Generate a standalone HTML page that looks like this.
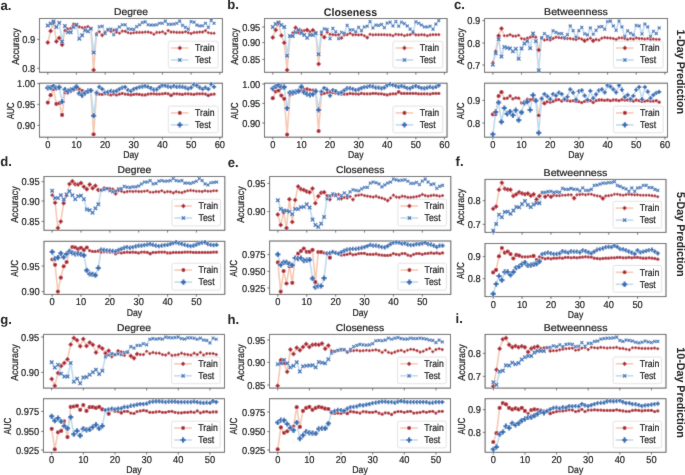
<!DOCTYPE html>
<html><head><meta charset="utf-8"><style>
html,body{margin:0;padding:0;background:#fff;width:685px;height:475px;overflow:hidden}
svg{display:block}
text{font-family:"Liberation Sans",sans-serif;text-rendering:geometricPrecision}
</style></head><body>
<svg width="685" height="475" viewBox="0 0 685 475" font-family="Liberation Sans, sans-serif"><defs><filter id="bl" filterUnits="userSpaceOnUse" x="-6" y="-6" width="697" height="487"><feConvolveMatrix order="3" kernelMatrix="1 6 1 6 36 6 1 6 1" edgeMode="duplicate" preserveAlpha="true"/></filter><filter id="tb" filterUnits="userSpaceOnUse" x="-6" y="-6" width="697" height="487"><feConvolveMatrix order="3" kernelMatrix="0 1 0 1 12 1 0 1 0" edgeMode="none" preserveAlpha="false"/></filter></defs><rect width="100%" height="100%" fill="#fff"/><g filter="url(#bl)"><rect x="-6" y="-6" width="697" height="487" fill="#fff"/><rect x="39.45" y="18.5" width="182.95" height="53.80" fill="none" stroke="#444444" stroke-width="0.95"/>
<line x1="37.150000000000006" y1="39.4" x2="39.45" y2="39.4" stroke="#444444" stroke-width="0.8"/>
<line x1="37.150000000000006" y1="68.3" x2="39.45" y2="68.3" stroke="#444444" stroke-width="0.8"/>
<line x1="47.77" y1="72.3" x2="47.77" y2="74.6" stroke="#444444" stroke-width="0.8"/>
<line x1="76.44" y1="72.3" x2="76.44" y2="74.6" stroke="#444444" stroke-width="0.8"/>
<line x1="105.12" y1="72.3" x2="105.12" y2="74.6" stroke="#444444" stroke-width="0.8"/>
<line x1="133.79" y1="72.3" x2="133.79" y2="74.6" stroke="#444444" stroke-width="0.8"/>
<line x1="162.47" y1="72.3" x2="162.47" y2="74.6" stroke="#444444" stroke-width="0.8"/>
<line x1="191.14" y1="72.3" x2="191.14" y2="74.6" stroke="#444444" stroke-width="0.8"/>
<line x1="219.82" y1="72.3" x2="219.82" y2="74.6" stroke="#444444" stroke-width="0.8"/>
<polyline points="47.8,42.6 50.6,31.0 53.5,22.6 56.4,41.5 59.2,37.9 62.1,44.8 65.0,30.6 67.8,28.8 70.7,28.4 73.6,24.0 76.4,25.1 79.3,26.9 82.2,27.7 85.0,27.4 87.9,26.5 90.8,28.4 93.6,70.0 96.5,33.5 99.4,31.8 102.2,35.3 105.1,32.1 108.0,30.2 110.9,31.3 113.7,30.2 116.6,32.1 119.5,33.2 122.3,31.0 125.2,31.3 128.1,32.8 130.9,33.2 133.8,32.8 136.7,32.5 139.5,32.5 142.4,32.5 145.3,32.1 148.1,32.1 151.0,32.8 153.9,34.2 156.7,32.5 159.6,32.5 162.5,31.8 165.3,33.5 168.2,30.6 171.1,32.1 173.9,32.1 176.8,32.5 179.7,32.5 182.5,32.5 185.4,31.8 188.3,32.8 191.1,33.5 194.0,32.5 196.9,32.5 199.7,32.1 202.6,32.1 205.5,30.6 208.3,32.8 211.2,33.2 214.1,33.2" fill="none" stroke="#f5c8b1" stroke-width="1.6" stroke-linejoin="round"/>
<polyline points="47.8,25.5 50.6,23.6 53.5,21.5 56.4,26.9 59.2,22.9 62.1,41.5 65.0,25.9 67.8,32.4 70.7,32.4 73.6,26.9 76.4,24.8 79.3,38.6 82.2,35.3 85.0,30.2 87.9,31.3 90.8,28.7 93.6,52.5 96.5,34.7 99.4,26.7 102.2,26.2 105.1,33.5 108.0,29.4 110.9,29.1 113.7,34.7 116.6,29.6 119.5,26.9 122.3,24.8 125.2,24.8 128.1,28.8 130.9,29.1 133.8,29.4 136.7,26.5 139.5,24.8 142.4,22.6 145.3,21.8 148.1,24.8 151.0,25.1 153.9,25.1 156.7,24.8 159.6,23.3 162.5,23.3 165.3,21.1 168.2,24.3 171.1,24.3 173.9,24.0 176.8,23.3 179.7,21.1 182.5,25.5 185.4,27.4 188.3,29.1 191.1,21.5 194.0,22.1 196.9,25.1 199.7,25.9 202.6,25.8 205.5,23.3 208.3,27.4 211.2,20.4 214.1,23.3" fill="none" stroke="#c0daed" stroke-width="1.6" stroke-linejoin="round"/>
<g fill="#ad2430" stroke="#fff" stroke-width="0.7" paint-order="stroke">
<path d="M47.8 40.1L50.3 42.6L47.8 45.1L45.3 42.6Z"/>
<path d="M50.6 28.5L53.1 31.0L50.6 33.5L48.1 31.0Z"/>
<path d="M53.5 20.1L56.0 22.6L53.5 25.1L51.0 22.6Z"/>
<path d="M56.4 39.0L58.9 41.5L56.4 44.0L53.9 41.5Z"/>
<path d="M59.2 35.4L61.7 37.9L59.2 40.4L56.7 37.9Z"/>
<path d="M62.1 42.3L64.6 44.8L62.1 47.3L59.6 44.8Z"/>
<path d="M65.0 28.7L66.8 30.6L65.0 32.4L63.1 30.6Z"/>
<path d="M67.8 27.0L69.7 28.8L67.8 30.7L66.0 28.8Z"/>
<path d="M70.7 26.6L72.6 28.4L70.7 30.3L68.9 28.4Z"/>
<path d="M73.6 22.2L75.4 24.0L73.6 25.9L71.7 24.0Z"/>
<path d="M76.4 23.2L78.3 25.1L76.4 26.9L74.6 25.1Z"/>
<path d="M79.3 25.1L81.2 26.9L79.3 28.8L77.5 26.9Z"/>
<path d="M82.2 25.8L84.0 27.7L82.2 29.5L80.3 27.7Z"/>
<path d="M85.0 25.5L86.9 27.4L85.0 29.2L83.2 27.4Z"/>
<path d="M87.9 24.7L89.8 26.5L87.9 28.4L86.1 26.5Z"/>
<path d="M90.8 26.6L92.6 28.4L90.8 30.3L88.9 28.4Z"/>
<path d="M93.6 67.5L96.1 70.0L93.6 72.5L91.1 70.0Z"/>
<path d="M96.5 31.7L98.4 33.5L96.5 35.4L94.7 33.5Z"/>
<path d="M99.4 29.9L101.2 31.8L99.4 33.6L97.5 31.8Z"/>
<path d="M102.2 33.1L104.4 35.3L102.2 37.4L100.1 35.3Z"/>
<path d="M105.1 30.2L107.0 32.1L105.1 33.9L103.3 32.1Z"/>
<path d="M108.0 28.3L109.8 30.2L108.0 32.0L106.1 30.2Z"/>
<path d="M110.9 29.5L112.7 31.3L110.9 33.2L109.0 31.3Z"/>
<path d="M113.7 28.3L115.6 30.2L113.7 32.0L111.9 30.2Z"/>
<path d="M116.6 30.2L118.4 32.1L116.6 33.9L114.7 32.1Z"/>
<path d="M119.5 31.4L121.3 33.2L119.5 35.1L117.6 33.2Z"/>
<path d="M122.3 29.2L124.2 31.0L122.3 32.9L120.5 31.0Z"/>
<path d="M125.2 29.5L127.0 31.3L125.2 33.2L123.3 31.3Z"/>
<path d="M128.1 30.9L129.9 32.8L128.1 34.6L126.2 32.8Z"/>
<path d="M130.9 31.4L132.8 33.2L130.9 35.1L129.1 33.2Z"/>
<path d="M133.8 30.9L135.6 32.8L133.8 34.6L131.9 32.8Z"/>
<path d="M136.7 30.6L138.5 32.5L136.7 34.3L134.8 32.5Z"/>
<path d="M139.5 30.6L141.4 32.5L139.5 34.3L137.7 32.5Z"/>
<path d="M142.4 30.6L144.2 32.5L142.4 34.3L140.5 32.5Z"/>
<path d="M145.3 30.2L147.1 32.1L145.3 33.9L143.4 32.1Z"/>
<path d="M148.1 30.2L150.0 32.1L148.1 33.9L146.3 32.1Z"/>
<path d="M151.0 30.9L152.8 32.8L151.0 34.6L149.1 32.8Z"/>
<path d="M153.9 32.4L155.7 34.2L153.9 36.1L152.0 34.2Z"/>
<path d="M156.7 30.6L158.6 32.5L156.7 34.3L154.9 32.5Z"/>
<path d="M159.6 30.6L161.5 32.5L159.6 34.3L157.8 32.5Z"/>
<path d="M162.5 29.9L164.3 31.8L162.5 33.6L160.6 31.8Z"/>
<path d="M165.3 31.7L167.2 33.5L165.3 35.4L163.5 33.5Z"/>
<path d="M168.2 28.7L170.1 30.6L168.2 32.4L166.4 30.6Z"/>
<path d="M171.1 30.2L172.9 32.1L171.1 33.9L169.2 32.1Z"/>
<path d="M173.9 30.2L175.8 32.1L173.9 33.9L172.1 32.1Z"/>
<path d="M176.8 30.6L178.7 32.5L176.8 34.3L175.0 32.5Z"/>
<path d="M179.7 30.6L181.5 32.5L179.7 34.3L177.8 32.5Z"/>
<path d="M182.5 30.6L184.4 32.5L182.5 34.3L180.7 32.5Z"/>
<path d="M185.4 29.9L187.3 31.8L185.4 33.6L183.6 31.8Z"/>
<path d="M188.3 30.9L190.1 32.8L188.3 34.6L186.4 32.8Z"/>
<path d="M191.1 31.7L193.0 33.5L191.1 35.4L189.3 33.5Z"/>
<path d="M194.0 30.6L195.9 32.5L194.0 34.3L192.2 32.5Z"/>
<path d="M196.9 30.6L198.7 32.5L196.9 34.3L195.0 32.5Z"/>
<path d="M199.7 30.2L201.6 32.1L199.7 33.9L197.9 32.1Z"/>
<path d="M202.6 30.2L204.5 32.1L202.6 33.9L200.8 32.1Z"/>
<path d="M205.5 28.7L207.3 30.6L205.5 32.4L203.6 30.6Z"/>
<path d="M208.3 30.9L210.2 32.8L208.3 34.6L206.5 32.8Z"/>
<path d="M211.2 31.4L213.1 33.2L211.2 35.1L209.4 33.2Z"/>
<path d="M214.1 31.4L215.9 33.2L214.1 35.1L212.2 33.2Z"/>
</g>
<g fill="#336db4" stroke="#fff" stroke-width="0.7" paint-order="stroke">
<path d="M46.5 23.2L47.8 24.5L49.1 23.2L50.0 24.2L48.7 25.5L50.0 26.8L49.1 27.7L47.8 26.4L46.5 27.7L45.5 26.8L46.8 25.5L45.5 24.2Z"/>
<path d="M49.3 21.3L50.6 22.6L51.9 21.3L52.9 22.3L51.6 23.6L52.9 24.9L51.9 25.8L50.6 24.5L49.3 25.8L48.4 24.9L49.7 23.6L48.4 22.3Z"/>
<path d="M52.2 19.3L53.5 20.6L54.8 19.3L55.8 20.2L54.4 21.5L55.8 22.9L54.8 23.8L53.5 22.5L52.2 23.8L51.3 22.9L52.6 21.5L51.3 20.2Z"/>
<path d="M55.1 24.7L56.4 26.0L57.7 24.7L58.6 25.6L57.3 26.9L58.6 28.3L57.7 29.2L56.4 27.9L55.1 29.2L54.1 28.3L55.4 26.9L54.1 25.6Z"/>
<path d="M57.9 20.6L59.2 21.9L60.5 20.6L61.5 21.6L60.2 22.9L61.5 24.2L60.5 25.1L59.2 23.8L57.9 25.1L57.0 24.2L58.3 22.9L57.0 21.6Z"/>
<path d="M60.8 39.3L62.1 40.6L63.4 39.3L64.4 40.2L63.0 41.5L64.4 42.9L63.4 43.8L62.1 42.5L60.8 43.8L59.9 42.9L61.2 41.5L59.9 40.2Z"/>
<path d="M63.7 23.7L65.0 25.0L66.3 23.7L67.2 24.6L65.9 25.9L67.2 27.2L66.3 28.2L65.0 26.9L63.7 28.2L62.7 27.2L64.0 25.9L62.7 24.6Z"/>
<path d="M66.5 30.1L67.8 31.4L69.1 30.1L70.1 31.0L68.8 32.4L70.1 33.7L69.1 34.6L67.8 33.3L66.5 34.6L65.6 33.7L66.9 32.4L65.6 31.0Z"/>
<path d="M69.4 30.1L70.7 31.4L72.0 30.1L73.0 31.0L71.7 32.4L73.0 33.7L72.0 34.6L70.7 33.3L69.4 34.6L68.5 33.7L69.8 32.4L68.5 31.0Z"/>
<path d="M72.3 24.7L73.6 26.0L74.9 24.7L75.8 25.6L74.5 26.9L75.8 28.3L74.9 29.2L73.6 27.9L72.3 29.2L71.3 28.3L72.6 26.9L71.3 25.6Z"/>
<path d="M75.1 22.5L76.4 23.8L77.7 22.5L78.7 23.5L77.4 24.8L78.7 26.1L77.7 27.0L76.4 25.7L75.1 27.0L74.2 26.1L75.5 24.8L74.2 23.5Z"/>
<path d="M78.0 36.4L79.3 37.7L80.6 36.4L81.6 37.3L80.3 38.6L81.6 39.9L80.6 40.9L79.3 39.6L78.0 40.9L77.1 39.9L78.4 38.6L77.1 37.3Z"/>
<path d="M80.9 33.0L82.2 34.3L83.5 33.0L84.4 34.0L83.1 35.3L84.4 36.6L83.5 37.5L82.2 36.2L80.9 37.5L79.9 36.6L81.2 35.3L79.9 34.0Z"/>
<path d="M83.7 27.9L85.0 29.2L86.3 27.9L87.3 28.9L86.0 30.2L87.3 31.5L86.3 32.4L85.0 31.1L83.7 32.4L82.8 31.5L84.1 30.2L82.8 28.9Z"/>
<path d="M86.6 29.1L87.9 30.4L89.2 29.1L90.2 30.0L88.9 31.3L90.2 32.6L89.2 33.6L87.9 32.3L86.6 33.6L85.7 32.6L87.0 31.3L85.7 30.0Z"/>
<path d="M89.5 26.5L90.8 27.8L92.1 26.5L93.0 27.4L91.7 28.7L93.0 30.0L92.1 31.0L90.8 29.6L89.5 31.0L88.5 30.0L89.8 28.7L88.5 27.4Z"/>
<path d="M92.3 50.2L93.6 51.6L95.0 50.2L95.9 51.2L94.6 52.5L95.9 53.8L95.0 54.7L93.6 53.4L92.3 54.7L91.4 53.8L92.7 52.5L91.4 51.2Z"/>
<path d="M95.4 32.8L96.5 33.9L97.6 32.8L98.4 33.6L97.3 34.7L98.4 35.8L97.6 36.5L96.5 35.5L95.4 36.5L94.7 35.8L95.7 34.7L94.7 33.6Z"/>
<path d="M98.3 24.8L99.4 25.9L100.5 24.8L101.2 25.6L100.2 26.7L101.2 27.7L100.5 28.5L99.4 27.4L98.3 28.5L97.5 27.7L98.6 26.7L97.5 25.6Z"/>
<path d="M101.2 24.4L102.2 25.4L103.3 24.4L104.1 25.1L103.0 26.2L104.1 27.3L103.3 28.1L102.2 27.0L101.2 28.1L100.4 27.3L101.5 26.2L100.4 25.1Z"/>
<path d="M104.0 31.7L105.1 32.7L106.2 31.7L107.0 32.4L105.9 33.5L107.0 34.6L106.2 35.4L105.1 34.3L104.0 35.4L103.3 34.6L104.3 33.5L103.3 32.4Z"/>
<path d="M106.9 27.6L108.0 28.7L109.1 27.6L109.8 28.4L108.8 29.4L109.8 30.5L109.1 31.3L108.0 30.2L106.9 31.3L106.1 30.5L107.2 29.4L106.1 28.4Z"/>
<path d="M109.8 27.3L110.9 28.4L111.9 27.3L112.7 28.1L111.6 29.1L112.7 30.2L111.9 31.0L110.9 29.9L109.8 31.0L109.0 30.2L110.1 29.1L109.0 28.1Z"/>
<path d="M112.6 32.8L113.7 33.9L114.8 32.8L115.6 33.6L114.5 34.7L115.6 35.8L114.8 36.5L113.7 35.5L112.6 36.5L111.9 35.8L112.9 34.7L111.9 33.6Z"/>
<path d="M115.5 27.7L116.6 28.8L117.7 27.7L118.4 28.5L117.4 29.6L118.4 30.6L117.7 31.4L116.6 30.4L115.5 31.4L114.7 30.6L115.8 29.6L114.7 28.5Z"/>
<path d="M118.4 25.1L119.5 26.2L120.5 25.1L121.3 25.9L120.2 26.9L121.3 28.0L120.5 28.8L119.5 27.7L118.4 28.8L117.6 28.0L118.7 26.9L117.6 25.9Z"/>
<path d="M121.2 22.9L122.3 24.0L123.4 22.9L124.2 23.7L123.1 24.8L124.2 25.8L123.4 26.6L122.3 25.5L121.2 26.6L120.5 25.8L121.5 24.8L120.5 23.7Z"/>
<path d="M124.1 22.9L125.2 24.0L126.3 22.9L127.0 23.7L126.0 24.8L127.0 25.8L126.3 26.6L125.2 25.5L124.1 26.6L123.3 25.8L124.4 24.8L123.3 23.7Z"/>
<path d="M127.0 27.0L128.1 28.1L129.1 27.0L129.9 27.8L128.8 28.8L129.9 29.9L129.1 30.7L128.1 29.6L127.0 30.7L126.2 29.9L127.3 28.8L126.2 27.8Z"/>
<path d="M129.9 27.3L130.9 28.4L132.0 27.3L132.8 28.1L131.7 29.1L132.8 30.2L132.0 31.0L130.9 29.9L129.9 31.0L129.1 30.2L130.1 29.1L129.1 28.1Z"/>
<path d="M132.7 27.6L133.8 28.7L134.9 27.6L135.6 28.4L134.6 29.4L135.6 30.5L134.9 31.3L133.8 30.2L132.7 31.3L131.9 30.5L133.0 29.4L131.9 28.4Z"/>
<path d="M135.6 24.7L136.7 25.7L137.7 24.7L138.5 25.4L137.4 26.5L138.5 27.6L137.7 28.4L136.7 27.3L135.6 28.4L134.8 27.6L135.9 26.5L134.8 25.4Z"/>
<path d="M138.5 22.9L139.5 24.0L140.6 22.9L141.4 23.7L140.3 24.8L141.4 25.8L140.6 26.6L139.5 25.5L138.5 26.6L137.7 25.8L138.8 24.8L137.7 23.7Z"/>
<path d="M141.3 20.7L142.4 21.8L143.5 20.7L144.2 21.5L143.2 22.6L144.2 23.6L143.5 24.4L142.4 23.3L141.3 24.4L140.5 23.6L141.6 22.6L140.5 21.5Z"/>
<path d="M144.2 20.0L145.3 21.1L146.3 20.0L147.1 20.8L146.0 21.8L147.1 22.9L146.3 23.7L145.3 22.6L144.2 23.7L143.4 22.9L144.5 21.8L143.4 20.8Z"/>
<path d="M147.1 22.9L148.1 24.0L149.2 22.9L150.0 23.7L148.9 24.8L150.0 25.8L149.2 26.6L148.1 25.5L147.1 26.6L146.3 25.8L147.4 24.8L146.3 23.7Z"/>
<path d="M149.9 23.2L151.0 24.3L152.1 23.2L152.8 24.0L151.8 25.1L152.8 26.1L152.1 26.9L151.0 25.8L149.9 26.9L149.1 26.1L150.2 25.1L149.1 24.0Z"/>
<path d="M152.8 23.2L153.9 24.3L154.9 23.2L155.7 24.0L154.6 25.1L155.7 26.1L154.9 26.9L153.9 25.8L152.8 26.9L152.0 26.1L153.1 25.1L152.0 24.0Z"/>
<path d="M155.7 22.9L156.7 24.0L157.8 22.9L158.6 23.7L157.5 24.8L158.6 25.8L157.8 26.6L156.7 25.5L155.7 26.6L154.9 25.8L156.0 24.8L154.9 23.7Z"/>
<path d="M158.5 21.4L159.6 22.5L160.7 21.4L161.5 22.2L160.4 23.3L161.5 24.4L160.7 25.1L159.6 24.1L158.5 25.1L157.8 24.4L158.8 23.3L157.8 22.2Z"/>
<path d="M161.4 21.4L162.5 22.5L163.5 21.4L164.3 22.2L163.2 23.3L164.3 24.4L163.5 25.1L162.5 24.1L161.4 25.1L160.6 24.4L161.7 23.3L160.6 22.2Z"/>
<path d="M164.3 19.3L165.3 20.3L166.4 19.3L167.2 20.0L166.1 21.1L167.2 22.2L166.4 23.0L165.3 21.9L164.3 23.0L163.5 22.2L164.6 21.1L163.5 20.0Z"/>
<path d="M167.1 22.5L168.2 23.5L169.3 22.5L170.1 23.2L169.0 24.3L170.1 25.4L169.3 26.2L168.2 25.1L167.1 26.2L166.4 25.4L167.4 24.3L166.4 23.2Z"/>
<path d="M170.0 22.5L171.1 23.5L172.1 22.5L172.9 23.2L171.8 24.3L172.9 25.4L172.1 26.2L171.1 25.1L170.0 26.2L169.2 25.4L170.3 24.3L169.2 23.2Z"/>
<path d="M172.9 22.2L173.9 23.3L175.0 22.2L175.8 23.0L174.7 24.0L175.8 25.1L175.0 25.9L173.9 24.8L172.9 25.9L172.1 25.1L173.2 24.0L172.1 23.0Z"/>
<path d="M175.7 21.4L176.8 22.5L177.9 21.4L178.7 22.2L177.6 23.3L178.7 24.4L177.9 25.1L176.8 24.1L175.7 25.1L175.0 24.4L176.0 23.3L175.0 22.2Z"/>
<path d="M178.6 19.3L179.7 20.3L180.7 19.3L181.5 20.0L180.5 21.1L181.5 22.2L180.7 23.0L179.7 21.9L178.6 23.0L177.8 22.2L178.9 21.1L177.8 20.0Z"/>
<path d="M181.5 23.6L182.5 24.7L183.6 23.6L184.4 24.4L183.3 25.5L184.4 26.6L183.6 27.3L182.5 26.3L181.5 27.3L180.7 26.6L181.8 25.5L180.7 24.4Z"/>
<path d="M184.3 25.5L185.4 26.6L186.5 25.5L187.3 26.3L186.2 27.4L187.3 28.5L186.5 29.2L185.4 28.2L184.3 29.2L183.6 28.5L184.6 27.4L183.6 26.3Z"/>
<path d="M187.2 27.3L188.3 28.4L189.3 27.3L190.1 28.1L189.1 29.1L190.1 30.2L189.3 31.0L188.3 29.9L187.2 31.0L186.4 30.2L187.5 29.1L186.4 28.1Z"/>
<path d="M190.1 19.7L191.1 20.8L192.2 19.7L193.0 20.5L191.9 21.5L193.0 22.6L192.2 23.4L191.1 22.3L190.1 23.4L189.3 22.6L190.4 21.5L189.3 20.5Z"/>
<path d="M192.9 20.3L194.0 21.4L195.1 20.3L195.9 21.1L194.8 22.1L195.9 23.2L195.1 24.0L194.0 22.9L192.9 24.0L192.2 23.2L193.2 22.1L192.2 21.1Z"/>
<path d="M195.8 23.2L196.9 24.3L198.0 23.2L198.7 24.0L197.7 25.1L198.7 26.1L198.0 26.9L196.9 25.8L195.8 26.9L195.0 26.1L196.1 25.1L195.0 24.0Z"/>
<path d="M198.7 24.1L199.7 25.2L200.8 24.1L201.6 24.9L200.5 25.9L201.6 27.0L200.8 27.8L199.7 26.7L198.7 27.8L197.9 27.0L199.0 25.9L197.9 24.9Z"/>
<path d="M201.5 23.9L202.6 25.0L203.7 23.9L204.5 24.7L203.4 25.8L204.5 26.9L203.7 27.6L202.6 26.6L201.5 27.6L200.8 26.9L201.8 25.8L200.8 24.7Z"/>
<path d="M204.4 21.4L205.5 22.5L206.6 21.4L207.3 22.2L206.3 23.3L207.3 24.4L206.6 25.1L205.5 24.1L204.4 25.1L203.6 24.4L204.7 23.3L203.6 22.2Z"/>
<path d="M207.3 25.5L208.3 26.6L209.4 25.5L210.2 26.3L209.1 27.4L210.2 28.5L209.4 29.2L208.3 28.2L207.3 29.2L206.5 28.5L207.6 27.4L206.5 26.3Z"/>
<path d="M210.1 18.5L211.2 19.6L212.3 18.5L213.1 19.3L212.0 20.4L213.1 21.5L212.3 22.2L211.2 21.2L210.1 22.2L209.4 21.5L210.4 20.4L209.4 19.3Z"/>
<path d="M213.0 21.4L214.1 22.5L215.2 21.4L215.9 22.2L214.9 23.3L215.9 24.4L215.2 25.1L214.1 24.1L213.0 25.1L212.2 24.4L213.3 23.3L212.2 22.2Z"/>
</g>
<rect x="168.3" y="41.19999999999999" width="49.80" height="26.70" rx="1.8" fill="#fff" fill-opacity="0.8" stroke="#dadada" stroke-width="0.8"/>
<line x1="170.9" y1="48.00" x2="188.5" y2="48.00" stroke="#f5c8b1" stroke-width="1.6"/>
<path d="M179.8 45.6L182.2 48.0L179.8 50.4L177.4 48.0Z" fill="#ad2430" stroke="#fff" stroke-width="0.7" paint-order="stroke"/>
<line x1="170.9" y1="60.00" x2="188.5" y2="60.00" stroke="#c0daed" stroke-width="1.6"/>
<path d="M178.6 57.9L179.8 59.1L181.0 57.9L181.9 58.8L180.7 60.0L181.9 61.2L181.0 62.1L179.8 60.9L178.6 62.1L177.7 61.2L178.9 60.0L177.7 58.8Z" fill="#336db4" stroke="#fff" stroke-width="0.7" paint-order="stroke"/>
<rect x="39.45" y="83.2" width="182.95" height="54.00" fill="none" stroke="#444444" stroke-width="0.95"/>
<line x1="37.150000000000006" y1="83.6" x2="39.45" y2="83.6" stroke="#444444" stroke-width="0.8"/>
<line x1="37.150000000000006" y1="104.4" x2="39.45" y2="104.4" stroke="#444444" stroke-width="0.8"/>
<line x1="37.150000000000006" y1="125.4" x2="39.45" y2="125.4" stroke="#444444" stroke-width="0.8"/>
<line x1="47.77" y1="137.2" x2="47.77" y2="139.5" stroke="#444444" stroke-width="0.8"/>
<line x1="76.44" y1="137.2" x2="76.44" y2="139.5" stroke="#444444" stroke-width="0.8"/>
<line x1="105.12" y1="137.2" x2="105.12" y2="139.5" stroke="#444444" stroke-width="0.8"/>
<line x1="133.79" y1="137.2" x2="133.79" y2="139.5" stroke="#444444" stroke-width="0.8"/>
<line x1="162.47" y1="137.2" x2="162.47" y2="139.5" stroke="#444444" stroke-width="0.8"/>
<line x1="191.14" y1="137.2" x2="191.14" y2="139.5" stroke="#444444" stroke-width="0.8"/>
<line x1="219.82" y1="137.2" x2="219.82" y2="139.5" stroke="#444444" stroke-width="0.8"/>
<polyline points="47.8,102.6 50.6,95.2 53.5,89.0 56.4,103.9 59.2,103.2 62.1,114.9 65.0,92.7 67.8,93.1 70.7,91.7 73.6,90.1 76.4,89.0 79.3,89.0 82.2,90.5 85.0,92.4 87.9,91.2 90.8,90.5 93.6,134.3 96.5,94.1 99.4,94.1 102.2,94.4 105.1,93.8 108.0,94.1 110.9,94.9 113.7,94.1 116.6,94.9 119.5,94.1 122.3,93.4 125.2,94.1 128.1,94.4 130.9,94.9 133.8,94.4 136.7,94.1 139.5,94.4 142.4,94.9 145.3,94.9 148.1,94.1 151.0,93.8 153.9,93.8 156.7,94.1 159.6,94.1 162.5,93.8 165.3,93.4 168.2,93.8 171.1,95.3 173.9,93.8 176.8,93.8 179.7,94.1 182.5,94.4 185.4,93.8 188.3,93.8 191.1,94.1 194.0,94.4 196.9,93.8 199.7,93.8 202.6,93.8 205.5,94.1 208.3,95.3 211.2,94.4 214.1,94.1" fill="none" stroke="#f5c8b1" stroke-width="1.6" stroke-linejoin="round"/>
<polyline points="47.8,87.9 50.6,87.6 53.5,86.1 56.4,88.0 59.2,87.3 62.1,101.7 65.0,89.5 67.8,91.2 70.7,89.8 73.6,89.0 76.4,86.8 79.3,93.4 82.2,95.3 85.0,93.0 87.9,91.2 90.8,90.5 93.6,115.7 96.5,92.7 99.4,86.8 102.2,89.0 105.1,92.7 108.0,91.9 110.9,90.9 113.7,91.5 116.6,90.9 119.5,89.0 122.3,87.6 125.2,87.1 128.1,90.1 130.9,91.2 133.8,89.0 136.7,88.0 139.5,87.1 142.4,86.5 145.3,86.1 148.1,86.8 151.0,88.3 153.9,89.8 156.7,89.5 159.6,87.1 162.5,85.4 165.3,85.7 168.2,86.5 171.1,87.1 173.9,86.1 176.8,86.8 179.7,86.5 182.5,86.8 185.4,87.6 188.3,88.6 191.1,87.6 194.0,84.6 196.9,85.7 199.7,87.6 202.6,89.0 205.5,87.6 208.3,89.0 211.2,84.2 214.1,86.8" fill="none" stroke="#c0daed" stroke-width="1.6" stroke-linejoin="round"/>
<g fill="#ad2430" stroke="#fff" stroke-width="0.7" paint-order="stroke">
<circle cx="47.8" cy="102.6" r="2.10"/>
<circle cx="50.6" cy="95.2" r="2.10"/>
<circle cx="53.5" cy="89.0" r="2.10"/>
<circle cx="56.4" cy="103.9" r="2.10"/>
<circle cx="59.2" cy="103.2" r="1.85"/>
<circle cx="62.1" cy="114.9" r="2.10"/>
<circle cx="65.0" cy="92.7" r="1.65"/>
<circle cx="67.8" cy="93.1" r="1.65"/>
<circle cx="70.7" cy="91.7" r="1.65"/>
<circle cx="73.6" cy="90.1" r="1.65"/>
<circle cx="76.4" cy="89.0" r="1.65"/>
<circle cx="79.3" cy="89.0" r="1.65"/>
<circle cx="82.2" cy="90.5" r="1.65"/>
<circle cx="85.0" cy="92.4" r="1.65"/>
<circle cx="87.9" cy="91.2" r="1.65"/>
<circle cx="90.8" cy="90.5" r="1.65"/>
<circle cx="93.6" cy="134.3" r="2.10"/>
<circle cx="96.5" cy="94.1" r="1.65"/>
<circle cx="99.4" cy="94.1" r="1.65"/>
<circle cx="102.2" cy="94.4" r="1.65"/>
<circle cx="105.1" cy="93.8" r="1.65"/>
<circle cx="108.0" cy="94.1" r="1.65"/>
<circle cx="110.9" cy="94.9" r="1.65"/>
<circle cx="113.7" cy="94.1" r="1.65"/>
<circle cx="116.6" cy="94.9" r="1.65"/>
<circle cx="119.5" cy="94.1" r="1.65"/>
<circle cx="122.3" cy="93.4" r="1.65"/>
<circle cx="125.2" cy="94.1" r="1.65"/>
<circle cx="128.1" cy="94.4" r="1.65"/>
<circle cx="130.9" cy="94.9" r="1.65"/>
<circle cx="133.8" cy="94.4" r="1.65"/>
<circle cx="136.7" cy="94.1" r="1.65"/>
<circle cx="139.5" cy="94.4" r="1.65"/>
<circle cx="142.4" cy="94.9" r="1.65"/>
<circle cx="145.3" cy="94.9" r="1.65"/>
<circle cx="148.1" cy="94.1" r="1.65"/>
<circle cx="151.0" cy="93.8" r="1.65"/>
<circle cx="153.9" cy="93.8" r="1.65"/>
<circle cx="156.7" cy="94.1" r="1.65"/>
<circle cx="159.6" cy="94.1" r="1.65"/>
<circle cx="162.5" cy="93.8" r="1.65"/>
<circle cx="165.3" cy="93.4" r="1.65"/>
<circle cx="168.2" cy="93.8" r="1.65"/>
<circle cx="171.1" cy="95.3" r="1.85"/>
<circle cx="173.9" cy="93.8" r="1.65"/>
<circle cx="176.8" cy="93.8" r="1.65"/>
<circle cx="179.7" cy="94.1" r="1.65"/>
<circle cx="182.5" cy="94.4" r="1.65"/>
<circle cx="185.4" cy="93.8" r="1.65"/>
<circle cx="188.3" cy="93.8" r="1.65"/>
<circle cx="191.1" cy="94.1" r="1.65"/>
<circle cx="194.0" cy="94.4" r="1.65"/>
<circle cx="196.9" cy="93.8" r="1.65"/>
<circle cx="199.7" cy="93.8" r="1.65"/>
<circle cx="202.6" cy="93.8" r="1.65"/>
<circle cx="205.5" cy="94.1" r="1.65"/>
<circle cx="208.3" cy="95.3" r="1.85"/>
<circle cx="211.2" cy="94.4" r="1.65"/>
<circle cx="214.1" cy="94.1" r="1.65"/>
</g>
<g fill="#336db4" stroke="#fff" stroke-width="0.7" paint-order="stroke">
<path d="M46.7 85.3L48.8 85.3L48.8 86.8L50.4 86.8L50.4 88.9L48.8 88.9L48.8 90.5L46.7 90.5L46.7 88.9L45.2 88.9L45.2 86.8L46.7 86.8Z"/>
<path d="M49.6 85.0L51.7 85.0L51.7 86.5L53.2 86.5L53.2 88.6L51.7 88.6L51.7 90.2L49.6 90.2L49.6 88.6L48.0 88.6L48.0 86.5L49.6 86.5Z"/>
<path d="M52.5 83.5L54.5 83.5L54.5 85.1L56.1 85.1L56.1 87.1L54.5 87.1L54.5 88.7L52.5 88.7L52.5 87.1L50.9 87.1L50.9 85.1L52.5 85.1Z"/>
<path d="M55.3 85.4L57.4 85.4L57.4 87.0L59.0 87.0L59.0 89.0L57.4 89.0L57.4 90.6L55.3 90.6L55.3 89.0L53.8 89.0L53.8 87.0L55.3 87.0Z"/>
<path d="M58.2 84.7L60.3 84.7L60.3 86.2L61.8 86.2L61.8 88.3L60.3 88.3L60.3 89.9L58.2 89.9L58.2 88.3L56.6 88.3L56.6 86.2L58.2 86.2Z"/>
<path d="M61.1 99.1L63.1 99.1L63.1 100.7L64.7 100.7L64.7 102.8L63.1 102.8L63.1 104.3L61.1 104.3L61.1 102.8L59.5 102.8L59.5 100.7L61.1 100.7Z"/>
<path d="M63.9 86.9L66.0 86.9L66.0 88.4L67.6 88.4L67.6 90.5L66.0 90.5L66.0 92.1L63.9 92.1L63.9 90.5L62.4 90.5L62.4 88.4L63.9 88.4Z"/>
<path d="M66.8 88.6L68.9 88.6L68.9 90.2L70.4 90.2L70.4 92.3L68.9 92.3L68.9 93.8L66.8 93.8L66.8 92.3L65.2 92.3L65.2 90.2L66.8 90.2Z"/>
<path d="M69.7 87.2L71.7 87.2L71.7 88.7L73.3 88.7L73.3 90.8L71.7 90.8L71.7 92.4L69.7 92.4L69.7 90.8L68.1 90.8L68.1 88.7L69.7 88.7Z"/>
<path d="M72.5 86.4L74.6 86.4L74.6 88.0L76.2 88.0L76.2 90.1L74.6 90.1L74.6 91.6L72.5 91.6L72.5 90.1L71.0 90.1L71.0 88.0L72.5 88.0Z"/>
<path d="M75.4 84.2L77.5 84.2L77.5 85.8L79.0 85.8L79.0 87.9L77.5 87.9L77.5 89.4L75.4 89.4L75.4 87.9L73.8 87.9L73.8 85.8L75.4 85.8Z"/>
<path d="M78.3 90.8L80.3 90.8L80.3 92.4L81.9 92.4L81.9 94.4L80.3 94.4L80.3 96.0L78.3 96.0L78.3 94.4L76.7 94.4L76.7 92.4L78.3 92.4Z"/>
<path d="M81.1 92.7L83.2 92.7L83.2 94.3L84.8 94.3L84.8 96.3L83.2 96.3L83.2 97.9L81.1 97.9L81.1 96.3L79.6 96.3L79.6 94.3L81.1 94.3Z"/>
<path d="M84.0 90.4L86.1 90.4L86.1 91.9L87.6 91.9L87.6 94.0L86.1 94.0L86.1 95.6L84.0 95.6L84.0 94.0L82.4 94.0L82.4 91.9L84.0 91.9Z"/>
<path d="M86.9 88.6L89.0 88.6L89.0 90.2L90.5 90.2L90.5 92.3L89.0 92.3L89.0 93.8L86.9 93.8L86.9 92.3L85.3 92.3L85.3 90.2L86.9 90.2Z"/>
<path d="M89.7 87.9L91.8 87.9L91.8 89.4L93.4 89.4L93.4 91.5L91.8 91.5L91.8 93.1L89.7 93.1L89.7 91.5L88.2 91.5L88.2 89.4L89.7 89.4Z"/>
<path d="M92.6 113.1L94.7 113.1L94.7 114.7L96.2 114.7L96.2 116.8L94.7 116.8L94.7 118.3L92.6 118.3L92.6 116.8L91.0 116.8L91.0 114.7L92.6 114.7Z"/>
<path d="M95.7 90.5L97.4 90.5L97.4 91.8L98.7 91.8L98.7 93.5L97.4 93.5L97.4 94.8L95.7 94.8L95.7 93.5L94.4 93.5L94.4 91.8L95.7 91.8Z"/>
<path d="M98.5 84.7L100.2 84.7L100.2 86.0L101.5 86.0L101.5 87.7L100.2 87.7L100.2 89.0L98.5 89.0L98.5 87.7L97.2 87.7L97.2 86.0L98.5 86.0Z"/>
<path d="M101.4 86.9L103.1 86.9L103.1 88.2L104.4 88.2L104.4 89.9L103.1 89.9L103.1 91.2L101.4 91.2L101.4 89.9L100.1 89.9L100.1 88.2L101.4 88.2Z"/>
<path d="M104.3 90.5L106.0 90.5L106.0 91.8L107.3 91.8L107.3 93.5L106.0 93.5L106.0 94.8L104.3 94.8L104.3 93.5L103.0 93.5L103.0 91.8L104.3 91.8Z"/>
<path d="M107.1 89.8L108.8 89.8L108.8 91.1L110.1 91.1L110.1 92.8L108.8 92.8L108.8 94.1L107.1 94.1L107.1 92.8L105.8 92.8L105.8 91.1L107.1 91.1Z"/>
<path d="M110.0 88.8L111.7 88.8L111.7 90.1L113.0 90.1L113.0 91.8L111.7 91.8L111.7 93.1L110.0 93.1L110.0 91.8L108.7 91.8L108.7 90.1L110.0 90.1Z"/>
<path d="M112.9 89.4L114.6 89.4L114.6 90.7L115.9 90.7L115.9 92.4L114.6 92.4L114.6 93.7L112.9 93.7L112.9 92.4L111.6 92.4L111.6 90.7L112.9 90.7Z"/>
<path d="M115.7 88.8L117.4 88.8L117.4 90.1L118.7 90.1L118.7 91.8L117.4 91.8L117.4 93.1L115.7 93.1L115.7 91.8L114.4 91.8L114.4 90.1L115.7 90.1Z"/>
<path d="M118.6 86.9L120.3 86.9L120.3 88.2L121.6 88.2L121.6 89.9L120.3 89.9L120.3 91.2L118.6 91.2L118.6 89.9L117.3 89.9L117.3 88.2L118.6 88.2Z"/>
<path d="M121.5 85.4L123.2 85.4L123.2 86.7L124.5 86.7L124.5 88.4L123.2 88.4L123.2 89.7L121.5 89.7L121.5 88.4L120.2 88.4L120.2 86.7L121.5 86.7Z"/>
<path d="M124.3 85.0L126.0 85.0L126.0 86.3L127.3 86.3L127.3 88.0L126.0 88.0L126.0 89.3L124.3 89.3L124.3 88.0L123.0 88.0L123.0 86.3L124.3 86.3Z"/>
<path d="M127.2 87.9L128.9 87.9L128.9 89.2L130.2 89.2L130.2 90.9L128.9 90.9L128.9 92.2L127.2 92.2L127.2 90.9L125.9 90.9L125.9 89.2L127.2 89.2Z"/>
<path d="M130.1 89.1L131.8 89.1L131.8 90.4L133.1 90.4L133.1 92.1L131.8 92.1L131.8 93.4L130.1 93.4L130.1 92.1L128.8 92.1L128.8 90.4L130.1 90.4Z"/>
<path d="M132.9 86.9L134.7 86.9L134.7 88.2L135.9 88.2L135.9 89.9L134.7 89.9L134.7 91.2L132.9 91.2L132.9 89.9L131.6 89.9L131.6 88.2L132.9 88.2Z"/>
<path d="M135.8 85.9L137.5 85.9L137.5 87.1L138.8 87.1L138.8 88.9L137.5 88.9L137.5 90.2L135.8 90.2L135.8 88.9L134.5 88.9L134.5 87.1L135.8 87.1Z"/>
<path d="M138.7 85.0L140.4 85.0L140.4 86.3L141.7 86.3L141.7 88.0L140.4 88.0L140.4 89.3L138.7 89.3L138.7 88.0L137.4 88.0L137.4 86.3L138.7 86.3Z"/>
<path d="M141.5 84.4L143.3 84.4L143.3 85.7L144.5 85.7L144.5 87.4L143.3 87.4L143.3 88.7L141.5 88.7L141.5 87.4L140.2 87.4L140.2 85.7L141.5 85.7Z"/>
<path d="M144.4 84.0L146.1 84.0L146.1 85.2L147.4 85.2L147.4 87.0L146.1 87.0L146.1 88.3L144.4 88.3L144.4 87.0L143.1 87.0L143.1 85.2L144.4 85.2Z"/>
<path d="M147.3 84.7L149.0 84.7L149.0 86.0L150.3 86.0L150.3 87.7L149.0 87.7L149.0 89.0L147.3 89.0L147.3 87.7L146.0 87.7L146.0 86.0L147.3 86.0Z"/>
<path d="M150.1 86.1L151.9 86.1L151.9 87.4L153.1 87.4L153.1 89.2L151.9 89.2L151.9 90.4L150.1 90.4L150.1 89.2L148.8 89.2L148.8 87.4L150.1 87.4Z"/>
<path d="M153.0 87.6L154.7 87.6L154.7 88.9L156.0 88.9L156.0 90.6L154.7 90.6L154.7 91.9L153.0 91.9L153.0 90.6L151.7 90.6L151.7 88.9L153.0 88.9Z"/>
<path d="M155.9 87.3L157.6 87.3L157.6 88.6L158.9 88.6L158.9 90.3L157.6 90.3L157.6 91.6L155.9 91.6L155.9 90.3L154.6 90.3L154.6 88.6L155.9 88.6Z"/>
<path d="M158.7 85.0L160.5 85.0L160.5 86.3L161.8 86.3L161.8 88.0L160.5 88.0L160.5 89.3L158.7 89.3L158.7 88.0L157.5 88.0L157.5 86.3L158.7 86.3Z"/>
<path d="M161.6 83.2L163.3 83.2L163.3 84.5L164.6 84.5L164.6 86.2L163.3 86.2L163.3 87.5L161.6 87.5L161.6 86.2L160.3 86.2L160.3 84.5L161.6 84.5Z"/>
<path d="M164.5 83.5L166.2 83.5L166.2 84.8L167.5 84.8L167.5 86.5L166.2 86.5L166.2 87.8L164.5 87.8L164.5 86.5L163.2 86.5L163.2 84.8L164.5 84.8Z"/>
<path d="M167.3 84.4L169.1 84.4L169.1 85.7L170.4 85.7L170.4 87.4L169.1 87.4L169.1 88.7L167.3 88.7L167.3 87.4L166.1 87.4L166.1 85.7L167.3 85.7Z"/>
<path d="M170.2 85.0L171.9 85.0L171.9 86.3L173.2 86.3L173.2 88.0L171.9 88.0L171.9 89.3L170.2 89.3L170.2 88.0L168.9 88.0L168.9 86.3L170.2 86.3Z"/>
<path d="M173.1 84.0L174.8 84.0L174.8 85.2L176.1 85.2L176.1 87.0L174.8 87.0L174.8 88.3L173.1 88.3L173.1 87.0L171.8 87.0L171.8 85.2L173.1 85.2Z"/>
<path d="M175.9 84.7L177.7 84.7L177.7 86.0L179.0 86.0L179.0 87.7L177.7 87.7L177.7 89.0L175.9 89.0L175.9 87.7L174.7 87.7L174.7 86.0L175.9 86.0Z"/>
<path d="M178.8 84.4L180.5 84.4L180.5 85.7L181.8 85.7L181.8 87.4L180.5 87.4L180.5 88.7L178.8 88.7L178.8 87.4L177.5 87.4L177.5 85.7L178.8 85.7Z"/>
<path d="M181.7 84.7L183.4 84.7L183.4 86.0L184.7 86.0L184.7 87.7L183.4 87.7L183.4 89.0L181.7 89.0L181.7 87.7L180.4 87.7L180.4 86.0L181.7 86.0Z"/>
<path d="M184.5 85.4L186.3 85.4L186.3 86.7L187.6 86.7L187.6 88.4L186.3 88.4L186.3 89.7L184.5 89.7L184.5 88.4L183.3 88.4L183.3 86.7L184.5 86.7Z"/>
<path d="M187.4 86.4L189.1 86.4L189.1 87.7L190.4 87.7L190.4 89.5L189.1 89.5L189.1 90.7L187.4 90.7L187.4 89.5L186.1 89.5L186.1 87.7L187.4 87.7Z"/>
<path d="M190.3 85.4L192.0 85.4L192.0 86.7L193.3 86.7L193.3 88.4L192.0 88.4L192.0 89.7L190.3 89.7L190.3 88.4L189.0 88.4L189.0 86.7L190.3 86.7Z"/>
<path d="M193.2 82.5L194.9 82.5L194.9 83.8L196.2 83.8L196.2 85.5L194.9 85.5L194.9 86.8L193.2 86.8L193.2 85.5L191.9 85.5L191.9 83.8L193.2 83.8Z"/>
<path d="M196.0 83.5L197.7 83.5L197.7 84.8L199.0 84.8L199.0 86.5L197.7 86.5L197.7 87.8L196.0 87.8L196.0 86.5L194.7 86.5L194.7 84.8L196.0 84.8Z"/>
<path d="M198.9 85.4L200.6 85.4L200.6 86.7L201.9 86.7L201.9 88.4L200.6 88.4L200.6 89.7L198.9 89.7L198.9 88.4L197.6 88.4L197.6 86.7L198.9 86.7Z"/>
<path d="M201.8 86.9L203.5 86.9L203.5 88.2L204.8 88.2L204.8 89.9L203.5 89.9L203.5 91.2L201.8 91.2L201.8 89.9L200.5 89.9L200.5 88.2L201.8 88.2Z"/>
<path d="M204.6 85.4L206.3 85.4L206.3 86.7L207.6 86.7L207.6 88.4L206.3 88.4L206.3 89.7L204.6 89.7L204.6 88.4L203.3 88.4L203.3 86.7L204.6 86.7Z"/>
<path d="M207.5 86.9L209.2 86.9L209.2 88.2L210.5 88.2L210.5 89.9L209.2 89.9L209.2 91.2L207.5 91.2L207.5 89.9L206.2 89.9L206.2 88.2L207.5 88.2Z"/>
<path d="M210.4 82.1L212.1 82.1L212.1 83.4L213.4 83.4L213.4 85.1L212.1 85.1L212.1 86.4L210.4 86.4L210.4 85.1L209.1 85.1L209.1 83.4L210.4 83.4Z"/>
<path d="M213.2 84.7L214.9 84.7L214.9 86.0L216.2 86.0L216.2 87.7L214.9 87.7L214.9 89.0L213.2 89.0L213.2 87.7L211.9 87.7L211.9 86.0L213.2 86.0Z"/>
</g>
<rect x="168.3" y="106.09999999999998" width="49.80" height="26.70" rx="1.8" fill="#fff" fill-opacity="0.8" stroke="#dadada" stroke-width="0.8"/>
<line x1="170.9" y1="112.90" x2="188.5" y2="112.90" stroke="#f5c8b1" stroke-width="1.6"/>
<circle cx="179.80" cy="112.90" r="2.05" fill="#ad2430" stroke="#fff" stroke-width="0.7" paint-order="stroke"/>
<line x1="170.9" y1="124.90" x2="188.5" y2="124.90" stroke="#c0daed" stroke-width="1.6"/>
<path d="M178.7 122.2L180.9 122.2L180.9 123.8L182.5 123.8L182.5 126.0L180.9 126.0L180.9 127.6L178.7 127.6L178.7 126.0L177.1 126.0L177.1 123.8L178.7 123.8Z" fill="#336db4" stroke="#fff" stroke-width="0.7" paint-order="stroke"/>
<rect x="264.5" y="18.5" width="182.55" height="53.80" fill="none" stroke="#444444" stroke-width="0.95"/>
<line x1="262.2" y1="27.0" x2="264.5" y2="27.0" stroke="#444444" stroke-width="0.8"/>
<line x1="262.2" y1="42.6" x2="264.5" y2="42.6" stroke="#444444" stroke-width="0.8"/>
<line x1="262.2" y1="59.4" x2="264.5" y2="59.4" stroke="#444444" stroke-width="0.8"/>
<line x1="272.80" y1="72.3" x2="272.80" y2="74.6" stroke="#444444" stroke-width="0.8"/>
<line x1="301.41" y1="72.3" x2="301.41" y2="74.6" stroke="#444444" stroke-width="0.8"/>
<line x1="330.02" y1="72.3" x2="330.02" y2="74.6" stroke="#444444" stroke-width="0.8"/>
<line x1="358.64" y1="72.3" x2="358.64" y2="74.6" stroke="#444444" stroke-width="0.8"/>
<line x1="387.25" y1="72.3" x2="387.25" y2="74.6" stroke="#444444" stroke-width="0.8"/>
<line x1="415.86" y1="72.3" x2="415.86" y2="74.6" stroke="#444444" stroke-width="0.8"/>
<line x1="444.47" y1="72.3" x2="444.47" y2="74.6" stroke="#444444" stroke-width="0.8"/>
<polyline points="272.8,37.5 275.7,29.9 278.5,23.3 281.4,35.4 284.2,42.7 287.1,70.0 290.0,36.4 292.8,32.8 295.7,27.7 298.5,32.8 301.4,30.6 304.3,30.6 307.1,29.9 310.0,31.8 312.9,30.3 315.7,32.8 318.6,63.9 321.4,34.7 324.3,37.2 327.2,32.1 330.0,34.2 332.9,34.7 335.7,35.0 338.6,34.7 341.5,37.9 344.3,35.0 347.2,34.7 350.1,33.2 352.9,35.0 355.8,34.7 358.6,35.0 361.5,34.7 364.4,35.7 367.2,37.6 370.1,34.2 372.9,35.0 375.8,34.7 378.7,34.7 381.5,34.7 384.4,34.7 387.2,35.0 390.1,35.0 393.0,35.7 395.8,34.2 398.7,34.7 401.6,34.7 404.4,35.7 407.3,35.0 410.1,34.7 413.0,33.2 415.9,35.0 418.7,35.0 421.6,34.7 424.4,35.0 427.3,35.7 430.2,35.0 433.0,34.7 435.9,34.7 438.8,34.7" fill="none" stroke="#f5c8b1" stroke-width="1.6" stroke-linejoin="round"/>
<polyline points="272.8,26.9 275.7,24.0 278.5,22.6 281.4,25.1 284.2,26.9 287.1,55.7 290.0,36.0 292.8,36.0 295.7,32.4 298.5,29.9 301.4,33.2 304.3,35.0 307.1,37.9 310.0,35.0 312.9,35.0 315.7,33.2 318.6,54.2 321.4,32.1 324.3,28.8 327.2,29.4 330.0,38.6 332.9,28.4 335.7,31.8 338.6,38.6 341.5,32.4 344.3,33.2 347.2,25.5 350.1,29.9 352.9,29.9 355.8,31.8 358.6,27.4 361.5,30.6 364.4,26.9 367.2,26.2 370.1,21.5 372.9,28.0 375.8,25.1 378.7,25.5 381.5,24.5 384.4,27.7 387.2,23.0 390.1,22.1 393.0,25.9 395.8,21.5 398.7,26.2 401.6,22.1 404.4,23.6 407.3,25.9 410.1,29.1 413.0,31.8 415.9,21.8 418.7,23.3 421.6,25.1 424.4,26.9 427.3,26.9 430.2,26.2 433.0,29.1 435.9,24.0 438.8,20.7" fill="none" stroke="#c0daed" stroke-width="1.6" stroke-linejoin="round"/>
<g fill="#ad2430" stroke="#fff" stroke-width="0.7" paint-order="stroke">
<path d="M272.8 35.0L275.3 37.5L272.8 40.0L270.3 37.5Z"/>
<path d="M275.7 27.4L278.2 29.9L275.7 32.4L273.2 29.9Z"/>
<path d="M278.5 20.8L281.0 23.3L278.5 25.8L276.0 23.3Z"/>
<path d="M281.4 32.9L283.9 35.4L281.4 37.9L278.9 35.4Z"/>
<path d="M284.2 40.2L286.7 42.7L284.2 45.2L281.7 42.7Z"/>
<path d="M287.1 67.5L289.6 70.0L287.1 72.5L284.6 70.0Z"/>
<path d="M290.0 34.6L291.8 36.4L290.0 38.3L288.1 36.4Z"/>
<path d="M292.8 30.9L294.7 32.8L292.8 34.6L291.0 32.8Z"/>
<path d="M295.7 25.2L298.2 27.7L295.7 30.2L293.2 27.7Z"/>
<path d="M298.5 30.9L300.4 32.8L298.5 34.6L296.7 32.8Z"/>
<path d="M301.4 28.7L303.3 30.6L301.4 32.4L299.6 30.6Z"/>
<path d="M304.3 28.7L306.1 30.6L304.3 32.4L302.4 30.6Z"/>
<path d="M307.1 27.4L309.6 29.9L307.1 32.4L304.6 29.9Z"/>
<path d="M310.0 29.9L311.8 31.8L310.0 33.6L308.1 31.8Z"/>
<path d="M312.9 27.8L315.4 30.3L312.9 32.8L310.4 30.3Z"/>
<path d="M315.7 30.9L317.6 32.8L315.7 34.6L313.9 32.8Z"/>
<path d="M318.6 61.4L321.1 63.9L318.6 66.4L316.1 63.9Z"/>
<path d="M321.4 32.8L323.3 34.7L321.4 36.5L319.6 34.7Z"/>
<path d="M324.3 34.7L326.8 37.2L324.3 39.7L321.8 37.2Z"/>
<path d="M327.2 30.2L329.0 32.1L327.2 33.9L325.3 32.1Z"/>
<path d="M330.0 32.4L331.9 34.2L330.0 36.1L328.2 34.2Z"/>
<path d="M332.9 32.8L334.7 34.7L332.9 36.5L331.0 34.7Z"/>
<path d="M335.7 33.1L337.6 35.0L335.7 36.8L333.9 35.0Z"/>
<path d="M338.6 32.8L340.5 34.7L338.6 36.5L336.8 34.7Z"/>
<path d="M341.5 35.7L343.6 37.9L341.5 40.0L339.3 37.9Z"/>
<path d="M344.3 33.1L346.2 35.0L344.3 36.8L342.5 35.0Z"/>
<path d="M347.2 32.8L349.0 34.7L347.2 36.5L345.3 34.7Z"/>
<path d="M350.1 31.4L351.9 33.2L350.1 35.1L348.2 33.2Z"/>
<path d="M352.9 33.1L354.8 35.0L352.9 36.8L351.1 35.0Z"/>
<path d="M355.8 32.8L357.6 34.7L355.8 36.5L353.9 34.7Z"/>
<path d="M358.6 33.1L360.5 35.0L358.6 36.8L356.8 35.0Z"/>
<path d="M361.5 32.8L363.3 34.7L361.5 36.5L359.6 34.7Z"/>
<path d="M364.4 33.9L366.2 35.7L364.4 37.6L362.5 35.7Z"/>
<path d="M367.2 35.5L369.4 37.6L367.2 39.8L365.1 37.6Z"/>
<path d="M370.1 32.4L371.9 34.2L370.1 36.1L368.2 34.2Z"/>
<path d="M372.9 33.1L374.8 35.0L372.9 36.8L371.1 35.0Z"/>
<path d="M375.8 32.8L377.7 34.7L375.8 36.5L374.0 34.7Z"/>
<path d="M378.7 32.8L380.5 34.7L378.7 36.5L376.8 34.7Z"/>
<path d="M381.5 32.8L383.4 34.7L381.5 36.5L379.7 34.7Z"/>
<path d="M384.4 32.8L386.2 34.7L384.4 36.5L382.5 34.7Z"/>
<path d="M387.2 33.1L389.1 35.0L387.2 36.8L385.4 35.0Z"/>
<path d="M390.1 33.1L392.0 35.0L390.1 36.8L388.3 35.0Z"/>
<path d="M393.0 33.9L394.8 35.7L393.0 37.6L391.1 35.7Z"/>
<path d="M395.8 32.4L397.7 34.2L395.8 36.1L394.0 34.2Z"/>
<path d="M398.7 32.8L400.5 34.7L398.7 36.5L396.8 34.7Z"/>
<path d="M401.6 32.8L403.4 34.7L401.6 36.5L399.7 34.7Z"/>
<path d="M404.4 33.9L406.3 35.7L404.4 37.6L402.6 35.7Z"/>
<path d="M407.3 33.1L409.1 35.0L407.3 36.8L405.4 35.0Z"/>
<path d="M410.1 32.8L412.0 34.7L410.1 36.5L408.3 34.7Z"/>
<path d="M413.0 31.4L414.9 33.2L413.0 35.1L411.2 33.2Z"/>
<path d="M415.9 33.1L417.7 35.0L415.9 36.8L414.0 35.0Z"/>
<path d="M418.7 33.1L420.6 35.0L418.7 36.8L416.9 35.0Z"/>
<path d="M421.6 32.8L423.4 34.7L421.6 36.5L419.7 34.7Z"/>
<path d="M424.4 33.1L426.3 35.0L424.4 36.8L422.6 35.0Z"/>
<path d="M427.3 33.9L429.2 35.7L427.3 37.6L425.5 35.7Z"/>
<path d="M430.2 33.1L432.0 35.0L430.2 36.8L428.3 35.0Z"/>
<path d="M433.0 32.8L434.9 34.7L433.0 36.5L431.2 34.7Z"/>
<path d="M435.9 32.8L437.7 34.7L435.9 36.5L434.0 34.7Z"/>
<path d="M438.8 32.8L440.6 34.7L438.8 36.5L436.9 34.7Z"/>
</g>
<g fill="#336db4" stroke="#fff" stroke-width="0.7" paint-order="stroke">
<path d="M271.5 24.7L272.8 26.0L274.1 24.7L275.0 25.6L273.7 26.9L275.0 28.3L274.1 29.2L272.8 27.9L271.5 29.2L270.5 28.3L271.9 26.9L270.5 25.6Z"/>
<path d="M274.4 21.8L275.7 23.1L277.0 21.8L277.9 22.7L276.6 24.0L277.9 25.3L277.0 26.3L275.7 25.0L274.4 26.3L273.4 25.3L274.7 24.0L273.4 22.7Z"/>
<path d="M277.2 20.3L278.5 21.6L279.8 20.3L280.8 21.3L279.5 22.6L280.8 23.9L279.8 24.8L278.5 23.5L277.2 24.8L276.3 23.9L277.6 22.6L276.3 21.3Z"/>
<path d="M280.1 22.8L281.4 24.1L282.7 22.8L283.6 23.7L282.3 25.1L283.6 26.4L282.7 27.3L281.4 26.0L280.1 27.3L279.1 26.4L280.4 25.1L279.1 23.7Z"/>
<path d="M282.9 24.7L284.2 26.0L285.5 24.7L286.5 25.6L285.2 26.9L286.5 28.3L285.5 29.2L284.2 27.9L282.9 29.2L282.0 28.3L283.3 26.9L282.0 25.6Z"/>
<path d="M285.8 53.5L287.1 54.8L288.4 53.5L289.4 54.4L288.0 55.7L289.4 57.0L288.4 58.0L287.1 56.7L285.8 58.0L284.9 57.0L286.2 55.7L284.9 54.4Z"/>
<path d="M288.7 33.8L290.0 35.1L291.3 33.8L292.2 34.7L290.9 36.0L292.2 37.3L291.3 38.2L290.0 36.9L288.7 38.2L287.7 37.3L289.0 36.0L287.7 34.7Z"/>
<path d="M291.5 33.8L292.8 35.1L294.1 33.8L295.1 34.7L293.8 36.0L295.1 37.3L294.1 38.2L292.8 36.9L291.5 38.2L290.6 37.3L291.9 36.0L290.6 34.7Z"/>
<path d="M294.4 30.1L295.7 31.4L297.0 30.1L297.9 31.0L296.6 32.4L297.9 33.7L297.0 34.6L295.7 33.3L294.4 34.6L293.4 33.7L294.7 32.4L293.4 31.0Z"/>
<path d="M297.2 27.6L298.5 28.9L299.9 27.6L300.8 28.6L299.5 29.9L300.8 31.2L299.9 32.1L298.5 30.8L297.2 32.1L296.3 31.2L297.6 29.9L296.3 28.6Z"/>
<path d="M300.1 31.0L301.4 32.3L302.7 31.0L303.7 31.9L302.4 33.2L303.7 34.5L302.7 35.5L301.4 34.2L300.1 35.5L299.2 34.5L300.5 33.2L299.2 31.9Z"/>
<path d="M303.0 32.7L304.3 34.0L305.6 32.7L306.5 33.7L305.2 35.0L306.5 36.3L305.6 37.2L304.3 35.9L303.0 37.2L302.0 36.3L303.3 35.0L302.0 33.7Z"/>
<path d="M305.8 35.6L307.1 37.0L308.4 35.6L309.4 36.6L308.1 37.9L309.4 39.2L308.4 40.1L307.1 38.8L305.8 40.1L304.9 39.2L306.2 37.9L304.9 36.6Z"/>
<path d="M308.7 32.7L310.0 34.0L311.3 32.7L312.2 33.7L310.9 35.0L312.2 36.3L311.3 37.2L310.0 35.9L308.7 37.2L307.7 36.3L309.0 35.0L307.7 33.7Z"/>
<path d="M311.6 32.7L312.9 34.0L314.2 32.7L315.1 33.7L313.8 35.0L315.1 36.3L314.2 37.2L312.9 35.9L311.6 37.2L310.6 36.3L311.9 35.0L310.6 33.7Z"/>
<path d="M314.4 31.0L315.7 32.3L317.0 31.0L318.0 31.9L316.7 33.2L318.0 34.5L317.0 35.5L315.7 34.2L314.4 35.5L313.5 34.5L314.8 33.2L313.5 31.9Z"/>
<path d="M317.3 52.0L318.6 53.3L319.9 52.0L320.8 52.9L319.5 54.2L320.8 55.6L319.9 56.5L318.6 55.2L317.3 56.5L316.3 55.6L317.6 54.2L316.3 52.9Z"/>
<path d="M320.4 30.2L321.4 31.3L322.5 30.2L323.3 31.0L322.2 32.1L323.3 33.1L322.5 33.9L321.4 32.8L320.4 33.9L319.6 33.1L320.7 32.1L319.6 31.0Z"/>
<path d="M323.2 27.0L324.3 28.1L325.4 27.0L326.2 27.8L325.1 28.8L326.2 29.9L325.4 30.7L324.3 29.6L323.2 30.7L322.5 29.9L323.5 28.8L322.5 27.8Z"/>
<path d="M326.1 27.6L327.2 28.7L328.2 27.6L329.0 28.4L327.9 29.4L329.0 30.5L328.2 31.3L327.2 30.2L326.1 31.3L325.3 30.5L326.4 29.4L325.3 28.4Z"/>
<path d="M329.0 36.8L330.0 37.9L331.1 36.8L331.9 37.6L330.8 38.6L331.9 39.7L331.1 40.5L330.0 39.4L329.0 40.5L328.2 39.7L329.2 38.6L328.2 37.6Z"/>
<path d="M331.8 26.6L332.9 27.6L334.0 26.6L334.7 27.3L333.7 28.4L334.7 29.5L334.0 30.3L332.9 29.2L331.8 30.3L331.0 29.5L332.1 28.4L331.0 27.3Z"/>
<path d="M334.7 29.9L335.7 31.0L336.8 29.9L337.6 30.7L336.5 31.8L337.6 32.8L336.8 33.6L335.7 32.5L334.7 33.6L333.9 32.8L335.0 31.8L333.9 30.7Z"/>
<path d="M337.5 36.8L338.6 37.9L339.7 36.8L340.5 37.6L339.4 38.6L340.5 39.7L339.7 40.5L338.6 39.4L337.5 40.5L336.8 39.7L337.8 38.6L336.8 37.6Z"/>
<path d="M340.4 30.5L341.5 31.6L342.5 30.5L343.3 31.3L342.2 32.4L343.3 33.4L342.5 34.2L341.5 33.1L340.4 34.2L339.6 33.4L340.7 32.4L339.6 31.3Z"/>
<path d="M343.3 31.4L344.3 32.4L345.4 31.4L346.2 32.2L345.1 33.2L346.2 34.3L345.4 35.1L344.3 34.0L343.3 35.1L342.5 34.3L343.6 33.2L342.5 32.2Z"/>
<path d="M346.1 23.6L347.2 24.7L348.3 23.6L349.0 24.4L348.0 25.5L349.0 26.6L348.3 27.3L347.2 26.3L346.1 27.3L345.3 26.6L346.4 25.5L345.3 24.4Z"/>
<path d="M349.0 28.0L350.1 29.1L351.1 28.0L351.9 28.8L350.8 29.9L351.9 30.9L351.1 31.7L350.1 30.6L349.0 31.7L348.2 30.9L349.3 29.9L348.2 28.8Z"/>
<path d="M351.8 28.0L352.9 29.1L354.0 28.0L354.8 28.8L353.7 29.9L354.8 30.9L354.0 31.7L352.9 30.6L351.8 31.7L351.1 30.9L352.1 29.9L351.1 28.8Z"/>
<path d="M354.7 29.9L355.8 31.0L356.8 29.9L357.6 30.7L356.6 31.8L357.6 32.8L356.8 33.6L355.8 32.5L354.7 33.6L353.9 32.8L355.0 31.8L353.9 30.7Z"/>
<path d="M357.6 25.5L358.6 26.6L359.7 25.5L360.5 26.3L359.4 27.4L360.5 28.5L359.7 29.2L358.6 28.2L357.6 29.2L356.8 28.5L357.9 27.4L356.8 26.3Z"/>
<path d="M360.4 28.7L361.5 29.8L362.6 28.7L363.3 29.5L362.3 30.6L363.3 31.7L362.6 32.4L361.5 31.4L360.4 32.4L359.6 31.7L360.7 30.6L359.6 29.5Z"/>
<path d="M363.3 25.1L364.4 26.2L365.4 25.1L366.2 25.9L365.1 26.9L366.2 28.0L365.4 28.8L364.4 27.7L363.3 28.8L362.5 28.0L363.6 26.9L362.5 25.9Z"/>
<path d="M366.1 24.4L367.2 25.4L368.3 24.4L369.1 25.1L368.0 26.2L369.1 27.3L368.3 28.1L367.2 27.0L366.1 28.1L365.4 27.3L366.4 26.2L365.4 25.1Z"/>
<path d="M369.0 19.7L370.1 20.8L371.2 19.7L371.9 20.5L370.9 21.5L371.9 22.6L371.2 23.4L370.1 22.3L369.0 23.4L368.2 22.6L369.3 21.5L368.2 20.5Z"/>
<path d="M371.9 26.1L372.9 27.2L374.0 26.1L374.8 26.9L373.7 28.0L374.8 29.0L374.0 29.8L372.9 28.7L371.9 29.8L371.1 29.0L372.2 28.0L371.1 26.9Z"/>
<path d="M374.7 23.2L375.8 24.3L376.9 23.2L377.7 24.0L376.6 25.1L377.7 26.1L376.9 26.9L375.8 25.8L374.7 26.9L374.0 26.1L375.0 25.1L374.0 24.0Z"/>
<path d="M377.6 23.6L378.7 24.7L379.7 23.6L380.5 24.4L379.4 25.5L380.5 26.6L379.7 27.3L378.7 26.3L377.6 27.3L376.8 26.6L377.9 25.5L376.8 24.4Z"/>
<path d="M380.5 22.6L381.5 23.7L382.6 22.6L383.4 23.4L382.3 24.5L383.4 25.5L382.6 26.3L381.5 25.2L380.5 26.3L379.7 25.5L380.7 24.5L379.7 23.4Z"/>
<path d="M383.3 25.8L384.4 26.9L385.5 25.8L386.2 26.6L385.2 27.7L386.2 28.8L385.5 29.5L384.4 28.5L383.3 29.5L382.5 28.8L383.6 27.7L382.5 26.6Z"/>
<path d="M386.2 21.2L387.2 22.2L388.3 21.2L389.1 21.9L388.0 23.0L389.1 24.1L388.3 24.9L387.2 23.8L386.2 24.9L385.4 24.1L386.5 23.0L385.4 21.9Z"/>
<path d="M389.0 20.3L390.1 21.4L391.2 20.3L392.0 21.1L390.9 22.1L392.0 23.2L391.2 24.0L390.1 22.9L389.0 24.0L388.3 23.2L389.3 22.1L388.3 21.1Z"/>
<path d="M391.9 24.1L393.0 25.2L394.0 24.1L394.8 24.9L393.7 25.9L394.8 27.0L394.0 27.8L393.0 26.7L391.9 27.8L391.1 27.0L392.2 25.9L391.1 24.9Z"/>
<path d="M394.8 19.7L395.8 20.8L396.9 19.7L397.7 20.5L396.6 21.5L397.7 22.6L396.9 23.4L395.8 22.3L394.8 23.4L394.0 22.6L395.1 21.5L394.0 20.5Z"/>
<path d="M397.6 24.4L398.7 25.4L399.8 24.4L400.5 25.1L399.5 26.2L400.5 27.3L399.8 28.1L398.7 27.0L397.6 28.1L396.8 27.3L397.9 26.2L396.8 25.1Z"/>
<path d="M400.5 20.3L401.6 21.4L402.6 20.3L403.4 21.1L402.3 22.1L403.4 23.2L402.6 24.0L401.6 22.9L400.5 24.0L399.7 23.2L400.8 22.1L399.7 21.1Z"/>
<path d="M403.3 21.7L404.4 22.8L405.5 21.7L406.3 22.5L405.2 23.6L406.3 24.7L405.5 25.4L404.4 24.4L403.3 25.4L402.6 24.7L403.6 23.6L402.6 22.5Z"/>
<path d="M406.2 24.1L407.3 25.2L408.4 24.1L409.1 24.9L408.1 25.9L409.1 27.0L408.4 27.8L407.3 26.7L406.2 27.8L405.4 27.0L406.5 25.9L405.4 24.9Z"/>
<path d="M409.1 27.3L410.1 28.4L411.2 27.3L412.0 28.1L410.9 29.1L412.0 30.2L411.2 31.0L410.1 29.9L409.1 31.0L408.3 30.2L409.4 29.1L408.3 28.1Z"/>
<path d="M411.9 29.9L413.0 31.0L414.1 29.9L414.9 30.7L413.8 31.8L414.9 32.8L414.1 33.6L413.0 32.5L411.9 33.6L411.2 32.8L412.2 31.8L411.2 30.7Z"/>
<path d="M414.8 20.0L415.9 21.1L416.9 20.0L417.7 20.8L416.6 21.8L417.7 22.9L416.9 23.7L415.9 22.6L414.8 23.7L414.0 22.9L415.1 21.8L414.0 20.8Z"/>
<path d="M417.7 21.4L418.7 22.5L419.8 21.4L420.6 22.2L419.5 23.3L420.6 24.4L419.8 25.1L418.7 24.1L417.7 25.1L416.9 24.4L417.9 23.3L416.9 22.2Z"/>
<path d="M420.5 23.2L421.6 24.3L422.7 23.2L423.4 24.0L422.4 25.1L423.4 26.1L422.7 26.9L421.6 25.8L420.5 26.9L419.7 26.1L420.8 25.1L419.7 24.0Z"/>
<path d="M423.4 25.1L424.4 26.2L425.5 25.1L426.3 25.9L425.2 26.9L426.3 28.0L425.5 28.8L424.4 27.7L423.4 28.8L422.6 28.0L423.7 26.9L422.6 25.9Z"/>
<path d="M426.2 25.1L427.3 26.2L428.4 25.1L429.2 25.9L428.1 26.9L429.2 28.0L428.4 28.8L427.3 27.7L426.2 28.8L425.5 28.0L426.5 26.9L425.5 25.9Z"/>
<path d="M429.1 24.4L430.2 25.4L431.2 24.4L432.0 25.1L430.9 26.2L432.0 27.3L431.2 28.1L430.2 27.0L429.1 28.1L428.3 27.3L429.4 26.2L428.3 25.1Z"/>
<path d="M432.0 27.3L433.0 28.4L434.1 27.3L434.9 28.1L433.8 29.1L434.9 30.2L434.1 31.0L433.0 29.9L432.0 31.0L431.2 30.2L432.3 29.1L431.2 28.1Z"/>
<path d="M434.8 22.2L435.9 23.3L437.0 22.2L437.7 23.0L436.7 24.0L437.7 25.1L437.0 25.9L435.9 24.8L434.8 25.9L434.0 25.1L435.1 24.0L434.0 23.0Z"/>
<path d="M437.7 18.8L438.8 19.9L439.8 18.8L440.6 19.6L439.5 20.7L440.6 21.7L439.8 22.5L438.8 21.4L437.7 22.5L436.9 21.7L438.0 20.7L436.9 19.6Z"/>
</g>
<rect x="392.95" y="41.19999999999999" width="49.80" height="26.70" rx="1.8" fill="#fff" fill-opacity="0.8" stroke="#dadada" stroke-width="0.8"/>
<line x1="395.55" y1="48.00" x2="413.15" y2="48.00" stroke="#f5c8b1" stroke-width="1.6"/>
<path d="M404.4 45.6L406.8 48.0L404.4 50.4L402.1 48.0Z" fill="#ad2430" stroke="#fff" stroke-width="0.7" paint-order="stroke"/>
<line x1="395.55" y1="60.00" x2="413.15" y2="60.00" stroke="#c0daed" stroke-width="1.6"/>
<path d="M403.2 57.9L404.4 59.1L405.7 57.9L406.6 58.8L405.3 60.0L406.6 61.2L405.7 62.1L404.4 60.9L403.2 62.1L402.3 61.2L403.6 60.0L402.3 58.8Z" fill="#336db4" stroke="#fff" stroke-width="0.7" paint-order="stroke"/>
<rect x="264.5" y="83.2" width="182.55" height="54.00" fill="none" stroke="#444444" stroke-width="0.95"/>
<line x1="262.2" y1="84.0" x2="264.5" y2="84.0" stroke="#444444" stroke-width="0.8"/>
<line x1="262.2" y1="103.4" x2="264.5" y2="103.4" stroke="#444444" stroke-width="0.8"/>
<line x1="262.2" y1="123.0" x2="264.5" y2="123.0" stroke="#444444" stroke-width="0.8"/>
<line x1="272.80" y1="137.2" x2="272.80" y2="139.5" stroke="#444444" stroke-width="0.8"/>
<line x1="301.41" y1="137.2" x2="301.41" y2="139.5" stroke="#444444" stroke-width="0.8"/>
<line x1="330.02" y1="137.2" x2="330.02" y2="139.5" stroke="#444444" stroke-width="0.8"/>
<line x1="358.64" y1="137.2" x2="358.64" y2="139.5" stroke="#444444" stroke-width="0.8"/>
<line x1="387.25" y1="137.2" x2="387.25" y2="139.5" stroke="#444444" stroke-width="0.8"/>
<line x1="415.86" y1="137.2" x2="415.86" y2="139.5" stroke="#444444" stroke-width="0.8"/>
<line x1="444.47" y1="137.2" x2="444.47" y2="139.5" stroke="#444444" stroke-width="0.8"/>
<polyline points="272.8,98.2 275.7,91.5 278.5,90.5 281.4,95.6 284.2,98.8 287.1,134.6 290.0,94.9 292.8,94.1 295.7,92.4 298.5,91.2 301.4,90.5 304.3,89.5 307.1,89.0 310.0,89.8 312.9,90.1 315.7,91.9 318.6,131.1 321.4,94.1 324.3,93.4 327.2,92.7 330.0,91.9 332.9,92.7 335.7,93.0 338.6,93.4 341.5,94.1 344.3,94.1 347.2,94.1 350.1,93.4 352.9,93.8 355.8,93.8 358.6,94.1 361.5,93.4 364.4,93.8 367.2,93.8 370.1,93.8 372.9,93.4 375.8,93.4 378.7,93.8 381.5,93.8 384.4,94.4 387.2,94.9 390.1,94.1 393.0,93.8 395.8,93.8 398.7,91.9 401.6,93.4 404.4,93.4 407.3,93.4 410.1,93.4 413.0,93.4 415.9,93.4 418.7,93.8 421.6,93.8 424.4,93.8 427.3,93.8 430.2,94.1 433.0,93.4 435.9,93.4 438.8,93.4" fill="none" stroke="#f5c8b1" stroke-width="1.6" stroke-linejoin="round"/>
<polyline points="272.8,88.6 275.7,86.5 278.5,85.4 281.4,87.1 284.2,87.1 287.1,108.3 290.0,92.7 292.8,92.4 295.7,91.9 298.5,91.2 301.4,86.8 304.3,92.4 307.1,94.1 310.0,94.9 312.9,94.1 315.7,91.2 318.6,109.9 321.4,91.5 324.3,88.0 327.2,89.8 330.0,95.6 332.9,90.1 335.7,91.2 338.6,93.4 341.5,92.4 344.3,90.5 347.2,88.3 350.1,88.3 352.9,89.0 355.8,90.1 358.6,89.5 361.5,88.0 364.4,87.1 367.2,86.8 370.1,86.1 372.9,86.5 375.8,87.6 378.7,87.6 381.5,88.3 384.4,87.6 387.2,85.4 390.1,84.2 393.0,85.1 395.8,86.1 398.7,86.8 401.6,86.1 404.4,86.8 407.3,88.0 410.1,88.3 413.0,86.8 415.9,86.1 418.7,87.1 421.6,88.0 424.4,88.3 427.3,87.6 430.2,86.8 433.0,87.6 435.9,86.8 438.8,85.4" fill="none" stroke="#c0daed" stroke-width="1.6" stroke-linejoin="round"/>
<g fill="#ad2430" stroke="#fff" stroke-width="0.7" paint-order="stroke">
<circle cx="272.8" cy="98.2" r="2.10"/>
<circle cx="275.7" cy="91.5" r="2.10"/>
<circle cx="278.5" cy="90.5" r="2.10"/>
<circle cx="281.4" cy="95.6" r="2.10"/>
<circle cx="284.2" cy="98.8" r="2.10"/>
<circle cx="287.1" cy="134.6" r="2.10"/>
<circle cx="290.0" cy="94.9" r="1.65"/>
<circle cx="292.8" cy="94.1" r="1.65"/>
<circle cx="295.7" cy="92.4" r="1.65"/>
<circle cx="298.5" cy="91.2" r="1.65"/>
<circle cx="301.4" cy="90.5" r="1.65"/>
<circle cx="304.3" cy="89.5" r="1.65"/>
<circle cx="307.1" cy="89.0" r="1.85"/>
<circle cx="310.0" cy="89.8" r="1.65"/>
<circle cx="312.9" cy="90.1" r="1.65"/>
<circle cx="315.7" cy="91.9" r="1.65"/>
<circle cx="318.6" cy="131.1" r="2.10"/>
<circle cx="321.4" cy="94.1" r="1.65"/>
<circle cx="324.3" cy="93.4" r="1.65"/>
<circle cx="327.2" cy="92.7" r="1.65"/>
<circle cx="330.0" cy="91.9" r="1.65"/>
<circle cx="332.9" cy="92.7" r="1.65"/>
<circle cx="335.7" cy="93.0" r="1.65"/>
<circle cx="338.6" cy="93.4" r="1.65"/>
<circle cx="341.5" cy="94.1" r="1.65"/>
<circle cx="344.3" cy="94.1" r="1.65"/>
<circle cx="347.2" cy="94.1" r="1.65"/>
<circle cx="350.1" cy="93.4" r="1.65"/>
<circle cx="352.9" cy="93.8" r="1.65"/>
<circle cx="355.8" cy="93.8" r="1.65"/>
<circle cx="358.6" cy="94.1" r="1.65"/>
<circle cx="361.5" cy="93.4" r="1.65"/>
<circle cx="364.4" cy="93.8" r="1.65"/>
<circle cx="367.2" cy="93.8" r="1.65"/>
<circle cx="370.1" cy="93.8" r="1.65"/>
<circle cx="372.9" cy="93.4" r="1.65"/>
<circle cx="375.8" cy="93.4" r="1.65"/>
<circle cx="378.7" cy="93.8" r="1.65"/>
<circle cx="381.5" cy="93.8" r="1.65"/>
<circle cx="384.4" cy="94.4" r="1.65"/>
<circle cx="387.2" cy="94.9" r="1.65"/>
<circle cx="390.1" cy="94.1" r="1.65"/>
<circle cx="393.0" cy="93.8" r="1.65"/>
<circle cx="395.8" cy="93.8" r="1.65"/>
<circle cx="398.7" cy="91.9" r="1.85"/>
<circle cx="401.6" cy="93.4" r="1.65"/>
<circle cx="404.4" cy="93.4" r="1.65"/>
<circle cx="407.3" cy="93.4" r="1.65"/>
<circle cx="410.1" cy="93.4" r="1.65"/>
<circle cx="413.0" cy="93.4" r="1.65"/>
<circle cx="415.9" cy="93.4" r="1.65"/>
<circle cx="418.7" cy="93.8" r="1.65"/>
<circle cx="421.6" cy="93.8" r="1.65"/>
<circle cx="424.4" cy="93.8" r="1.65"/>
<circle cx="427.3" cy="93.8" r="1.65"/>
<circle cx="430.2" cy="94.1" r="1.65"/>
<circle cx="433.0" cy="93.4" r="1.65"/>
<circle cx="435.9" cy="93.4" r="1.65"/>
<circle cx="438.8" cy="93.4" r="1.65"/>
</g>
<g fill="#336db4" stroke="#fff" stroke-width="0.7" paint-order="stroke">
<path d="M271.8 86.0L273.8 86.0L273.8 87.6L275.4 87.6L275.4 89.6L273.8 89.6L273.8 91.2L271.8 91.2L271.8 89.6L270.2 89.6L270.2 87.6L271.8 87.6Z"/>
<path d="M274.6 83.9L276.7 83.9L276.7 85.5L278.3 85.5L278.3 87.6L276.7 87.6L276.7 89.1L274.6 89.1L274.6 87.6L273.1 87.6L273.1 85.5L274.6 85.5Z"/>
<path d="M277.5 82.8L279.6 82.8L279.6 84.3L281.1 84.3L281.1 86.4L279.6 86.4L279.6 88.0L277.5 88.0L277.5 86.4L275.9 86.4L275.9 84.3L277.5 84.3Z"/>
<path d="M280.3 84.5L282.4 84.5L282.4 86.1L284.0 86.1L284.0 88.2L282.4 88.2L282.4 89.7L280.3 89.7L280.3 88.2L278.8 88.2L278.8 86.1L280.3 86.1Z"/>
<path d="M283.2 84.5L285.3 84.5L285.3 86.1L286.8 86.1L286.8 88.2L285.3 88.2L285.3 89.7L283.2 89.7L283.2 88.2L281.6 88.2L281.6 86.1L283.2 86.1Z"/>
<path d="M286.1 105.7L288.1 105.7L288.1 107.3L289.7 107.3L289.7 109.3L288.1 109.3L288.1 110.9L286.1 110.9L286.1 109.3L284.5 109.3L284.5 107.3L286.1 107.3Z"/>
<path d="M288.9 90.1L291.0 90.1L291.0 91.6L292.6 91.6L292.6 93.7L291.0 93.7L291.0 95.3L288.9 95.3L288.9 93.7L287.4 93.7L287.4 91.6L288.9 91.6Z"/>
<path d="M291.8 89.8L293.9 89.8L293.9 91.3L295.4 91.3L295.4 93.4L293.9 93.4L293.9 95.0L291.8 95.0L291.8 93.4L290.2 93.4L290.2 91.3L291.8 91.3Z"/>
<path d="M294.6 89.3L296.7 89.3L296.7 90.9L298.3 90.9L298.3 93.0L296.7 93.0L296.7 94.5L294.6 94.5L294.6 93.0L293.1 93.0L293.1 90.9L294.6 90.9Z"/>
<path d="M297.5 88.6L299.6 88.6L299.6 90.2L301.1 90.2L301.1 92.3L299.6 92.3L299.6 93.8L297.5 93.8L297.5 92.3L295.9 92.3L295.9 90.2L297.5 90.2Z"/>
<path d="M300.4 84.2L302.5 84.2L302.5 85.8L304.0 85.8L304.0 87.9L302.5 87.9L302.5 89.4L300.4 89.4L300.4 87.9L298.8 87.9L298.8 85.8L300.4 85.8Z"/>
<path d="M303.2 89.8L305.3 89.8L305.3 91.3L306.9 91.3L306.9 93.4L305.3 93.4L305.3 95.0L303.2 95.0L303.2 93.4L301.7 93.4L301.7 91.3L303.2 91.3Z"/>
<path d="M306.1 91.5L308.2 91.5L308.2 93.1L309.7 93.1L309.7 95.2L308.2 95.2L308.2 96.7L306.1 96.7L306.1 95.2L304.5 95.2L304.5 93.1L306.1 93.1Z"/>
<path d="M309.0 92.3L311.0 92.3L311.0 93.8L312.6 93.8L312.6 95.9L311.0 95.9L311.0 97.5L309.0 97.5L309.0 95.9L307.4 95.9L307.4 93.8L309.0 93.8Z"/>
<path d="M311.8 91.5L313.9 91.5L313.9 93.1L315.5 93.1L315.5 95.2L313.9 95.2L313.9 96.7L311.8 96.7L311.8 95.2L310.3 95.2L310.3 93.1L311.8 93.1Z"/>
<path d="M314.7 88.6L316.8 88.6L316.8 90.2L318.3 90.2L318.3 92.3L316.8 92.3L316.8 93.8L314.7 93.8L314.7 92.3L313.1 92.3L313.1 90.2L314.7 90.2Z"/>
<path d="M317.5 107.3L319.6 107.3L319.6 108.9L321.2 108.9L321.2 110.9L319.6 110.9L319.6 112.5L317.5 112.5L317.5 110.9L316.0 110.9L316.0 108.9L317.5 108.9Z"/>
<path d="M320.6 89.4L322.3 89.4L322.3 90.7L323.6 90.7L323.6 92.4L322.3 92.4L322.3 93.7L320.6 93.7L320.6 92.4L319.3 92.4L319.3 90.7L320.6 90.7Z"/>
<path d="M323.4 85.9L325.2 85.9L325.2 87.1L326.5 87.1L326.5 88.9L325.2 88.9L325.2 90.2L323.4 90.2L323.4 88.9L322.2 88.9L322.2 87.1L323.4 87.1Z"/>
<path d="M326.3 87.6L328.0 87.6L328.0 88.9L329.3 88.9L329.3 90.6L328.0 90.6L328.0 91.9L326.3 91.9L326.3 90.6L325.0 90.6L325.0 88.9L326.3 88.9Z"/>
<path d="M329.2 93.4L330.9 93.4L330.9 94.7L332.2 94.7L332.2 96.5L330.9 96.5L330.9 97.7L329.2 97.7L329.2 96.5L327.9 96.5L327.9 94.7L329.2 94.7Z"/>
<path d="M332.0 87.9L333.7 87.9L333.7 89.2L335.0 89.2L335.0 90.9L333.7 90.9L333.7 92.2L332.0 92.2L332.0 90.9L330.7 90.9L330.7 89.2L332.0 89.2Z"/>
<path d="M334.9 89.1L336.6 89.1L336.6 90.4L337.9 90.4L337.9 92.1L336.6 92.1L336.6 93.4L334.9 93.4L334.9 92.1L333.6 92.1L333.6 90.4L334.9 90.4Z"/>
<path d="M337.7 91.3L339.5 91.3L339.5 92.5L340.8 92.5L340.8 94.3L339.5 94.3L339.5 95.6L337.7 95.6L337.7 94.3L336.5 94.3L336.5 92.5L337.7 92.5Z"/>
<path d="M340.6 90.2L342.3 90.2L342.3 91.5L343.6 91.5L343.6 93.2L342.3 93.2L342.3 94.5L340.6 94.5L340.6 93.2L339.3 93.2L339.3 91.5L340.6 91.5Z"/>
<path d="M343.5 88.3L345.2 88.3L345.2 89.6L346.5 89.6L346.5 91.3L345.2 91.3L345.2 92.6L343.5 92.6L343.5 91.3L342.2 91.3L342.2 89.6L343.5 89.6Z"/>
<path d="M346.3 86.1L348.1 86.1L348.1 87.4L349.3 87.4L349.3 89.2L348.1 89.2L348.1 90.4L346.3 90.4L346.3 89.2L345.0 89.2L345.0 87.4L346.3 87.4Z"/>
<path d="M349.2 86.1L350.9 86.1L350.9 87.4L352.2 87.4L352.2 89.2L350.9 89.2L350.9 90.4L349.2 90.4L349.2 89.2L347.9 89.2L347.9 87.4L349.2 87.4Z"/>
<path d="M352.1 86.9L353.8 86.9L353.8 88.2L355.1 88.2L355.1 89.9L353.8 89.9L353.8 91.2L352.1 91.2L352.1 89.9L350.8 89.9L350.8 88.2L352.1 88.2Z"/>
<path d="M354.9 87.9L356.6 87.9L356.6 89.2L357.9 89.2L357.9 90.9L356.6 90.9L356.6 92.2L354.9 92.2L354.9 90.9L353.6 90.9L353.6 89.2L354.9 89.2Z"/>
<path d="M357.8 87.3L359.5 87.3L359.5 88.6L360.8 88.6L360.8 90.3L359.5 90.3L359.5 91.6L357.8 91.6L357.8 90.3L356.5 90.3L356.5 88.6L357.8 88.6Z"/>
<path d="M360.6 85.9L362.4 85.9L362.4 87.1L363.6 87.1L363.6 88.9L362.4 88.9L362.4 90.2L360.6 90.2L360.6 88.9L359.3 88.9L359.3 87.1L360.6 87.1Z"/>
<path d="M363.5 85.0L365.2 85.0L365.2 86.3L366.5 86.3L366.5 88.0L365.2 88.0L365.2 89.3L363.5 89.3L363.5 88.0L362.2 88.0L362.2 86.3L363.5 86.3Z"/>
<path d="M366.4 84.7L368.1 84.7L368.1 86.0L369.4 86.0L369.4 87.7L368.1 87.7L368.1 89.0L366.4 89.0L366.4 87.7L365.1 87.7L365.1 86.0L366.4 86.0Z"/>
<path d="M369.2 84.0L370.9 84.0L370.9 85.2L372.2 85.2L372.2 87.0L370.9 87.0L370.9 88.3L369.2 88.3L369.2 87.0L367.9 87.0L367.9 85.2L369.2 85.2Z"/>
<path d="M372.1 84.4L373.8 84.4L373.8 85.7L375.1 85.7L375.1 87.4L373.8 87.4L373.8 88.7L372.1 88.7L372.1 87.4L370.8 87.4L370.8 85.7L372.1 85.7Z"/>
<path d="M374.9 85.4L376.7 85.4L376.7 86.7L378.0 86.7L378.0 88.4L376.7 88.4L376.7 89.7L374.9 89.7L374.9 88.4L373.7 88.4L373.7 86.7L374.9 86.7Z"/>
<path d="M377.8 85.4L379.5 85.4L379.5 86.7L380.8 86.7L380.8 88.4L379.5 88.4L379.5 89.7L377.8 89.7L377.8 88.4L376.5 88.4L376.5 86.7L377.8 86.7Z"/>
<path d="M380.7 86.1L382.4 86.1L382.4 87.4L383.7 87.4L383.7 89.2L382.4 89.2L382.4 90.4L380.7 90.4L380.7 89.2L379.4 89.2L379.4 87.4L380.7 87.4Z"/>
<path d="M383.5 85.4L385.2 85.4L385.2 86.7L386.5 86.7L386.5 88.4L385.2 88.4L385.2 89.7L383.5 89.7L383.5 88.4L382.2 88.4L382.2 86.7L383.5 86.7Z"/>
<path d="M386.4 83.2L388.1 83.2L388.1 84.5L389.4 84.5L389.4 86.2L388.1 86.2L388.1 87.5L386.4 87.5L386.4 86.2L385.1 86.2L385.1 84.5L386.4 84.5Z"/>
<path d="M389.3 82.1L391.0 82.1L391.0 83.4L392.3 83.4L392.3 85.1L391.0 85.1L391.0 86.4L389.3 86.4L389.3 85.1L388.0 85.1L388.0 83.4L389.3 83.4Z"/>
<path d="M392.1 82.9L393.8 82.9L393.8 84.2L395.1 84.2L395.1 85.9L393.8 85.9L393.8 87.2L392.1 87.2L392.1 85.9L390.8 85.9L390.8 84.2L392.1 84.2Z"/>
<path d="M395.0 84.0L396.7 84.0L396.7 85.2L398.0 85.2L398.0 87.0L396.7 87.0L396.7 88.3L395.0 88.3L395.0 87.0L393.7 87.0L393.7 85.2L395.0 85.2Z"/>
<path d="M397.8 84.7L399.6 84.7L399.6 86.0L400.8 86.0L400.8 87.7L399.6 87.7L399.6 89.0L397.8 89.0L397.8 87.7L396.5 87.7L396.5 86.0L397.8 86.0Z"/>
<path d="M400.7 84.0L402.4 84.0L402.4 85.2L403.7 85.2L403.7 87.0L402.4 87.0L402.4 88.3L400.7 88.3L400.7 87.0L399.4 87.0L399.4 85.2L400.7 85.2Z"/>
<path d="M403.6 84.7L405.3 84.7L405.3 86.0L406.6 86.0L406.6 87.7L405.3 87.7L405.3 89.0L403.6 89.0L403.6 87.7L402.3 87.7L402.3 86.0L403.6 86.0Z"/>
<path d="M406.4 85.9L408.1 85.9L408.1 87.1L409.4 87.1L409.4 88.9L408.1 88.9L408.1 90.2L406.4 90.2L406.4 88.9L405.1 88.9L405.1 87.1L406.4 87.1Z"/>
<path d="M409.3 86.1L411.0 86.1L411.0 87.4L412.3 87.4L412.3 89.2L411.0 89.2L411.0 90.4L409.3 90.4L409.3 89.2L408.0 89.2L408.0 87.4L409.3 87.4Z"/>
<path d="M412.1 84.7L413.9 84.7L413.9 86.0L415.2 86.0L415.2 87.7L413.9 87.7L413.9 89.0L412.1 89.0L412.1 87.7L410.9 87.7L410.9 86.0L412.1 86.0Z"/>
<path d="M415.0 84.0L416.7 84.0L416.7 85.2L418.0 85.2L418.0 87.0L416.7 87.0L416.7 88.3L415.0 88.3L415.0 87.0L413.7 87.0L413.7 85.2L415.0 85.2Z"/>
<path d="M417.9 85.0L419.6 85.0L419.6 86.3L420.9 86.3L420.9 88.0L419.6 88.0L419.6 89.3L417.9 89.3L417.9 88.0L416.6 88.0L416.6 86.3L417.9 86.3Z"/>
<path d="M420.7 85.9L422.4 85.9L422.4 87.1L423.7 87.1L423.7 88.9L422.4 88.9L422.4 90.2L420.7 90.2L420.7 88.9L419.4 88.9L419.4 87.1L420.7 87.1Z"/>
<path d="M423.6 86.1L425.3 86.1L425.3 87.4L426.6 87.4L426.6 89.2L425.3 89.2L425.3 90.4L423.6 90.4L423.6 89.2L422.3 89.2L422.3 87.4L423.6 87.4Z"/>
<path d="M426.4 85.4L428.2 85.4L428.2 86.7L429.5 86.7L429.5 88.4L428.2 88.4L428.2 89.7L426.4 89.7L426.4 88.4L425.2 88.4L425.2 86.7L426.4 86.7Z"/>
<path d="M429.3 84.7L431.0 84.7L431.0 86.0L432.3 86.0L432.3 87.7L431.0 87.7L431.0 89.0L429.3 89.0L429.3 87.7L428.0 87.7L428.0 86.0L429.3 86.0Z"/>
<path d="M432.2 85.4L433.9 85.4L433.9 86.7L435.2 86.7L435.2 88.4L433.9 88.4L433.9 89.7L432.2 89.7L432.2 88.4L430.9 88.4L430.9 86.7L432.2 86.7Z"/>
<path d="M435.0 84.7L436.8 84.7L436.8 86.0L438.0 86.0L438.0 87.7L436.8 87.7L436.8 89.0L435.0 89.0L435.0 87.7L433.7 87.7L433.7 86.0L435.0 86.0Z"/>
<path d="M437.9 83.2L439.6 83.2L439.6 84.5L440.9 84.5L440.9 86.2L439.6 86.2L439.6 87.5L437.9 87.5L437.9 86.2L436.6 86.2L436.6 84.5L437.9 84.5Z"/>
</g>
<rect x="392.95" y="106.09999999999998" width="49.80" height="26.70" rx="1.8" fill="#fff" fill-opacity="0.8" stroke="#dadada" stroke-width="0.8"/>
<line x1="395.55" y1="112.90" x2="413.15" y2="112.90" stroke="#f5c8b1" stroke-width="1.6"/>
<circle cx="404.45" cy="112.90" r="2.05" fill="#ad2430" stroke="#fff" stroke-width="0.7" paint-order="stroke"/>
<line x1="395.55" y1="124.90" x2="413.15" y2="124.90" stroke="#c0daed" stroke-width="1.6"/>
<path d="M403.4 122.2L405.5 122.2L405.5 123.8L407.1 123.8L407.1 126.0L405.5 126.0L405.5 127.6L403.4 127.6L403.4 126.0L401.8 126.0L401.8 123.8L403.4 123.8Z" fill="#336db4" stroke="#fff" stroke-width="0.7" paint-order="stroke"/>
<rect x="484.55" y="18.5" width="182.95" height="53.80" fill="none" stroke="#444444" stroke-width="0.95"/>
<line x1="482.25" y1="20.6" x2="484.55" y2="20.6" stroke="#444444" stroke-width="0.8"/>
<line x1="482.25" y1="43.0" x2="484.55" y2="43.0" stroke="#444444" stroke-width="0.8"/>
<line x1="482.25" y1="65.0" x2="484.55" y2="65.0" stroke="#444444" stroke-width="0.8"/>
<line x1="492.87" y1="72.3" x2="492.87" y2="74.6" stroke="#444444" stroke-width="0.8"/>
<line x1="521.54" y1="72.3" x2="521.54" y2="74.6" stroke="#444444" stroke-width="0.8"/>
<line x1="550.22" y1="72.3" x2="550.22" y2="74.6" stroke="#444444" stroke-width="0.8"/>
<line x1="578.89" y1="72.3" x2="578.89" y2="74.6" stroke="#444444" stroke-width="0.8"/>
<line x1="607.57" y1="72.3" x2="607.57" y2="74.6" stroke="#444444" stroke-width="0.8"/>
<line x1="636.24" y1="72.3" x2="636.24" y2="74.6" stroke="#444444" stroke-width="0.8"/>
<line x1="664.92" y1="72.3" x2="664.92" y2="74.6" stroke="#444444" stroke-width="0.8"/>
<polyline points="492.9,62.4 495.7,51.0 498.6,35.7 501.5,28.4 504.3,35.7 507.2,35.7 510.1,34.7 512.9,36.1 515.8,36.1 518.7,35.3 521.5,38.6 524.4,39.1 527.3,38.2 530.1,37.2 533.0,36.4 535.9,37.2 538.7,49.9 541.6,37.9 544.5,40.1 547.3,39.4 550.2,40.1 553.1,38.6 556.0,37.2 558.8,37.6 561.7,37.9 564.6,38.6 567.4,38.6 570.3,38.6 573.2,39.1 576.0,39.6 578.9,38.2 581.8,39.1 584.6,40.8 587.5,39.4 590.4,38.2 593.2,40.8 596.1,39.4 599.0,40.1 601.8,38.2 604.7,37.6 607.6,37.9 610.4,38.2 613.3,38.6 616.2,39.4 619.0,37.9 621.9,37.9 624.8,38.6 627.6,39.4 630.5,38.6 633.4,39.1 636.2,37.9 639.1,38.6 642.0,38.6 644.8,39.1 647.7,38.6 650.6,39.4 653.4,39.1 656.3,39.4 659.2,39.4" fill="none" stroke="#f5c8b1" stroke-width="1.6" stroke-linejoin="round"/>
<polyline points="492.9,64.6 495.7,53.2 498.6,39.4 501.5,56.6 504.3,47.1 507.2,47.8 510.1,48.4 512.9,51.3 515.8,48.8 518.7,58.6 521.5,48.4 524.4,43.4 527.3,41.1 530.1,48.1 533.0,33.5 535.9,41.1 538.7,70.3 541.6,37.9 544.5,33.5 547.3,36.4 550.2,37.9 553.1,30.9 556.0,32.4 558.8,33.5 561.7,33.5 564.6,37.6 567.4,34.7 570.3,25.9 573.2,30.6 576.0,37.2 578.9,30.6 581.8,27.4 584.6,33.8 587.5,35.0 590.4,28.0 593.2,34.2 596.1,30.3 599.0,26.9 601.8,26.5 604.7,29.1 607.6,21.5 610.4,21.1 613.3,25.9 616.2,30.3 619.0,21.1 621.9,26.9 624.8,36.4 627.6,30.9 630.5,33.2 633.4,35.0 636.2,25.5 639.1,25.9 642.0,33.8 644.8,24.0 647.7,26.9 650.6,36.4 653.4,31.3 656.3,33.5 659.2,28.0" fill="none" stroke="#c0daed" stroke-width="1.6" stroke-linejoin="round"/>
<g fill="#ad2430" stroke="#fff" stroke-width="0.7" paint-order="stroke">
<path d="M492.9 60.6L494.7 62.4L492.9 64.3L491.0 62.4Z"/>
<path d="M495.7 49.2L497.6 51.0L495.7 52.9L493.9 51.0Z"/>
<path d="M498.6 33.2L501.1 35.7L498.6 38.2L496.1 35.7Z"/>
<path d="M501.5 25.9L504.0 28.4L501.5 30.9L499.0 28.4Z"/>
<path d="M504.3 33.9L506.2 35.7L504.3 37.6L502.5 35.7Z"/>
<path d="M507.2 33.9L509.1 35.7L507.2 37.6L505.4 35.7Z"/>
<path d="M510.1 32.8L511.9 34.7L510.1 36.5L508.2 34.7Z"/>
<path d="M512.9 34.3L514.8 36.1L512.9 38.0L511.1 36.1Z"/>
<path d="M515.8 34.3L517.7 36.1L515.8 38.0L514.0 36.1Z"/>
<path d="M518.7 33.4L520.5 35.3L518.7 37.1L516.8 35.3Z"/>
<path d="M521.5 36.8L523.4 38.6L521.5 40.5L519.7 38.6Z"/>
<path d="M524.4 37.2L526.3 39.1L524.4 40.9L522.6 39.1Z"/>
<path d="M527.3 36.3L529.1 38.2L527.3 40.0L525.4 38.2Z"/>
<path d="M530.1 35.3L532.0 37.2L530.1 39.0L528.3 37.2Z"/>
<path d="M533.0 34.6L534.9 36.4L533.0 38.3L531.2 36.4Z"/>
<path d="M535.9 35.3L537.7 37.2L535.9 39.0L534.0 37.2Z"/>
<path d="M538.7 47.4L541.2 49.9L538.7 52.4L536.2 49.9Z"/>
<path d="M541.6 36.0L543.5 37.9L541.6 39.7L539.8 37.9Z"/>
<path d="M544.5 38.2L546.3 40.1L544.5 41.9L542.6 40.1Z"/>
<path d="M547.3 37.5L549.2 39.4L547.3 41.2L545.5 39.4Z"/>
<path d="M550.2 38.2L552.1 40.1L550.2 41.9L548.4 40.1Z"/>
<path d="M553.1 36.8L554.9 38.6L553.1 40.5L551.2 38.6Z"/>
<path d="M556.0 35.3L557.8 37.2L556.0 39.0L554.1 37.2Z"/>
<path d="M558.8 35.8L560.7 37.6L558.8 39.5L557.0 37.6Z"/>
<path d="M561.7 36.0L563.5 37.9L561.7 39.7L559.8 37.9Z"/>
<path d="M564.6 36.8L566.4 38.6L564.6 40.5L562.7 38.6Z"/>
<path d="M567.4 36.8L569.3 38.6L567.4 40.5L565.6 38.6Z"/>
<path d="M570.3 36.8L572.1 38.6L570.3 40.5L568.4 38.6Z"/>
<path d="M573.2 37.2L575.0 39.1L573.2 40.9L571.3 39.1Z"/>
<path d="M576.0 37.8L577.9 39.6L576.0 41.5L574.2 39.6Z"/>
<path d="M578.9 36.3L580.7 38.2L578.9 40.0L577.0 38.2Z"/>
<path d="M581.8 37.2L583.6 39.1L581.8 40.9L579.9 39.1Z"/>
<path d="M584.6 38.3L587.1 40.8L584.6 43.3L582.1 40.8Z"/>
<path d="M587.5 37.5L589.3 39.4L587.5 41.2L585.6 39.4Z"/>
<path d="M590.4 36.3L592.2 38.2L590.4 40.0L588.5 38.2Z"/>
<path d="M593.2 38.3L595.7 40.8L593.2 43.3L590.7 40.8Z"/>
<path d="M596.1 37.5L597.9 39.4L596.1 41.2L594.2 39.4Z"/>
<path d="M599.0 38.2L600.8 40.1L599.0 41.9L597.1 40.1Z"/>
<path d="M601.8 36.3L603.7 38.2L601.8 40.0L600.0 38.2Z"/>
<path d="M604.7 35.8L606.6 37.6L604.7 39.5L602.9 37.6Z"/>
<path d="M607.6 36.0L609.4 37.9L607.6 39.7L605.7 37.9Z"/>
<path d="M610.4 36.3L612.3 38.2L610.4 40.0L608.6 38.2Z"/>
<path d="M613.3 36.8L615.2 38.6L613.3 40.5L611.5 38.6Z"/>
<path d="M616.2 37.5L618.0 39.4L616.2 41.2L614.3 39.4Z"/>
<path d="M619.0 36.0L620.9 37.9L619.0 39.7L617.2 37.9Z"/>
<path d="M621.9 36.0L623.8 37.9L621.9 39.7L620.1 37.9Z"/>
<path d="M624.8 36.8L626.6 38.6L624.8 40.5L622.9 38.6Z"/>
<path d="M627.6 37.5L629.5 39.4L627.6 41.2L625.8 39.4Z"/>
<path d="M630.5 36.8L632.4 38.6L630.5 40.5L628.7 38.6Z"/>
<path d="M633.4 37.2L635.2 39.1L633.4 40.9L631.5 39.1Z"/>
<path d="M636.2 36.0L638.1 37.9L636.2 39.7L634.4 37.9Z"/>
<path d="M639.1 36.8L641.0 38.6L639.1 40.5L637.3 38.6Z"/>
<path d="M642.0 36.8L643.8 38.6L642.0 40.5L640.1 38.6Z"/>
<path d="M644.8 37.2L646.7 39.1L644.8 40.9L643.0 39.1Z"/>
<path d="M647.7 36.8L649.6 38.6L647.7 40.5L645.9 38.6Z"/>
<path d="M650.6 37.5L652.4 39.4L650.6 41.2L648.7 39.4Z"/>
<path d="M653.4 37.2L655.3 39.1L653.4 40.9L651.6 39.1Z"/>
<path d="M656.3 37.5L658.2 39.4L656.3 41.2L654.5 39.4Z"/>
<path d="M659.2 37.5L661.0 39.4L659.2 41.2L657.3 39.4Z"/>
</g>
<g fill="#336db4" stroke="#fff" stroke-width="0.7" paint-order="stroke">
<path d="M491.6 62.4L492.9 63.7L494.2 62.4L495.1 63.3L493.8 64.6L495.1 65.9L494.2 66.9L492.9 65.6L491.6 66.9L490.6 65.9L491.9 64.6L490.6 63.3Z"/>
<path d="M494.4 51.0L495.7 52.3L497.0 51.0L498.0 51.9L496.7 53.2L498.0 54.5L497.0 55.5L495.7 54.2L494.4 55.5L493.5 54.5L494.8 53.2L493.5 51.9Z"/>
<path d="M497.3 37.1L498.6 38.4L499.9 37.1L500.9 38.1L499.5 39.4L500.9 40.7L499.9 41.6L498.6 40.3L497.3 41.6L496.4 40.7L497.7 39.4L496.4 38.1Z"/>
<path d="M500.2 54.3L501.5 55.6L502.8 54.3L503.7 55.3L502.4 56.6L503.7 57.9L502.8 58.8L501.5 57.5L500.2 58.8L499.2 57.9L500.5 56.6L499.2 55.3Z"/>
<path d="M503.0 44.8L504.3 46.1L505.6 44.8L506.6 45.8L505.3 47.1L506.6 48.4L505.6 49.3L504.3 48.0L503.0 49.3L502.1 48.4L503.4 47.1L502.1 45.8Z"/>
<path d="M505.9 45.6L507.2 46.9L508.5 45.6L509.5 46.5L508.1 47.8L509.5 49.1L508.5 50.1L507.2 48.8L505.9 50.1L505.0 49.1L506.3 47.8L505.0 46.5Z"/>
<path d="M508.8 46.2L510.1 47.5L511.4 46.2L512.3 47.1L511.0 48.4L512.3 49.7L511.4 50.7L510.1 49.4L508.8 50.7L507.8 49.7L509.1 48.4L507.8 47.1Z"/>
<path d="M511.6 49.1L512.9 50.4L514.2 49.1L515.2 50.0L513.9 51.3L515.2 52.6L514.2 53.6L512.9 52.3L511.6 53.6L510.7 52.6L512.0 51.3L510.7 50.0Z"/>
<path d="M514.5 46.6L515.8 47.9L517.1 46.6L518.1 47.5L516.8 48.8L518.1 50.2L517.1 51.1L515.8 49.8L514.5 51.1L513.6 50.2L514.9 48.8L513.6 47.5Z"/>
<path d="M517.4 56.4L518.7 57.7L520.0 56.4L520.9 57.3L519.6 58.6L520.9 59.9L520.0 60.9L518.7 59.6L517.4 60.9L516.4 59.9L517.7 58.6L516.4 57.3Z"/>
<path d="M520.2 46.2L521.5 47.5L522.8 46.2L523.8 47.1L522.5 48.4L523.8 49.7L522.8 50.7L521.5 49.4L520.2 50.7L519.3 49.7L520.6 48.4L519.3 47.1Z"/>
<path d="M523.1 41.2L524.4 42.5L525.7 41.2L526.7 42.1L525.4 43.4L526.7 44.8L525.7 45.7L524.4 44.4L523.1 45.7L522.2 44.8L523.5 43.4L522.2 42.1Z"/>
<path d="M526.0 38.9L527.3 40.2L528.6 38.9L529.5 39.8L528.2 41.1L529.5 42.4L528.6 43.4L527.3 42.1L526.0 43.4L525.0 42.4L526.3 41.1L525.0 39.8Z"/>
<path d="M528.8 45.9L530.1 47.2L531.4 45.9L532.4 46.8L531.1 48.1L532.4 49.4L531.4 50.4L530.1 49.1L528.8 50.4L527.9 49.4L529.2 48.1L527.9 46.8Z"/>
<path d="M531.7 31.3L533.0 32.6L534.3 31.3L535.3 32.2L534.0 33.5L535.3 34.8L534.3 35.8L533.0 34.5L531.7 35.8L530.8 34.8L532.1 33.5L530.8 32.2Z"/>
<path d="M534.6 38.9L535.9 40.2L537.2 38.9L538.1 39.8L536.8 41.1L538.1 42.4L537.2 43.4L535.9 42.1L534.6 43.4L533.6 42.4L534.9 41.1L533.6 39.8Z"/>
<path d="M537.4 68.1L538.7 69.4L540.1 68.1L541.0 69.0L539.7 70.3L541.0 71.6L540.1 72.6L538.7 71.3L537.4 72.6L536.5 71.6L537.8 70.3L536.5 69.0Z"/>
<path d="M540.5 36.0L541.6 37.1L542.7 36.0L543.5 36.8L542.4 37.9L543.5 39.0L542.7 39.7L541.6 38.7L540.5 39.7L539.8 39.0L540.8 37.9L539.8 36.8Z"/>
<path d="M543.4 31.7L544.5 32.7L545.6 31.7L546.3 32.4L545.3 33.5L546.3 34.6L545.6 35.4L544.5 34.3L543.4 35.4L542.6 34.6L543.7 33.5L542.6 32.4Z"/>
<path d="M546.3 34.6L547.3 35.7L548.4 34.6L549.2 35.4L548.1 36.4L549.2 37.5L548.4 38.3L547.3 37.2L546.3 38.3L545.5 37.5L546.6 36.4L545.5 35.4Z"/>
<path d="M549.1 36.0L550.2 37.1L551.3 36.0L552.1 36.8L551.0 37.9L552.1 39.0L551.3 39.7L550.2 38.7L549.1 39.7L548.4 39.0L549.4 37.9L548.4 36.8Z"/>
<path d="M552.0 29.0L553.1 30.1L554.2 29.0L554.9 29.8L553.9 30.9L554.9 32.0L554.2 32.7L553.1 31.7L552.0 32.7L551.2 32.0L552.3 30.9L551.2 29.8Z"/>
<path d="M554.9 30.5L556.0 31.6L557.0 30.5L557.8 31.3L556.7 32.4L557.8 33.4L557.0 34.2L556.0 33.1L554.9 34.2L554.1 33.4L555.2 32.4L554.1 31.3Z"/>
<path d="M557.7 31.7L558.8 32.7L559.9 31.7L560.7 32.4L559.6 33.5L560.7 34.6L559.9 35.4L558.8 34.3L557.7 35.4L557.0 34.6L558.0 33.5L557.0 32.4Z"/>
<path d="M560.6 31.7L561.7 32.7L562.8 31.7L563.5 32.4L562.5 33.5L563.5 34.6L562.8 35.4L561.7 34.3L560.6 35.4L559.8 34.6L560.9 33.5L559.8 32.4Z"/>
<path d="M563.5 35.8L564.6 36.8L565.6 35.8L566.4 36.5L565.3 37.6L566.4 38.7L565.6 39.5L564.6 38.4L563.5 39.5L562.7 38.7L563.8 37.6L562.7 36.5Z"/>
<path d="M566.3 32.8L567.4 33.9L568.5 32.8L569.3 33.6L568.2 34.7L569.3 35.8L568.5 36.5L567.4 35.5L566.3 36.5L565.6 35.8L566.6 34.7L565.6 33.6Z"/>
<path d="M569.2 24.1L570.3 25.2L571.4 24.1L572.1 24.9L571.1 25.9L572.1 27.0L571.4 27.8L570.3 26.7L569.2 27.8L568.4 27.0L569.5 25.9L568.4 24.9Z"/>
<path d="M572.1 28.7L573.2 29.8L574.2 28.7L575.0 29.5L573.9 30.6L575.0 31.7L574.2 32.4L573.2 31.4L572.1 32.4L571.3 31.7L572.4 30.6L571.3 29.5Z"/>
<path d="M575.0 35.3L576.0 36.4L577.1 35.3L577.9 36.1L576.8 37.2L577.9 38.2L577.1 39.0L576.0 37.9L575.0 39.0L574.2 38.2L575.2 37.2L574.2 36.1Z"/>
<path d="M577.8 28.7L578.9 29.8L580.0 28.7L580.7 29.5L579.7 30.6L580.7 31.7L580.0 32.4L578.9 31.4L577.8 32.4L577.0 31.7L578.1 30.6L577.0 29.5Z"/>
<path d="M580.7 25.5L581.8 26.6L582.8 25.5L583.6 26.3L582.5 27.4L583.6 28.5L582.8 29.2L581.8 28.2L580.7 29.2L579.9 28.5L581.0 27.4L579.9 26.3Z"/>
<path d="M583.6 32.0L584.6 33.0L585.7 32.0L586.5 32.7L585.4 33.8L586.5 34.9L585.7 35.7L584.6 34.6L583.6 35.7L582.8 34.9L583.9 33.8L582.8 32.7Z"/>
<path d="M586.4 33.1L587.5 34.2L588.6 33.1L589.3 33.9L588.3 35.0L589.3 36.1L588.6 36.8L587.5 35.8L586.4 36.8L585.6 36.1L586.7 35.0L585.6 33.9Z"/>
<path d="M589.3 26.1L590.4 27.2L591.4 26.1L592.2 26.9L591.1 28.0L592.2 29.0L591.4 29.8L590.4 28.7L589.3 29.8L588.5 29.0L589.6 28.0L588.5 26.9Z"/>
<path d="M592.2 32.4L593.2 33.5L594.3 32.4L595.1 33.2L594.0 34.2L595.1 35.3L594.3 36.1L593.2 35.0L592.2 36.1L591.4 35.3L592.5 34.2L591.4 33.2Z"/>
<path d="M595.0 28.5L596.1 29.5L597.2 28.5L597.9 29.2L596.9 30.3L597.9 31.4L597.2 32.2L596.1 31.1L595.0 32.2L594.2 31.4L595.3 30.3L594.2 29.2Z"/>
<path d="M597.9 25.1L599.0 26.2L600.0 25.1L600.8 25.9L599.7 26.9L600.8 28.0L600.0 28.8L599.0 27.7L597.9 28.8L597.1 28.0L598.2 26.9L597.1 25.9Z"/>
<path d="M600.8 24.7L601.8 25.7L602.9 24.7L603.7 25.4L602.6 26.5L603.7 27.6L602.9 28.4L601.8 27.3L600.8 28.4L600.0 27.6L601.1 26.5L600.0 25.4Z"/>
<path d="M603.6 27.3L604.7 28.4L605.8 27.3L606.6 28.1L605.5 29.1L606.6 30.2L605.8 31.0L604.7 29.9L603.6 31.0L602.9 30.2L603.9 29.1L602.9 28.1Z"/>
<path d="M606.5 19.7L607.6 20.8L608.6 19.7L609.4 20.5L608.3 21.5L609.4 22.6L608.6 23.4L607.6 22.3L606.5 23.4L605.7 22.6L606.8 21.5L605.7 20.5Z"/>
<path d="M609.4 19.3L610.4 20.3L611.5 19.3L612.3 20.0L611.2 21.1L612.3 22.2L611.5 23.0L610.4 21.9L609.4 23.0L608.6 22.2L609.7 21.1L608.6 20.0Z"/>
<path d="M612.2 24.1L613.3 25.2L614.4 24.1L615.2 24.9L614.1 25.9L615.2 27.0L614.4 27.8L613.3 26.7L612.2 27.8L611.5 27.0L612.5 25.9L611.5 24.9Z"/>
<path d="M615.1 28.5L616.2 29.5L617.2 28.5L618.0 29.2L616.9 30.3L618.0 31.4L617.2 32.2L616.2 31.1L615.1 32.2L614.3 31.4L615.4 30.3L614.3 29.2Z"/>
<path d="M618.0 19.3L619.0 20.3L620.1 19.3L620.9 20.0L619.8 21.1L620.9 22.2L620.1 23.0L619.0 21.9L618.0 23.0L617.2 22.2L618.3 21.1L617.2 20.0Z"/>
<path d="M620.8 25.1L621.9 26.2L623.0 25.1L623.8 25.9L622.7 26.9L623.8 28.0L623.0 28.8L621.9 27.7L620.8 28.8L620.1 28.0L621.1 26.9L620.1 25.9Z"/>
<path d="M623.7 34.6L624.8 35.7L625.8 34.6L626.6 35.4L625.6 36.4L626.6 37.5L625.8 38.3L624.8 37.2L623.7 38.3L622.9 37.5L624.0 36.4L622.9 35.4Z"/>
<path d="M626.6 29.0L627.6 30.1L628.7 29.0L629.5 29.8L628.4 30.9L629.5 32.0L628.7 32.7L627.6 31.7L626.6 32.7L625.8 32.0L626.9 30.9L625.8 29.8Z"/>
<path d="M629.4 31.4L630.5 32.4L631.6 31.4L632.4 32.2L631.3 33.2L632.4 34.3L631.6 35.1L630.5 34.0L629.4 35.1L628.7 34.3L629.7 33.2L628.7 32.2Z"/>
<path d="M632.3 33.1L633.4 34.2L634.4 33.1L635.2 33.9L634.2 35.0L635.2 36.1L634.4 36.8L633.4 35.8L632.3 36.8L631.5 36.1L632.6 35.0L631.5 33.9Z"/>
<path d="M635.2 23.6L636.2 24.7L637.3 23.6L638.1 24.4L637.0 25.5L638.1 26.6L637.3 27.3L636.2 26.3L635.2 27.3L634.4 26.6L635.5 25.5L634.4 24.4Z"/>
<path d="M638.0 24.1L639.1 25.2L640.2 24.1L641.0 24.9L639.9 25.9L641.0 27.0L640.2 27.8L639.1 26.7L638.0 27.8L637.3 27.0L638.3 25.9L637.3 24.9Z"/>
<path d="M640.9 32.0L642.0 33.0L643.1 32.0L643.8 32.7L642.8 33.8L643.8 34.9L643.1 35.7L642.0 34.6L640.9 35.7L640.1 34.9L641.2 33.8L640.1 32.7Z"/>
<path d="M643.8 22.2L644.8 23.3L645.9 22.2L646.7 23.0L645.6 24.0L646.7 25.1L645.9 25.9L644.8 24.8L643.8 25.9L643.0 25.1L644.1 24.0L643.0 23.0Z"/>
<path d="M646.6 25.1L647.7 26.2L648.8 25.1L649.6 25.9L648.5 26.9L649.6 28.0L648.8 28.8L647.7 27.7L646.6 28.8L645.9 28.0L646.9 26.9L645.9 25.9Z"/>
<path d="M649.5 34.6L650.6 35.7L651.7 34.6L652.4 35.4L651.4 36.4L652.4 37.5L651.7 38.3L650.6 37.2L649.5 38.3L648.7 37.5L649.8 36.4L648.7 35.4Z"/>
<path d="M652.4 29.5L653.4 30.6L654.5 29.5L655.3 30.3L654.2 31.3L655.3 32.4L654.5 33.2L653.4 32.1L652.4 33.2L651.6 32.4L652.7 31.3L651.6 30.3Z"/>
<path d="M655.2 31.7L656.3 32.7L657.4 31.7L658.2 32.4L657.1 33.5L658.2 34.6L657.4 35.4L656.3 34.3L655.2 35.4L654.5 34.6L655.5 33.5L654.5 32.4Z"/>
<path d="M658.1 26.1L659.2 27.2L660.3 26.1L661.0 26.9L660.0 28.0L661.0 29.0L660.3 29.8L659.2 28.7L658.1 29.8L657.3 29.0L658.4 28.0L657.3 26.9Z"/>
</g>
<rect x="613.4000000000001" y="41.19999999999999" width="49.80" height="26.70" rx="1.8" fill="#fff" fill-opacity="0.8" stroke="#dadada" stroke-width="0.8"/>
<line x1="616.0000000000001" y1="48.00" x2="633.6000000000001" y2="48.00" stroke="#f5c8b1" stroke-width="1.6"/>
<path d="M624.9 45.6L627.3 48.0L624.9 50.4L622.5 48.0Z" fill="#ad2430" stroke="#fff" stroke-width="0.7" paint-order="stroke"/>
<line x1="616.0000000000001" y1="60.00" x2="633.6000000000001" y2="60.00" stroke="#c0daed" stroke-width="1.6"/>
<path d="M623.7 57.9L624.9 59.1L626.1 57.9L627.0 58.8L625.8 60.0L627.0 61.2L626.1 62.1L624.9 60.9L623.7 62.1L622.8 61.2L624.0 60.0L622.8 58.8Z" fill="#336db4" stroke="#fff" stroke-width="0.7" paint-order="stroke"/>
<rect x="484.55" y="83.2" width="182.95" height="54.00" fill="none" stroke="#444444" stroke-width="0.95"/>
<line x1="482.25" y1="100.4" x2="484.55" y2="100.4" stroke="#444444" stroke-width="0.8"/>
<line x1="482.25" y1="123.0" x2="484.55" y2="123.0" stroke="#444444" stroke-width="0.8"/>
<line x1="492.87" y1="137.2" x2="492.87" y2="139.5" stroke="#444444" stroke-width="0.8"/>
<line x1="521.54" y1="137.2" x2="521.54" y2="139.5" stroke="#444444" stroke-width="0.8"/>
<line x1="550.22" y1="137.2" x2="550.22" y2="139.5" stroke="#444444" stroke-width="0.8"/>
<line x1="578.89" y1="137.2" x2="578.89" y2="139.5" stroke="#444444" stroke-width="0.8"/>
<line x1="607.57" y1="137.2" x2="607.57" y2="139.5" stroke="#444444" stroke-width="0.8"/>
<line x1="636.24" y1="137.2" x2="636.24" y2="139.5" stroke="#444444" stroke-width="0.8"/>
<line x1="664.92" y1="137.2" x2="664.92" y2="139.5" stroke="#444444" stroke-width="0.8"/>
<polyline points="492.9,114.3 495.7,114.3 498.6,96.0 501.5,92.2 504.3,98.5 507.2,98.2 510.1,96.0 512.9,98.8 515.8,97.8 518.7,98.2 521.5,102.9 524.4,101.4 527.3,99.2 530.1,100.0 533.0,99.2 535.9,100.0 538.7,115.3 541.6,98.5 544.5,103.3 547.3,101.7 550.2,102.2 553.1,101.4 556.0,100.0 558.8,99.7 561.7,101.1 564.6,100.0 567.4,100.7 570.3,101.1 573.2,100.7 576.0,101.4 578.9,101.7 581.8,102.6 584.6,101.4 587.5,101.1 590.4,100.7 593.2,102.6 596.1,100.7 599.0,100.0 601.8,100.0 604.7,100.3 607.6,100.0 610.4,100.7 613.3,100.0 616.2,100.0 619.0,100.7 621.9,99.7 624.8,100.0 627.6,100.0 630.5,100.7 633.4,101.1 636.2,100.0 639.1,100.7 642.0,101.4 644.8,101.1 647.7,100.7 650.6,101.1 653.4,101.1 656.3,100.7 659.2,102.2" fill="none" stroke="#f5c8b1" stroke-width="1.6" stroke-linejoin="round"/>
<polyline points="492.9,134.3 495.7,111.9 498.6,102.5 501.5,121.9 504.3,108.0 507.2,113.8 510.1,111.7 512.9,115.3 515.8,110.2 518.7,120.1 521.5,112.4 524.4,102.9 527.3,101.7 530.1,109.9 533.0,95.2 535.9,100.7 538.7,132.8 541.6,98.5 544.5,94.1 547.3,96.3 550.2,99.2 553.1,94.1 556.0,95.6 558.8,92.7 561.7,94.1 564.6,99.2 567.4,96.8 570.3,89.3 573.2,92.7 576.0,99.7 578.9,91.2 581.8,90.5 584.6,95.6 587.5,100.0 590.4,90.9 593.2,98.2 596.1,94.4 599.0,90.5 601.8,89.5 604.7,92.4 607.6,85.4 610.4,86.5 613.3,89.5 616.2,92.4 619.0,85.4 621.9,89.8 624.8,97.1 627.6,94.9 630.5,99.2 633.4,95.9 636.2,89.8 639.1,87.1 642.0,99.2 644.8,87.1 647.7,91.5 650.6,98.2 653.4,94.9 656.3,93.0 659.2,91.9" fill="none" stroke="#c0daed" stroke-width="1.6" stroke-linejoin="round"/>
<g fill="#ad2430" stroke="#fff" stroke-width="0.7" paint-order="stroke">
<circle cx="492.9" cy="114.3" r="2.10"/>
<circle cx="495.7" cy="114.3" r="1.85"/>
<circle cx="498.6" cy="96.0" r="2.10"/>
<circle cx="501.5" cy="92.2" r="2.10"/>
<circle cx="504.3" cy="98.5" r="1.65"/>
<circle cx="507.2" cy="98.2" r="1.65"/>
<circle cx="510.1" cy="96.0" r="1.65"/>
<circle cx="512.9" cy="98.8" r="1.65"/>
<circle cx="515.8" cy="97.8" r="1.65"/>
<circle cx="518.7" cy="98.2" r="1.65"/>
<circle cx="521.5" cy="102.9" r="1.65"/>
<circle cx="524.4" cy="101.4" r="1.65"/>
<circle cx="527.3" cy="99.2" r="1.65"/>
<circle cx="530.1" cy="100.0" r="1.65"/>
<circle cx="533.0" cy="99.2" r="1.65"/>
<circle cx="535.9" cy="100.0" r="1.65"/>
<circle cx="538.7" cy="115.3" r="1.85"/>
<circle cx="541.6" cy="98.5" r="1.65"/>
<circle cx="544.5" cy="103.3" r="2.10"/>
<circle cx="547.3" cy="101.7" r="1.65"/>
<circle cx="550.2" cy="102.2" r="1.65"/>
<circle cx="553.1" cy="101.4" r="1.65"/>
<circle cx="556.0" cy="100.0" r="1.65"/>
<circle cx="558.8" cy="99.7" r="1.65"/>
<circle cx="561.7" cy="101.1" r="1.65"/>
<circle cx="564.6" cy="100.0" r="1.65"/>
<circle cx="567.4" cy="100.7" r="1.65"/>
<circle cx="570.3" cy="101.1" r="1.65"/>
<circle cx="573.2" cy="100.7" r="1.65"/>
<circle cx="576.0" cy="101.4" r="1.65"/>
<circle cx="578.9" cy="101.7" r="1.65"/>
<circle cx="581.8" cy="102.6" r="1.65"/>
<circle cx="584.6" cy="101.4" r="1.65"/>
<circle cx="587.5" cy="101.1" r="1.65"/>
<circle cx="590.4" cy="100.7" r="1.65"/>
<circle cx="593.2" cy="102.6" r="1.65"/>
<circle cx="596.1" cy="100.7" r="1.65"/>
<circle cx="599.0" cy="100.0" r="1.65"/>
<circle cx="601.8" cy="100.0" r="1.65"/>
<circle cx="604.7" cy="100.3" r="1.65"/>
<circle cx="607.6" cy="100.0" r="1.65"/>
<circle cx="610.4" cy="100.7" r="1.65"/>
<circle cx="613.3" cy="100.0" r="1.65"/>
<circle cx="616.2" cy="100.0" r="1.65"/>
<circle cx="619.0" cy="100.7" r="1.65"/>
<circle cx="621.9" cy="99.7" r="1.65"/>
<circle cx="624.8" cy="100.0" r="1.65"/>
<circle cx="627.6" cy="100.0" r="1.65"/>
<circle cx="630.5" cy="100.7" r="1.65"/>
<circle cx="633.4" cy="101.1" r="1.65"/>
<circle cx="636.2" cy="100.0" r="1.65"/>
<circle cx="639.1" cy="100.7" r="1.65"/>
<circle cx="642.0" cy="101.4" r="1.65"/>
<circle cx="644.8" cy="101.1" r="1.65"/>
<circle cx="647.7" cy="100.7" r="1.65"/>
<circle cx="650.6" cy="101.1" r="1.65"/>
<circle cx="653.4" cy="101.1" r="1.65"/>
<circle cx="656.3" cy="100.7" r="1.65"/>
<circle cx="659.2" cy="102.2" r="1.65"/>
</g>
<g fill="#336db4" stroke="#fff" stroke-width="0.7" paint-order="stroke">
<path d="M491.8 131.7L493.9 131.7L493.9 133.2L495.5 133.2L495.5 135.3L493.9 135.3L493.9 136.9L491.8 136.9L491.8 135.3L490.3 135.3L490.3 133.2L491.8 133.2Z"/>
<path d="M494.7 109.3L496.8 109.3L496.8 110.9L498.3 110.9L498.3 113.0L496.8 113.0L496.8 114.5L494.7 114.5L494.7 113.0L493.1 113.0L493.1 110.9L494.7 110.9Z"/>
<path d="M497.6 99.9L499.6 99.9L499.6 101.4L501.2 101.4L501.2 103.5L499.6 103.5L499.6 105.1L497.6 105.1L497.6 103.5L496.0 103.5L496.0 101.4L497.6 101.4Z"/>
<path d="M500.4 119.3L502.5 119.3L502.5 120.8L504.1 120.8L504.1 122.9L502.5 122.9L502.5 124.5L500.4 124.5L500.4 122.9L498.9 122.9L498.9 120.8L500.4 120.8Z"/>
<path d="M503.3 105.4L505.4 105.4L505.4 107.0L506.9 107.0L506.9 109.0L505.4 109.0L505.4 110.6L503.3 110.6L503.3 109.0L501.7 109.0L501.7 107.0L503.3 107.0Z"/>
<path d="M506.2 111.2L508.2 111.2L508.2 112.8L509.8 112.8L509.8 114.9L508.2 114.9L508.2 116.4L506.2 116.4L506.2 114.9L504.6 114.9L504.6 112.8L506.2 112.8Z"/>
<path d="M509.0 109.1L511.1 109.1L511.1 110.6L512.7 110.6L512.7 112.7L511.1 112.7L511.1 114.3L509.0 114.3L509.0 112.7L507.5 112.7L507.5 110.6L509.0 110.6Z"/>
<path d="M511.9 112.7L514.0 112.7L514.0 114.3L515.5 114.3L515.5 116.3L514.0 116.3L514.0 117.9L511.9 117.9L511.9 116.3L510.3 116.3L510.3 114.3L511.9 114.3Z"/>
<path d="M514.8 107.6L516.8 107.6L516.8 109.2L518.4 109.2L518.4 111.2L516.8 111.2L516.8 112.8L514.8 112.8L514.8 111.2L513.2 111.2L513.2 109.2L514.8 109.2Z"/>
<path d="M517.6 117.5L519.7 117.5L519.7 119.1L521.3 119.1L521.3 121.2L519.7 121.2L519.7 122.7L517.6 122.7L517.6 121.2L516.1 121.2L516.1 119.1L517.6 119.1Z"/>
<path d="M520.5 109.8L522.6 109.8L522.6 111.3L524.1 111.3L524.1 113.4L522.6 113.4L522.6 115.0L520.5 115.0L520.5 113.4L518.9 113.4L518.9 111.3L520.5 111.3Z"/>
<path d="M523.4 100.3L525.4 100.3L525.4 101.9L527.0 101.9L527.0 103.9L525.4 103.9L525.4 105.5L523.4 105.5L523.4 103.9L521.8 103.9L521.8 101.9L523.4 101.9Z"/>
<path d="M526.2 99.1L528.3 99.1L528.3 100.7L529.9 100.7L529.9 102.8L528.3 102.8L528.3 104.3L526.2 104.3L526.2 102.8L524.7 102.8L524.7 100.7L526.2 100.7Z"/>
<path d="M529.1 107.3L531.2 107.3L531.2 108.9L532.7 108.9L532.7 110.9L531.2 110.9L531.2 112.5L529.1 112.5L529.1 110.9L527.5 110.9L527.5 108.9L529.1 108.9Z"/>
<path d="M532.0 92.6L534.1 92.6L534.1 94.1L535.6 94.1L535.6 96.2L534.1 96.2L534.1 97.8L532.0 97.8L532.0 96.2L530.4 96.2L530.4 94.1L532.0 94.1Z"/>
<path d="M534.8 98.1L536.9 98.1L536.9 99.7L538.5 99.7L538.5 101.7L536.9 101.7L536.9 103.3L534.8 103.3L534.8 101.7L533.3 101.7L533.3 99.7L534.8 99.7Z"/>
<path d="M537.7 130.2L539.8 130.2L539.8 131.8L541.3 131.8L541.3 133.9L539.8 133.9L539.8 135.4L537.7 135.4L537.7 133.9L536.1 133.9L536.1 131.8L537.7 131.8Z"/>
<path d="M540.8 96.4L542.5 96.4L542.5 97.7L543.8 97.7L543.8 99.4L542.5 99.4L542.5 100.7L540.8 100.7L540.8 99.4L539.5 99.4L539.5 97.7L540.8 97.7Z"/>
<path d="M543.6 92.0L545.3 92.0L545.3 93.3L546.6 93.3L546.6 95.0L545.3 95.0L545.3 96.3L543.6 96.3L543.6 95.0L542.3 95.0L542.3 93.3L543.6 93.3Z"/>
<path d="M546.5 94.2L548.2 94.2L548.2 95.5L549.5 95.5L549.5 97.2L548.2 97.2L548.2 98.5L546.5 98.5L546.5 97.2L545.2 97.2L545.2 95.5L546.5 95.5Z"/>
<path d="M549.4 97.1L551.1 97.1L551.1 98.4L552.4 98.4L552.4 100.1L551.1 100.1L551.1 101.4L549.4 101.4L549.4 100.1L548.1 100.1L548.1 98.4L549.4 98.4Z"/>
<path d="M552.2 92.0L553.9 92.0L553.9 93.3L555.2 93.3L555.2 95.0L553.9 95.0L553.9 96.3L552.2 96.3L552.2 95.0L550.9 95.0L550.9 93.3L552.2 93.3Z"/>
<path d="M555.1 93.4L556.8 93.4L556.8 94.7L558.1 94.7L558.1 96.5L556.8 96.5L556.8 97.7L555.1 97.7L555.1 96.5L553.8 96.5L553.8 94.7L555.1 94.7Z"/>
<path d="M558.0 90.5L559.7 90.5L559.7 91.8L561.0 91.8L561.0 93.5L559.7 93.5L559.7 94.8L558.0 94.8L558.0 93.5L556.7 93.5L556.7 91.8L558.0 91.8Z"/>
<path d="M560.8 92.0L562.5 92.0L562.5 93.3L563.8 93.3L563.8 95.0L562.5 95.0L562.5 96.3L560.8 96.3L560.8 95.0L559.5 95.0L559.5 93.3L560.8 93.3Z"/>
<path d="M563.7 97.1L565.4 97.1L565.4 98.4L566.7 98.4L566.7 100.1L565.4 100.1L565.4 101.4L563.7 101.4L563.7 100.1L562.4 100.1L562.4 98.4L563.7 98.4Z"/>
<path d="M566.6 94.6L568.3 94.6L568.3 95.9L569.6 95.9L569.6 97.6L568.3 97.6L568.3 98.9L566.6 98.9L566.6 97.6L565.3 97.6L565.3 95.9L566.6 95.9Z"/>
<path d="M569.4 87.2L571.1 87.2L571.1 88.5L572.4 88.5L572.4 90.2L571.1 90.2L571.1 91.5L569.4 91.5L569.4 90.2L568.1 90.2L568.1 88.5L569.4 88.5Z"/>
<path d="M572.3 90.5L574.0 90.5L574.0 91.8L575.3 91.8L575.3 93.5L574.0 93.5L574.0 94.8L572.3 94.8L572.3 93.5L571.0 93.5L571.0 91.8L572.3 91.8Z"/>
<path d="M575.2 97.5L576.9 97.5L576.9 98.8L578.2 98.8L578.2 100.5L576.9 100.5L576.9 101.8L575.2 101.8L575.2 100.5L573.9 100.5L573.9 98.8L575.2 98.8Z"/>
<path d="M578.0 89.1L579.8 89.1L579.8 90.4L581.0 90.4L581.0 92.1L579.8 92.1L579.8 93.4L578.0 93.4L578.0 92.1L576.7 92.1L576.7 90.4L578.0 90.4Z"/>
<path d="M580.9 88.3L582.6 88.3L582.6 89.6L583.9 89.6L583.9 91.3L582.6 91.3L582.6 92.6L580.9 92.6L580.9 91.3L579.6 91.3L579.6 89.6L580.9 89.6Z"/>
<path d="M583.8 93.4L585.5 93.4L585.5 94.7L586.8 94.7L586.8 96.5L585.5 96.5L585.5 97.7L583.8 97.7L583.8 96.5L582.5 96.5L582.5 94.7L583.8 94.7Z"/>
<path d="M586.6 97.8L588.4 97.8L588.4 99.1L589.6 99.1L589.6 100.8L588.4 100.8L588.4 102.1L586.6 102.1L586.6 100.8L585.3 100.8L585.3 99.1L586.6 99.1Z"/>
<path d="M589.5 88.8L591.2 88.8L591.2 90.1L592.5 90.1L592.5 91.8L591.2 91.8L591.2 93.1L589.5 93.1L589.5 91.8L588.2 91.8L588.2 90.1L589.5 90.1Z"/>
<path d="M592.4 96.1L594.1 96.1L594.1 97.4L595.4 97.4L595.4 99.1L594.1 99.1L594.1 100.4L592.4 100.4L592.4 99.1L591.1 99.1L591.1 97.4L592.4 97.4Z"/>
<path d="M595.2 92.3L597.0 92.3L597.0 93.6L598.2 93.6L598.2 95.3L597.0 95.3L597.0 96.6L595.2 96.6L595.2 95.3L593.9 95.3L593.9 93.6L595.2 93.6Z"/>
<path d="M598.1 88.3L599.8 88.3L599.8 89.6L601.1 89.6L601.1 91.3L599.8 91.3L599.8 92.6L598.1 92.6L598.1 91.3L596.8 91.3L596.8 89.6L598.1 89.6Z"/>
<path d="M601.0 87.3L602.7 87.3L602.7 88.6L604.0 88.6L604.0 90.3L602.7 90.3L602.7 91.6L601.0 91.6L601.0 90.3L599.7 90.3L599.7 88.6L601.0 88.6Z"/>
<path d="M603.8 90.2L605.6 90.2L605.6 91.5L606.9 91.5L606.9 93.2L605.6 93.2L605.6 94.5L603.8 94.5L603.8 93.2L602.6 93.2L602.6 91.5L603.8 91.5Z"/>
<path d="M606.7 83.2L608.4 83.2L608.4 84.5L609.7 84.5L609.7 86.2L608.4 86.2L608.4 87.5L606.7 87.5L606.7 86.2L605.4 86.2L605.4 84.5L606.7 84.5Z"/>
<path d="M609.6 84.4L611.3 84.4L611.3 85.7L612.6 85.7L612.6 87.4L611.3 87.4L611.3 88.7L609.6 88.7L609.6 87.4L608.3 87.4L608.3 85.7L609.6 85.7Z"/>
<path d="M612.4 87.3L614.2 87.3L614.2 88.6L615.5 88.6L615.5 90.3L614.2 90.3L614.2 91.6L612.4 91.6L612.4 90.3L611.2 90.3L611.2 88.6L612.4 88.6Z"/>
<path d="M615.3 90.2L617.0 90.2L617.0 91.5L618.3 91.5L618.3 93.2L617.0 93.2L617.0 94.5L615.3 94.5L615.3 93.2L614.0 93.2L614.0 91.5L615.3 91.5Z"/>
<path d="M618.2 83.2L619.9 83.2L619.9 84.5L621.2 84.5L621.2 86.2L619.9 86.2L619.9 87.5L618.2 87.5L618.2 86.2L616.9 86.2L616.9 84.5L618.2 84.5Z"/>
<path d="M621.0 87.6L622.8 87.6L622.8 88.9L624.1 88.9L624.1 90.6L622.8 90.6L622.8 91.9L621.0 91.9L621.0 90.6L619.8 90.6L619.8 88.9L621.0 88.9Z"/>
<path d="M623.9 94.9L625.6 94.9L625.6 96.2L626.9 96.2L626.9 97.9L625.6 97.9L625.6 99.2L623.9 99.2L623.9 97.9L622.6 97.9L622.6 96.2L623.9 96.2Z"/>
<path d="M626.8 92.7L628.5 92.7L628.5 94.0L629.8 94.0L629.8 95.7L628.5 95.7L628.5 97.0L626.8 97.0L626.8 95.7L625.5 95.7L625.5 94.0L626.8 94.0Z"/>
<path d="M629.6 97.1L631.4 97.1L631.4 98.4L632.7 98.4L632.7 100.1L631.4 100.1L631.4 101.4L629.6 101.4L629.6 100.1L628.4 100.1L628.4 98.4L629.6 98.4Z"/>
<path d="M632.5 93.7L634.2 93.7L634.2 95.0L635.5 95.0L635.5 96.8L634.2 96.8L634.2 98.0L632.5 98.0L632.5 96.8L631.2 96.8L631.2 95.0L632.5 95.0Z"/>
<path d="M635.4 87.6L637.1 87.6L637.1 88.9L638.4 88.9L638.4 90.6L637.1 90.6L637.1 91.9L635.4 91.9L635.4 90.6L634.1 90.6L634.1 88.9L635.4 88.9Z"/>
<path d="M638.3 85.0L640.0 85.0L640.0 86.3L641.3 86.3L641.3 88.0L640.0 88.0L640.0 89.3L638.3 89.3L638.3 88.0L637.0 88.0L637.0 86.3L638.3 86.3Z"/>
<path d="M641.1 97.1L642.8 97.1L642.8 98.4L644.1 98.4L644.1 100.1L642.8 100.1L642.8 101.4L641.1 101.4L641.1 100.1L639.8 100.1L639.8 98.4L641.1 98.4Z"/>
<path d="M644.0 85.0L645.7 85.0L645.7 86.3L647.0 86.3L647.0 88.0L645.7 88.0L645.7 89.3L644.0 89.3L644.0 88.0L642.7 88.0L642.7 86.3L644.0 86.3Z"/>
<path d="M646.9 89.4L648.6 89.4L648.6 90.7L649.9 90.7L649.9 92.4L648.6 92.4L648.6 93.7L646.9 93.7L646.9 92.4L645.6 92.4L645.6 90.7L646.9 90.7Z"/>
<path d="M649.7 96.1L651.4 96.1L651.4 97.4L652.7 97.4L652.7 99.1L651.4 99.1L651.4 100.4L649.7 100.4L649.7 99.1L648.4 99.1L648.4 97.4L649.7 97.4Z"/>
<path d="M652.6 92.7L654.3 92.7L654.3 94.0L655.6 94.0L655.6 95.7L654.3 95.7L654.3 97.0L652.6 97.0L652.6 95.7L651.3 95.7L651.3 94.0L652.6 94.0Z"/>
<path d="M655.5 90.8L657.2 90.8L657.2 92.1L658.5 92.1L658.5 93.8L657.2 93.8L657.2 95.1L655.5 95.1L655.5 93.8L654.2 93.8L654.2 92.1L655.5 92.1Z"/>
<path d="M658.3 89.8L660.0 89.8L660.0 91.1L661.3 91.1L661.3 92.8L660.0 92.8L660.0 94.1L658.3 94.1L658.3 92.8L657.0 92.8L657.0 91.1L658.3 91.1Z"/>
</g>
<rect x="613.4000000000001" y="106.09999999999998" width="49.80" height="26.70" rx="1.8" fill="#fff" fill-opacity="0.8" stroke="#dadada" stroke-width="0.8"/>
<line x1="616.0000000000001" y1="112.90" x2="633.6000000000001" y2="112.90" stroke="#f5c8b1" stroke-width="1.6"/>
<circle cx="624.90" cy="112.90" r="2.05" fill="#ad2430" stroke="#fff" stroke-width="0.7" paint-order="stroke"/>
<line x1="616.0000000000001" y1="124.90" x2="633.6000000000001" y2="124.90" stroke="#c0daed" stroke-width="1.6"/>
<path d="M623.8 122.2L626.0 122.2L626.0 123.8L627.6 123.8L627.6 126.0L626.0 126.0L626.0 127.6L623.8 127.6L623.8 126.0L622.2 126.0L622.2 123.8L623.8 123.8Z" fill="#336db4" stroke="#fff" stroke-width="0.7" paint-order="stroke"/>
<rect x="43.95" y="176.5" width="180.85" height="53.80" fill="none" stroke="#444444" stroke-width="0.95"/>
<line x1="41.650000000000006" y1="181.6" x2="43.95" y2="181.6" stroke="#444444" stroke-width="0.8"/>
<line x1="41.650000000000006" y1="201.0" x2="43.95" y2="201.0" stroke="#444444" stroke-width="0.8"/>
<line x1="41.650000000000006" y1="221.4" x2="43.95" y2="221.4" stroke="#444444" stroke-width="0.8"/>
<line x1="52.17" y1="230.3" x2="52.17" y2="232.60000000000002" stroke="#444444" stroke-width="0.8"/>
<line x1="81.01" y1="230.3" x2="81.01" y2="232.60000000000002" stroke="#444444" stroke-width="0.8"/>
<line x1="109.86" y1="230.3" x2="109.86" y2="232.60000000000002" stroke="#444444" stroke-width="0.8"/>
<line x1="138.70" y1="230.3" x2="138.70" y2="232.60000000000002" stroke="#444444" stroke-width="0.8"/>
<line x1="167.55" y1="230.3" x2="167.55" y2="232.60000000000002" stroke="#444444" stroke-width="0.8"/>
<line x1="196.39" y1="230.3" x2="196.39" y2="232.60000000000002" stroke="#444444" stroke-width="0.8"/>
<polyline points="52.2,195.2 55.1,202.8 57.9,228.0 60.8,221.4 63.7,203.2 66.6,195.9 69.5,183.9 72.4,181.3 75.2,184.2 78.1,184.5 81.0,183.1 83.9,186.8 86.8,189.3 89.7,184.5 92.6,188.3 95.4,185.7 98.3,190.1 101.2,190.1 104.1,187.9 107.0,188.6 109.9,188.6 112.7,189.0 115.6,193.7 118.5,190.8 121.4,191.2 124.3,192.2 127.2,191.5 130.0,191.2 132.9,191.5 135.8,191.2 138.7,191.5 141.6,191.5 144.5,191.2 147.4,190.8 150.2,192.2 153.1,192.2 156.0,191.5 158.9,191.8 161.8,190.8 164.7,192.2 167.5,191.5 170.4,191.8 173.3,193.0 176.2,191.5 179.1,192.2 182.0,192.7 184.9,191.5 187.7,190.8 190.6,190.4 193.5,190.8 196.4,191.2 199.3,191.2 202.2,191.5 205.0,190.8 207.9,191.2 210.8,191.2 213.7,190.8 216.6,190.8" fill="none" stroke="#f5c8b1" stroke-width="1.6" stroke-linejoin="round"/>
<polyline points="52.2,190.8 55.1,198.1 57.9,198.1 60.8,195.2 63.7,199.5 66.6,194.4 69.5,191.2 72.4,195.2 75.2,199.1 78.1,196.2 81.0,195.6 83.9,199.1 86.8,209.3 89.7,210.2 92.6,212.7 95.4,208.3 98.3,204.4 101.2,190.1 104.1,189.8 107.0,188.6 109.9,190.8 112.7,191.8 115.6,190.8 118.5,188.9 121.4,188.6 124.3,186.4 127.2,187.1 130.0,187.4 132.9,186.8 135.8,186.8 138.7,186.0 141.6,183.9 144.5,182.0 147.4,182.0 150.2,180.6 153.1,183.9 156.0,183.5 158.9,181.0 161.8,180.6 164.7,181.3 167.5,181.0 170.4,180.6 173.3,178.7 176.2,180.6 179.1,181.0 182.0,180.6 184.9,183.1 187.7,183.1 190.6,183.5 193.5,182.5 196.4,181.3 199.3,178.7 202.2,180.6 205.0,183.9 207.9,184.9 210.8,182.8 213.7,182.5 216.6,182.0" fill="none" stroke="#c0daed" stroke-width="1.6" stroke-linejoin="round"/>
<g fill="#ad2430" stroke="#fff" stroke-width="0.7" paint-order="stroke">
<path d="M52.2 193.0L54.3 195.2L52.2 197.3L50.0 195.2Z"/>
<path d="M55.1 200.3L57.6 202.8L55.1 205.3L52.6 202.8Z"/>
<path d="M57.9 225.5L60.4 228.0L57.9 230.5L55.4 228.0Z"/>
<path d="M60.8 218.9L63.3 221.4L60.8 223.9L58.3 221.4Z"/>
<path d="M63.7 200.7L66.2 203.2L63.7 205.7L61.2 203.2Z"/>
<path d="M66.6 194.0L68.4 195.9L66.6 197.7L64.7 195.9Z"/>
<path d="M69.5 181.4L72.0 183.9L69.5 186.4L67.0 183.9Z"/>
<path d="M72.4 178.8L74.9 181.3L72.4 183.8L69.9 181.3Z"/>
<path d="M75.2 181.7L77.7 184.2L75.2 186.7L72.7 184.2Z"/>
<path d="M78.1 182.0L80.6 184.5L78.1 187.0L75.6 184.5Z"/>
<path d="M81.0 180.6L83.5 183.1L81.0 185.6L78.5 183.1Z"/>
<path d="M83.9 184.3L86.4 186.8L83.9 189.3L81.4 186.8Z"/>
<path d="M86.8 186.8L89.3 189.3L86.8 191.8L84.3 189.3Z"/>
<path d="M89.7 182.0L92.2 184.5L89.7 187.0L87.2 184.5Z"/>
<path d="M92.6 185.8L95.1 188.3L92.6 190.8L90.1 188.3Z"/>
<path d="M95.4 183.2L97.9 185.7L95.4 188.2L92.9 185.7Z"/>
<path d="M98.3 187.6L100.8 190.1L98.3 192.6L95.8 190.1Z"/>
<path d="M101.2 188.2L103.1 190.1L101.2 191.9L99.4 190.1Z"/>
<path d="M104.1 186.0L105.9 187.9L104.1 189.7L102.2 187.9Z"/>
<path d="M107.0 186.7L108.8 188.6L107.0 190.4L105.1 188.6Z"/>
<path d="M109.9 186.7L111.7 188.6L109.9 190.4L108.0 188.6Z"/>
<path d="M112.7 187.2L114.6 189.0L112.7 190.9L110.9 189.0Z"/>
<path d="M115.6 191.6L117.8 193.7L115.6 195.9L113.5 193.7Z"/>
<path d="M118.5 188.9L120.4 190.8L118.5 192.6L116.7 190.8Z"/>
<path d="M121.4 189.4L123.2 191.2L121.4 193.1L119.5 191.2Z"/>
<path d="M124.3 190.4L126.1 192.2L124.3 194.1L122.4 192.2Z"/>
<path d="M127.2 189.7L129.0 191.5L127.2 193.4L125.3 191.5Z"/>
<path d="M130.0 189.4L131.9 191.2L130.0 193.1L128.2 191.2Z"/>
<path d="M132.9 189.7L134.8 191.5L132.9 193.4L131.1 191.5Z"/>
<path d="M135.8 189.4L137.7 191.2L135.8 193.1L134.0 191.2Z"/>
<path d="M138.7 189.7L140.6 191.5L138.7 193.4L136.9 191.5Z"/>
<path d="M141.6 189.7L143.4 191.5L141.6 193.4L139.7 191.5Z"/>
<path d="M144.5 189.4L146.3 191.2L144.5 193.1L142.6 191.2Z"/>
<path d="M147.4 188.9L149.2 190.8L147.4 192.6L145.5 190.8Z"/>
<path d="M150.2 190.4L152.1 192.2L150.2 194.1L148.4 192.2Z"/>
<path d="M153.1 190.4L155.0 192.2L153.1 194.1L151.3 192.2Z"/>
<path d="M156.0 189.7L157.9 191.5L156.0 193.4L154.2 191.5Z"/>
<path d="M158.9 190.0L160.7 191.8L158.9 193.7L157.0 191.8Z"/>
<path d="M161.8 188.9L163.6 190.8L161.8 192.6L159.9 190.8Z"/>
<path d="M164.7 190.4L166.5 192.2L164.7 194.1L162.8 192.2Z"/>
<path d="M167.5 189.7L169.4 191.5L167.5 193.4L165.7 191.5Z"/>
<path d="M170.4 190.0L172.3 191.8L170.4 193.7L168.6 191.8Z"/>
<path d="M173.3 191.1L175.2 193.0L173.3 194.8L171.5 193.0Z"/>
<path d="M176.2 189.7L178.0 191.5L176.2 193.4L174.3 191.5Z"/>
<path d="M179.1 190.4L180.9 192.2L179.1 194.1L177.2 192.2Z"/>
<path d="M182.0 190.8L183.8 192.7L182.0 194.5L180.1 192.7Z"/>
<path d="M184.9 189.7L186.7 191.5L184.9 193.4L183.0 191.5Z"/>
<path d="M187.7 188.9L189.6 190.8L187.7 192.6L185.9 190.8Z"/>
<path d="M190.6 188.5L192.5 190.4L190.6 192.2L188.8 190.4Z"/>
<path d="M193.5 188.9L195.4 190.8L193.5 192.6L191.7 190.8Z"/>
<path d="M196.4 189.4L198.2 191.2L196.4 193.1L194.5 191.2Z"/>
<path d="M199.3 189.4L201.1 191.2L199.3 193.1L197.4 191.2Z"/>
<path d="M202.2 189.7L204.0 191.5L202.2 193.4L200.3 191.5Z"/>
<path d="M205.0 188.9L206.9 190.8L205.0 192.6L203.2 190.8Z"/>
<path d="M207.9 189.4L209.8 191.2L207.9 193.1L206.1 191.2Z"/>
<path d="M210.8 189.4L212.7 191.2L210.8 193.1L209.0 191.2Z"/>
<path d="M213.7 188.9L215.5 190.8L213.7 192.6L211.8 190.8Z"/>
<path d="M216.6 188.9L218.4 190.8L216.6 192.6L214.7 190.8Z"/>
</g>
<g fill="#336db4" stroke="#fff" stroke-width="0.7" paint-order="stroke">
<path d="M50.9 188.5L52.2 189.8L53.5 188.5L54.4 189.5L53.1 190.8L54.4 192.1L53.5 193.0L52.2 191.7L50.9 193.0L49.9 192.1L51.2 190.8L49.9 189.5Z"/>
<path d="M53.7 195.8L55.1 197.1L56.4 195.8L57.3 196.8L56.0 198.1L57.3 199.4L56.4 200.3L55.1 199.0L53.7 200.3L52.8 199.4L54.1 198.1L52.8 196.8Z"/>
<path d="M56.6 195.8L57.9 197.1L59.2 195.8L60.2 196.8L58.9 198.1L60.2 199.4L59.2 200.3L57.9 199.0L56.6 200.3L55.7 199.4L57.0 198.1L55.7 196.8Z"/>
<path d="M59.5 192.9L60.8 194.2L62.1 192.9L63.1 193.9L61.8 195.2L63.1 196.5L62.1 197.4L60.8 196.1L59.5 197.4L58.6 196.5L59.9 195.2L58.6 193.9Z"/>
<path d="M62.4 197.3L63.7 198.6L65.0 197.3L66.0 198.2L64.7 199.5L66.0 200.9L65.0 201.8L63.7 200.5L62.4 201.8L61.5 200.9L62.8 199.5L61.5 198.2Z"/>
<path d="M65.3 192.2L66.6 193.5L67.9 192.2L68.8 193.1L67.5 194.4L68.8 195.7L67.9 196.7L66.6 195.4L65.3 196.7L64.3 195.7L65.6 194.4L64.3 193.1Z"/>
<path d="M68.2 189.0L69.5 190.3L70.8 189.0L71.7 189.9L70.4 191.2L71.7 192.5L70.8 193.5L69.5 192.2L68.2 193.5L67.2 192.5L68.5 191.2L67.2 189.9Z"/>
<path d="M71.1 192.9L72.4 194.2L73.7 192.9L74.6 193.9L73.3 195.2L74.6 196.5L73.7 197.4L72.4 196.1L71.1 197.4L70.1 196.5L71.4 195.2L70.1 193.9Z"/>
<path d="M73.9 196.9L75.2 198.2L76.6 196.9L77.5 197.8L76.2 199.1L77.5 200.4L76.6 201.4L75.2 200.1L73.9 201.4L73.0 200.4L74.3 199.1L73.0 197.8Z"/>
<path d="M76.8 193.9L78.1 195.2L79.4 193.9L80.4 194.9L79.1 196.2L80.4 197.5L79.4 198.4L78.1 197.1L76.8 198.4L75.9 197.5L77.2 196.2L75.9 194.9Z"/>
<path d="M79.7 193.4L81.0 194.7L82.3 193.4L83.3 194.3L82.0 195.6L83.3 196.9L82.3 197.9L81.0 196.6L79.7 197.9L78.8 196.9L80.1 195.6L78.8 194.3Z"/>
<path d="M82.6 196.9L83.9 198.2L85.2 196.9L86.1 197.8L84.8 199.1L86.1 200.4L85.2 201.4L83.9 200.1L82.6 201.4L81.6 200.4L83.0 199.1L81.6 197.8Z"/>
<path d="M85.5 207.1L86.8 208.4L88.1 207.1L89.0 208.0L87.7 209.3L89.0 210.6L88.1 211.6L86.8 210.3L85.5 211.6L84.5 210.6L85.8 209.3L84.5 208.0Z"/>
<path d="M88.4 208.0L89.7 209.3L91.0 208.0L91.9 208.9L90.6 210.2L91.9 211.5L91.0 212.5L89.7 211.1L88.4 212.5L87.4 211.5L88.7 210.2L87.4 208.9Z"/>
<path d="M91.2 210.4L92.6 211.7L93.9 210.4L94.8 211.4L93.5 212.7L94.8 214.0L93.9 214.9L92.6 213.6L91.2 214.9L90.3 214.0L91.6 212.7L90.3 211.4Z"/>
<path d="M94.1 206.1L95.4 207.4L96.7 206.1L97.7 207.0L96.4 208.3L97.7 209.6L96.7 210.6L95.4 209.3L94.1 210.6L93.2 209.6L94.5 208.3L93.2 207.0Z"/>
<path d="M97.0 202.1L98.3 203.4L99.6 202.1L100.6 203.1L99.3 204.4L100.6 205.7L99.6 206.6L98.3 205.3L97.0 206.6L96.1 205.7L97.4 204.4L96.1 203.1Z"/>
<path d="M100.1 188.2L101.2 189.3L102.3 188.2L103.1 189.0L102.0 190.1L103.1 191.1L102.3 191.9L101.2 190.8L100.1 191.9L99.4 191.1L100.4 190.1L99.4 189.0Z"/>
<path d="M103.0 187.9L104.1 189.0L105.2 187.9L105.9 188.7L104.9 189.8L105.9 190.8L105.2 191.6L104.1 190.5L103.0 191.6L102.2 190.8L103.3 189.8L102.2 188.7Z"/>
<path d="M105.9 186.7L107.0 187.8L108.0 186.7L108.8 187.5L107.8 188.6L108.8 189.7L108.0 190.4L107.0 189.4L105.9 190.4L105.1 189.7L106.2 188.6L105.1 187.5Z"/>
<path d="M108.8 188.9L109.9 190.0L110.9 188.9L111.7 189.7L110.6 190.8L111.7 191.9L110.9 192.6L109.9 191.6L108.8 192.6L108.0 191.9L109.1 190.8L108.0 189.7Z"/>
<path d="M111.7 190.0L112.7 191.0L113.8 190.0L114.6 190.7L113.5 191.8L114.6 192.9L113.8 193.7L112.7 192.6L111.7 193.7L110.9 192.9L112.0 191.8L110.9 190.7Z"/>
<path d="M114.6 188.9L115.6 190.0L116.7 188.9L117.5 189.7L116.4 190.8L117.5 191.9L116.7 192.6L115.6 191.6L114.6 192.6L113.8 191.9L114.8 190.8L113.8 189.7Z"/>
<path d="M117.4 187.0L118.5 188.1L119.6 187.0L120.4 187.8L119.3 188.9L120.4 190.0L119.6 190.7L118.5 189.7L117.4 190.7L116.7 190.0L117.7 188.9L116.7 187.8Z"/>
<path d="M120.3 186.7L121.4 187.8L122.5 186.7L123.2 187.5L122.2 188.6L123.2 189.7L122.5 190.4L121.4 189.4L120.3 190.4L119.5 189.7L120.6 188.6L119.5 187.5Z"/>
<path d="M123.2 184.6L124.3 185.6L125.4 184.6L126.1 185.3L125.1 186.4L126.1 187.5L125.4 188.3L124.3 187.2L123.2 188.3L122.4 187.5L123.5 186.4L122.4 185.3Z"/>
<path d="M126.1 185.3L127.2 186.4L128.2 185.3L129.0 186.1L127.9 187.1L129.0 188.2L128.2 189.0L127.2 187.9L126.1 189.0L125.3 188.2L126.4 187.1L125.3 186.1Z"/>
<path d="M129.0 185.6L130.0 186.7L131.1 185.6L131.9 186.4L130.8 187.4L131.9 188.5L131.1 189.3L130.0 188.2L129.0 189.3L128.2 188.5L129.3 187.4L128.2 186.4Z"/>
<path d="M131.9 185.0L132.9 186.1L134.0 185.0L134.8 185.8L133.7 186.8L134.8 187.9L134.0 188.7L132.9 187.6L131.9 188.7L131.1 187.9L132.2 186.8L131.1 185.8Z"/>
<path d="M134.7 185.0L135.8 186.1L136.9 185.0L137.7 185.8L136.6 186.8L137.7 187.9L136.9 188.7L135.8 187.6L134.7 188.7L134.0 187.9L135.0 186.8L134.0 185.8Z"/>
<path d="M137.6 184.1L138.7 185.2L139.8 184.1L140.6 184.9L139.5 186.0L140.6 187.0L139.8 187.8L138.7 186.7L137.6 187.8L136.9 187.0L137.9 186.0L136.9 184.9Z"/>
<path d="M140.5 182.1L141.6 183.2L142.7 182.1L143.4 182.9L142.4 183.9L143.4 185.0L142.7 185.8L141.6 184.7L140.5 185.8L139.7 185.0L140.8 183.9L139.7 182.9Z"/>
<path d="M143.4 180.2L144.5 181.3L145.5 180.2L146.3 181.0L145.2 182.0L146.3 183.1L145.5 183.9L144.5 182.8L143.4 183.9L142.6 183.1L143.7 182.0L142.6 181.0Z"/>
<path d="M146.3 180.2L147.4 181.3L148.4 180.2L149.2 181.0L148.1 182.0L149.2 183.1L148.4 183.9L147.4 182.8L146.3 183.9L145.5 183.1L146.6 182.0L145.5 181.0Z"/>
<path d="M149.2 178.7L150.2 179.8L151.3 178.7L152.1 179.5L151.0 180.6L152.1 181.6L151.3 182.4L150.2 181.3L149.2 182.4L148.4 181.6L149.5 180.6L148.4 179.5Z"/>
<path d="M152.1 182.1L153.1 183.2L154.2 182.1L155.0 182.9L153.9 183.9L155.0 185.0L154.2 185.8L153.1 184.7L152.1 185.8L151.3 185.0L152.3 183.9L151.3 182.9Z"/>
<path d="M154.9 181.6L156.0 182.7L157.1 181.6L157.9 182.4L156.8 183.5L157.9 184.6L157.1 185.3L156.0 184.3L154.9 185.3L154.2 184.6L155.2 183.5L154.2 182.4Z"/>
<path d="M157.8 179.2L158.9 180.2L160.0 179.2L160.7 179.9L159.7 181.0L160.7 182.1L160.0 182.9L158.9 181.8L157.8 182.9L157.0 182.1L158.1 181.0L157.0 179.9Z"/>
<path d="M160.7 178.7L161.8 179.8L162.8 178.7L163.6 179.5L162.6 180.6L163.6 181.6L162.8 182.4L161.8 181.3L160.7 182.4L159.9 181.6L161.0 180.6L159.9 179.5Z"/>
<path d="M163.6 179.4L164.7 180.5L165.7 179.4L166.5 180.2L165.4 181.3L166.5 182.4L165.7 183.1L164.7 182.1L163.6 183.1L162.8 182.4L163.9 181.3L162.8 180.2Z"/>
<path d="M166.5 179.2L167.5 180.2L168.6 179.2L169.4 179.9L168.3 181.0L169.4 182.1L168.6 182.9L167.5 181.8L166.5 182.9L165.7 182.1L166.8 181.0L165.7 179.9Z"/>
<path d="M169.4 178.7L170.4 179.8L171.5 178.7L172.3 179.5L171.2 180.6L172.3 181.6L171.5 182.4L170.4 181.3L169.4 182.4L168.6 181.6L169.7 180.6L168.6 179.5Z"/>
<path d="M172.2 176.8L173.3 177.9L174.4 176.8L175.2 177.6L174.1 178.7L175.2 179.7L174.4 180.5L173.3 179.4L172.2 180.5L171.5 179.7L172.5 178.7L171.5 177.6Z"/>
<path d="M175.1 178.7L176.2 179.8L177.3 178.7L178.0 179.5L177.0 180.6L178.0 181.6L177.3 182.4L176.2 181.3L175.1 182.4L174.3 181.6L175.4 180.6L174.3 179.5Z"/>
<path d="M178.0 179.2L179.1 180.2L180.2 179.2L180.9 179.9L179.9 181.0L180.9 182.1L180.2 182.9L179.1 181.8L178.0 182.9L177.2 182.1L178.3 181.0L177.2 179.9Z"/>
<path d="M180.9 178.7L182.0 179.8L183.0 178.7L183.8 179.5L182.7 180.6L183.8 181.6L183.0 182.4L182.0 181.3L180.9 182.4L180.1 181.6L181.2 180.6L180.1 179.5Z"/>
<path d="M183.8 181.2L184.9 182.3L185.9 181.2L186.7 182.0L185.6 183.1L186.7 184.1L185.9 184.9L184.9 183.8L183.8 184.9L183.0 184.1L184.1 183.1L183.0 182.0Z"/>
<path d="M186.7 181.2L187.7 182.3L188.8 181.2L189.6 182.0L188.5 183.1L189.6 184.1L188.8 184.9L187.7 183.8L186.7 184.9L185.9 184.1L187.0 183.1L185.9 182.0Z"/>
<path d="M189.5 181.6L190.6 182.7L191.7 181.6L192.5 182.4L191.4 183.5L192.5 184.6L191.7 185.3L190.6 184.3L189.5 185.3L188.8 184.6L189.8 183.5L188.8 182.4Z"/>
<path d="M192.4 180.6L193.5 181.7L194.6 180.6L195.4 181.4L194.3 182.5L195.4 183.5L194.6 184.3L193.5 183.2L192.4 184.3L191.7 183.5L192.7 182.5L191.7 181.4Z"/>
<path d="M195.3 179.4L196.4 180.5L197.5 179.4L198.2 180.2L197.2 181.3L198.2 182.4L197.5 183.1L196.4 182.1L195.3 183.1L194.5 182.4L195.6 181.3L194.5 180.2Z"/>
<path d="M198.2 176.8L199.3 177.9L200.3 176.8L201.1 177.6L200.1 178.7L201.1 179.7L200.3 180.5L199.3 179.4L198.2 180.5L197.4 179.7L198.5 178.7L197.4 177.6Z"/>
<path d="M201.1 178.7L202.2 179.8L203.2 178.7L204.0 179.5L202.9 180.6L204.0 181.6L203.2 182.4L202.2 181.3L201.1 182.4L200.3 181.6L201.4 180.6L200.3 179.5Z"/>
<path d="M204.0 182.1L205.0 183.2L206.1 182.1L206.9 182.9L205.8 183.9L206.9 185.0L206.1 185.8L205.0 184.7L204.0 185.8L203.2 185.0L204.3 183.9L203.2 182.9Z"/>
<path d="M206.9 183.1L207.9 184.2L209.0 183.1L209.8 183.9L208.7 184.9L209.8 186.0L209.0 186.8L207.9 185.7L206.9 186.8L206.1 186.0L207.1 184.9L206.1 183.9Z"/>
<path d="M209.7 180.9L210.8 182.0L211.9 180.9L212.7 181.7L211.6 182.8L212.7 183.8L211.9 184.6L210.8 183.5L209.7 184.6L209.0 183.8L210.0 182.8L209.0 181.7Z"/>
<path d="M212.6 180.6L213.7 181.7L214.8 180.6L215.5 181.4L214.5 182.5L215.5 183.5L214.8 184.3L213.7 183.2L212.6 184.3L211.8 183.5L212.9 182.5L211.8 181.4Z"/>
<path d="M215.5 180.2L216.6 181.3L217.7 180.2L218.4 181.0L217.4 182.0L218.4 183.1L217.7 183.9L216.6 182.8L215.5 183.9L214.7 183.1L215.8 182.0L214.7 181.0Z"/>
</g>
<rect x="171.9" y="199.20000000000002" width="48.60" height="26.70" rx="1.8" fill="#fff" fill-opacity="0.8" stroke="#dadada" stroke-width="0.8"/>
<line x1="174.5" y1="206.00" x2="192.1" y2="206.00" stroke="#f5c8b1" stroke-width="1.6"/>
<path d="M183.4 203.6L185.8 206.0L183.4 208.4L181.0 206.0Z" fill="#ad2430" stroke="#fff" stroke-width="0.7" paint-order="stroke"/>
<line x1="174.5" y1="218.00" x2="192.1" y2="218.00" stroke="#c0daed" stroke-width="1.6"/>
<path d="M182.2 215.9L183.4 217.1L184.6 215.9L185.5 216.8L184.3 218.0L185.5 219.2L184.6 220.1L183.4 218.9L182.2 220.1L181.3 219.2L182.5 218.0L181.3 216.8Z" fill="#336db4" stroke="#fff" stroke-width="0.7" paint-order="stroke"/>
<rect x="43.95" y="241.3" width="180.85" height="53.10" fill="none" stroke="#444444" stroke-width="0.95"/>
<line x1="41.650000000000006" y1="266.0" x2="43.95" y2="266.0" stroke="#444444" stroke-width="0.8"/>
<line x1="41.650000000000006" y1="291.6" x2="43.95" y2="291.6" stroke="#444444" stroke-width="0.8"/>
<line x1="52.17" y1="294.4" x2="52.17" y2="296.7" stroke="#444444" stroke-width="0.8"/>
<line x1="81.01" y1="294.4" x2="81.01" y2="296.7" stroke="#444444" stroke-width="0.8"/>
<line x1="109.86" y1="294.4" x2="109.86" y2="296.7" stroke="#444444" stroke-width="0.8"/>
<line x1="138.70" y1="294.4" x2="138.70" y2="296.7" stroke="#444444" stroke-width="0.8"/>
<line x1="167.55" y1="294.4" x2="167.55" y2="296.7" stroke="#444444" stroke-width="0.8"/>
<line x1="196.39" y1="294.4" x2="196.39" y2="296.7" stroke="#444444" stroke-width="0.8"/>
<polyline points="52.2,259.4 55.1,264.8 57.9,291.6 60.8,277.7 63.7,266.3 66.6,262.1 69.5,252.1 72.4,247.0 75.2,247.5 78.1,248.9 81.0,247.8 83.9,249.9 86.8,247.5 89.7,250.7 92.6,251.4 95.4,251.4 98.3,251.0 101.2,252.1 104.1,251.8 107.0,251.8 109.9,252.1 112.7,252.1 115.6,253.6 118.5,252.4 121.4,252.9 124.3,252.4 127.2,252.1 130.0,252.4 132.9,252.1 135.8,252.4 138.7,252.9 141.6,252.1 144.5,252.1 147.4,252.4 150.2,253.6 153.1,252.4 156.0,252.4 158.9,252.1 161.8,252.1 164.7,252.1 167.5,252.9 170.4,252.9 173.3,252.4 176.2,252.4 179.1,252.4 182.0,252.4 184.9,252.1 187.7,252.1 190.6,252.1 193.5,252.4 196.4,252.4 199.3,252.4 202.2,252.4 205.0,252.4 207.9,252.4 210.8,252.4 213.7,252.1 216.6,252.1" fill="none" stroke="#f5c8b1" stroke-width="1.6" stroke-linejoin="round"/>
<polyline points="52.2,251.8 55.1,258.7 57.9,257.7 60.8,253.3 63.7,257.2 66.6,253.9 69.5,251.4 72.4,252.9 75.2,253.9 78.1,253.6 81.0,254.3 83.9,255.4 86.8,270.4 89.7,274.0 92.6,274.3 95.4,275.2 98.3,267.9 101.2,249.5 104.1,249.9 107.0,250.4 109.9,250.7 112.7,251.0 115.6,251.4 118.5,249.9 121.4,248.9 124.3,247.8 127.2,247.0 130.0,247.8 132.9,247.0 135.8,246.3 138.7,245.6 141.6,245.6 144.5,245.1 147.4,244.5 150.2,244.1 153.1,244.8 156.0,245.6 158.9,246.0 161.8,245.6 164.7,245.1 167.5,244.8 170.4,244.1 173.3,243.1 176.2,242.2 179.1,243.4 182.0,244.1 184.9,244.8 187.7,245.6 190.6,246.0 193.5,245.6 196.4,244.5 199.3,243.4 202.2,242.6 205.0,242.2 207.9,244.1 210.8,244.8 213.7,245.1 216.6,244.8" fill="none" stroke="#c0daed" stroke-width="1.6" stroke-linejoin="round"/>
<g fill="#ad2430" stroke="#fff" stroke-width="0.7" paint-order="stroke">
<circle cx="52.2" cy="259.4" r="1.85"/>
<circle cx="55.1" cy="264.8" r="2.10"/>
<circle cx="57.9" cy="291.6" r="2.10"/>
<circle cx="60.8" cy="277.7" r="2.10"/>
<circle cx="63.7" cy="266.3" r="2.10"/>
<circle cx="66.6" cy="262.1" r="2.10"/>
<circle cx="69.5" cy="252.1" r="1.65"/>
<circle cx="72.4" cy="247.0" r="2.10"/>
<circle cx="75.2" cy="247.5" r="2.10"/>
<circle cx="78.1" cy="248.9" r="2.10"/>
<circle cx="81.0" cy="247.8" r="2.10"/>
<circle cx="83.9" cy="249.9" r="2.10"/>
<circle cx="86.8" cy="247.5" r="2.10"/>
<circle cx="89.7" cy="250.7" r="1.65"/>
<circle cx="92.6" cy="251.4" r="1.65"/>
<circle cx="95.4" cy="251.4" r="1.65"/>
<circle cx="98.3" cy="251.0" r="1.65"/>
<circle cx="101.2" cy="252.1" r="1.65"/>
<circle cx="104.1" cy="251.8" r="1.65"/>
<circle cx="107.0" cy="251.8" r="1.65"/>
<circle cx="109.9" cy="252.1" r="1.65"/>
<circle cx="112.7" cy="252.1" r="1.65"/>
<circle cx="115.6" cy="253.6" r="1.85"/>
<circle cx="118.5" cy="252.4" r="1.65"/>
<circle cx="121.4" cy="252.9" r="1.65"/>
<circle cx="124.3" cy="252.4" r="1.65"/>
<circle cx="127.2" cy="252.1" r="1.65"/>
<circle cx="130.0" cy="252.4" r="1.65"/>
<circle cx="132.9" cy="252.1" r="1.65"/>
<circle cx="135.8" cy="252.4" r="1.65"/>
<circle cx="138.7" cy="252.9" r="1.65"/>
<circle cx="141.6" cy="252.1" r="1.65"/>
<circle cx="144.5" cy="252.1" r="1.65"/>
<circle cx="147.4" cy="252.4" r="1.65"/>
<circle cx="150.2" cy="253.6" r="1.85"/>
<circle cx="153.1" cy="252.4" r="1.65"/>
<circle cx="156.0" cy="252.4" r="1.65"/>
<circle cx="158.9" cy="252.1" r="1.65"/>
<circle cx="161.8" cy="252.1" r="1.65"/>
<circle cx="164.7" cy="252.1" r="1.65"/>
<circle cx="167.5" cy="252.9" r="1.65"/>
<circle cx="170.4" cy="252.9" r="1.65"/>
<circle cx="173.3" cy="252.4" r="1.65"/>
<circle cx="176.2" cy="252.4" r="1.65"/>
<circle cx="179.1" cy="252.4" r="1.65"/>
<circle cx="182.0" cy="252.4" r="1.65"/>
<circle cx="184.9" cy="252.1" r="1.65"/>
<circle cx="187.7" cy="252.1" r="1.65"/>
<circle cx="190.6" cy="252.1" r="1.65"/>
<circle cx="193.5" cy="252.4" r="1.65"/>
<circle cx="196.4" cy="252.4" r="1.65"/>
<circle cx="199.3" cy="252.4" r="1.65"/>
<circle cx="202.2" cy="252.4" r="1.65"/>
<circle cx="205.0" cy="252.4" r="1.65"/>
<circle cx="207.9" cy="252.4" r="1.65"/>
<circle cx="210.8" cy="252.4" r="1.65"/>
<circle cx="213.7" cy="252.1" r="1.65"/>
<circle cx="216.6" cy="252.1" r="1.65"/>
</g>
<g fill="#336db4" stroke="#fff" stroke-width="0.7" paint-order="stroke">
<path d="M51.1 249.2L53.2 249.2L53.2 250.8L54.8 250.8L54.8 252.9L53.2 252.9L53.2 254.4L51.1 254.4L51.1 252.9L49.6 252.9L49.6 250.8L51.1 250.8Z"/>
<path d="M54.0 256.1L56.1 256.1L56.1 257.7L57.7 257.7L57.7 259.7L56.1 259.7L56.1 261.3L54.0 261.3L54.0 259.7L52.5 259.7L52.5 257.7L54.0 257.7Z"/>
<path d="M56.9 255.1L59.0 255.1L59.0 256.6L60.5 256.6L60.5 258.7L59.0 258.7L59.0 260.3L56.9 260.3L56.9 258.7L55.3 258.7L55.3 256.6L56.9 256.6Z"/>
<path d="M59.8 250.7L61.9 250.7L61.9 252.3L63.4 252.3L63.4 254.3L61.9 254.3L61.9 255.9L59.8 255.9L59.8 254.3L58.2 254.3L58.2 252.3L59.8 252.3Z"/>
<path d="M62.7 254.6L64.7 254.6L64.7 256.2L66.3 256.2L66.3 258.3L64.7 258.3L64.7 259.8L62.7 259.8L62.7 258.3L61.1 258.3L61.1 256.2L62.7 256.2Z"/>
<path d="M65.6 251.3L67.6 251.3L67.6 252.9L69.2 252.9L69.2 254.9L67.6 254.9L67.6 256.5L65.6 256.5L65.6 254.9L64.0 254.9L64.0 252.9L65.6 252.9Z"/>
<path d="M68.4 248.8L70.5 248.8L70.5 250.4L72.1 250.4L72.1 252.4L70.5 252.4L70.5 254.0L68.4 254.0L68.4 252.4L66.9 252.4L66.9 250.4L68.4 250.4Z"/>
<path d="M71.3 250.3L73.4 250.3L73.4 251.8L75.0 251.8L75.0 253.9L73.4 253.9L73.4 255.5L71.3 255.5L71.3 253.9L69.8 253.9L69.8 251.8L71.3 251.8Z"/>
<path d="M74.2 251.3L76.3 251.3L76.3 252.9L77.8 252.9L77.8 254.9L76.3 254.9L76.3 256.5L74.2 256.5L74.2 254.9L72.6 254.9L72.6 252.9L74.2 252.9Z"/>
<path d="M77.1 251.0L79.2 251.0L79.2 252.6L80.7 252.6L80.7 254.6L79.2 254.6L79.2 256.2L77.1 256.2L77.1 254.6L75.5 254.6L75.5 252.6L77.1 252.6Z"/>
<path d="M80.0 251.7L82.1 251.7L82.1 253.3L83.6 253.3L83.6 255.4L82.1 255.4L82.1 256.9L80.0 256.9L80.0 255.4L78.4 255.4L78.4 253.3L80.0 253.3Z"/>
<path d="M82.9 252.8L84.9 252.8L84.9 254.3L86.5 254.3L86.5 256.4L84.9 256.4L84.9 258.0L82.9 258.0L82.9 256.4L81.3 256.4L81.3 254.3L82.9 254.3Z"/>
<path d="M85.7 267.8L87.8 267.8L87.8 269.3L89.4 269.3L89.4 271.4L87.8 271.4L87.8 273.0L85.7 273.0L85.7 271.4L84.2 271.4L84.2 269.3L85.7 269.3Z"/>
<path d="M88.6 271.4L90.7 271.4L90.7 273.0L92.3 273.0L92.3 275.1L90.7 275.1L90.7 276.6L88.6 276.6L88.6 275.1L87.1 275.1L87.1 273.0L88.6 273.0Z"/>
<path d="M91.5 271.7L93.6 271.7L93.6 273.3L95.2 273.3L95.2 275.4L93.6 275.4L93.6 276.9L91.5 276.9L91.5 275.4L90.0 275.4L90.0 273.3L91.5 273.3Z"/>
<path d="M94.4 272.6L96.5 272.6L96.5 274.2L98.0 274.2L98.0 276.2L96.5 276.2L96.5 277.8L94.4 277.8L94.4 276.2L92.8 276.2L92.8 274.2L94.4 274.2Z"/>
<path d="M97.3 265.3L99.4 265.3L99.4 266.9L100.9 266.9L100.9 268.9L99.4 268.9L99.4 270.5L97.3 270.5L97.3 268.9L95.7 268.9L95.7 266.9L97.3 266.9Z"/>
<path d="M100.3 247.4L102.1 247.4L102.1 248.7L103.4 248.7L103.4 250.4L102.1 250.4L102.1 251.7L100.3 251.7L100.3 250.4L99.1 250.4L99.1 248.7L100.3 248.7Z"/>
<path d="M103.2 247.8L104.9 247.8L104.9 249.1L106.2 249.1L106.2 250.8L104.9 250.8L104.9 252.1L103.2 252.1L103.2 250.8L101.9 250.8L101.9 249.1L103.2 249.1Z"/>
<path d="M106.1 248.2L107.8 248.2L107.8 249.5L109.1 249.5L109.1 251.2L107.8 251.2L107.8 252.5L106.1 252.5L106.1 251.2L104.8 251.2L104.8 249.5L106.1 249.5Z"/>
<path d="M109.0 248.5L110.7 248.5L110.7 249.8L112.0 249.8L112.0 251.5L110.7 251.5L110.7 252.8L109.0 252.8L109.0 251.5L107.7 251.5L107.7 249.8L109.0 249.8Z"/>
<path d="M111.9 248.8L113.6 248.8L113.6 250.1L114.9 250.1L114.9 251.8L113.6 251.8L113.6 253.1L111.9 253.1L111.9 251.8L110.6 251.8L110.6 250.1L111.9 250.1Z"/>
<path d="M114.8 249.3L116.5 249.3L116.5 250.5L117.8 250.5L117.8 252.3L116.5 252.3L116.5 253.6L114.8 253.6L114.8 252.3L113.5 252.3L113.5 250.5L114.8 250.5Z"/>
<path d="M117.7 247.8L119.4 247.8L119.4 249.1L120.7 249.1L120.7 250.8L119.4 250.8L119.4 252.1L117.7 252.1L117.7 250.8L116.4 250.8L116.4 249.1L117.7 249.1Z"/>
<path d="M120.5 246.8L122.3 246.8L122.3 248.1L123.5 248.1L123.5 249.8L122.3 249.8L122.3 251.1L120.5 251.1L120.5 249.8L119.2 249.8L119.2 248.1L120.5 248.1Z"/>
<path d="M123.4 245.6L125.1 245.6L125.1 246.9L126.4 246.9L126.4 248.6L125.1 248.6L125.1 249.9L123.4 249.9L123.4 248.6L122.1 248.6L122.1 246.9L123.4 246.9Z"/>
<path d="M126.3 244.9L128.0 244.9L128.0 246.2L129.3 246.2L129.3 247.9L128.0 247.9L128.0 249.2L126.3 249.2L126.3 247.9L125.0 247.9L125.0 246.2L126.3 246.2Z"/>
<path d="M129.2 245.6L130.9 245.6L130.9 246.9L132.2 246.9L132.2 248.6L130.9 248.6L130.9 249.9L129.2 249.9L129.2 248.6L127.9 248.6L127.9 246.9L129.2 246.9Z"/>
<path d="M132.1 244.9L133.8 244.9L133.8 246.2L135.1 246.2L135.1 247.9L133.8 247.9L133.8 249.2L132.1 249.2L132.1 247.9L130.8 247.9L130.8 246.2L132.1 246.2Z"/>
<path d="M135.0 244.1L136.7 244.1L136.7 245.4L138.0 245.4L138.0 247.2L136.7 247.2L136.7 248.4L135.0 248.4L135.0 247.2L133.7 247.2L133.7 245.4L135.0 245.4Z"/>
<path d="M137.8 243.4L139.6 243.4L139.6 244.7L140.9 244.7L140.9 246.4L139.6 246.4L139.6 247.7L137.8 247.7L137.8 246.4L136.6 246.4L136.6 244.7L137.8 244.7Z"/>
<path d="M140.7 243.4L142.4 243.4L142.4 244.7L143.7 244.7L143.7 246.4L142.4 246.4L142.4 247.7L140.7 247.7L140.7 246.4L139.4 246.4L139.4 244.7L140.7 244.7Z"/>
<path d="M143.6 243.0L145.3 243.0L145.3 244.3L146.6 244.3L146.6 246.0L145.3 246.0L145.3 247.3L143.6 247.3L143.6 246.0L142.3 246.0L142.3 244.3L143.6 244.3Z"/>
<path d="M146.5 242.4L148.2 242.4L148.2 243.7L149.5 243.7L149.5 245.4L148.2 245.4L148.2 246.7L146.5 246.7L146.5 245.4L145.2 245.4L145.2 243.7L146.5 243.7Z"/>
<path d="M149.4 242.0L151.1 242.0L151.1 243.2L152.4 243.2L152.4 245.0L151.1 245.0L151.1 246.3L149.4 246.3L149.4 245.0L148.1 245.0L148.1 243.2L149.4 243.2Z"/>
<path d="M152.3 242.7L154.0 242.7L154.0 244.0L155.3 244.0L155.3 245.7L154.0 245.7L154.0 247.0L152.3 247.0L152.3 245.7L151.0 245.7L151.0 244.0L152.3 244.0Z"/>
<path d="M155.1 243.4L156.9 243.4L156.9 244.7L158.2 244.7L158.2 246.4L156.9 246.4L156.9 247.7L155.1 247.7L155.1 246.4L153.9 246.4L153.9 244.7L155.1 244.7Z"/>
<path d="M158.0 243.9L159.8 243.9L159.8 245.1L161.0 245.1L161.0 246.9L159.8 246.9L159.8 248.2L158.0 248.2L158.0 246.9L156.7 246.9L156.7 245.1L158.0 245.1Z"/>
<path d="M160.9 243.4L162.6 243.4L162.6 244.7L163.9 244.7L163.9 246.4L162.6 246.4L162.6 247.7L160.9 247.7L160.9 246.4L159.6 246.4L159.6 244.7L160.9 244.7Z"/>
<path d="M163.8 243.0L165.5 243.0L165.5 244.3L166.8 244.3L166.8 246.0L165.5 246.0L165.5 247.3L163.8 247.3L163.8 246.0L162.5 246.0L162.5 244.3L163.8 244.3Z"/>
<path d="M166.7 242.7L168.4 242.7L168.4 244.0L169.7 244.0L169.7 245.7L168.4 245.7L168.4 247.0L166.7 247.0L166.7 245.7L165.4 245.7L165.4 244.0L166.7 244.0Z"/>
<path d="M169.6 242.0L171.3 242.0L171.3 243.2L172.6 243.2L172.6 245.0L171.3 245.0L171.3 246.3L169.6 246.3L169.6 245.0L168.3 245.0L168.3 243.2L169.6 243.2Z"/>
<path d="M172.5 240.9L174.2 240.9L174.2 242.2L175.5 242.2L175.5 243.9L174.2 243.9L174.2 245.2L172.5 245.2L172.5 243.9L171.2 243.9L171.2 242.2L172.5 242.2Z"/>
<path d="M175.3 240.1L177.1 240.1L177.1 241.4L178.3 241.4L178.3 243.1L177.1 243.1L177.1 244.4L175.3 244.4L175.3 243.1L174.0 243.1L174.0 241.4L175.3 241.4Z"/>
<path d="M178.2 241.2L179.9 241.2L179.9 242.5L181.2 242.5L181.2 244.2L179.9 244.2L179.9 245.5L178.2 245.5L178.2 244.2L176.9 244.2L176.9 242.5L178.2 242.5Z"/>
<path d="M181.1 242.0L182.8 242.0L182.8 243.2L184.1 243.2L184.1 245.0L182.8 245.0L182.8 246.3L181.1 246.3L181.1 245.0L179.8 245.0L179.8 243.2L181.1 243.2Z"/>
<path d="M184.0 242.7L185.7 242.7L185.7 244.0L187.0 244.0L187.0 245.7L185.7 245.7L185.7 247.0L184.0 247.0L184.0 245.7L182.7 245.7L182.7 244.0L184.0 244.0Z"/>
<path d="M186.9 243.4L188.6 243.4L188.6 244.7L189.9 244.7L189.9 246.4L188.6 246.4L188.6 247.7L186.9 247.7L186.9 246.4L185.6 246.4L185.6 244.7L186.9 244.7Z"/>
<path d="M189.8 243.9L191.5 243.9L191.5 245.1L192.8 245.1L192.8 246.9L191.5 246.9L191.5 248.2L189.8 248.2L189.8 246.9L188.5 246.9L188.5 245.1L189.8 245.1Z"/>
<path d="M192.6 243.4L194.4 243.4L194.4 244.7L195.7 244.7L195.7 246.4L194.4 246.4L194.4 247.7L192.6 247.7L192.6 246.4L191.4 246.4L191.4 244.7L192.6 244.7Z"/>
<path d="M195.5 242.4L197.2 242.4L197.2 243.7L198.5 243.7L198.5 245.4L197.2 245.4L197.2 246.7L195.5 246.7L195.5 245.4L194.2 245.4L194.2 243.7L195.5 243.7Z"/>
<path d="M198.4 241.2L200.1 241.2L200.1 242.5L201.4 242.5L201.4 244.2L200.1 244.2L200.1 245.5L198.4 245.5L198.4 244.2L197.1 244.2L197.1 242.5L198.4 242.5Z"/>
<path d="M201.3 240.5L203.0 240.5L203.0 241.8L204.3 241.8L204.3 243.5L203.0 243.5L203.0 244.8L201.3 244.8L201.3 243.5L200.0 243.5L200.0 241.8L201.3 241.8Z"/>
<path d="M204.2 240.1L205.9 240.1L205.9 241.4L207.2 241.4L207.2 243.1L205.9 243.1L205.9 244.4L204.2 244.4L204.2 243.1L202.9 243.1L202.9 241.4L204.2 241.4Z"/>
<path d="M207.1 242.0L208.8 242.0L208.8 243.2L210.1 243.2L210.1 245.0L208.8 245.0L208.8 246.3L207.1 246.3L207.1 245.0L205.8 245.0L205.8 243.2L207.1 243.2Z"/>
<path d="M210.0 242.7L211.7 242.7L211.7 244.0L213.0 244.0L213.0 245.7L211.7 245.7L211.7 247.0L210.0 247.0L210.0 245.7L208.7 245.7L208.7 244.0L210.0 244.0Z"/>
<path d="M212.8 243.0L214.6 243.0L214.6 244.3L215.8 244.3L215.8 246.0L214.6 246.0L214.6 247.3L212.8 247.3L212.8 246.0L211.5 246.0L211.5 244.3L212.8 244.3Z"/>
<path d="M215.7 242.7L217.4 242.7L217.4 244.0L218.7 244.0L218.7 245.7L217.4 245.7L217.4 247.0L215.7 247.0L215.7 245.7L214.4 245.7L214.4 244.0L215.7 244.0Z"/>
</g>
<rect x="171.9" y="263.3" width="48.60" height="26.70" rx="1.8" fill="#fff" fill-opacity="0.8" stroke="#dadada" stroke-width="0.8"/>
<line x1="174.5" y1="270.10" x2="192.1" y2="270.10" stroke="#f5c8b1" stroke-width="1.6"/>
<circle cx="183.40" cy="270.10" r="2.05" fill="#ad2430" stroke="#fff" stroke-width="0.7" paint-order="stroke"/>
<line x1="174.5" y1="282.10" x2="192.1" y2="282.10" stroke="#c0daed" stroke-width="1.6"/>
<path d="M182.3 279.4L184.5 279.4L184.5 281.0L186.1 281.0L186.1 283.2L184.5 283.2L184.5 284.8L182.3 284.8L182.3 283.2L180.7 283.2L180.7 281.0L182.3 281.0Z" fill="#336db4" stroke="#fff" stroke-width="0.7" paint-order="stroke"/>
<rect x="269.6" y="176.5" width="181.20" height="53.80" fill="none" stroke="#444444" stroke-width="0.95"/>
<line x1="267.3" y1="183.4" x2="269.6" y2="183.4" stroke="#444444" stroke-width="0.8"/>
<line x1="267.3" y1="211.6" x2="269.6" y2="211.6" stroke="#444444" stroke-width="0.8"/>
<line x1="277.84" y1="230.3" x2="277.84" y2="232.60000000000002" stroke="#444444" stroke-width="0.8"/>
<line x1="306.74" y1="230.3" x2="306.74" y2="232.60000000000002" stroke="#444444" stroke-width="0.8"/>
<line x1="335.64" y1="230.3" x2="335.64" y2="232.60000000000002" stroke="#444444" stroke-width="0.8"/>
<line x1="364.53" y1="230.3" x2="364.53" y2="232.60000000000002" stroke="#444444" stroke-width="0.8"/>
<line x1="393.43" y1="230.3" x2="393.43" y2="232.60000000000002" stroke="#444444" stroke-width="0.8"/>
<line x1="422.33" y1="230.3" x2="422.33" y2="232.60000000000002" stroke="#444444" stroke-width="0.8"/>
<polyline points="277.8,214.6 280.7,225.1 283.6,212.2 286.5,228.0 289.4,199.3 292.3,221.9 295.2,200.0 298.1,186.4 301.0,189.3 303.8,190.1 306.7,191.5 309.6,192.2 312.5,188.6 315.4,203.2 318.3,196.2 321.2,192.7 324.1,192.2 327.0,195.6 329.9,199.5 332.7,195.2 335.6,194.4 338.5,194.4 341.4,198.5 344.3,197.4 347.2,198.1 350.1,196.6 353.0,199.5 355.9,195.6 358.8,195.2 361.6,194.7 364.5,195.6 367.4,196.2 370.3,196.6 373.2,197.1 376.1,196.2 379.0,197.4 381.9,198.1 384.8,199.1 387.7,200.6 390.5,198.1 393.4,195.2 396.3,197.1 399.2,197.4 402.1,196.2 405.0,196.6 407.9,197.4 410.8,197.4 413.7,197.1 416.6,196.6 419.4,195.9 422.3,194.4 425.2,195.6 428.1,196.2 431.0,195.6 433.9,195.2 436.8,195.6 439.7,196.2 442.6,195.6" fill="none" stroke="#f5c8b1" stroke-width="1.6" stroke-linejoin="round"/>
<polyline points="277.8,200.3 280.7,209.0 283.6,210.5 286.5,210.8 289.4,211.7 292.3,214.1 295.2,209.0 298.1,209.0 301.0,207.3 303.8,206.8 306.7,204.4 309.6,207.6 312.5,219.5 315.4,225.1 318.3,226.8 321.2,223.6 324.1,217.1 327.0,198.8 329.9,195.9 332.7,193.7 335.6,195.6 338.5,198.8 341.4,195.6 344.3,193.0 347.2,195.6 350.1,191.8 353.0,189.8 355.9,190.4 358.8,190.8 361.6,188.9 364.5,187.4 367.4,187.4 370.3,183.1 373.2,182.0 376.1,182.8 379.0,183.9 381.9,186.8 384.8,184.9 387.7,183.1 390.5,182.0 393.4,179.1 396.3,179.8 399.2,180.6 402.1,180.1 405.0,179.8 407.9,181.3 410.8,183.5 413.7,183.5 416.6,182.5 419.4,184.5 422.3,181.0 425.2,179.1 428.1,182.0 431.0,184.5 433.9,183.9 436.8,188.3 439.7,186.4 442.6,185.4" fill="none" stroke="#c0daed" stroke-width="1.6" stroke-linejoin="round"/>
<g fill="#ad2430" stroke="#fff" stroke-width="0.7" paint-order="stroke">
<path d="M277.8 212.1L280.3 214.6L277.8 217.1L275.3 214.6Z"/>
<path d="M280.7 222.6L283.2 225.1L280.7 227.6L278.2 225.1Z"/>
<path d="M283.6 209.7L286.1 212.2L283.6 214.7L281.1 212.2Z"/>
<path d="M286.5 225.5L289.0 228.0L286.5 230.5L284.0 228.0Z"/>
<path d="M289.4 196.8L291.9 199.3L289.4 201.8L286.9 199.3Z"/>
<path d="M292.3 219.4L294.8 221.9L292.3 224.4L289.8 221.9Z"/>
<path d="M295.2 197.5L297.7 200.0L295.2 202.5L292.7 200.0Z"/>
<path d="M298.1 183.9L300.6 186.4L298.1 188.9L295.6 186.4Z"/>
<path d="M301.0 186.8L303.5 189.3L301.0 191.8L298.5 189.3Z"/>
<path d="M303.8 187.6L306.3 190.1L303.8 192.6L301.3 190.1Z"/>
<path d="M306.7 189.0L309.2 191.5L306.7 194.0L304.2 191.5Z"/>
<path d="M309.6 189.7L312.1 192.2L309.6 194.7L307.1 192.2Z"/>
<path d="M312.5 186.1L315.0 188.6L312.5 191.1L310.0 188.6Z"/>
<path d="M315.4 200.7L317.9 203.2L315.4 205.7L312.9 203.2Z"/>
<path d="M318.3 193.7L320.8 196.2L318.3 198.7L315.8 196.2Z"/>
<path d="M321.2 190.2L323.7 192.7L321.2 195.2L318.7 192.7Z"/>
<path d="M324.1 189.7L326.6 192.2L324.1 194.7L321.6 192.2Z"/>
<path d="M327.0 193.8L328.8 195.6L327.0 197.5L325.1 195.6Z"/>
<path d="M329.9 197.4L332.0 199.5L329.9 201.7L327.7 199.5Z"/>
<path d="M332.7 193.3L334.6 195.2L332.7 197.0L330.9 195.2Z"/>
<path d="M335.6 192.6L337.5 194.4L335.6 196.3L333.8 194.4Z"/>
<path d="M338.5 192.6L340.4 194.4L338.5 196.3L336.7 194.4Z"/>
<path d="M341.4 196.4L343.6 198.5L341.4 200.7L339.3 198.5Z"/>
<path d="M344.3 195.5L346.2 197.4L344.3 199.2L342.5 197.4Z"/>
<path d="M347.2 196.2L349.0 198.1L347.2 199.9L345.3 198.1Z"/>
<path d="M350.1 194.8L351.9 196.6L350.1 198.5L348.2 196.6Z"/>
<path d="M353.0 197.4L355.1 199.5L353.0 201.7L350.8 199.5Z"/>
<path d="M355.9 193.8L357.7 195.6L355.9 197.5L354.0 195.6Z"/>
<path d="M358.8 193.3L360.6 195.2L358.8 197.0L356.9 195.2Z"/>
<path d="M361.6 192.9L363.5 194.7L361.6 196.6L359.8 194.7Z"/>
<path d="M364.5 193.8L366.4 195.6L364.5 197.5L362.7 195.6Z"/>
<path d="M367.4 194.3L369.3 196.2L367.4 198.0L365.6 196.2Z"/>
<path d="M370.3 194.8L372.2 196.6L370.3 198.5L368.5 196.6Z"/>
<path d="M373.2 195.2L375.1 197.1L373.2 198.9L371.4 197.1Z"/>
<path d="M376.1 194.3L377.9 196.2L376.1 198.0L374.2 196.2Z"/>
<path d="M379.0 195.5L380.8 197.4L379.0 199.2L377.1 197.4Z"/>
<path d="M381.9 196.2L383.7 198.1L381.9 199.9L380.0 198.1Z"/>
<path d="M384.8 197.3L386.6 199.1L384.8 201.0L382.9 199.1Z"/>
<path d="M387.7 198.4L389.8 200.6L387.7 202.7L385.5 200.6Z"/>
<path d="M390.5 196.2L392.4 198.1L390.5 199.9L388.7 198.1Z"/>
<path d="M393.4 193.3L395.3 195.2L393.4 197.0L391.6 195.2Z"/>
<path d="M396.3 195.2L398.2 197.1L396.3 198.9L394.5 197.1Z"/>
<path d="M399.2 195.5L401.1 197.4L399.2 199.2L397.4 197.4Z"/>
<path d="M402.1 194.3L404.0 196.2L402.1 198.0L400.3 196.2Z"/>
<path d="M405.0 194.8L406.8 196.6L405.0 198.5L403.1 196.6Z"/>
<path d="M407.9 195.5L409.7 197.4L407.9 199.2L406.0 197.4Z"/>
<path d="M410.8 195.5L412.6 197.4L410.8 199.2L408.9 197.4Z"/>
<path d="M413.7 195.2L415.5 197.1L413.7 198.9L411.8 197.1Z"/>
<path d="M416.6 194.8L418.4 196.6L416.6 198.5L414.7 196.6Z"/>
<path d="M419.4 194.0L421.3 195.9L419.4 197.7L417.6 195.9Z"/>
<path d="M422.3 192.6L424.2 194.4L422.3 196.3L420.5 194.4Z"/>
<path d="M425.2 193.8L427.1 195.6L425.2 197.5L423.4 195.6Z"/>
<path d="M428.1 194.3L430.0 196.2L428.1 198.0L426.3 196.2Z"/>
<path d="M431.0 193.8L432.9 195.6L431.0 197.5L429.2 195.6Z"/>
<path d="M433.9 193.3L435.7 195.2L433.9 197.0L432.0 195.2Z"/>
<path d="M436.8 193.8L438.6 195.6L436.8 197.5L434.9 195.6Z"/>
<path d="M439.7 194.3L441.5 196.2L439.7 198.0L437.8 196.2Z"/>
<path d="M442.6 193.8L444.4 195.6L442.6 197.5L440.7 195.6Z"/>
</g>
<g fill="#336db4" stroke="#fff" stroke-width="0.7" paint-order="stroke">
<path d="M276.5 198.0L277.8 199.3L279.1 198.0L280.1 199.0L278.8 200.3L280.1 201.6L279.1 202.5L277.8 201.2L276.5 202.5L275.6 201.6L276.9 200.3L275.6 199.0Z"/>
<path d="M279.4 206.8L280.7 208.1L282.0 206.8L283.0 207.7L281.7 209.0L283.0 210.3L282.0 211.3L280.7 210.0L279.4 211.3L278.5 210.3L279.8 209.0L278.5 207.7Z"/>
<path d="M282.3 208.2L283.6 209.6L284.9 208.2L285.9 209.2L284.6 210.5L285.9 211.8L284.9 212.7L283.6 211.4L282.3 212.7L281.4 211.8L282.7 210.5L281.4 209.2Z"/>
<path d="M285.2 208.5L286.5 209.8L287.8 208.5L288.8 209.5L287.5 210.8L288.8 212.1L287.8 213.0L286.5 211.7L285.2 213.0L284.3 212.1L285.6 210.8L284.3 209.5Z"/>
<path d="M288.1 209.4L289.4 210.7L290.7 209.4L291.6 210.4L290.3 211.7L291.6 213.0L290.7 213.9L289.4 212.6L288.1 213.9L287.1 213.0L288.5 211.7L287.1 210.4Z"/>
<path d="M291.0 211.9L292.3 213.2L293.6 211.9L294.5 212.8L293.2 214.1L294.5 215.5L293.6 216.4L292.3 215.1L291.0 216.4L290.0 215.5L291.3 214.1L290.0 212.8Z"/>
<path d="M293.9 206.8L295.2 208.1L296.5 206.8L297.4 207.7L296.1 209.0L297.4 210.3L296.5 211.3L295.2 210.0L293.9 211.3L292.9 210.3L294.2 209.0L292.9 207.7Z"/>
<path d="M296.8 206.8L298.1 208.1L299.4 206.8L300.3 207.7L299.0 209.0L300.3 210.3L299.4 211.3L298.1 210.0L296.8 211.3L295.8 210.3L297.1 209.0L295.8 207.7Z"/>
<path d="M299.7 205.0L301.0 206.3L302.3 205.0L303.2 206.0L301.9 207.3L303.2 208.6L302.3 209.5L301.0 208.2L299.7 209.5L298.7 208.6L300.0 207.3L298.7 206.0Z"/>
<path d="M302.5 204.6L303.8 205.9L305.2 204.6L306.1 205.5L304.8 206.8L306.1 208.2L305.2 209.1L303.8 207.8L302.5 209.1L301.6 208.2L302.9 206.8L301.6 205.5Z"/>
<path d="M305.4 202.1L306.7 203.4L308.0 202.1L309.0 203.1L307.7 204.4L309.0 205.7L308.0 206.6L306.7 205.3L305.4 206.6L304.5 205.7L305.8 204.4L304.5 203.1Z"/>
<path d="M308.3 205.3L309.6 206.6L310.9 205.3L311.9 206.3L310.6 207.6L311.9 208.9L310.9 209.8L309.6 208.5L308.3 209.8L307.4 208.9L308.7 207.6L307.4 206.3Z"/>
<path d="M311.2 217.3L312.5 218.6L313.8 217.3L314.8 218.2L313.5 219.5L314.8 220.9L313.8 221.8L312.5 220.5L311.2 221.8L310.3 220.9L311.6 219.5L310.3 218.2Z"/>
<path d="M314.1 222.8L315.4 224.1L316.7 222.8L317.7 223.8L316.4 225.1L317.7 226.4L316.7 227.3L315.4 226.0L314.1 227.3L313.2 226.4L314.5 225.1L313.2 223.8Z"/>
<path d="M317.0 224.6L318.3 225.9L319.6 224.6L320.5 225.5L319.2 226.8L320.5 228.2L319.6 229.1L318.3 227.8L317.0 229.1L316.0 228.2L317.4 226.8L316.0 225.5Z"/>
<path d="M319.9 221.4L321.2 222.7L322.5 221.4L323.4 222.3L322.1 223.6L323.4 224.9L322.5 225.9L321.2 224.6L319.9 225.9L318.9 224.9L320.2 223.6L318.9 222.3Z"/>
<path d="M322.8 214.8L324.1 216.1L325.4 214.8L326.3 215.8L325.0 217.1L326.3 218.4L325.4 219.3L324.1 218.0L322.8 219.3L321.8 218.4L323.1 217.1L321.8 215.8Z"/>
<path d="M325.9 197.0L327.0 198.0L328.0 197.0L328.8 197.7L327.7 198.8L328.8 199.9L328.0 200.7L327.0 199.6L325.9 200.7L325.1 199.9L326.2 198.8L325.1 197.7Z"/>
<path d="M328.8 194.0L329.9 195.1L330.9 194.0L331.7 194.8L330.6 195.9L331.7 197.0L330.9 197.7L329.9 196.7L328.8 197.7L328.0 197.0L329.1 195.9L328.0 194.8Z"/>
<path d="M331.7 191.9L332.7 192.9L333.8 191.9L334.6 192.6L333.5 193.7L334.6 194.8L333.8 195.6L332.7 194.5L331.7 195.6L330.9 194.8L332.0 193.7L330.9 192.6Z"/>
<path d="M334.6 193.8L335.6 194.8L336.7 193.8L337.5 194.5L336.4 195.6L337.5 196.7L336.7 197.5L335.6 196.4L334.6 197.5L333.8 196.7L334.9 195.6L333.8 194.5Z"/>
<path d="M337.5 197.0L338.5 198.0L339.6 197.0L340.4 197.7L339.3 198.8L340.4 199.9L339.6 200.7L338.5 199.6L337.5 200.7L336.7 199.9L337.7 198.8L336.7 197.7Z"/>
<path d="M340.3 193.8L341.4 194.8L342.5 193.8L343.3 194.5L342.2 195.6L343.3 196.7L342.5 197.5L341.4 196.4L340.3 197.5L339.6 196.7L340.6 195.6L339.6 194.5Z"/>
<path d="M343.2 191.1L344.3 192.2L345.4 191.1L346.2 191.9L345.1 193.0L346.2 194.1L345.4 194.8L344.3 193.8L343.2 194.8L342.5 194.1L343.5 193.0L342.5 191.9Z"/>
<path d="M346.1 193.8L347.2 194.8L348.3 193.8L349.0 194.5L348.0 195.6L349.0 196.7L348.3 197.5L347.2 196.4L346.1 197.5L345.3 196.7L346.4 195.6L345.3 194.5Z"/>
<path d="M349.0 190.0L350.1 191.0L351.2 190.0L351.9 190.7L350.9 191.8L351.9 192.9L351.2 193.7L350.1 192.6L349.0 193.7L348.2 192.9L349.3 191.8L348.2 190.7Z"/>
<path d="M351.9 187.9L353.0 189.0L354.0 187.9L354.8 188.7L353.8 189.8L354.8 190.8L354.0 191.6L353.0 190.5L351.9 191.6L351.1 190.8L352.2 189.8L351.1 188.7Z"/>
<path d="M354.8 188.5L355.9 189.6L356.9 188.5L357.7 189.3L356.6 190.4L357.7 191.4L356.9 192.2L355.9 191.1L354.8 192.2L354.0 191.4L355.1 190.4L354.0 189.3Z"/>
<path d="M357.7 188.9L358.8 190.0L359.8 188.9L360.6 189.7L359.5 190.8L360.6 191.9L359.8 192.6L358.8 191.6L357.7 192.6L356.9 191.9L358.0 190.8L356.9 189.7Z"/>
<path d="M360.6 187.0L361.6 188.1L362.7 187.0L363.5 187.8L362.4 188.9L363.5 190.0L362.7 190.7L361.6 189.7L360.6 190.7L359.8 190.0L360.9 188.9L359.8 187.8Z"/>
<path d="M363.5 185.6L364.5 186.7L365.6 185.6L366.4 186.4L365.3 187.4L366.4 188.5L365.6 189.3L364.5 188.2L363.5 189.3L362.7 188.5L363.8 187.4L362.7 186.4Z"/>
<path d="M366.4 185.6L367.4 186.7L368.5 185.6L369.3 186.4L368.2 187.4L369.3 188.5L368.5 189.3L367.4 188.2L366.4 189.3L365.6 188.5L366.6 187.4L365.6 186.4Z"/>
<path d="M369.2 181.2L370.3 182.3L371.4 181.2L372.2 182.0L371.1 183.1L372.2 184.1L371.4 184.9L370.3 183.8L369.2 184.9L368.5 184.1L369.5 183.1L368.5 182.0Z"/>
<path d="M372.1 180.2L373.2 181.3L374.3 180.2L375.1 181.0L374.0 182.0L375.1 183.1L374.3 183.9L373.2 182.8L372.1 183.9L371.4 183.1L372.4 182.0L371.4 181.0Z"/>
<path d="M375.0 180.9L376.1 182.0L377.2 180.9L377.9 181.7L376.9 182.8L377.9 183.8L377.2 184.6L376.1 183.5L375.0 184.6L374.2 183.8L375.3 182.8L374.2 181.7Z"/>
<path d="M377.9 182.1L379.0 183.2L380.1 182.1L380.8 182.9L379.8 183.9L380.8 185.0L380.1 185.8L379.0 184.7L377.9 185.8L377.1 185.0L378.2 183.9L377.1 182.9Z"/>
<path d="M380.8 185.0L381.9 186.1L382.9 185.0L383.7 185.8L382.7 186.8L383.7 187.9L382.9 188.7L381.9 187.6L380.8 188.7L380.0 187.9L381.1 186.8L380.0 185.8Z"/>
<path d="M383.7 183.1L384.8 184.2L385.8 183.1L386.6 183.9L385.5 184.9L386.6 186.0L385.8 186.8L384.8 185.7L383.7 186.8L382.9 186.0L384.0 184.9L382.9 183.9Z"/>
<path d="M386.6 181.2L387.7 182.3L388.7 181.2L389.5 182.0L388.4 183.1L389.5 184.1L388.7 184.9L387.7 183.8L386.6 184.9L385.8 184.1L386.9 183.1L385.8 182.0Z"/>
<path d="M389.5 180.2L390.5 181.3L391.6 180.2L392.4 181.0L391.3 182.0L392.4 183.1L391.6 183.9L390.5 182.8L389.5 183.9L388.7 183.1L389.8 182.0L388.7 181.0Z"/>
<path d="M392.4 177.3L393.4 178.3L394.5 177.3L395.3 178.0L394.2 179.1L395.3 180.2L394.5 181.0L393.4 179.9L392.4 181.0L391.6 180.2L392.7 179.1L391.6 178.0Z"/>
<path d="M395.3 178.0L396.3 179.1L397.4 178.0L398.2 178.8L397.1 179.8L398.2 180.9L397.4 181.7L396.3 180.6L395.3 181.7L394.5 180.9L395.5 179.8L394.5 178.8Z"/>
<path d="M398.1 178.7L399.2 179.8L400.3 178.7L401.1 179.5L400.0 180.6L401.1 181.6L400.3 182.4L399.2 181.3L398.1 182.4L397.4 181.6L398.4 180.6L397.4 179.5Z"/>
<path d="M401.0 178.3L402.1 179.4L403.2 178.3L404.0 179.1L402.9 180.1L404.0 181.2L403.2 182.0L402.1 180.9L401.0 182.0L400.3 181.2L401.3 180.1L400.3 179.1Z"/>
<path d="M403.9 178.0L405.0 179.1L406.1 178.0L406.8 178.8L405.8 179.8L406.8 180.9L406.1 181.7L405.0 180.6L403.9 181.7L403.1 180.9L404.2 179.8L403.1 178.8Z"/>
<path d="M406.8 179.4L407.9 180.5L409.0 179.4L409.7 180.2L408.7 181.3L409.7 182.4L409.0 183.1L407.9 182.1L406.8 183.1L406.0 182.4L407.1 181.3L406.0 180.2Z"/>
<path d="M409.7 181.6L410.8 182.7L411.8 181.6L412.6 182.4L411.6 183.5L412.6 184.6L411.8 185.3L410.8 184.3L409.7 185.3L408.9 184.6L410.0 183.5L408.9 182.4Z"/>
<path d="M412.6 181.6L413.7 182.7L414.7 181.6L415.5 182.4L414.4 183.5L415.5 184.6L414.7 185.3L413.7 184.3L412.6 185.3L411.8 184.6L412.9 183.5L411.8 182.4Z"/>
<path d="M415.5 180.6L416.6 181.7L417.6 180.6L418.4 181.4L417.3 182.5L418.4 183.5L417.6 184.3L416.6 183.2L415.5 184.3L414.7 183.5L415.8 182.5L414.7 181.4Z"/>
<path d="M418.4 182.7L419.4 183.7L420.5 182.7L421.3 183.4L420.2 184.5L421.3 185.6L420.5 186.4L419.4 185.3L418.4 186.4L417.6 185.6L418.7 184.5L417.6 183.4Z"/>
<path d="M421.3 179.2L422.3 180.2L423.4 179.2L424.2 179.9L423.1 181.0L424.2 182.1L423.4 182.9L422.3 181.8L421.3 182.9L420.5 182.1L421.6 181.0L420.5 179.9Z"/>
<path d="M424.2 177.3L425.2 178.3L426.3 177.3L427.1 178.0L426.0 179.1L427.1 180.2L426.3 181.0L425.2 179.9L424.2 181.0L423.4 180.2L424.4 179.1L423.4 178.0Z"/>
<path d="M427.0 180.2L428.1 181.3L429.2 180.2L430.0 181.0L428.9 182.0L430.0 183.1L429.2 183.9L428.1 182.8L427.0 183.9L426.3 183.1L427.3 182.0L426.3 181.0Z"/>
<path d="M429.9 182.7L431.0 183.7L432.1 182.7L432.9 183.4L431.8 184.5L432.9 185.6L432.1 186.4L431.0 185.3L429.9 186.4L429.2 185.6L430.2 184.5L429.2 183.4Z"/>
<path d="M432.8 182.1L433.9 183.2L435.0 182.1L435.7 182.9L434.7 183.9L435.7 185.0L435.0 185.8L433.9 184.7L432.8 185.8L432.0 185.0L433.1 183.9L432.0 182.9Z"/>
<path d="M435.7 186.5L436.8 187.5L437.9 186.5L438.6 187.2L437.6 188.3L438.6 189.4L437.9 190.2L436.8 189.1L435.7 190.2L434.9 189.4L436.0 188.3L434.9 187.2Z"/>
<path d="M438.6 184.6L439.7 185.6L440.7 184.6L441.5 185.3L440.5 186.4L441.5 187.5L440.7 188.3L439.7 187.2L438.6 188.3L437.8 187.5L438.9 186.4L437.8 185.3Z"/>
<path d="M441.5 183.5L442.6 184.6L443.6 183.5L444.4 184.3L443.3 185.4L444.4 186.5L443.6 187.2L442.6 186.2L441.5 187.2L440.7 186.5L441.8 185.4L440.7 184.3Z"/>
</g>
<rect x="397.9" y="199.20000000000002" width="48.60" height="26.70" rx="1.8" fill="#fff" fill-opacity="0.8" stroke="#dadada" stroke-width="0.8"/>
<line x1="400.5" y1="206.00" x2="418.09999999999997" y2="206.00" stroke="#f5c8b1" stroke-width="1.6"/>
<path d="M409.4 203.6L411.8 206.0L409.4 208.4L407.0 206.0Z" fill="#ad2430" stroke="#fff" stroke-width="0.7" paint-order="stroke"/>
<line x1="400.5" y1="218.00" x2="418.09999999999997" y2="218.00" stroke="#c0daed" stroke-width="1.6"/>
<path d="M408.2 215.9L409.4 217.1L410.6 215.9L411.5 216.8L410.3 218.0L411.5 219.2L410.6 220.1L409.4 218.9L408.2 220.1L407.3 219.2L408.5 218.0L407.3 216.8Z" fill="#336db4" stroke="#fff" stroke-width="0.7" paint-order="stroke"/>
<rect x="269.6" y="241.0" width="181.20" height="53.40" fill="none" stroke="#444444" stroke-width="0.95"/>
<line x1="267.3" y1="254.6" x2="269.6" y2="254.6" stroke="#444444" stroke-width="0.8"/>
<line x1="267.3" y1="271.4" x2="269.6" y2="271.4" stroke="#444444" stroke-width="0.8"/>
<line x1="267.3" y1="288.0" x2="269.6" y2="288.0" stroke="#444444" stroke-width="0.8"/>
<line x1="277.84" y1="294.4" x2="277.84" y2="296.7" stroke="#444444" stroke-width="0.8"/>
<line x1="306.74" y1="294.4" x2="306.74" y2="296.7" stroke="#444444" stroke-width="0.8"/>
<line x1="335.64" y1="294.4" x2="335.64" y2="296.7" stroke="#444444" stroke-width="0.8"/>
<line x1="364.53" y1="294.4" x2="364.53" y2="296.7" stroke="#444444" stroke-width="0.8"/>
<line x1="393.43" y1="294.4" x2="393.43" y2="296.7" stroke="#444444" stroke-width="0.8"/>
<line x1="422.33" y1="294.4" x2="422.33" y2="296.7" stroke="#444444" stroke-width="0.8"/>
<polyline points="277.8,262.4 280.7,291.6 283.6,271.1 286.5,283.5 289.4,266.4 292.3,282.8 295.2,258.0 298.1,253.6 301.0,251.0 303.8,248.5 306.7,251.8 309.6,251.8 312.5,249.9 315.4,282.1 318.3,252.1 321.2,252.1 324.1,252.9 327.0,253.6 329.9,257.7 332.7,252.1 335.6,252.9 338.5,253.6 341.4,255.1 344.3,254.8 347.2,254.3 350.1,253.6 353.0,254.8 355.9,254.3 358.8,253.6 361.6,253.3 364.5,253.3 367.4,254.3 370.3,254.3 373.2,254.3 376.1,253.9 379.0,254.8 381.9,255.1 384.8,255.4 387.7,255.4 390.5,255.1 393.4,253.6 396.3,254.3 399.2,254.8 402.1,253.6 405.0,253.6 407.9,255.1 410.8,255.8 413.7,254.3 416.6,253.6 419.4,253.6 422.3,254.3 425.2,253.6 428.1,253.3 431.0,252.9 433.9,253.3 436.8,252.9 439.7,253.6 442.6,252.9" fill="none" stroke="#f5c8b1" stroke-width="1.6" stroke-linejoin="round"/>
<polyline points="277.8,254.3 280.7,265.0 283.6,262.4 286.5,262.4 289.4,263.8 292.3,265.3 295.2,258.0 298.1,258.7 301.0,258.0 303.8,260.6 306.7,260.2 309.6,259.7 312.5,278.4 315.4,287.2 318.3,286.0 321.2,286.0 324.1,278.1 327.0,253.3 329.9,252.9 332.7,251.8 335.6,252.9 338.5,253.6 341.4,252.1 344.3,250.7 347.2,249.5 350.1,249.2 353.0,248.9 355.9,248.9 358.8,248.5 361.6,247.8 364.5,247.0 367.4,246.0 370.3,244.8 373.2,245.6 376.1,245.6 379.0,246.3 381.9,247.0 384.8,247.5 387.7,246.0 390.5,244.1 393.4,242.6 396.3,242.2 399.2,242.6 402.1,243.7 405.0,243.4 407.9,244.5 410.8,245.1 413.7,244.8 416.6,244.1 419.4,244.1 422.3,243.4 425.2,242.6 428.1,244.1 431.0,244.5 433.9,245.6 436.8,247.0 439.7,245.6 442.6,245.6" fill="none" stroke="#c0daed" stroke-width="1.6" stroke-linejoin="round"/>
<g fill="#ad2430" stroke="#fff" stroke-width="0.7" paint-order="stroke">
<circle cx="277.8" cy="262.4" r="2.10"/>
<circle cx="280.7" cy="291.6" r="2.10"/>
<circle cx="283.6" cy="271.1" r="2.10"/>
<circle cx="286.5" cy="283.5" r="2.10"/>
<circle cx="289.4" cy="266.4" r="1.85"/>
<circle cx="292.3" cy="282.8" r="2.10"/>
<circle cx="295.2" cy="258.0" r="1.65"/>
<circle cx="298.1" cy="253.6" r="2.10"/>
<circle cx="301.0" cy="251.0" r="2.10"/>
<circle cx="303.8" cy="248.5" r="2.10"/>
<circle cx="306.7" cy="251.8" r="2.10"/>
<circle cx="309.6" cy="251.8" r="2.10"/>
<circle cx="312.5" cy="249.9" r="2.10"/>
<circle cx="315.4" cy="282.1" r="2.10"/>
<circle cx="318.3" cy="252.1" r="2.10"/>
<circle cx="321.2" cy="252.1" r="2.10"/>
<circle cx="324.1" cy="252.9" r="1.65"/>
<circle cx="327.0" cy="253.6" r="1.65"/>
<circle cx="329.9" cy="257.7" r="2.10"/>
<circle cx="332.7" cy="252.1" r="1.65"/>
<circle cx="335.6" cy="252.9" r="1.65"/>
<circle cx="338.5" cy="253.6" r="1.65"/>
<circle cx="341.4" cy="255.1" r="1.65"/>
<circle cx="344.3" cy="254.8" r="1.65"/>
<circle cx="347.2" cy="254.3" r="1.65"/>
<circle cx="350.1" cy="253.6" r="1.65"/>
<circle cx="353.0" cy="254.8" r="1.65"/>
<circle cx="355.9" cy="254.3" r="1.65"/>
<circle cx="358.8" cy="253.6" r="1.65"/>
<circle cx="361.6" cy="253.3" r="1.65"/>
<circle cx="364.5" cy="253.3" r="1.65"/>
<circle cx="367.4" cy="254.3" r="1.65"/>
<circle cx="370.3" cy="254.3" r="1.65"/>
<circle cx="373.2" cy="254.3" r="1.65"/>
<circle cx="376.1" cy="253.9" r="1.65"/>
<circle cx="379.0" cy="254.8" r="1.65"/>
<circle cx="381.9" cy="255.1" r="1.65"/>
<circle cx="384.8" cy="255.4" r="1.65"/>
<circle cx="387.7" cy="255.4" r="1.65"/>
<circle cx="390.5" cy="255.1" r="1.65"/>
<circle cx="393.4" cy="253.6" r="1.65"/>
<circle cx="396.3" cy="254.3" r="1.65"/>
<circle cx="399.2" cy="254.8" r="1.65"/>
<circle cx="402.1" cy="253.6" r="1.65"/>
<circle cx="405.0" cy="253.6" r="1.65"/>
<circle cx="407.9" cy="255.1" r="1.65"/>
<circle cx="410.8" cy="255.8" r="1.65"/>
<circle cx="413.7" cy="254.3" r="1.65"/>
<circle cx="416.6" cy="253.6" r="1.65"/>
<circle cx="419.4" cy="253.6" r="1.65"/>
<circle cx="422.3" cy="254.3" r="1.65"/>
<circle cx="425.2" cy="253.6" r="1.65"/>
<circle cx="428.1" cy="253.3" r="1.65"/>
<circle cx="431.0" cy="252.9" r="1.65"/>
<circle cx="433.9" cy="253.3" r="1.65"/>
<circle cx="436.8" cy="252.9" r="1.65"/>
<circle cx="439.7" cy="253.6" r="1.65"/>
<circle cx="442.6" cy="252.9" r="1.65"/>
</g>
<g fill="#336db4" stroke="#fff" stroke-width="0.7" paint-order="stroke">
<path d="M276.8 251.7L278.9 251.7L278.9 253.3L280.4 253.3L280.4 255.4L278.9 255.4L278.9 256.9L276.8 256.9L276.8 255.4L275.2 255.4L275.2 253.3L276.8 253.3Z"/>
<path d="M279.7 262.4L281.8 262.4L281.8 263.9L283.3 263.9L283.3 266.0L281.8 266.0L281.8 267.6L279.7 267.6L279.7 266.0L278.1 266.0L278.1 263.9L279.7 263.9Z"/>
<path d="M282.6 259.8L284.7 259.8L284.7 261.3L286.2 261.3L286.2 263.4L284.7 263.4L284.7 265.0L282.6 265.0L282.6 263.4L281.0 263.4L281.0 261.3L282.6 261.3Z"/>
<path d="M285.5 259.8L287.5 259.8L287.5 261.3L289.1 261.3L289.1 263.4L287.5 263.4L287.5 265.0L285.5 265.0L285.5 263.4L283.9 263.4L283.9 261.3L285.5 261.3Z"/>
<path d="M288.4 261.2L290.4 261.2L290.4 262.8L292.0 262.8L292.0 264.9L290.4 264.9L290.4 266.4L288.4 266.4L288.4 264.9L286.8 264.9L286.8 262.8L288.4 262.8Z"/>
<path d="M291.2 262.7L293.3 262.7L293.3 264.2L294.9 264.2L294.9 266.3L293.3 266.3L293.3 267.9L291.2 267.9L291.2 266.3L289.7 266.3L289.7 264.2L291.2 264.2Z"/>
<path d="M294.1 255.4L296.2 255.4L296.2 256.9L297.8 256.9L297.8 259.0L296.2 259.0L296.2 260.6L294.1 260.6L294.1 259.0L292.6 259.0L292.6 256.9L294.1 256.9Z"/>
<path d="M297.0 256.1L299.1 256.1L299.1 257.7L300.7 257.7L300.7 259.7L299.1 259.7L299.1 261.3L297.0 261.3L297.0 259.7L295.5 259.7L295.5 257.7L297.0 257.7Z"/>
<path d="M299.9 255.4L302.0 255.4L302.0 256.9L303.6 256.9L303.6 259.0L302.0 259.0L302.0 260.6L299.9 260.6L299.9 259.0L298.4 259.0L298.4 256.9L299.9 256.9Z"/>
<path d="M302.8 258.0L304.9 258.0L304.9 259.6L306.4 259.6L306.4 261.6L304.9 261.6L304.9 263.2L302.8 263.2L302.8 261.6L301.2 261.6L301.2 259.6L302.8 259.6Z"/>
<path d="M305.7 257.6L307.8 257.6L307.8 259.1L309.3 259.1L309.3 261.2L307.8 261.2L307.8 262.8L305.7 262.8L305.7 261.2L304.1 261.2L304.1 259.1L305.7 259.1Z"/>
<path d="M308.6 257.1L310.7 257.1L310.7 258.7L312.2 258.7L312.2 260.8L310.7 260.8L310.7 262.3L308.6 262.3L308.6 260.8L307.0 260.8L307.0 258.7L308.6 258.7Z"/>
<path d="M311.5 275.8L313.6 275.8L313.6 277.4L315.1 277.4L315.1 279.5L313.6 279.5L313.6 281.0L311.5 281.0L311.5 279.5L309.9 279.5L309.9 277.4L311.5 277.4Z"/>
<path d="M314.4 284.6L316.4 284.6L316.4 286.1L318.0 286.1L318.0 288.2L316.4 288.2L316.4 289.8L314.4 289.8L314.4 288.2L312.8 288.2L312.8 286.1L314.4 286.1Z"/>
<path d="M317.3 283.4L319.3 283.4L319.3 285.0L320.9 285.0L320.9 287.0L319.3 287.0L319.3 288.6L317.3 288.6L317.3 287.0L315.7 287.0L315.7 285.0L317.3 285.0Z"/>
<path d="M320.1 283.4L322.2 283.4L322.2 285.0L323.8 285.0L323.8 287.0L322.2 287.0L322.2 288.6L320.1 288.6L320.1 287.0L318.6 287.0L318.6 285.0L320.1 285.0Z"/>
<path d="M323.0 275.5L325.1 275.5L325.1 277.1L326.7 277.1L326.7 279.2L325.1 279.2L325.1 280.7L323.0 280.7L323.0 279.2L321.5 279.2L321.5 277.1L323.0 277.1Z"/>
<path d="M326.1 251.2L327.8 251.2L327.8 252.4L329.1 252.4L329.1 254.2L327.8 254.2L327.8 255.5L326.1 255.5L326.1 254.2L324.8 254.2L324.8 252.4L326.1 252.4Z"/>
<path d="M329.0 250.7L330.7 250.7L330.7 252.0L332.0 252.0L332.0 253.7L330.7 253.7L330.7 255.0L329.0 255.0L329.0 253.7L327.7 253.7L327.7 252.0L329.0 252.0Z"/>
<path d="M331.9 249.7L333.6 249.7L333.6 251.0L334.9 251.0L334.9 252.7L333.6 252.7L333.6 254.0L331.9 254.0L331.9 252.7L330.6 252.7L330.6 251.0L331.9 251.0Z"/>
<path d="M334.8 250.7L336.5 250.7L336.5 252.0L337.8 252.0L337.8 253.7L336.5 253.7L336.5 255.0L334.8 255.0L334.8 253.7L333.5 253.7L333.5 252.0L334.8 252.0Z"/>
<path d="M337.7 251.4L339.4 251.4L339.4 252.7L340.7 252.7L340.7 254.5L339.4 254.5L339.4 255.7L337.7 255.7L337.7 254.5L336.4 254.5L336.4 252.7L337.7 252.7Z"/>
<path d="M340.6 250.0L342.3 250.0L342.3 251.3L343.6 251.3L343.6 253.0L342.3 253.0L342.3 254.3L340.6 254.3L340.6 253.0L339.3 253.0L339.3 251.3L340.6 251.3Z"/>
<path d="M343.4 248.5L345.2 248.5L345.2 249.8L346.5 249.8L346.5 251.5L345.2 251.5L345.2 252.8L343.4 252.8L343.4 251.5L342.2 251.5L342.2 249.8L343.4 249.8Z"/>
<path d="M346.3 247.4L348.1 247.4L348.1 248.7L349.3 248.7L349.3 250.4L348.1 250.4L348.1 251.7L346.3 251.7L346.3 250.4L345.0 250.4L345.0 248.7L346.3 248.7Z"/>
<path d="M349.2 247.1L350.9 247.1L350.9 248.4L352.2 248.4L352.2 250.1L350.9 250.1L350.9 251.4L349.2 251.4L349.2 250.1L347.9 250.1L347.9 248.4L349.2 248.4Z"/>
<path d="M352.1 246.8L353.8 246.8L353.8 248.1L355.1 248.1L355.1 249.8L353.8 249.8L353.8 251.1L352.1 251.1L352.1 249.8L350.8 249.8L350.8 248.1L352.1 248.1Z"/>
<path d="M355.0 246.8L356.7 246.8L356.7 248.1L358.0 248.1L358.0 249.8L356.7 249.8L356.7 251.1L355.0 251.1L355.0 249.8L353.7 249.8L353.7 248.1L355.0 248.1Z"/>
<path d="M357.9 246.3L359.6 246.3L359.6 247.6L360.9 247.6L360.9 249.3L359.6 249.3L359.6 250.6L357.9 250.6L357.9 249.3L356.6 249.3L356.6 247.6L357.9 247.6Z"/>
<path d="M360.8 245.6L362.5 245.6L362.5 246.9L363.8 246.9L363.8 248.6L362.5 248.6L362.5 249.9L360.8 249.9L360.8 248.6L359.5 248.6L359.5 246.9L360.8 246.9Z"/>
<path d="M363.7 244.9L365.4 244.9L365.4 246.2L366.7 246.2L366.7 247.9L365.4 247.9L365.4 249.2L363.7 249.2L363.7 247.9L362.4 247.9L362.4 246.2L363.7 246.2Z"/>
<path d="M366.6 243.9L368.3 243.9L368.3 245.1L369.6 245.1L369.6 246.9L368.3 246.9L368.3 248.2L366.6 248.2L366.6 246.9L365.3 246.9L365.3 245.1L366.6 245.1Z"/>
<path d="M369.5 242.7L371.2 242.7L371.2 244.0L372.5 244.0L372.5 245.7L371.2 245.7L371.2 247.0L369.5 247.0L369.5 245.7L368.2 245.7L368.2 244.0L369.5 244.0Z"/>
<path d="M372.3 243.4L374.1 243.4L374.1 244.7L375.4 244.7L375.4 246.4L374.1 246.4L374.1 247.7L372.3 247.7L372.3 246.4L371.1 246.4L371.1 244.7L372.3 244.7Z"/>
<path d="M375.2 243.4L377.0 243.4L377.0 244.7L378.2 244.7L378.2 246.4L377.0 246.4L377.0 247.7L375.2 247.7L375.2 246.4L373.9 246.4L373.9 244.7L375.2 244.7Z"/>
<path d="M378.1 244.1L379.8 244.1L379.8 245.4L381.1 245.4L381.1 247.2L379.8 247.2L379.8 248.4L378.1 248.4L378.1 247.2L376.8 247.2L376.8 245.4L378.1 245.4Z"/>
<path d="M381.0 244.9L382.7 244.9L382.7 246.2L384.0 246.2L384.0 247.9L382.7 247.9L382.7 249.2L381.0 249.2L381.0 247.9L379.7 247.9L379.7 246.2L381.0 246.2Z"/>
<path d="M383.9 245.3L385.6 245.3L385.6 246.6L386.9 246.6L386.9 248.3L385.6 248.3L385.6 249.6L383.9 249.6L383.9 248.3L382.6 248.3L382.6 246.6L383.9 246.6Z"/>
<path d="M386.8 243.9L388.5 243.9L388.5 245.1L389.8 245.1L389.8 246.9L388.5 246.9L388.5 248.2L386.8 248.2L386.8 246.9L385.5 246.9L385.5 245.1L386.8 245.1Z"/>
<path d="M389.7 242.0L391.4 242.0L391.4 243.2L392.7 243.2L392.7 245.0L391.4 245.0L391.4 246.3L389.7 246.3L389.7 245.0L388.4 245.0L388.4 243.2L389.7 243.2Z"/>
<path d="M392.6 240.5L394.3 240.5L394.3 241.8L395.6 241.8L395.6 243.5L394.3 243.5L394.3 244.8L392.6 244.8L392.6 243.5L391.3 243.5L391.3 241.8L392.6 241.8Z"/>
<path d="M395.5 240.1L397.2 240.1L397.2 241.4L398.5 241.4L398.5 243.1L397.2 243.1L397.2 244.4L395.5 244.4L395.5 243.1L394.2 243.1L394.2 241.4L395.5 241.4Z"/>
<path d="M398.4 240.5L400.1 240.5L400.1 241.8L401.4 241.8L401.4 243.5L400.1 243.5L400.1 244.8L398.4 244.8L398.4 243.5L397.1 243.5L397.1 241.8L398.4 241.8Z"/>
<path d="M401.2 241.5L403.0 241.5L403.0 242.8L404.3 242.8L404.3 244.5L403.0 244.5L403.0 245.8L401.2 245.8L401.2 244.5L400.0 244.5L400.0 242.8L401.2 242.8Z"/>
<path d="M404.1 241.2L405.9 241.2L405.9 242.5L407.1 242.5L407.1 244.2L405.9 244.2L405.9 245.5L404.1 245.5L404.1 244.2L402.8 244.2L402.8 242.5L404.1 242.5Z"/>
<path d="M407.0 242.4L408.7 242.4L408.7 243.7L410.0 243.7L410.0 245.4L408.7 245.4L408.7 246.7L407.0 246.7L407.0 245.4L405.7 245.4L405.7 243.7L407.0 243.7Z"/>
<path d="M409.9 243.0L411.6 243.0L411.6 244.3L412.9 244.3L412.9 246.0L411.6 246.0L411.6 247.3L409.9 247.3L409.9 246.0L408.6 246.0L408.6 244.3L409.9 244.3Z"/>
<path d="M412.8 242.7L414.5 242.7L414.5 244.0L415.8 244.0L415.8 245.7L414.5 245.7L414.5 247.0L412.8 247.0L412.8 245.7L411.5 245.7L411.5 244.0L412.8 244.0Z"/>
<path d="M415.7 242.0L417.4 242.0L417.4 243.2L418.7 243.2L418.7 245.0L417.4 245.0L417.4 246.3L415.7 246.3L415.7 245.0L414.4 245.0L414.4 243.2L415.7 243.2Z"/>
<path d="M418.6 242.0L420.3 242.0L420.3 243.2L421.6 243.2L421.6 245.0L420.3 245.0L420.3 246.3L418.6 246.3L418.6 245.0L417.3 245.0L417.3 243.2L418.6 243.2Z"/>
<path d="M421.5 241.2L423.2 241.2L423.2 242.5L424.5 242.5L424.5 244.2L423.2 244.2L423.2 245.5L421.5 245.5L421.5 244.2L420.2 244.2L420.2 242.5L421.5 242.5Z"/>
<path d="M424.4 240.5L426.1 240.5L426.1 241.8L427.4 241.8L427.4 243.5L426.1 243.5L426.1 244.8L424.4 244.8L424.4 243.5L423.1 243.5L423.1 241.8L424.4 241.8Z"/>
<path d="M427.3 242.0L429.0 242.0L429.0 243.2L430.3 243.2L430.3 245.0L429.0 245.0L429.0 246.3L427.3 246.3L427.3 245.0L426.0 245.0L426.0 243.2L427.3 243.2Z"/>
<path d="M430.1 242.4L431.9 242.4L431.9 243.7L433.2 243.7L433.2 245.4L431.9 245.4L431.9 246.7L430.1 246.7L430.1 245.4L428.9 245.4L428.9 243.7L430.1 243.7Z"/>
<path d="M433.0 243.4L434.8 243.4L434.8 244.7L436.0 244.7L436.0 246.4L434.8 246.4L434.8 247.7L433.0 247.7L433.0 246.4L431.7 246.4L431.7 244.7L433.0 244.7Z"/>
<path d="M435.9 244.9L437.6 244.9L437.6 246.2L438.9 246.2L438.9 247.9L437.6 247.9L437.6 249.2L435.9 249.2L435.9 247.9L434.6 247.9L434.6 246.2L435.9 246.2Z"/>
<path d="M438.8 243.4L440.5 243.4L440.5 244.7L441.8 244.7L441.8 246.4L440.5 246.4L440.5 247.7L438.8 247.7L438.8 246.4L437.5 246.4L437.5 244.7L438.8 244.7Z"/>
<path d="M441.7 243.4L443.4 243.4L443.4 244.7L444.7 244.7L444.7 246.4L443.4 246.4L443.4 247.7L441.7 247.7L441.7 246.4L440.4 246.4L440.4 244.7L441.7 244.7Z"/>
</g>
<rect x="397.9" y="263.3" width="48.60" height="26.70" rx="1.8" fill="#fff" fill-opacity="0.8" stroke="#dadada" stroke-width="0.8"/>
<line x1="400.5" y1="270.10" x2="418.09999999999997" y2="270.10" stroke="#f5c8b1" stroke-width="1.6"/>
<circle cx="409.40" cy="270.10" r="2.05" fill="#ad2430" stroke="#fff" stroke-width="0.7" paint-order="stroke"/>
<line x1="400.5" y1="282.10" x2="418.09999999999997" y2="282.10" stroke="#c0daed" stroke-width="1.6"/>
<path d="M408.3 279.4L410.5 279.4L410.5 281.0L412.1 281.0L412.1 283.2L410.5 283.2L410.5 284.8L408.3 284.8L408.3 283.2L406.7 283.2L406.7 281.0L408.3 281.0Z" fill="#336db4" stroke="#fff" stroke-width="0.7" paint-order="stroke"/>
<rect x="485.0" y="179.4" width="181.00" height="53.00" fill="none" stroke="#444444" stroke-width="0.95"/>
<line x1="482.7" y1="200.6" x2="485.0" y2="200.6" stroke="#444444" stroke-width="0.8"/>
<line x1="482.7" y1="224.4" x2="485.0" y2="224.4" stroke="#444444" stroke-width="0.8"/>
<line x1="493.23" y1="232.4" x2="493.23" y2="234.70000000000002" stroke="#444444" stroke-width="0.8"/>
<line x1="522.09" y1="232.4" x2="522.09" y2="234.70000000000002" stroke="#444444" stroke-width="0.8"/>
<line x1="550.96" y1="232.4" x2="550.96" y2="234.70000000000002" stroke="#444444" stroke-width="0.8"/>
<line x1="579.83" y1="232.4" x2="579.83" y2="234.70000000000002" stroke="#444444" stroke-width="0.8"/>
<line x1="608.70" y1="232.4" x2="608.70" y2="234.70000000000002" stroke="#444444" stroke-width="0.8"/>
<line x1="637.57" y1="232.4" x2="637.57" y2="234.70000000000002" stroke="#444444" stroke-width="0.8"/>
<polyline points="493.2,208.7 496.1,206.6 499.0,189.8 501.9,182.8 504.8,188.7 507.7,189.4 510.5,189.8 513.4,196.0 516.3,194.2 519.2,192.3 522.1,193.4 525.0,194.2 527.9,193.4 530.8,195.7 533.6,194.2 536.5,199.6 539.4,196.0 542.3,192.8 545.2,196.7 548.1,195.2 551.0,196.7 553.8,195.2 556.7,195.7 559.6,195.7 562.5,195.2 565.4,195.2 568.3,194.8 571.2,194.8 574.1,198.2 576.9,194.8 579.8,194.5 582.7,194.2 585.6,194.8 588.5,194.2 591.4,194.2 594.3,195.2 597.2,196.0 600.0,196.3 602.9,198.6 605.8,196.0 608.7,195.7 611.6,195.2 614.5,194.2 617.4,194.2 620.2,194.8 623.1,195.2 626.0,194.5 628.9,194.2 631.8,194.5 634.7,194.8 637.6,194.8 640.5,195.2 643.3,195.2 646.2,195.2 649.1,195.2 652.0,195.7 654.9,196.0 657.8,196.7" fill="none" stroke="#f5c8b1" stroke-width="1.6" stroke-linejoin="round"/>
<polyline points="493.2,230.7 496.1,224.0 499.0,214.7 501.9,217.1 504.8,212.0 507.7,211.7 510.5,213.8 513.4,210.6 516.3,206.9 519.2,207.4 522.1,204.0 525.0,201.1 527.9,205.0 530.8,206.9 533.6,204.4 536.5,203.0 539.4,203.3 542.3,192.3 545.2,192.3 548.1,191.6 551.0,191.3 553.8,192.3 556.7,191.9 559.6,192.3 562.5,188.4 565.4,189.4 568.3,189.4 571.2,188.4 574.1,189.4 576.9,189.4 579.8,190.9 582.7,187.9 585.6,190.4 588.5,190.4 591.4,189.4 594.3,185.5 597.2,185.0 600.0,184.0 602.9,183.1 605.8,183.1 608.7,182.5 611.6,182.5 614.5,181.7 617.4,185.5 620.2,186.5 623.1,187.9 626.0,189.0 628.9,191.3 631.8,187.9 634.7,191.3 637.6,187.9 640.5,187.5 643.3,185.5 646.2,185.5 649.1,187.5 652.0,187.5 654.9,189.4 657.8,190.4" fill="none" stroke="#c0daed" stroke-width="1.6" stroke-linejoin="round"/>
<g fill="#ad2430" stroke="#fff" stroke-width="0.7" paint-order="stroke">
<path d="M493.2 206.2L495.7 208.7L493.2 211.2L490.7 208.7Z"/>
<path d="M496.1 204.1L498.6 206.6L496.1 209.1L493.6 206.6Z"/>
<path d="M499.0 187.3L501.5 189.8L499.0 192.3L496.5 189.8Z"/>
<path d="M501.9 180.3L504.4 182.8L501.9 185.3L499.4 182.8Z"/>
<path d="M504.8 186.2L507.3 188.7L504.8 191.2L502.3 188.7Z"/>
<path d="M507.7 186.9L510.2 189.4L507.7 191.9L505.2 189.4Z"/>
<path d="M510.5 187.3L513.0 189.8L510.5 192.3L508.0 189.8Z"/>
<path d="M513.4 193.5L515.9 196.0L513.4 198.5L510.9 196.0Z"/>
<path d="M516.3 191.7L518.8 194.2L516.3 196.7L513.8 194.2Z"/>
<path d="M519.2 189.8L521.7 192.3L519.2 194.8L516.7 192.3Z"/>
<path d="M522.1 190.9L524.6 193.4L522.1 195.9L519.6 193.4Z"/>
<path d="M525.0 191.7L527.5 194.2L525.0 196.7L522.5 194.2Z"/>
<path d="M527.9 190.9L530.4 193.4L527.9 195.9L525.4 193.4Z"/>
<path d="M530.8 193.2L533.3 195.7L530.8 198.2L528.3 195.7Z"/>
<path d="M533.6 191.7L536.1 194.2L533.6 196.7L531.1 194.2Z"/>
<path d="M536.5 197.1L539.0 199.6L536.5 202.1L534.0 199.6Z"/>
<path d="M539.4 193.5L541.9 196.0L539.4 198.5L536.9 196.0Z"/>
<path d="M542.3 190.9L544.2 192.8L542.3 194.6L540.5 192.8Z"/>
<path d="M545.2 194.2L547.7 196.7L545.2 199.2L542.7 196.7Z"/>
<path d="M548.1 193.4L549.9 195.2L548.1 197.1L546.2 195.2Z"/>
<path d="M551.0 194.2L553.5 196.7L551.0 199.2L548.5 196.7Z"/>
<path d="M553.8 193.4L555.7 195.2L553.8 197.1L552.0 195.2Z"/>
<path d="M556.7 193.8L558.6 195.7L556.7 197.5L554.9 195.7Z"/>
<path d="M559.6 193.8L561.5 195.7L559.6 197.5L557.8 195.7Z"/>
<path d="M562.5 193.4L564.4 195.2L562.5 197.1L560.7 195.2Z"/>
<path d="M565.4 193.4L567.2 195.2L565.4 197.1L563.5 195.2Z"/>
<path d="M568.3 193.0L570.1 194.8L568.3 196.7L566.4 194.8Z"/>
<path d="M571.2 193.0L573.0 194.8L571.2 196.7L569.3 194.8Z"/>
<path d="M574.1 195.7L576.6 198.2L574.1 200.7L571.6 198.2Z"/>
<path d="M576.9 193.0L578.8 194.8L576.9 196.7L575.1 194.8Z"/>
<path d="M579.8 192.7L581.7 194.5L579.8 196.4L578.0 194.5Z"/>
<path d="M582.7 192.4L584.6 194.2L582.7 196.1L580.9 194.2Z"/>
<path d="M585.6 193.0L587.5 194.8L585.6 196.7L583.8 194.8Z"/>
<path d="M588.5 192.4L590.3 194.2L588.5 196.1L586.6 194.2Z"/>
<path d="M591.4 192.4L593.2 194.2L591.4 196.1L589.5 194.2Z"/>
<path d="M594.3 193.4L596.1 195.2L594.3 197.1L592.4 195.2Z"/>
<path d="M597.2 194.1L599.0 196.0L597.2 197.8L595.3 196.0Z"/>
<path d="M600.0 194.4L601.9 196.3L600.0 198.1L598.2 196.3Z"/>
<path d="M602.9 196.1L605.4 198.6L602.9 201.1L600.4 198.6Z"/>
<path d="M605.8 194.1L607.7 196.0L605.8 197.8L604.0 196.0Z"/>
<path d="M608.7 193.8L610.5 195.7L608.7 197.5L606.8 195.7Z"/>
<path d="M611.6 193.4L613.4 195.2L611.6 197.1L609.7 195.2Z"/>
<path d="M614.5 192.4L616.3 194.2L614.5 196.1L612.6 194.2Z"/>
<path d="M617.4 192.4L619.2 194.2L617.4 196.1L615.5 194.2Z"/>
<path d="M620.2 193.0L622.1 194.8L620.2 196.7L618.4 194.8Z"/>
<path d="M623.1 193.4L625.0 195.2L623.1 197.1L621.3 195.2Z"/>
<path d="M626.0 192.7L627.9 194.5L626.0 196.4L624.2 194.5Z"/>
<path d="M628.9 192.4L630.8 194.2L628.9 196.1L627.1 194.2Z"/>
<path d="M631.8 192.7L633.6 194.5L631.8 196.4L629.9 194.5Z"/>
<path d="M634.7 193.0L636.5 194.8L634.7 196.7L632.8 194.8Z"/>
<path d="M637.6 193.0L639.4 194.8L637.6 196.7L635.7 194.8Z"/>
<path d="M640.5 193.4L642.3 195.2L640.5 197.1L638.6 195.2Z"/>
<path d="M643.3 193.4L645.2 195.2L643.3 197.1L641.5 195.2Z"/>
<path d="M646.2 193.4L648.1 195.2L646.2 197.1L644.4 195.2Z"/>
<path d="M649.1 193.4L651.0 195.2L649.1 197.1L647.3 195.2Z"/>
<path d="M652.0 193.8L653.8 195.7L652.0 197.5L650.1 195.7Z"/>
<path d="M654.9 194.1L656.7 196.0L654.9 197.8L653.0 196.0Z"/>
<path d="M657.8 194.9L659.6 196.7L657.8 198.6L655.9 196.7Z"/>
</g>
<g fill="#336db4" stroke="#fff" stroke-width="0.7" paint-order="stroke">
<path d="M491.9 228.5L493.2 229.8L494.5 228.5L495.5 229.4L494.2 230.7L495.5 232.0L494.5 233.0L493.2 231.7L491.9 233.0L491.0 232.0L492.3 230.7L491.0 229.4Z"/>
<path d="M494.8 221.8L496.1 223.1L497.4 221.8L498.4 222.7L497.1 224.0L498.4 225.3L497.4 226.3L496.1 225.0L494.8 226.3L493.9 225.3L495.2 224.0L493.9 222.7Z"/>
<path d="M497.7 212.4L499.0 213.7L500.3 212.4L501.3 213.4L499.9 214.7L501.3 216.0L500.3 216.9L499.0 215.6L497.7 216.9L496.8 216.0L498.1 214.7L496.8 213.4Z"/>
<path d="M500.6 214.9L501.9 216.2L503.2 214.9L504.1 215.8L502.8 217.1L504.1 218.5L503.2 219.4L501.9 218.1L500.6 219.4L499.6 218.5L500.9 217.1L499.6 215.8Z"/>
<path d="M503.5 209.8L504.8 211.1L506.1 209.8L507.0 210.7L505.7 212.0L507.0 213.3L506.1 214.3L504.8 213.0L503.5 214.3L502.5 213.3L503.8 212.0L502.5 210.7Z"/>
<path d="M506.4 209.5L507.7 210.8L509.0 209.5L509.9 210.4L508.6 211.7L509.9 213.0L509.0 214.0L507.7 212.7L506.4 214.0L505.4 213.0L506.7 211.7L505.4 210.4Z"/>
<path d="M509.2 211.5L510.5 212.8L511.9 211.5L512.8 212.5L511.5 213.8L512.8 215.1L511.9 216.0L510.5 214.7L509.2 216.0L508.3 215.1L509.6 213.8L508.3 212.5Z"/>
<path d="M512.1 208.3L513.4 209.6L514.7 208.3L515.7 209.3L514.4 210.6L515.7 211.9L514.7 212.8L513.4 211.5L512.1 212.8L511.2 211.9L512.5 210.6L511.2 209.3Z"/>
<path d="M515.0 204.7L516.3 206.0L517.6 204.7L518.6 205.6L517.3 206.9L518.6 208.2L517.6 209.2L516.3 207.9L515.0 209.2L514.1 208.2L515.4 206.9L514.1 205.6Z"/>
<path d="M517.9 205.1L519.2 206.4L520.5 205.1L521.5 206.1L520.2 207.4L521.5 208.7L520.5 209.6L519.2 208.3L517.9 209.6L517.0 208.7L518.3 207.4L517.0 206.1Z"/>
<path d="M520.8 201.8L522.1 203.1L523.4 201.8L524.3 202.7L523.0 204.0L524.3 205.3L523.4 206.3L522.1 205.0L520.8 206.3L519.8 205.3L521.1 204.0L519.8 202.7Z"/>
<path d="M523.7 198.8L525.0 200.1L526.3 198.8L527.2 199.8L525.9 201.1L527.2 202.4L526.3 203.3L525.0 202.0L523.7 203.3L522.7 202.4L524.0 201.1L522.7 199.8Z"/>
<path d="M526.6 202.8L527.9 204.1L529.2 202.8L530.1 203.7L528.8 205.0L530.1 206.3L529.2 207.3L527.9 206.0L526.6 207.3L525.6 206.3L526.9 205.0L525.6 203.7Z"/>
<path d="M529.5 204.7L530.8 206.0L532.1 204.7L533.0 205.6L531.7 206.9L533.0 208.2L532.1 209.2L530.8 207.9L529.5 209.2L528.5 208.2L529.8 206.9L528.5 205.6Z"/>
<path d="M532.3 202.2L533.6 203.5L534.9 202.2L535.9 203.1L534.6 204.4L535.9 205.8L534.9 206.7L533.6 205.4L532.3 206.7L531.4 205.8L532.7 204.4L531.4 203.1Z"/>
<path d="M535.2 200.7L536.5 202.0L537.8 200.7L538.8 201.7L537.5 203.0L538.8 204.3L537.8 205.2L536.5 203.9L535.2 205.2L534.3 204.3L535.6 203.0L534.3 201.7Z"/>
<path d="M538.1 201.0L539.4 202.3L540.7 201.0L541.7 202.0L540.4 203.3L541.7 204.6L540.7 205.5L539.4 204.2L538.1 205.5L537.2 204.6L538.5 203.3L537.2 202.0Z"/>
<path d="M541.2 190.5L542.3 191.6L543.4 190.5L544.2 191.3L543.1 192.3L544.2 193.4L543.4 194.2L542.3 193.1L541.2 194.2L540.5 193.4L541.5 192.3L540.5 191.3Z"/>
<path d="M544.1 190.5L545.2 191.6L546.3 190.5L547.0 191.3L546.0 192.3L547.0 193.4L546.3 194.2L545.2 193.1L544.1 194.2L543.3 193.4L544.4 192.3L543.3 191.3Z"/>
<path d="M547.0 189.7L548.1 190.8L549.1 189.7L549.9 190.5L548.9 191.6L549.9 192.7L549.1 193.4L548.1 192.4L547.0 193.4L546.2 192.7L547.3 191.6L546.2 190.5Z"/>
<path d="M549.9 189.5L551.0 190.5L552.0 189.5L552.8 190.2L551.7 191.3L552.8 192.4L552.0 193.2L551.0 192.1L549.9 193.2L549.1 192.4L550.2 191.3L549.1 190.2Z"/>
<path d="M552.8 190.5L553.8 191.6L554.9 190.5L555.7 191.3L554.6 192.3L555.7 193.4L554.9 194.2L553.8 193.1L552.8 194.2L552.0 193.4L553.1 192.3L552.0 191.3Z"/>
<path d="M555.7 190.0L556.7 191.1L557.8 190.0L558.6 190.8L557.5 191.9L558.6 193.0L557.8 193.7L556.7 192.7L555.7 193.7L554.9 193.0L556.0 191.9L554.9 190.8Z"/>
<path d="M558.5 190.5L559.6 191.6L560.7 190.5L561.5 191.3L560.4 192.3L561.5 193.4L560.7 194.2L559.6 193.1L558.5 194.2L557.8 193.4L558.8 192.3L557.8 191.3Z"/>
<path d="M561.4 186.5L562.5 187.6L563.6 186.5L564.4 187.3L563.3 188.4L564.4 189.5L563.6 190.2L562.5 189.2L561.4 190.2L560.7 189.5L561.7 188.4L560.7 187.3Z"/>
<path d="M564.3 187.6L565.4 188.6L566.5 187.6L567.2 188.3L566.2 189.4L567.2 190.5L566.5 191.3L565.4 190.2L564.3 191.3L563.5 190.5L564.6 189.4L563.5 188.3Z"/>
<path d="M567.2 187.6L568.3 188.6L569.4 187.6L570.1 188.3L569.1 189.4L570.1 190.5L569.4 191.3L568.3 190.2L567.2 191.3L566.4 190.5L567.5 189.4L566.4 188.3Z"/>
<path d="M570.1 186.5L571.2 187.6L572.2 186.5L573.0 187.3L571.9 188.4L573.0 189.5L572.2 190.2L571.2 189.2L570.1 190.2L569.3 189.5L570.4 188.4L569.3 187.3Z"/>
<path d="M573.0 187.6L574.1 188.6L575.1 187.6L575.9 188.3L574.8 189.4L575.9 190.5L575.1 191.3L574.1 190.2L573.0 191.3L572.2 190.5L573.3 189.4L572.2 188.3Z"/>
<path d="M575.9 187.6L576.9 188.6L578.0 187.6L578.8 188.3L577.7 189.4L578.8 190.5L578.0 191.3L576.9 190.2L575.9 191.3L575.1 190.5L576.2 189.4L575.1 188.3Z"/>
<path d="M578.8 189.0L579.8 190.1L580.9 189.0L581.7 189.8L580.6 190.9L581.7 191.9L580.9 192.7L579.8 191.6L578.8 192.7L578.0 191.9L579.1 190.9L578.0 189.8Z"/>
<path d="M581.6 186.1L582.7 187.2L583.8 186.1L584.6 186.9L583.5 187.9L584.6 189.0L583.8 189.8L582.7 188.7L581.6 189.8L580.9 189.0L581.9 187.9L580.9 186.9Z"/>
<path d="M584.5 188.6L585.6 189.7L586.7 188.6L587.5 189.4L586.4 190.4L587.5 191.5L586.7 192.3L585.6 191.2L584.5 192.3L583.8 191.5L584.8 190.4L583.8 189.4Z"/>
<path d="M587.4 188.6L588.5 189.7L589.6 188.6L590.3 189.4L589.3 190.4L590.3 191.5L589.6 192.3L588.5 191.2L587.4 192.3L586.6 191.5L587.7 190.4L586.6 189.4Z"/>
<path d="M590.3 187.6L591.4 188.6L592.5 187.6L593.2 188.3L592.2 189.4L593.2 190.5L592.5 191.3L591.4 190.2L590.3 191.3L589.5 190.5L590.6 189.4L589.5 188.3Z"/>
<path d="M593.2 183.6L594.3 184.7L595.3 183.6L596.1 184.4L595.0 185.5L596.1 186.5L595.3 187.3L594.3 186.2L593.2 187.3L592.4 186.5L593.5 185.5L592.4 184.4Z"/>
<path d="M596.1 183.2L597.2 184.3L598.2 183.2L599.0 184.0L597.9 185.0L599.0 186.1L598.2 186.9L597.2 185.8L596.1 186.9L595.3 186.1L596.4 185.0L595.3 184.0Z"/>
<path d="M599.0 182.2L600.0 183.2L601.1 182.2L601.9 182.9L600.8 184.0L601.9 185.1L601.1 185.9L600.0 184.8L599.0 185.9L598.2 185.1L599.3 184.0L598.2 182.9Z"/>
<path d="M601.9 181.3L602.9 182.4L604.0 181.3L604.8 182.1L603.7 183.1L604.8 184.2L604.0 185.0L602.9 183.9L601.9 185.0L601.1 184.2L602.1 183.1L601.1 182.1Z"/>
<path d="M604.7 181.3L605.8 182.4L606.9 181.3L607.7 182.1L606.6 183.1L607.7 184.2L606.9 185.0L605.8 183.9L604.7 185.0L604.0 184.2L605.0 183.1L604.0 182.1Z"/>
<path d="M607.6 180.7L608.7 181.8L609.8 180.7L610.5 181.5L609.5 182.5L610.5 183.6L609.8 184.4L608.7 183.3L607.6 184.4L606.8 183.6L607.9 182.5L606.8 181.5Z"/>
<path d="M610.5 180.7L611.6 181.8L612.7 180.7L613.4 181.5L612.4 182.5L613.4 183.6L612.7 184.4L611.6 183.3L610.5 184.4L609.7 183.6L610.8 182.5L609.7 181.5Z"/>
<path d="M613.4 179.8L614.5 180.9L615.5 179.8L616.3 180.6L615.2 181.7L616.3 182.7L615.5 183.5L614.5 182.4L613.4 183.5L612.6 182.7L613.7 181.7L612.6 180.6Z"/>
<path d="M616.3 183.6L617.4 184.7L618.4 183.6L619.2 184.4L618.1 185.5L619.2 186.5L618.4 187.3L617.4 186.2L616.3 187.3L615.5 186.5L616.6 185.5L615.5 184.4Z"/>
<path d="M619.2 184.6L620.2 185.7L621.3 184.6L622.1 185.4L621.0 186.5L622.1 187.6L621.3 188.3L620.2 187.3L619.2 188.3L618.4 187.6L619.5 186.5L618.4 185.4Z"/>
<path d="M622.1 186.1L623.1 187.2L624.2 186.1L625.0 186.9L623.9 187.9L625.0 189.0L624.2 189.8L623.1 188.7L622.1 189.8L621.3 189.0L622.4 187.9L621.3 186.9Z"/>
<path d="M624.9 187.1L626.0 188.2L627.1 187.1L627.9 187.9L626.8 189.0L627.9 190.0L627.1 190.8L626.0 189.7L624.9 190.8L624.2 190.0L625.2 189.0L624.2 187.9Z"/>
<path d="M627.8 189.5L628.9 190.5L630.0 189.5L630.8 190.2L629.7 191.3L630.8 192.4L630.0 193.2L628.9 192.1L627.8 193.2L627.1 192.4L628.1 191.3L627.1 190.2Z"/>
<path d="M630.7 186.1L631.8 187.2L632.9 186.1L633.6 186.9L632.6 187.9L633.6 189.0L632.9 189.8L631.8 188.7L630.7 189.8L629.9 189.0L631.0 187.9L629.9 186.9Z"/>
<path d="M633.6 189.5L634.7 190.5L635.8 189.5L636.5 190.2L635.5 191.3L636.5 192.4L635.8 193.2L634.7 192.1L633.6 193.2L632.8 192.4L633.9 191.3L632.8 190.2Z"/>
<path d="M636.5 186.1L637.6 187.2L638.6 186.1L639.4 186.9L638.3 187.9L639.4 189.0L638.6 189.8L637.6 188.7L636.5 189.8L635.7 189.0L636.8 187.9L635.7 186.9Z"/>
<path d="M639.4 185.7L640.5 186.7L641.5 185.7L642.3 186.4L641.2 187.5L642.3 188.6L641.5 189.4L640.5 188.3L639.4 189.4L638.6 188.6L639.7 187.5L638.6 186.4Z"/>
<path d="M642.3 183.6L643.3 184.7L644.4 183.6L645.2 184.4L644.1 185.5L645.2 186.5L644.4 187.3L643.3 186.2L642.3 187.3L641.5 186.5L642.6 185.5L641.5 184.4Z"/>
<path d="M645.2 183.6L646.2 184.7L647.3 183.6L648.1 184.4L647.0 185.5L648.1 186.5L647.3 187.3L646.2 186.2L645.2 187.3L644.4 186.5L645.4 185.5L644.4 184.4Z"/>
<path d="M648.0 185.7L649.1 186.7L650.2 185.7L651.0 186.4L649.9 187.5L651.0 188.6L650.2 189.4L649.1 188.3L648.0 189.4L647.3 188.6L648.3 187.5L647.3 186.4Z"/>
<path d="M650.9 185.7L652.0 186.7L653.1 185.7L653.8 186.4L652.8 187.5L653.8 188.6L653.1 189.4L652.0 188.3L650.9 189.4L650.1 188.6L651.2 187.5L650.1 186.4Z"/>
<path d="M653.8 187.6L654.9 188.6L656.0 187.6L656.7 188.3L655.7 189.4L656.7 190.5L656.0 191.3L654.9 190.2L653.8 191.3L653.0 190.5L654.1 189.4L653.0 188.3Z"/>
<path d="M656.7 188.6L657.8 189.7L658.8 188.6L659.6 189.4L658.5 190.4L659.6 191.5L658.8 192.3L657.8 191.2L656.7 192.3L655.9 191.5L657.0 190.4L655.9 189.4Z"/>
</g>
<rect x="613.1" y="201.3" width="48.60" height="26.70" rx="1.8" fill="#fff" fill-opacity="0.8" stroke="#dadada" stroke-width="0.8"/>
<line x1="615.7" y1="208.10" x2="633.3000000000001" y2="208.10" stroke="#f5c8b1" stroke-width="1.6"/>
<path d="M624.6 205.7L627.0 208.1L624.6 210.5L622.2 208.1Z" fill="#ad2430" stroke="#fff" stroke-width="0.7" paint-order="stroke"/>
<line x1="615.7" y1="220.10" x2="633.3000000000001" y2="220.10" stroke="#c0daed" stroke-width="1.6"/>
<path d="M623.4 218.0L624.6 219.2L625.8 218.0L626.7 218.9L625.5 220.1L626.7 221.3L625.8 222.2L624.6 221.0L623.4 222.2L622.5 221.3L623.7 220.1L622.5 218.9Z" fill="#336db4" stroke="#fff" stroke-width="0.7" paint-order="stroke"/>
<rect x="485.0" y="243.5" width="181.00" height="53.10" fill="none" stroke="#444444" stroke-width="0.95"/>
<line x1="482.7" y1="256.6" x2="485.0" y2="256.6" stroke="#444444" stroke-width="0.8"/>
<line x1="482.7" y1="278.6" x2="485.0" y2="278.6" stroke="#444444" stroke-width="0.8"/>
<line x1="493.23" y1="296.6" x2="493.23" y2="298.90000000000003" stroke="#444444" stroke-width="0.8"/>
<line x1="522.09" y1="296.6" x2="522.09" y2="298.90000000000003" stroke="#444444" stroke-width="0.8"/>
<line x1="550.96" y1="296.6" x2="550.96" y2="298.90000000000003" stroke="#444444" stroke-width="0.8"/>
<line x1="579.83" y1="296.6" x2="579.83" y2="298.90000000000003" stroke="#444444" stroke-width="0.8"/>
<line x1="608.70" y1="296.6" x2="608.70" y2="298.90000000000003" stroke="#444444" stroke-width="0.8"/>
<line x1="637.57" y1="296.6" x2="637.57" y2="298.90000000000003" stroke="#444444" stroke-width="0.8"/>
<polyline points="493.2,272.4 496.1,269.9 499.0,256.3 501.9,248.0 504.8,252.7 507.7,251.5 510.5,254.1 513.4,258.5 516.3,254.9 519.2,255.6 522.1,256.8 525.0,256.8 527.9,256.8 530.8,256.3 533.6,255.9 536.5,259.7 539.4,256.8 542.3,257.8 545.2,258.8 548.1,258.2 551.0,258.8 553.8,258.2 556.7,258.2 559.6,257.8 562.5,258.2 565.4,257.4 568.3,257.4 571.2,257.8 574.1,257.4 576.9,257.8 579.8,257.4 582.7,257.1 585.6,256.8 588.5,257.1 591.4,257.1 594.3,258.2 597.2,258.5 600.0,258.8 602.9,258.5 605.8,258.2 608.7,258.2 611.6,257.8 614.5,257.8 617.4,257.4 620.2,257.4 623.1,257.8 626.0,257.8 628.9,257.4 631.8,257.8 634.7,257.4 637.6,257.4 640.5,257.8 643.3,258.2 646.2,258.2 649.1,257.8 652.0,258.2 654.9,258.5 657.8,259.2" fill="none" stroke="#f5c8b1" stroke-width="1.6" stroke-linejoin="round"/>
<polyline points="493.2,293.8 496.1,284.1 499.0,276.0 501.9,280.1 504.8,271.9 507.7,271.9 510.5,274.9 513.4,271.9 516.3,267.6 519.2,266.5 522.1,264.1 525.0,262.6 527.9,265.5 530.8,265.1 533.6,264.4 536.5,263.6 539.4,261.4 542.3,254.1 545.2,253.4 548.1,252.7 551.0,253.4 553.8,254.1 556.7,253.8 559.6,253.4 562.5,251.2 565.4,251.9 568.3,252.7 571.2,251.2 574.1,251.5 576.9,251.5 579.8,252.4 582.7,250.5 585.6,251.2 588.5,252.4 591.4,253.4 594.3,251.5 597.2,249.8 600.0,249.0 602.9,248.3 605.8,247.1 608.7,246.8 611.6,247.1 614.5,245.7 617.4,246.8 620.2,249.0 623.1,249.5 626.0,250.5 628.9,251.5 631.8,252.7 634.7,253.8 637.6,250.5 640.5,252.4 643.3,251.5 646.2,250.9 649.1,250.1 652.0,249.8 654.9,251.5 657.8,253.4" fill="none" stroke="#c0daed" stroke-width="1.6" stroke-linejoin="round"/>
<g fill="#ad2430" stroke="#fff" stroke-width="0.7" paint-order="stroke">
<circle cx="493.2" cy="272.4" r="2.10"/>
<circle cx="496.1" cy="269.9" r="2.10"/>
<circle cx="499.0" cy="256.3" r="2.10"/>
<circle cx="501.9" cy="248.0" r="2.10"/>
<circle cx="504.8" cy="252.7" r="2.10"/>
<circle cx="507.7" cy="251.5" r="2.10"/>
<circle cx="510.5" cy="254.1" r="2.10"/>
<circle cx="513.4" cy="258.5" r="2.10"/>
<circle cx="516.3" cy="254.9" r="2.10"/>
<circle cx="519.2" cy="255.6" r="2.10"/>
<circle cx="522.1" cy="256.8" r="1.65"/>
<circle cx="525.0" cy="256.8" r="1.65"/>
<circle cx="527.9" cy="256.8" r="1.65"/>
<circle cx="530.8" cy="256.3" r="1.65"/>
<circle cx="533.6" cy="255.9" r="2.10"/>
<circle cx="536.5" cy="259.7" r="1.65"/>
<circle cx="539.4" cy="256.8" r="1.65"/>
<circle cx="542.3" cy="257.8" r="1.65"/>
<circle cx="545.2" cy="258.8" r="1.65"/>
<circle cx="548.1" cy="258.2" r="1.65"/>
<circle cx="551.0" cy="258.8" r="1.65"/>
<circle cx="553.8" cy="258.2" r="1.65"/>
<circle cx="556.7" cy="258.2" r="1.65"/>
<circle cx="559.6" cy="257.8" r="1.65"/>
<circle cx="562.5" cy="258.2" r="1.65"/>
<circle cx="565.4" cy="257.4" r="1.65"/>
<circle cx="568.3" cy="257.4" r="1.65"/>
<circle cx="571.2" cy="257.8" r="1.65"/>
<circle cx="574.1" cy="257.4" r="1.65"/>
<circle cx="576.9" cy="257.8" r="1.65"/>
<circle cx="579.8" cy="257.4" r="1.65"/>
<circle cx="582.7" cy="257.1" r="1.65"/>
<circle cx="585.6" cy="256.8" r="1.65"/>
<circle cx="588.5" cy="257.1" r="1.65"/>
<circle cx="591.4" cy="257.1" r="1.65"/>
<circle cx="594.3" cy="258.2" r="1.65"/>
<circle cx="597.2" cy="258.5" r="1.65"/>
<circle cx="600.0" cy="258.8" r="1.65"/>
<circle cx="602.9" cy="258.5" r="1.65"/>
<circle cx="605.8" cy="258.2" r="1.65"/>
<circle cx="608.7" cy="258.2" r="1.65"/>
<circle cx="611.6" cy="257.8" r="1.65"/>
<circle cx="614.5" cy="257.8" r="1.65"/>
<circle cx="617.4" cy="257.4" r="1.65"/>
<circle cx="620.2" cy="257.4" r="1.65"/>
<circle cx="623.1" cy="257.8" r="1.65"/>
<circle cx="626.0" cy="257.8" r="1.65"/>
<circle cx="628.9" cy="257.4" r="1.65"/>
<circle cx="631.8" cy="257.8" r="1.65"/>
<circle cx="634.7" cy="257.4" r="1.65"/>
<circle cx="637.6" cy="257.4" r="1.65"/>
<circle cx="640.5" cy="257.8" r="1.65"/>
<circle cx="643.3" cy="258.2" r="1.65"/>
<circle cx="646.2" cy="258.2" r="1.65"/>
<circle cx="649.1" cy="257.8" r="1.65"/>
<circle cx="652.0" cy="258.2" r="1.65"/>
<circle cx="654.9" cy="258.5" r="1.65"/>
<circle cx="657.8" cy="259.2" r="1.65"/>
</g>
<g fill="#336db4" stroke="#fff" stroke-width="0.7" paint-order="stroke">
<path d="M492.2 291.2L494.3 291.2L494.3 292.8L495.8 292.8L495.8 294.9L494.3 294.9L494.3 296.4L492.2 296.4L492.2 294.9L490.6 294.9L490.6 292.8L492.2 292.8Z"/>
<path d="M495.1 281.5L497.2 281.5L497.2 283.0L498.7 283.0L498.7 285.1L497.2 285.1L497.2 286.7L495.1 286.7L495.1 285.1L493.5 285.1L493.5 283.0L495.1 283.0Z"/>
<path d="M498.0 273.4L500.0 273.4L500.0 275.0L501.6 275.0L501.6 277.1L500.0 277.1L500.0 278.6L498.0 278.6L498.0 277.1L496.4 277.1L496.4 275.0L498.0 275.0Z"/>
<path d="M500.8 277.5L502.9 277.5L502.9 279.1L504.5 279.1L504.5 281.2L502.9 281.2L502.9 282.7L500.8 282.7L500.8 281.2L499.3 281.2L499.3 279.1L500.8 279.1Z"/>
<path d="M503.7 269.3L505.8 269.3L505.8 270.9L507.4 270.9L507.4 273.0L505.8 273.0L505.8 274.5L503.7 274.5L503.7 273.0L502.2 273.0L502.2 270.9L503.7 270.9Z"/>
<path d="M506.6 269.3L508.7 269.3L508.7 270.9L510.3 270.9L510.3 273.0L508.7 273.0L508.7 274.5L506.6 274.5L506.6 273.0L505.1 273.0L505.1 270.9L506.6 270.9Z"/>
<path d="M509.5 272.3L511.6 272.3L511.6 273.8L513.1 273.8L513.1 275.9L511.6 275.9L511.6 277.5L509.5 277.5L509.5 275.9L507.9 275.9L507.9 273.8L509.5 273.8Z"/>
<path d="M512.4 269.3L514.5 269.3L514.5 270.9L516.0 270.9L516.0 273.0L514.5 273.0L514.5 274.5L512.4 274.5L512.4 273.0L510.8 273.0L510.8 270.9L512.4 270.9Z"/>
<path d="M515.3 265.0L517.4 265.0L517.4 266.5L518.9 266.5L518.9 268.6L517.4 268.6L517.4 270.2L515.3 270.2L515.3 268.6L513.7 268.6L513.7 266.5L515.3 266.5Z"/>
<path d="M518.2 263.9L520.2 263.9L520.2 265.5L521.8 265.5L521.8 267.6L520.2 267.6L520.2 269.1L518.2 269.1L518.2 267.6L516.6 267.6L516.6 265.5L518.2 265.5Z"/>
<path d="M521.1 261.5L523.1 261.5L523.1 263.0L524.7 263.0L524.7 265.1L523.1 265.1L523.1 266.7L521.1 266.7L521.1 265.1L519.5 265.1L519.5 263.0L521.1 263.0Z"/>
<path d="M523.9 260.0L526.0 260.0L526.0 261.6L527.6 261.6L527.6 263.6L526.0 263.6L526.0 265.2L523.9 265.2L523.9 263.6L522.4 263.6L522.4 261.6L523.9 261.6Z"/>
<path d="M526.8 262.9L528.9 262.9L528.9 264.5L530.5 264.5L530.5 266.6L528.9 266.6L528.9 268.1L526.8 268.1L526.8 266.6L525.3 266.6L525.3 264.5L526.8 264.5Z"/>
<path d="M529.7 262.5L531.8 262.5L531.8 264.0L533.4 264.0L533.4 266.1L531.8 266.1L531.8 267.7L529.7 267.7L529.7 266.1L528.2 266.1L528.2 264.0L529.7 264.0Z"/>
<path d="M532.6 261.8L534.7 261.8L534.7 263.3L536.2 263.3L536.2 265.4L534.7 265.4L534.7 267.0L532.6 267.0L532.6 265.4L531.0 265.4L531.0 263.3L532.6 263.3Z"/>
<path d="M535.5 261.0L537.6 261.0L537.6 262.6L539.1 262.6L539.1 264.7L537.6 264.7L537.6 266.2L535.5 266.2L535.5 264.7L533.9 264.7L533.9 262.6L535.5 262.6Z"/>
<path d="M538.4 258.8L540.5 258.8L540.5 260.4L542.0 260.4L542.0 262.5L540.5 262.5L540.5 264.0L538.4 264.0L538.4 262.5L536.8 262.5L536.8 260.4L538.4 260.4Z"/>
<path d="M541.4 252.0L543.2 252.0L543.2 253.3L544.5 253.3L544.5 255.0L543.2 255.0L543.2 256.3L541.4 256.3L541.4 255.0L540.2 255.0L540.2 253.3L541.4 253.3Z"/>
<path d="M544.3 251.3L546.0 251.3L546.0 252.5L547.3 252.5L547.3 254.3L546.0 254.3L546.0 255.6L544.3 255.6L544.3 254.3L543.0 254.3L543.0 252.5L544.3 252.5Z"/>
<path d="M547.2 250.5L548.9 250.5L548.9 251.8L550.2 251.8L550.2 253.5L548.9 253.5L548.9 254.8L547.2 254.8L547.2 253.5L545.9 253.5L545.9 251.8L547.2 251.8Z"/>
<path d="M550.1 251.3L551.8 251.3L551.8 252.5L553.1 252.5L553.1 254.3L551.8 254.3L551.8 255.6L550.1 255.6L550.1 254.3L548.8 254.3L548.8 252.5L550.1 252.5Z"/>
<path d="M553.0 252.0L554.7 252.0L554.7 253.3L556.0 253.3L556.0 255.0L554.7 255.0L554.7 256.3L553.0 256.3L553.0 255.0L551.7 255.0L551.7 253.3L553.0 253.3Z"/>
<path d="M555.9 251.7L557.6 251.7L557.6 253.0L558.9 253.0L558.9 254.7L557.6 254.7L557.6 256.0L555.9 256.0L555.9 254.7L554.6 254.7L554.6 253.0L555.9 253.0Z"/>
<path d="M558.8 251.3L560.5 251.3L560.5 252.5L561.8 252.5L561.8 254.3L560.5 254.3L560.5 255.6L558.8 255.6L558.8 254.3L557.5 254.3L557.5 252.5L558.8 252.5Z"/>
<path d="M561.6 249.1L563.4 249.1L563.4 250.4L564.7 250.4L564.7 252.1L563.4 252.1L563.4 253.4L561.6 253.4L561.6 252.1L560.4 252.1L560.4 250.4L561.6 250.4Z"/>
<path d="M564.5 249.8L566.3 249.8L566.3 251.1L567.5 251.1L567.5 252.8L566.3 252.8L566.3 254.1L564.5 254.1L564.5 252.8L563.2 252.8L563.2 251.1L564.5 251.1Z"/>
<path d="M567.4 250.5L569.1 250.5L569.1 251.8L570.4 251.8L570.4 253.5L569.1 253.5L569.1 254.8L567.4 254.8L567.4 253.5L566.1 253.5L566.1 251.8L567.4 251.8Z"/>
<path d="M570.3 249.1L572.0 249.1L572.0 250.4L573.3 250.4L573.3 252.1L572.0 252.1L572.0 253.4L570.3 253.4L570.3 252.1L569.0 252.1L569.0 250.4L570.3 250.4Z"/>
<path d="M573.2 249.4L574.9 249.4L574.9 250.7L576.2 250.7L576.2 252.4L574.9 252.4L574.9 253.7L573.2 253.7L573.2 252.4L571.9 252.4L571.9 250.7L573.2 250.7Z"/>
<path d="M576.1 249.4L577.8 249.4L577.8 250.7L579.1 250.7L579.1 252.4L577.8 252.4L577.8 253.7L576.1 253.7L576.1 252.4L574.8 252.4L574.8 250.7L576.1 250.7Z"/>
<path d="M579.0 250.2L580.7 250.2L580.7 251.5L582.0 251.5L582.0 253.2L580.7 253.2L580.7 254.5L579.0 254.5L579.0 253.2L577.7 253.2L577.7 251.5L579.0 251.5Z"/>
<path d="M581.9 248.3L583.6 248.3L583.6 249.6L584.9 249.6L584.9 251.3L583.6 251.3L583.6 252.6L581.9 252.6L581.9 251.3L580.6 251.3L580.6 249.6L581.9 249.6Z"/>
<path d="M584.7 249.1L586.5 249.1L586.5 250.4L587.8 250.4L587.8 252.1L586.5 252.1L586.5 253.4L584.7 253.4L584.7 252.1L583.5 252.1L583.5 250.4L584.7 250.4Z"/>
<path d="M587.6 250.2L589.4 250.2L589.4 251.5L590.6 251.5L590.6 253.2L589.4 253.2L589.4 254.5L587.6 254.5L587.6 253.2L586.3 253.2L586.3 251.5L587.6 251.5Z"/>
<path d="M590.5 251.3L592.2 251.3L592.2 252.5L593.5 252.5L593.5 254.3L592.2 254.3L592.2 255.6L590.5 255.6L590.5 254.3L589.2 254.3L589.2 252.5L590.5 252.5Z"/>
<path d="M593.4 249.4L595.1 249.4L595.1 250.7L596.4 250.7L596.4 252.4L595.1 252.4L595.1 253.7L593.4 253.7L593.4 252.4L592.1 252.4L592.1 250.7L593.4 250.7Z"/>
<path d="M596.3 247.6L598.0 247.6L598.0 248.9L599.3 248.9L599.3 250.6L598.0 250.6L598.0 251.9L596.3 251.9L596.3 250.6L595.0 250.6L595.0 248.9L596.3 248.9Z"/>
<path d="M599.2 246.9L600.9 246.9L600.9 248.2L602.2 248.2L602.2 249.9L600.9 249.9L600.9 251.2L599.2 251.2L599.2 249.9L597.9 249.9L597.9 248.2L599.2 248.2Z"/>
<path d="M602.1 246.1L603.8 246.1L603.8 247.4L605.1 247.4L605.1 249.2L603.8 249.2L603.8 250.4L602.1 250.4L602.1 249.2L600.8 249.2L600.8 247.4L602.1 247.4Z"/>
<path d="M605.0 245.0L606.7 245.0L606.7 246.3L608.0 246.3L608.0 248.0L606.7 248.0L606.7 249.3L605.0 249.3L605.0 248.0L603.7 248.0L603.7 246.3L605.0 246.3Z"/>
<path d="M607.8 244.7L609.6 244.7L609.6 246.0L610.8 246.0L610.8 247.7L609.6 247.7L609.6 249.0L607.8 249.0L607.8 247.7L606.5 247.7L606.5 246.0L607.8 246.0Z"/>
<path d="M610.7 245.0L612.4 245.0L612.4 246.3L613.7 246.3L613.7 248.0L612.4 248.0L612.4 249.3L610.7 249.3L610.7 248.0L609.4 248.0L609.4 246.3L610.7 246.3Z"/>
<path d="M613.6 243.5L615.3 243.5L615.3 244.8L616.6 244.8L616.6 246.5L615.3 246.5L615.3 247.8L613.6 247.8L613.6 246.5L612.3 246.5L612.3 244.8L613.6 244.8Z"/>
<path d="M616.5 244.7L618.2 244.7L618.2 246.0L619.5 246.0L619.5 247.7L618.2 247.7L618.2 249.0L616.5 249.0L616.5 247.7L615.2 247.7L615.2 246.0L616.5 246.0Z"/>
<path d="M619.4 246.9L621.1 246.9L621.1 248.2L622.4 248.2L622.4 249.9L621.1 249.9L621.1 251.2L619.4 251.2L619.4 249.9L618.1 249.9L618.1 248.2L619.4 248.2Z"/>
<path d="M622.3 247.3L624.0 247.3L624.0 248.6L625.3 248.6L625.3 250.3L624.0 250.3L624.0 251.6L622.3 251.6L622.3 250.3L621.0 250.3L621.0 248.6L622.3 248.6Z"/>
<path d="M625.2 248.3L626.9 248.3L626.9 249.6L628.2 249.6L628.2 251.3L626.9 251.3L626.9 252.6L625.2 252.6L625.2 251.3L623.9 251.3L623.9 249.6L625.2 249.6Z"/>
<path d="M628.0 249.4L629.8 249.4L629.8 250.7L631.1 250.7L631.1 252.4L629.8 252.4L629.8 253.7L628.0 253.7L628.0 252.4L626.8 252.4L626.8 250.7L628.0 250.7Z"/>
<path d="M630.9 250.5L632.7 250.5L632.7 251.8L633.9 251.8L633.9 253.5L632.7 253.5L632.7 254.8L630.9 254.8L630.9 253.5L629.6 253.5L629.6 251.8L630.9 251.8Z"/>
<path d="M633.8 251.7L635.5 251.7L635.5 253.0L636.8 253.0L636.8 254.7L635.5 254.7L635.5 256.0L633.8 256.0L633.8 254.7L632.5 254.7L632.5 253.0L633.8 253.0Z"/>
<path d="M636.7 248.3L638.4 248.3L638.4 249.6L639.7 249.6L639.7 251.3L638.4 251.3L638.4 252.6L636.7 252.6L636.7 251.3L635.4 251.3L635.4 249.6L636.7 249.6Z"/>
<path d="M639.6 250.2L641.3 250.2L641.3 251.5L642.6 251.5L642.6 253.2L641.3 253.2L641.3 254.5L639.6 254.5L639.6 253.2L638.3 253.2L638.3 251.5L639.6 251.5Z"/>
<path d="M642.5 249.4L644.2 249.4L644.2 250.7L645.5 250.7L645.5 252.4L644.2 252.4L644.2 253.7L642.5 253.7L642.5 252.4L641.2 252.4L641.2 250.7L642.5 250.7Z"/>
<path d="M645.4 248.8L647.1 248.8L647.1 250.1L648.4 250.1L648.4 251.8L647.1 251.8L647.1 253.1L645.4 253.1L645.4 251.8L644.1 251.8L644.1 250.1L645.4 250.1Z"/>
<path d="M648.3 247.9L650.0 247.9L650.0 249.2L651.3 249.2L651.3 250.9L650.0 250.9L650.0 252.2L648.3 252.2L648.3 250.9L647.0 250.9L647.0 249.2L648.3 249.2Z"/>
<path d="M651.1 247.6L652.9 247.6L652.9 248.9L654.1 248.9L654.1 250.6L652.9 250.6L652.9 251.9L651.1 251.9L651.1 250.6L649.8 250.6L649.8 248.9L651.1 248.9Z"/>
<path d="M654.0 249.4L655.7 249.4L655.7 250.7L657.0 250.7L657.0 252.4L655.7 252.4L655.7 253.7L654.0 253.7L654.0 252.4L652.7 252.4L652.7 250.7L654.0 250.7Z"/>
<path d="M656.9 251.3L658.6 251.3L658.6 252.5L659.9 252.5L659.9 254.3L658.6 254.3L658.6 255.6L656.9 255.6L656.9 254.3L655.6 254.3L655.6 252.5L656.9 252.5Z"/>
</g>
<rect x="613.1" y="265.50000000000006" width="48.60" height="26.70" rx="1.8" fill="#fff" fill-opacity="0.8" stroke="#dadada" stroke-width="0.8"/>
<line x1="615.7" y1="272.30" x2="633.3000000000001" y2="272.30" stroke="#f5c8b1" stroke-width="1.6"/>
<circle cx="624.60" cy="272.30" r="2.05" fill="#ad2430" stroke="#fff" stroke-width="0.7" paint-order="stroke"/>
<line x1="615.7" y1="284.30" x2="633.3000000000001" y2="284.30" stroke="#c0daed" stroke-width="1.6"/>
<path d="M623.5 281.6L625.7 281.6L625.7 283.2L627.3 283.2L627.3 285.4L625.7 285.4L625.7 287.0L623.5 287.0L623.5 285.4L621.9 285.4L621.9 283.2L623.5 283.2Z" fill="#336db4" stroke="#fff" stroke-width="0.7" paint-order="stroke"/>
<rect x="43.45" y="334.4" width="181.05" height="53.70" fill="none" stroke="#444444" stroke-width="0.95"/>
<line x1="41.150000000000006" y1="337.0" x2="43.45" y2="337.0" stroke="#444444" stroke-width="0.8"/>
<line x1="41.150000000000006" y1="372.4" x2="43.45" y2="372.4" stroke="#444444" stroke-width="0.8"/>
<line x1="51.68" y1="388.1" x2="51.68" y2="390.40000000000003" stroke="#444444" stroke-width="0.8"/>
<line x1="83.33" y1="388.1" x2="83.33" y2="390.40000000000003" stroke="#444444" stroke-width="0.8"/>
<line x1="114.98" y1="388.1" x2="114.98" y2="390.40000000000003" stroke="#444444" stroke-width="0.8"/>
<line x1="146.64" y1="388.1" x2="146.64" y2="390.40000000000003" stroke="#444444" stroke-width="0.8"/>
<line x1="178.29" y1="388.1" x2="178.29" y2="390.40000000000003" stroke="#444444" stroke-width="0.8"/>
<line x1="209.94" y1="388.1" x2="209.94" y2="390.40000000000003" stroke="#444444" stroke-width="0.8"/>
<polyline points="51.7,379.0 54.8,385.7 58.0,372.9 61.2,365.9 64.3,362.9 67.5,359.3 70.7,344.4 73.8,338.1 77.0,340.3 80.2,346.3 83.3,339.0 86.5,345.9 89.7,342.5 92.8,344.8 96.0,352.4 99.2,346.6 102.3,348.4 105.5,353.2 108.7,350.7 111.8,356.8 115.0,354.6 118.1,351.0 121.3,351.7 124.5,355.4 127.6,352.4 130.8,356.1 134.0,358.3 137.1,353.9 140.3,354.6 143.5,354.6 146.6,351.3 149.8,353.6 153.0,352.4 156.1,353.2 159.3,353.2 162.5,354.6 165.6,355.1 168.8,353.2 172.0,355.4 175.1,355.1 178.3,354.6 181.5,353.2 184.6,354.2 187.8,354.6 190.9,355.1 194.1,353.2 197.3,354.6 200.4,352.4 203.6,355.1 206.8,353.6 209.9,353.6 213.1,353.6 216.3,354.6" fill="none" stroke="#f5c8b1" stroke-width="1.6" stroke-linejoin="round"/>
<polyline points="51.7,362.2 54.8,367.5 58.0,364.8 61.2,373.6 64.3,376.5 67.5,376.5 70.7,363.1 73.8,381.6 77.0,378.7 80.2,383.4 83.3,377.5 86.5,377.0 89.7,374.6 92.8,372.1 96.0,369.7 99.2,374.0 102.3,370.7 105.5,356.8 108.7,355.1 111.8,353.6 115.0,354.6 118.1,353.9 121.3,354.6 124.5,352.4 127.6,351.7 130.8,346.6 134.0,348.1 137.1,345.4 140.3,345.4 143.5,343.7 146.6,344.8 149.8,339.3 153.0,338.6 156.1,339.0 159.3,338.6 162.5,339.0 165.6,337.1 168.8,337.5 172.0,337.8 175.1,337.5 178.3,337.1 181.5,338.6 184.6,339.0 187.8,337.8 190.9,337.8 194.1,338.1 197.3,339.3 200.4,338.1 203.6,340.0 206.8,340.5 209.9,342.9 213.1,338.1 216.3,339.3" fill="none" stroke="#c0daed" stroke-width="1.6" stroke-linejoin="round"/>
<g fill="#ad2430" stroke="#fff" stroke-width="0.7" paint-order="stroke">
<path d="M51.7 376.5L54.2 379.0L51.7 381.5L49.2 379.0Z"/>
<path d="M54.8 383.2L57.3 385.7L54.8 388.2L52.3 385.7Z"/>
<path d="M58.0 370.4L60.5 372.9L58.0 375.4L55.5 372.9Z"/>
<path d="M61.2 363.4L63.7 365.9L61.2 368.4L58.7 365.9Z"/>
<path d="M64.3 360.4L66.8 362.9L64.3 365.4L61.8 362.9Z"/>
<path d="M67.5 356.8L70.0 359.3L67.5 361.8L65.0 359.3Z"/>
<path d="M70.7 341.9L73.2 344.4L70.7 346.9L68.2 344.4Z"/>
<path d="M73.8 335.6L76.3 338.1L73.8 340.6L71.3 338.1Z"/>
<path d="M77.0 337.8L79.5 340.3L77.0 342.8L74.5 340.3Z"/>
<path d="M80.2 343.8L82.7 346.3L80.2 348.8L77.7 346.3Z"/>
<path d="M83.3 336.5L85.8 339.0L83.3 341.5L80.8 339.0Z"/>
<path d="M86.5 343.4L89.0 345.9L86.5 348.4L84.0 345.9Z"/>
<path d="M89.7 340.0L92.2 342.5L89.7 345.0L87.2 342.5Z"/>
<path d="M92.8 342.3L95.3 344.8L92.8 347.3L90.3 344.8Z"/>
<path d="M96.0 349.9L98.5 352.4L96.0 354.9L93.5 352.4Z"/>
<path d="M99.2 344.1L101.7 346.6L99.2 349.1L96.7 346.6Z"/>
<path d="M102.3 345.9L104.8 348.4L102.3 350.9L99.8 348.4Z"/>
<path d="M105.5 350.7L108.0 353.2L105.5 355.7L103.0 353.2Z"/>
<path d="M108.7 348.2L111.2 350.7L108.7 353.2L106.2 350.7Z"/>
<path d="M111.8 355.0L113.7 356.8L111.8 358.7L110.0 356.8Z"/>
<path d="M115.0 352.8L116.8 354.6L115.0 356.5L113.1 354.6Z"/>
<path d="M118.1 348.8L120.3 351.0L118.1 353.1L116.0 351.0Z"/>
<path d="M121.3 349.9L123.2 351.7L121.3 353.6L119.5 351.7Z"/>
<path d="M124.5 353.5L126.3 355.4L124.5 357.2L122.6 355.4Z"/>
<path d="M127.6 350.6L129.5 352.4L127.6 354.3L125.8 352.4Z"/>
<path d="M130.8 353.6L133.3 356.1L130.8 358.6L128.3 356.1Z"/>
<path d="M134.0 355.8L136.5 358.3L134.0 360.8L131.5 358.3Z"/>
<path d="M137.1 351.4L139.6 353.9L137.1 356.4L134.6 353.9Z"/>
<path d="M140.3 352.8L142.2 354.6L140.3 356.5L138.5 354.6Z"/>
<path d="M143.5 352.8L145.3 354.6L143.5 356.5L141.6 354.6Z"/>
<path d="M146.6 349.4L148.5 351.3L146.6 353.1L144.8 351.3Z"/>
<path d="M149.8 351.8L151.7 353.6L149.8 355.5L148.0 353.6Z"/>
<path d="M153.0 350.6L154.8 352.4L153.0 354.3L151.1 352.4Z"/>
<path d="M156.1 351.3L158.0 353.2L156.1 355.0L154.3 353.2Z"/>
<path d="M159.3 351.3L161.1 353.2L159.3 355.0L157.4 353.2Z"/>
<path d="M162.5 352.8L164.3 354.6L162.5 356.5L160.6 354.6Z"/>
<path d="M165.6 353.2L167.5 355.1L165.6 356.9L163.8 355.1Z"/>
<path d="M168.8 351.3L170.6 353.2L168.8 355.0L166.9 353.2Z"/>
<path d="M172.0 353.5L173.8 355.4L172.0 357.2L170.1 355.4Z"/>
<path d="M175.1 353.2L177.0 355.1L175.1 356.9L173.3 355.1Z"/>
<path d="M178.3 352.8L180.1 354.6L178.3 356.5L176.4 354.6Z"/>
<path d="M181.5 351.3L183.3 353.2L181.5 355.0L179.6 353.2Z"/>
<path d="M184.6 352.3L186.5 354.2L184.6 356.0L182.8 354.2Z"/>
<path d="M187.8 352.8L189.6 354.6L187.8 356.5L185.9 354.6Z"/>
<path d="M190.9 353.2L192.8 355.1L190.9 356.9L189.1 355.1Z"/>
<path d="M194.1 351.3L196.0 353.2L194.1 355.0L192.3 353.2Z"/>
<path d="M197.3 352.8L199.1 354.6L197.3 356.5L195.4 354.6Z"/>
<path d="M200.4 350.6L202.3 352.4L200.4 354.3L198.6 352.4Z"/>
<path d="M203.6 353.2L205.5 355.1L203.6 356.9L201.8 355.1Z"/>
<path d="M206.8 351.8L208.6 353.6L206.8 355.5L204.9 353.6Z"/>
<path d="M209.9 351.8L211.8 353.6L209.9 355.5L208.1 353.6Z"/>
<path d="M213.1 351.8L215.0 353.6L213.1 355.5L211.3 353.6Z"/>
<path d="M216.3 352.8L218.1 354.6L216.3 356.5L214.4 354.6Z"/>
</g>
<g fill="#336db4" stroke="#fff" stroke-width="0.7" paint-order="stroke">
<path d="M50.4 360.0L51.7 361.3L53.0 360.0L53.9 360.9L52.6 362.2L53.9 363.5L53.0 364.5L51.7 363.2L50.4 364.5L49.4 363.5L50.7 362.2L49.4 360.9Z"/>
<path d="M53.5 365.2L54.8 366.5L56.1 365.2L57.1 366.2L55.8 367.5L57.1 368.8L56.1 369.7L54.8 368.4L53.5 369.7L52.6 368.8L53.9 367.5L52.6 366.2Z"/>
<path d="M56.7 362.6L58.0 363.9L59.3 362.6L60.3 363.5L59.0 364.8L60.3 366.2L59.3 367.1L58.0 365.8L56.7 367.1L55.8 366.2L57.1 364.8L55.8 363.5Z"/>
<path d="M59.9 371.4L61.2 372.7L62.5 371.4L63.4 372.3L62.1 373.6L63.4 374.9L62.5 375.9L61.2 374.6L59.9 375.9L58.9 374.9L60.2 373.6L58.9 372.3Z"/>
<path d="M63.0 374.3L64.3 375.6L65.6 374.3L66.6 375.2L65.3 376.5L66.6 377.8L65.6 378.8L64.3 377.5L63.0 378.8L62.1 377.8L63.4 376.5L62.1 375.2Z"/>
<path d="M66.2 374.3L67.5 375.6L68.8 374.3L69.8 375.2L68.5 376.5L69.8 377.8L68.8 378.8L67.5 377.5L66.2 378.8L65.3 377.8L66.6 376.5L65.3 375.2Z"/>
<path d="M69.4 360.8L70.7 362.1L72.0 360.8L72.9 361.8L71.6 363.1L72.9 364.4L72.0 365.3L70.7 364.0L69.4 365.3L68.4 364.4L69.7 363.1L68.4 361.8Z"/>
<path d="M72.5 379.4L73.8 380.7L75.1 379.4L76.1 380.3L74.8 381.6L76.1 382.9L75.1 383.9L73.8 382.6L72.5 383.9L71.6 382.9L72.9 381.6L71.6 380.3Z"/>
<path d="M75.7 376.5L77.0 377.8L78.3 376.5L79.3 377.4L77.9 378.7L79.3 380.0L78.3 381.0L77.0 379.7L75.7 381.0L74.8 380.0L76.1 378.7L74.8 377.4Z"/>
<path d="M78.9 381.1L80.2 382.4L81.5 381.1L82.4 382.1L81.1 383.4L82.4 384.7L81.5 385.6L80.2 384.3L78.9 385.6L77.9 384.7L79.2 383.4L77.9 382.1Z"/>
<path d="M82.0 375.3L83.3 376.6L84.6 375.3L85.6 376.2L84.3 377.5L85.6 378.9L84.6 379.8L83.3 378.5L82.0 379.8L81.1 378.9L82.4 377.5L81.1 376.2Z"/>
<path d="M85.2 374.7L86.5 376.0L87.8 374.7L88.7 375.7L87.4 377.0L88.7 378.3L87.8 379.2L86.5 377.9L85.2 379.2L84.2 378.3L85.6 377.0L84.2 375.7Z"/>
<path d="M88.4 372.4L89.7 373.7L91.0 372.4L91.9 373.3L90.6 374.6L91.9 375.9L91.0 376.9L89.7 375.6L88.4 376.9L87.4 375.9L88.7 374.6L87.4 373.3Z"/>
<path d="M91.5 369.9L92.8 371.2L94.1 369.9L95.1 370.8L93.8 372.1L95.1 373.5L94.1 374.4L92.8 373.1L91.5 374.4L90.6 373.5L91.9 372.1L90.6 370.8Z"/>
<path d="M94.7 367.4L96.0 368.7L97.3 367.4L98.2 368.4L96.9 369.7L98.2 371.0L97.3 371.9L96.0 370.6L94.7 371.9L93.7 371.0L95.0 369.7L93.7 368.4Z"/>
<path d="M97.9 371.8L99.2 373.1L100.5 371.8L101.4 372.7L100.1 374.0L101.4 375.3L100.5 376.3L99.2 375.0L97.9 376.3L96.9 375.3L98.2 374.0L96.9 372.7Z"/>
<path d="M101.0 368.4L102.3 369.7L103.6 368.4L104.6 369.4L103.3 370.7L104.6 372.0L103.6 372.9L102.3 371.6L101.0 372.9L100.1 372.0L101.4 370.7L100.1 369.4Z"/>
<path d="M104.4 355.0L105.5 356.0L106.6 355.0L107.3 355.7L106.3 356.8L107.3 357.9L106.6 358.7L105.5 357.6L104.4 358.7L103.6 357.9L104.7 356.8L103.6 355.7Z"/>
<path d="M107.6 353.2L108.7 354.3L109.7 353.2L110.5 354.0L109.4 355.1L110.5 356.1L109.7 356.9L108.7 355.8L107.6 356.9L106.8 356.1L107.9 355.1L106.8 354.0Z"/>
<path d="M110.7 351.8L111.8 352.8L112.9 351.8L113.7 352.5L112.6 353.6L113.7 354.7L112.9 355.5L111.8 354.4L110.7 355.5L110.0 354.7L111.0 353.6L110.0 352.5Z"/>
<path d="M113.9 352.8L115.0 353.9L116.1 352.8L116.8 353.6L115.8 354.6L116.8 355.7L116.1 356.5L115.0 355.4L113.9 356.5L113.1 355.7L114.2 354.6L113.1 353.6Z"/>
<path d="M117.1 352.0L118.1 353.1L119.2 352.0L120.0 352.8L118.9 353.9L120.0 355.0L119.2 355.7L118.1 354.7L117.1 355.7L116.3 355.0L117.4 353.9L116.3 352.8Z"/>
<path d="M120.2 352.8L121.3 353.9L122.4 352.8L123.2 353.6L122.1 354.6L123.2 355.7L122.4 356.5L121.3 355.4L120.2 356.5L119.5 355.7L120.5 354.6L119.5 353.6Z"/>
<path d="M123.4 350.6L124.5 351.7L125.6 350.6L126.3 351.4L125.3 352.4L126.3 353.5L125.6 354.3L124.5 353.2L123.4 354.3L122.6 353.5L123.7 352.4L122.6 351.4Z"/>
<path d="M126.6 349.9L127.6 350.9L128.7 349.9L129.5 350.6L128.4 351.7L129.5 352.8L128.7 353.6L127.6 352.5L126.6 353.6L125.8 352.8L126.9 351.7L125.8 350.6Z"/>
<path d="M129.7 344.7L130.8 345.8L131.9 344.7L132.7 345.5L131.6 346.6L132.7 347.7L131.9 348.4L130.8 347.4L129.7 348.4L129.0 347.7L130.0 346.6L129.0 345.5Z"/>
<path d="M132.9 346.2L134.0 347.3L135.0 346.2L135.8 347.0L134.8 348.1L135.8 349.1L135.0 349.9L134.0 348.8L132.9 349.9L132.1 349.1L133.2 348.1L132.1 347.0Z"/>
<path d="M136.1 343.6L137.1 344.7L138.2 343.6L139.0 344.4L137.9 345.4L139.0 346.5L138.2 347.3L137.1 346.2L136.1 347.3L135.3 346.5L136.4 345.4L135.3 344.4Z"/>
<path d="M139.2 343.6L140.3 344.7L141.4 343.6L142.2 344.4L141.1 345.4L142.2 346.5L141.4 347.3L140.3 346.2L139.2 347.3L138.5 346.5L139.5 345.4L138.5 344.4Z"/>
<path d="M142.4 341.8L143.5 342.9L144.5 341.8L145.3 342.6L144.2 343.7L145.3 344.8L144.5 345.5L143.5 344.5L142.4 345.5L141.6 344.8L142.7 343.7L141.6 342.6Z"/>
<path d="M145.6 343.0L146.6 344.1L147.7 343.0L148.5 343.8L147.4 344.8L148.5 345.9L147.7 346.7L146.6 345.6L145.6 346.7L144.8 345.9L145.9 344.8L144.8 343.8Z"/>
<path d="M148.7 337.4L149.8 338.5L150.9 337.4L151.7 338.2L150.6 339.3L151.7 340.4L150.9 341.1L149.8 340.1L148.7 341.1L148.0 340.4L149.0 339.3L148.0 338.2Z"/>
<path d="M151.9 336.7L153.0 337.8L154.0 336.7L154.8 337.5L153.7 338.6L154.8 339.6L154.0 340.4L153.0 339.3L151.9 340.4L151.1 339.6L152.2 338.6L151.1 337.5Z"/>
<path d="M155.1 337.2L156.1 338.2L157.2 337.2L158.0 337.9L156.9 339.0L158.0 340.1L157.2 340.9L156.1 339.8L155.1 340.9L154.3 340.1L155.4 339.0L154.3 337.9Z"/>
<path d="M158.2 336.7L159.3 337.8L160.4 336.7L161.1 337.5L160.1 338.6L161.1 339.6L160.4 340.4L159.3 339.3L158.2 340.4L157.4 339.6L158.5 338.6L157.4 337.5Z"/>
<path d="M161.4 337.2L162.5 338.2L163.5 337.2L164.3 337.9L163.2 339.0L164.3 340.1L163.5 340.9L162.5 339.8L161.4 340.9L160.6 340.1L161.7 339.0L160.6 337.9Z"/>
<path d="M164.6 335.3L165.6 336.3L166.7 335.3L167.5 336.0L166.4 337.1L167.5 338.2L166.7 339.0L165.6 337.9L164.6 339.0L163.8 338.2L164.9 337.1L163.8 336.0Z"/>
<path d="M167.7 335.7L168.8 336.8L169.9 335.7L170.6 336.5L169.6 337.5L170.6 338.6L169.9 339.4L168.8 338.3L167.7 339.4L166.9 338.6L168.0 337.5L166.9 336.5Z"/>
<path d="M170.9 336.0L172.0 337.1L173.0 336.0L173.8 336.8L172.7 337.8L173.8 338.9L173.0 339.7L172.0 338.6L170.9 339.7L170.1 338.9L171.2 337.8L170.1 336.8Z"/>
<path d="M174.0 335.7L175.1 336.8L176.2 335.7L177.0 336.5L175.9 337.5L177.0 338.6L176.2 339.4L175.1 338.3L174.0 339.4L173.3 338.6L174.3 337.5L173.3 336.5Z"/>
<path d="M177.2 335.3L178.3 336.3L179.4 335.3L180.1 336.0L179.1 337.1L180.1 338.2L179.4 339.0L178.3 337.9L177.2 339.0L176.4 338.2L177.5 337.1L176.4 336.0Z"/>
<path d="M180.4 336.7L181.5 337.8L182.5 336.7L183.3 337.5L182.2 338.6L183.3 339.6L182.5 340.4L181.5 339.3L180.4 340.4L179.6 339.6L180.7 338.6L179.6 337.5Z"/>
<path d="M183.5 337.2L184.6 338.2L185.7 337.2L186.5 337.9L185.4 339.0L186.5 340.1L185.7 340.9L184.6 339.8L183.5 340.9L182.8 340.1L183.8 339.0L182.8 337.9Z"/>
<path d="M186.7 336.0L187.8 337.1L188.9 336.0L189.6 336.8L188.6 337.8L189.6 338.9L188.9 339.7L187.8 338.6L186.7 339.7L185.9 338.9L187.0 337.8L185.9 336.8Z"/>
<path d="M189.9 336.0L190.9 337.1L192.0 336.0L192.8 336.8L191.7 337.8L192.8 338.9L192.0 339.7L190.9 338.6L189.9 339.7L189.1 338.9L190.2 337.8L189.1 336.8Z"/>
<path d="M193.0 336.3L194.1 337.4L195.2 336.3L196.0 337.1L194.9 338.1L196.0 339.2L195.2 340.0L194.1 338.9L193.0 340.0L192.3 339.2L193.3 338.1L192.3 337.1Z"/>
<path d="M196.2 337.4L197.3 338.5L198.4 337.4L199.1 338.2L198.1 339.3L199.1 340.4L198.4 341.1L197.3 340.1L196.2 341.1L195.4 340.4L196.5 339.3L195.4 338.2Z"/>
<path d="M199.4 336.3L200.4 337.4L201.5 336.3L202.3 337.1L201.2 338.1L202.3 339.2L201.5 340.0L200.4 338.9L199.4 340.0L198.6 339.2L199.7 338.1L198.6 337.1Z"/>
<path d="M202.5 338.2L203.6 339.3L204.7 338.2L205.5 339.0L204.4 340.0L205.5 341.1L204.7 341.9L203.6 340.8L202.5 341.9L201.8 341.1L202.8 340.0L201.8 339.0Z"/>
<path d="M205.7 338.6L206.8 339.7L207.8 338.6L208.6 339.4L207.6 340.5L208.6 341.5L207.8 342.3L206.8 341.2L205.7 342.3L204.9 341.5L206.0 340.5L204.9 339.4Z"/>
<path d="M208.9 341.1L209.9 342.2L211.0 341.1L211.8 341.9L210.7 342.9L211.8 344.0L211.0 344.8L209.9 343.7L208.9 344.8L208.1 344.0L209.2 342.9L208.1 341.9Z"/>
<path d="M212.0 336.3L213.1 337.4L214.2 336.3L215.0 337.1L213.9 338.1L215.0 339.2L214.2 340.0L213.1 338.9L212.0 340.0L211.3 339.2L212.3 338.1L211.3 337.1Z"/>
<path d="M215.2 337.4L216.3 338.5L217.3 337.4L218.1 338.2L217.0 339.3L218.1 340.4L217.3 341.1L216.3 340.1L215.2 341.1L214.4 340.4L215.5 339.3L214.4 338.2Z"/>
</g>
<rect x="171.6" y="357.00000000000006" width="48.60" height="26.70" rx="1.8" fill="#fff" fill-opacity="0.8" stroke="#dadada" stroke-width="0.8"/>
<line x1="174.2" y1="363.80" x2="191.79999999999998" y2="363.80" stroke="#f5c8b1" stroke-width="1.6"/>
<path d="M183.1 361.4L185.5 363.8L183.1 366.2L180.7 363.8Z" fill="#ad2430" stroke="#fff" stroke-width="0.7" paint-order="stroke"/>
<line x1="174.2" y1="375.80" x2="191.79999999999998" y2="375.80" stroke="#c0daed" stroke-width="1.6"/>
<path d="M181.9 373.7L183.1 374.9L184.3 373.7L185.2 374.6L184.0 375.8L185.2 377.0L184.3 377.9L183.1 376.7L181.9 377.9L181.0 377.0L182.2 375.8L181.0 374.6Z" fill="#336db4" stroke="#fff" stroke-width="0.7" paint-order="stroke"/>
<rect x="43.45" y="398.7" width="181.05" height="53.60" fill="none" stroke="#444444" stroke-width="0.95"/>
<line x1="41.150000000000006" y1="411.4" x2="43.45" y2="411.4" stroke="#444444" stroke-width="0.8"/>
<line x1="41.150000000000006" y1="431.4" x2="43.45" y2="431.4" stroke="#444444" stroke-width="0.8"/>
<line x1="41.150000000000006" y1="450.0" x2="43.45" y2="450.0" stroke="#444444" stroke-width="0.8"/>
<line x1="51.68" y1="452.3" x2="51.68" y2="454.6" stroke="#444444" stroke-width="0.8"/>
<line x1="83.33" y1="452.3" x2="83.33" y2="454.6" stroke="#444444" stroke-width="0.8"/>
<line x1="114.98" y1="452.3" x2="114.98" y2="454.6" stroke="#444444" stroke-width="0.8"/>
<line x1="146.64" y1="452.3" x2="146.64" y2="454.6" stroke="#444444" stroke-width="0.8"/>
<line x1="178.29" y1="452.3" x2="178.29" y2="454.6" stroke="#444444" stroke-width="0.8"/>
<line x1="209.94" y1="452.3" x2="209.94" y2="454.6" stroke="#444444" stroke-width="0.8"/>
<polyline points="51.7,428.8 54.8,449.3 58.0,432.3 61.2,430.9 64.3,421.1 67.5,437.1 70.7,406.9 73.8,406.5 77.0,405.8 80.2,409.8 83.3,405.0 86.5,410.9 89.7,407.2 92.8,407.2 96.0,407.9 99.2,406.9 102.3,409.4 105.5,410.1 108.7,413.8 111.8,409.8 115.0,411.3 118.1,411.6 121.3,412.8 124.5,411.3 127.6,411.3 130.8,413.1 134.0,413.4 137.1,411.6 140.3,410.9 143.5,410.4 146.6,410.9 149.8,412.3 153.0,412.3 156.1,411.9 159.3,411.6 162.5,412.3 165.6,412.3 168.8,411.6 172.0,411.3 175.1,412.3 178.3,412.8 181.5,412.8 184.6,412.3 187.8,412.3 190.9,411.9 194.1,412.3 197.3,410.9 200.4,412.8 203.6,411.9 206.8,411.6 209.9,412.3 213.1,411.9 216.3,411.9" fill="none" stroke="#f5c8b1" stroke-width="1.6" stroke-linejoin="round"/>
<polyline points="51.7,416.3 54.8,420.6 58.0,418.2 61.2,421.5 64.3,425.9 67.5,428.4 70.7,417.1 73.8,434.2 77.0,430.9 80.2,435.7 83.3,428.8 86.5,429.8 89.7,429.4 92.8,426.9 96.0,424.7 99.2,428.4 102.3,425.9 105.5,410.1 108.7,409.4 111.8,408.7 115.0,409.4 118.1,408.7 121.3,408.4 124.5,406.9 127.6,406.9 130.8,405.8 134.0,405.5 137.1,404.6 140.3,404.0 143.5,404.0 146.6,403.6 149.8,402.1 153.0,401.7 156.1,401.4 159.3,401.4 162.5,401.7 165.6,402.1 168.8,401.7 172.0,401.7 175.1,401.7 178.3,402.1 181.5,402.1 184.6,402.1 187.8,402.1 190.9,402.1 194.1,401.7 197.3,402.1 200.4,402.5 203.6,402.8 206.8,402.5 209.9,402.8 213.1,401.1 216.3,402.1" fill="none" stroke="#c0daed" stroke-width="1.6" stroke-linejoin="round"/>
<g fill="#ad2430" stroke="#fff" stroke-width="0.7" paint-order="stroke">
<circle cx="51.7" cy="428.8" r="2.10"/>
<circle cx="54.8" cy="449.3" r="2.10"/>
<circle cx="58.0" cy="432.3" r="2.10"/>
<circle cx="61.2" cy="430.9" r="2.10"/>
<circle cx="64.3" cy="421.1" r="1.85"/>
<circle cx="67.5" cy="437.1" r="2.10"/>
<circle cx="70.7" cy="406.9" r="2.10"/>
<circle cx="73.8" cy="406.5" r="2.10"/>
<circle cx="77.0" cy="405.8" r="2.10"/>
<circle cx="80.2" cy="409.8" r="2.10"/>
<circle cx="83.3" cy="405.0" r="2.10"/>
<circle cx="86.5" cy="410.9" r="2.10"/>
<circle cx="89.7" cy="407.2" r="2.10"/>
<circle cx="92.8" cy="407.2" r="2.10"/>
<circle cx="96.0" cy="407.9" r="2.10"/>
<circle cx="99.2" cy="406.9" r="2.10"/>
<circle cx="102.3" cy="409.4" r="2.10"/>
<circle cx="105.5" cy="410.1" r="1.65"/>
<circle cx="108.7" cy="413.8" r="2.10"/>
<circle cx="111.8" cy="409.8" r="1.65"/>
<circle cx="115.0" cy="411.3" r="1.65"/>
<circle cx="118.1" cy="411.6" r="1.65"/>
<circle cx="121.3" cy="412.8" r="1.85"/>
<circle cx="124.5" cy="411.3" r="1.65"/>
<circle cx="127.6" cy="411.3" r="1.65"/>
<circle cx="130.8" cy="413.1" r="1.65"/>
<circle cx="134.0" cy="413.4" r="1.65"/>
<circle cx="137.1" cy="411.6" r="1.65"/>
<circle cx="140.3" cy="410.9" r="1.65"/>
<circle cx="143.5" cy="410.4" r="1.65"/>
<circle cx="146.6" cy="410.9" r="1.65"/>
<circle cx="149.8" cy="412.3" r="1.65"/>
<circle cx="153.0" cy="412.3" r="1.65"/>
<circle cx="156.1" cy="411.9" r="1.65"/>
<circle cx="159.3" cy="411.6" r="1.65"/>
<circle cx="162.5" cy="412.3" r="1.65"/>
<circle cx="165.6" cy="412.3" r="1.65"/>
<circle cx="168.8" cy="411.6" r="1.65"/>
<circle cx="172.0" cy="411.3" r="1.65"/>
<circle cx="175.1" cy="412.3" r="1.65"/>
<circle cx="178.3" cy="412.8" r="1.65"/>
<circle cx="181.5" cy="412.8" r="1.65"/>
<circle cx="184.6" cy="412.3" r="1.65"/>
<circle cx="187.8" cy="412.3" r="1.65"/>
<circle cx="190.9" cy="411.9" r="1.65"/>
<circle cx="194.1" cy="412.3" r="1.65"/>
<circle cx="197.3" cy="410.9" r="1.65"/>
<circle cx="200.4" cy="412.8" r="1.65"/>
<circle cx="203.6" cy="411.9" r="1.65"/>
<circle cx="206.8" cy="411.6" r="1.65"/>
<circle cx="209.9" cy="412.3" r="1.65"/>
<circle cx="213.1" cy="411.9" r="1.65"/>
<circle cx="216.3" cy="411.9" r="1.65"/>
</g>
<g fill="#336db4" stroke="#fff" stroke-width="0.7" paint-order="stroke">
<path d="M50.6 413.7L52.7 413.7L52.7 415.2L54.3 415.2L54.3 417.3L52.7 417.3L52.7 418.9L50.6 418.9L50.6 417.3L49.1 417.3L49.1 415.2L50.6 415.2Z"/>
<path d="M53.8 418.0L55.9 418.0L55.9 419.6L57.4 419.6L57.4 421.7L55.9 421.7L55.9 423.2L53.8 423.2L53.8 421.7L52.2 421.7L52.2 419.6L53.8 419.6Z"/>
<path d="M57.0 415.6L59.0 415.6L59.0 417.1L60.6 417.1L60.6 419.2L59.0 419.2L59.0 420.8L57.0 420.8L57.0 419.2L55.4 419.2L55.4 417.1L57.0 417.1Z"/>
<path d="M60.1 418.9L62.2 418.9L62.2 420.5L63.8 420.5L63.8 422.6L62.2 422.6L62.2 424.1L60.1 424.1L60.1 422.6L58.6 422.6L58.6 420.5L60.1 420.5Z"/>
<path d="M63.3 423.3L65.4 423.3L65.4 424.9L66.9 424.9L66.9 426.9L65.4 426.9L65.4 428.5L63.3 428.5L63.3 426.9L61.7 426.9L61.7 424.9L63.3 424.9Z"/>
<path d="M66.5 425.8L68.5 425.8L68.5 427.3L70.1 427.3L70.1 429.4L68.5 429.4L68.5 431.0L66.5 431.0L66.5 429.4L64.9 429.4L64.9 427.3L66.5 427.3Z"/>
<path d="M69.6 414.5L71.7 414.5L71.7 416.1L73.3 416.1L73.3 418.2L71.7 418.2L71.7 419.7L69.6 419.7L69.6 418.2L68.1 418.2L68.1 416.1L69.6 416.1Z"/>
<path d="M72.8 431.6L74.9 431.6L74.9 433.2L76.4 433.2L76.4 435.3L74.9 435.3L74.9 436.8L72.8 436.8L72.8 435.3L71.2 435.3L71.2 433.2L72.8 433.2Z"/>
<path d="M76.0 428.3L78.0 428.3L78.0 429.8L79.6 429.8L79.6 431.9L78.0 431.9L78.0 433.5L76.0 433.5L76.0 431.9L74.4 431.9L74.4 429.8L76.0 429.8Z"/>
<path d="M79.1 433.1L81.2 433.1L81.2 434.6L82.8 434.6L82.8 436.7L81.2 436.7L81.2 438.3L79.1 438.3L79.1 436.7L77.6 436.7L77.6 434.6L79.1 434.6Z"/>
<path d="M82.3 426.2L84.4 426.2L84.4 427.8L85.9 427.8L85.9 429.9L84.4 429.9L84.4 431.4L82.3 431.4L82.3 429.9L80.7 429.9L80.7 427.8L82.3 427.8Z"/>
<path d="M85.5 427.2L87.5 427.2L87.5 428.8L89.1 428.8L89.1 430.9L87.5 430.9L87.5 432.4L85.5 432.4L85.5 430.9L83.9 430.9L83.9 428.8L85.5 428.8Z"/>
<path d="M88.6 426.8L90.7 426.8L90.7 428.4L92.3 428.4L92.3 430.4L90.7 430.4L90.7 432.0L88.6 432.0L88.6 430.4L87.1 430.4L87.1 428.4L88.6 428.4Z"/>
<path d="M91.8 424.3L93.9 424.3L93.9 425.9L95.4 425.9L95.4 428.0L93.9 428.0L93.9 429.5L91.8 429.5L91.8 428.0L90.2 428.0L90.2 425.9L91.8 425.9Z"/>
<path d="M95.0 422.1L97.0 422.1L97.0 423.7L98.6 423.7L98.6 425.8L97.0 425.8L97.0 427.3L95.0 427.3L95.0 425.8L93.4 425.8L93.4 423.7L95.0 423.7Z"/>
<path d="M98.1 425.8L100.2 425.8L100.2 427.3L101.8 427.3L101.8 429.4L100.2 429.4L100.2 431.0L98.1 431.0L98.1 429.4L96.6 429.4L96.6 427.3L98.1 427.3Z"/>
<path d="M101.3 423.3L103.4 423.3L103.4 424.9L104.9 424.9L104.9 426.9L103.4 426.9L103.4 428.5L101.3 428.5L101.3 426.9L99.7 426.9L99.7 424.9L101.3 424.9Z"/>
<path d="M104.6 408.0L106.3 408.0L106.3 409.3L107.6 409.3L107.6 411.0L106.3 411.0L106.3 412.3L104.6 412.3L104.6 411.0L103.3 411.0L103.3 409.3L104.6 409.3Z"/>
<path d="M107.8 407.3L109.5 407.3L109.5 408.5L110.8 408.5L110.8 410.3L109.5 410.3L109.5 411.6L107.8 411.6L107.8 410.3L106.5 410.3L106.5 408.5L107.8 408.5Z"/>
<path d="M111.0 406.5L112.7 406.5L112.7 407.8L114.0 407.8L114.0 409.5L112.7 409.5L112.7 410.8L111.0 410.8L111.0 409.5L109.7 409.5L109.7 407.8L111.0 407.8Z"/>
<path d="M114.1 407.3L115.8 407.3L115.8 408.5L117.1 408.5L117.1 410.3L115.8 410.3L115.8 411.6L114.1 411.6L114.1 410.3L112.8 410.3L112.8 408.5L114.1 408.5Z"/>
<path d="M117.3 406.5L119.0 406.5L119.0 407.8L120.3 407.8L120.3 409.5L119.0 409.5L119.0 410.8L117.3 410.8L117.3 409.5L116.0 409.5L116.0 407.8L117.3 407.8Z"/>
<path d="M120.5 406.2L122.2 406.2L122.2 407.5L123.5 407.5L123.5 409.2L122.2 409.2L122.2 410.5L120.5 410.5L120.5 409.2L119.2 409.2L119.2 407.5L120.5 407.5Z"/>
<path d="M123.6 404.8L125.3 404.8L125.3 406.1L126.6 406.1L126.6 407.8L125.3 407.8L125.3 409.1L123.6 409.1L123.6 407.8L122.3 407.8L122.3 406.1L123.6 406.1Z"/>
<path d="M126.8 404.8L128.5 404.8L128.5 406.1L129.8 406.1L129.8 407.8L128.5 407.8L128.5 409.1L126.8 409.1L126.8 407.8L125.5 407.8L125.5 406.1L126.8 406.1Z"/>
<path d="M129.9 403.6L131.7 403.6L131.7 404.9L133.0 404.9L133.0 406.6L131.7 406.6L131.7 407.9L129.9 407.9L129.9 406.6L128.7 406.6L128.7 404.9L129.9 404.9Z"/>
<path d="M133.1 403.3L134.8 403.3L134.8 404.6L136.1 404.6L136.1 406.3L134.8 406.3L134.8 407.6L133.1 407.6L133.1 406.3L131.8 406.3L131.8 404.6L133.1 404.6Z"/>
<path d="M136.3 402.4L138.0 402.4L138.0 403.7L139.3 403.7L139.3 405.5L138.0 405.5L138.0 406.7L136.3 406.7L136.3 405.5L135.0 405.5L135.0 403.7L136.3 403.7Z"/>
<path d="M139.4 401.9L141.2 401.9L141.2 403.1L142.5 403.1L142.5 404.9L141.2 404.9L141.2 406.2L139.4 406.2L139.4 404.9L138.2 404.9L138.2 403.1L139.4 403.1Z"/>
<path d="M142.6 401.9L144.3 401.9L144.3 403.1L145.6 403.1L145.6 404.9L144.3 404.9L144.3 406.2L142.6 406.2L142.6 404.9L141.3 404.9L141.3 403.1L142.6 403.1Z"/>
<path d="M145.8 401.4L147.5 401.4L147.5 402.7L148.8 402.7L148.8 404.4L147.5 404.4L147.5 405.7L145.8 405.7L145.8 404.4L144.5 404.4L144.5 402.7L145.8 402.7Z"/>
<path d="M148.9 400.0L150.7 400.0L150.7 401.2L152.0 401.2L152.0 403.0L150.7 403.0L150.7 404.3L148.9 404.3L148.9 403.0L147.7 403.0L147.7 401.2L148.9 401.2Z"/>
<path d="M152.1 399.5L153.8 399.5L153.8 400.8L155.1 400.8L155.1 402.5L153.8 402.5L153.8 403.8L152.1 403.8L152.1 402.5L150.8 402.5L150.8 400.8L152.1 400.8Z"/>
<path d="M155.3 399.2L157.0 399.2L157.0 400.5L158.3 400.5L158.3 402.2L157.0 402.2L157.0 403.5L155.3 403.5L155.3 402.2L154.0 402.2L154.0 400.5L155.3 400.5Z"/>
<path d="M158.4 399.2L160.2 399.2L160.2 400.5L161.4 400.5L161.4 402.2L160.2 402.2L160.2 403.5L158.4 403.5L158.4 402.2L157.1 402.2L157.1 400.5L158.4 400.5Z"/>
<path d="M161.6 399.5L163.3 399.5L163.3 400.8L164.6 400.8L164.6 402.5L163.3 402.5L163.3 403.8L161.6 403.8L161.6 402.5L160.3 402.5L160.3 400.8L161.6 400.8Z"/>
<path d="M164.8 400.0L166.5 400.0L166.5 401.2L167.8 401.2L167.8 403.0L166.5 403.0L166.5 404.3L164.8 404.3L164.8 403.0L163.5 403.0L163.5 401.2L164.8 401.2Z"/>
<path d="M167.9 399.5L169.7 399.5L169.7 400.8L170.9 400.8L170.9 402.5L169.7 402.5L169.7 403.8L167.9 403.8L167.9 402.5L166.6 402.5L166.6 400.8L167.9 400.8Z"/>
<path d="M171.1 399.5L172.8 399.5L172.8 400.8L174.1 400.8L174.1 402.5L172.8 402.5L172.8 403.8L171.1 403.8L171.1 402.5L169.8 402.5L169.8 400.8L171.1 400.8Z"/>
<path d="M174.3 399.5L176.0 399.5L176.0 400.8L177.3 400.8L177.3 402.5L176.0 402.5L176.0 403.8L174.3 403.8L174.3 402.5L173.0 402.5L173.0 400.8L174.3 400.8Z"/>
<path d="M177.4 400.0L179.1 400.0L179.1 401.2L180.4 401.2L180.4 403.0L179.1 403.0L179.1 404.3L177.4 404.3L177.4 403.0L176.1 403.0L176.1 401.2L177.4 401.2Z"/>
<path d="M180.6 400.0L182.3 400.0L182.3 401.2L183.6 401.2L183.6 403.0L182.3 403.0L182.3 404.3L180.6 404.3L180.6 403.0L179.3 403.0L179.3 401.2L180.6 401.2Z"/>
<path d="M183.8 400.0L185.5 400.0L185.5 401.2L186.8 401.2L186.8 403.0L185.5 403.0L185.5 404.3L183.8 404.3L183.8 403.0L182.5 403.0L182.5 401.2L183.8 401.2Z"/>
<path d="M186.9 400.0L188.6 400.0L188.6 401.2L189.9 401.2L189.9 403.0L188.6 403.0L188.6 404.3L186.9 404.3L186.9 403.0L185.6 403.0L185.6 401.2L186.9 401.2Z"/>
<path d="M190.1 400.0L191.8 400.0L191.8 401.2L193.1 401.2L193.1 403.0L191.8 403.0L191.8 404.3L190.1 404.3L190.1 403.0L188.8 403.0L188.8 401.2L190.1 401.2Z"/>
<path d="M193.3 399.5L195.0 399.5L195.0 400.8L196.3 400.8L196.3 402.5L195.0 402.5L195.0 403.8L193.3 403.8L193.3 402.5L192.0 402.5L192.0 400.8L193.3 400.8Z"/>
<path d="M196.4 400.0L198.1 400.0L198.1 401.2L199.4 401.2L199.4 403.0L198.1 403.0L198.1 404.3L196.4 404.3L196.4 403.0L195.1 403.0L195.1 401.2L196.4 401.2Z"/>
<path d="M199.6 400.4L201.3 400.4L201.3 401.7L202.6 401.7L202.6 403.4L201.3 403.4L201.3 404.7L199.6 404.7L199.6 403.4L198.3 403.4L198.3 401.7L199.6 401.7Z"/>
<path d="M202.7 400.7L204.5 400.7L204.5 402.0L205.8 402.0L205.8 403.7L204.5 403.7L204.5 405.0L202.7 405.0L202.7 403.7L201.5 403.7L201.5 402.0L202.7 402.0Z"/>
<path d="M205.9 400.4L207.6 400.4L207.6 401.7L208.9 401.7L208.9 403.4L207.6 403.4L207.6 404.7L205.9 404.7L205.9 403.4L204.6 403.4L204.6 401.7L205.9 401.7Z"/>
<path d="M209.1 400.7L210.8 400.7L210.8 402.0L212.1 402.0L212.1 403.7L210.8 403.7L210.8 405.0L209.1 405.0L209.1 403.7L207.8 403.7L207.8 402.0L209.1 402.0Z"/>
<path d="M212.2 398.9L214.0 398.9L214.0 400.2L215.3 400.2L215.3 401.9L214.0 401.9L214.0 403.2L212.2 403.2L212.2 401.9L211.0 401.9L211.0 400.2L212.2 400.2Z"/>
<path d="M215.4 400.0L217.1 400.0L217.1 401.2L218.4 401.2L218.4 403.0L217.1 403.0L217.1 404.3L215.4 404.3L215.4 403.0L214.1 403.0L214.1 401.2L215.4 401.2Z"/>
</g>
<rect x="171.6" y="421.20000000000005" width="48.60" height="26.70" rx="1.8" fill="#fff" fill-opacity="0.8" stroke="#dadada" stroke-width="0.8"/>
<line x1="174.2" y1="428.00" x2="191.79999999999998" y2="428.00" stroke="#f5c8b1" stroke-width="1.6"/>
<circle cx="183.10" cy="428.00" r="2.05" fill="#ad2430" stroke="#fff" stroke-width="0.7" paint-order="stroke"/>
<line x1="174.2" y1="440.00" x2="191.79999999999998" y2="440.00" stroke="#c0daed" stroke-width="1.6"/>
<path d="M182.0 437.3L184.2 437.3L184.2 438.9L185.8 438.9L185.8 441.1L184.2 441.1L184.2 442.7L182.0 442.7L182.0 441.1L180.4 441.1L180.4 438.9L182.0 438.9Z" fill="#336db4" stroke="#fff" stroke-width="0.7" paint-order="stroke"/>
<rect x="269.5" y="334.4" width="181.00" height="53.70" fill="none" stroke="#444444" stroke-width="0.95"/>
<line x1="267.2" y1="340.0" x2="269.5" y2="340.0" stroke="#444444" stroke-width="0.8"/>
<line x1="267.2" y1="362.4" x2="269.5" y2="362.4" stroke="#444444" stroke-width="0.8"/>
<line x1="267.2" y1="385.0" x2="269.5" y2="385.0" stroke="#444444" stroke-width="0.8"/>
<line x1="277.73" y1="388.1" x2="277.73" y2="390.40000000000003" stroke="#444444" stroke-width="0.8"/>
<line x1="309.37" y1="388.1" x2="309.37" y2="390.40000000000003" stroke="#444444" stroke-width="0.8"/>
<line x1="341.01" y1="388.1" x2="341.01" y2="390.40000000000003" stroke="#444444" stroke-width="0.8"/>
<line x1="372.66" y1="388.1" x2="372.66" y2="390.40000000000003" stroke="#444444" stroke-width="0.8"/>
<line x1="404.30" y1="388.1" x2="404.30" y2="390.40000000000003" stroke="#444444" stroke-width="0.8"/>
<line x1="435.94" y1="388.1" x2="435.94" y2="390.40000000000003" stroke="#444444" stroke-width="0.8"/>
<polyline points="277.7,385.7 280.9,360.0 284.1,363.4 287.2,371.7 290.4,349.5 293.5,353.9 296.7,347.8 299.9,350.2 303.0,347.0 306.2,344.0 309.4,346.9 312.5,344.8 315.7,344.4 318.9,344.8 322.0,343.4 325.2,348.8 328.4,345.4 331.5,351.0 334.7,351.7 337.8,350.7 341.0,350.2 344.2,349.5 347.3,352.4 350.5,351.0 353.7,350.7 356.8,350.2 360.0,351.0 363.2,350.7 366.3,350.2 369.5,350.7 372.7,350.2 375.8,349.8 379.0,350.7 382.2,352.4 385.3,350.2 388.5,352.4 391.6,353.2 394.8,352.1 398.0,351.0 401.1,350.2 404.3,351.7 407.5,350.2 410.6,349.2 413.8,349.5 417.0,350.7 420.1,352.1 423.3,351.3 426.5,349.5 429.6,348.4 432.8,351.7 435.9,349.5 439.1,348.8 442.3,349.5" fill="none" stroke="#f5c8b1" stroke-width="1.6" stroke-linejoin="round"/>
<polyline points="277.7,364.1 280.9,363.4 284.1,360.0 287.2,363.4 290.4,367.3 293.5,365.9 296.7,362.2 299.9,371.4 303.0,366.3 306.2,365.9 309.4,365.6 312.5,365.3 315.7,367.3 318.9,361.9 322.0,362.7 325.2,363.4 328.4,359.3 331.5,353.2 334.7,351.3 337.8,350.2 341.0,349.2 344.2,349.8 347.3,351.7 350.5,349.2 353.7,346.6 356.8,345.4 360.0,344.4 363.2,344.8 366.3,345.1 369.5,344.8 372.7,343.7 375.8,340.8 379.0,340.5 382.2,340.8 385.3,340.0 388.5,338.1 391.6,339.3 394.8,338.1 398.0,337.5 401.1,338.6 404.3,339.0 407.5,339.0 410.6,338.1 413.8,338.6 417.0,338.6 420.1,338.1 423.3,338.6 426.5,339.0 429.6,340.0 432.8,340.5 435.9,342.5 439.1,340.0 442.3,341.9" fill="none" stroke="#c0daed" stroke-width="1.6" stroke-linejoin="round"/>
<g fill="#ad2430" stroke="#fff" stroke-width="0.7" paint-order="stroke">
<path d="M277.7 383.2L280.2 385.7L277.7 388.2L275.2 385.7Z"/>
<path d="M280.9 357.5L283.4 360.0L280.9 362.5L278.4 360.0Z"/>
<path d="M284.1 361.2L286.2 363.4L284.1 365.5L281.9 363.4Z"/>
<path d="M287.2 369.2L289.7 371.7L287.2 374.2L284.7 371.7Z"/>
<path d="M290.4 347.0L292.9 349.5L290.4 352.0L287.9 349.5Z"/>
<path d="M293.5 351.4L296.0 353.9L293.5 356.4L291.0 353.9Z"/>
<path d="M296.7 345.3L299.2 347.8L296.7 350.3L294.2 347.8Z"/>
<path d="M299.9 347.7L302.4 350.2L299.9 352.7L297.4 350.2Z"/>
<path d="M303.0 344.5L305.5 347.0L303.0 349.5L300.5 347.0Z"/>
<path d="M306.2 341.5L308.7 344.0L306.2 346.5L303.7 344.0Z"/>
<path d="M309.4 344.4L311.9 346.9L309.4 349.4L306.9 346.9Z"/>
<path d="M312.5 342.3L315.0 344.8L312.5 347.3L310.0 344.8Z"/>
<path d="M315.7 341.9L318.2 344.4L315.7 346.9L313.2 344.4Z"/>
<path d="M318.9 342.3L321.4 344.8L318.9 347.3L316.4 344.8Z"/>
<path d="M322.0 340.9L324.5 343.4L322.0 345.9L319.5 343.4Z"/>
<path d="M325.2 346.3L327.7 348.8L325.2 351.3L322.7 348.8Z"/>
<path d="M328.4 342.9L330.9 345.4L328.4 347.9L325.9 345.4Z"/>
<path d="M331.5 349.1L333.4 351.0L331.5 352.8L329.7 351.0Z"/>
<path d="M334.7 349.9L336.5 351.7L334.7 353.6L332.8 351.7Z"/>
<path d="M337.8 348.8L339.7 350.7L337.8 352.5L336.0 350.7Z"/>
<path d="M341.0 348.4L342.9 350.2L341.0 352.1L339.2 350.2Z"/>
<path d="M344.2 347.7L346.0 349.5L344.2 351.4L342.3 349.5Z"/>
<path d="M347.3 350.6L349.2 352.4L347.3 354.3L345.5 352.4Z"/>
<path d="M350.5 349.1L352.4 351.0L350.5 352.8L348.7 351.0Z"/>
<path d="M353.7 348.8L355.5 350.7L353.7 352.5L351.8 350.7Z"/>
<path d="M356.8 348.4L358.7 350.2L356.8 352.1L355.0 350.2Z"/>
<path d="M360.0 349.1L361.9 351.0L360.0 352.8L358.1 351.0Z"/>
<path d="M363.2 348.8L365.0 350.7L363.2 352.5L361.3 350.7Z"/>
<path d="M366.3 348.4L368.2 350.2L366.3 352.1L364.5 350.2Z"/>
<path d="M369.5 348.8L371.3 350.7L369.5 352.5L367.6 350.7Z"/>
<path d="M372.7 348.4L374.5 350.2L372.7 352.1L370.8 350.2Z"/>
<path d="M375.8 348.0L377.7 349.8L375.8 351.7L374.0 349.8Z"/>
<path d="M379.0 348.8L380.8 350.7L379.0 352.5L377.1 350.7Z"/>
<path d="M382.2 350.6L384.0 352.4L382.2 354.3L380.3 352.4Z"/>
<path d="M385.3 348.4L387.2 350.2L385.3 352.1L383.5 350.2Z"/>
<path d="M388.5 350.6L390.3 352.4L388.5 354.3L386.6 352.4Z"/>
<path d="M391.6 351.3L393.5 353.2L391.6 355.0L389.8 353.2Z"/>
<path d="M394.8 350.3L396.7 352.1L394.8 354.0L393.0 352.1Z"/>
<path d="M398.0 349.1L399.8 351.0L398.0 352.8L396.1 351.0Z"/>
<path d="M401.1 348.4L403.0 350.2L401.1 352.1L399.3 350.2Z"/>
<path d="M404.3 349.9L406.2 351.7L404.3 353.6L402.5 351.7Z"/>
<path d="M407.5 348.4L409.3 350.2L407.5 352.1L405.6 350.2Z"/>
<path d="M410.6 347.4L412.5 349.2L410.6 351.1L408.8 349.2Z"/>
<path d="M413.8 347.7L415.6 349.5L413.8 351.4L411.9 349.5Z"/>
<path d="M417.0 348.8L418.8 350.7L417.0 352.5L415.1 350.7Z"/>
<path d="M420.1 350.3L422.0 352.1L420.1 354.0L418.3 352.1Z"/>
<path d="M423.3 349.4L425.1 351.3L423.3 353.1L421.4 351.3Z"/>
<path d="M426.5 347.7L428.3 349.5L426.5 351.4L424.6 349.5Z"/>
<path d="M429.6 346.5L431.5 348.4L429.6 350.2L427.8 348.4Z"/>
<path d="M432.8 349.9L434.6 351.7L432.8 353.6L430.9 351.7Z"/>
<path d="M435.9 347.7L437.8 349.5L435.9 351.4L434.1 349.5Z"/>
<path d="M439.1 346.9L441.0 348.8L439.1 350.6L437.3 348.8Z"/>
<path d="M442.3 347.7L444.1 349.5L442.3 351.4L440.4 349.5Z"/>
</g>
<g fill="#336db4" stroke="#fff" stroke-width="0.7" paint-order="stroke">
<path d="M276.4 361.9L277.7 363.2L279.0 361.9L280.0 362.8L278.7 364.1L280.0 365.4L279.0 366.4L277.7 365.1L276.4 366.4L275.5 365.4L276.8 364.1L275.5 362.8Z"/>
<path d="M279.6 361.1L280.9 362.4L282.2 361.1L283.1 362.1L281.8 363.4L283.1 364.7L282.2 365.6L280.9 364.3L279.6 365.6L278.6 364.7L279.9 363.4L278.6 362.1Z"/>
<path d="M282.8 357.8L284.1 359.1L285.4 357.8L286.3 358.7L285.0 360.0L286.3 361.3L285.4 362.3L284.1 361.0L282.8 362.3L281.8 361.3L283.1 360.0L281.8 358.7Z"/>
<path d="M285.9 361.1L287.2 362.4L288.5 361.1L289.5 362.1L288.2 363.4L289.5 364.7L288.5 365.6L287.2 364.3L285.9 365.6L285.0 364.7L286.3 363.4L285.0 362.1Z"/>
<path d="M289.1 365.1L290.4 366.4L291.7 365.1L292.6 366.0L291.3 367.3L292.6 368.6L291.7 369.6L290.4 368.3L289.1 369.6L288.1 368.6L289.4 367.3L288.1 366.0Z"/>
<path d="M292.2 363.6L293.5 364.9L294.9 363.6L295.8 364.6L294.5 365.9L295.8 367.2L294.9 368.1L293.5 366.8L292.2 368.1L291.3 367.2L292.6 365.9L291.3 364.6Z"/>
<path d="M295.4 360.0L296.7 361.3L298.0 360.0L299.0 360.9L297.7 362.2L299.0 363.5L298.0 364.5L296.7 363.2L295.4 364.5L294.5 363.5L295.8 362.2L294.5 360.9Z"/>
<path d="M298.6 369.2L299.9 370.5L301.2 369.2L302.1 370.1L300.8 371.4L302.1 372.7L301.2 373.7L299.9 372.4L298.6 373.7L297.6 372.7L298.9 371.4L297.6 370.1Z"/>
<path d="M301.7 364.1L303.0 365.4L304.3 364.1L305.3 365.0L304.0 366.3L305.3 367.6L304.3 368.6L303.0 367.3L301.7 368.6L300.8 367.6L302.1 366.3L300.8 365.0Z"/>
<path d="M304.9 363.6L306.2 364.9L307.5 363.6L308.5 364.6L307.2 365.9L308.5 367.2L307.5 368.1L306.2 366.8L304.9 368.1L304.0 367.2L305.3 365.9L304.0 364.6Z"/>
<path d="M308.1 363.3L309.4 364.6L310.7 363.3L311.6 364.3L310.3 365.6L311.6 366.9L310.7 367.8L309.4 366.5L308.1 367.8L307.1 366.9L308.4 365.6L307.1 364.3Z"/>
<path d="M311.2 363.0L312.5 364.3L313.8 363.0L314.8 364.0L313.5 365.3L314.8 366.6L313.8 367.5L312.5 366.2L311.2 367.5L310.3 366.6L311.6 365.3L310.3 364.0Z"/>
<path d="M314.4 365.1L315.7 366.4L317.0 365.1L317.9 366.0L316.6 367.3L317.9 368.6L317.0 369.6L315.7 368.3L314.4 369.6L313.4 368.6L314.8 367.3L313.4 366.0Z"/>
<path d="M317.6 359.7L318.9 361.0L320.2 359.7L321.1 360.6L319.8 361.9L321.1 363.2L320.2 364.2L318.9 362.9L317.6 364.2L316.6 363.2L317.9 361.9L316.6 360.6Z"/>
<path d="M320.7 360.4L322.0 361.7L323.3 360.4L324.3 361.4L323.0 362.7L324.3 364.0L323.3 364.9L322.0 363.6L320.7 364.9L319.8 364.0L321.1 362.7L319.8 361.4Z"/>
<path d="M323.9 361.1L325.2 362.4L326.5 361.1L327.4 362.1L326.1 363.4L327.4 364.7L326.5 365.6L325.2 364.3L323.9 365.6L322.9 364.7L324.2 363.4L322.9 362.1Z"/>
<path d="M327.1 357.0L328.4 358.4L329.7 357.0L330.6 358.0L329.3 359.3L330.6 360.6L329.7 361.5L328.4 360.2L327.1 361.5L326.1 360.6L327.4 359.3L326.1 358.0Z"/>
<path d="M330.4 351.3L331.5 352.4L332.6 351.3L333.4 352.1L332.3 353.2L333.4 354.2L332.6 355.0L331.5 353.9L330.4 355.0L329.7 354.2L330.7 353.2L329.7 352.1Z"/>
<path d="M333.6 349.4L334.7 350.5L335.8 349.4L336.5 350.2L335.5 351.3L336.5 352.3L335.8 353.1L334.7 352.0L333.6 353.1L332.8 352.3L333.9 351.3L332.8 350.2Z"/>
<path d="M336.8 348.4L337.8 349.5L338.9 348.4L339.7 349.2L338.6 350.2L339.7 351.3L338.9 352.1L337.8 351.0L336.8 352.1L336.0 351.3L337.1 350.2L336.0 349.2Z"/>
<path d="M339.9 347.4L341.0 348.4L342.1 347.4L342.9 348.2L341.8 349.2L342.9 350.3L342.1 351.1L341.0 350.0L339.9 351.1L339.2 350.3L340.2 349.2L339.2 348.2Z"/>
<path d="M343.1 348.0L344.2 349.0L345.3 348.0L346.0 348.7L345.0 349.8L346.0 350.9L345.3 351.7L344.2 350.6L343.1 351.7L342.3 350.9L343.4 349.8L342.3 348.7Z"/>
<path d="M346.3 349.9L347.3 350.9L348.4 349.9L349.2 350.6L348.1 351.7L349.2 352.8L348.4 353.6L347.3 352.5L346.3 353.6L345.5 352.8L346.6 351.7L345.5 350.6Z"/>
<path d="M349.4 347.4L350.5 348.4L351.6 347.4L352.4 348.2L351.3 349.2L352.4 350.3L351.6 351.1L350.5 350.0L349.4 351.1L348.7 350.3L349.7 349.2L348.7 348.2Z"/>
<path d="M352.6 344.7L353.7 345.8L354.7 344.7L355.5 345.5L354.4 346.6L355.5 347.7L354.7 348.4L353.7 347.4L352.6 348.4L351.8 347.7L352.9 346.6L351.8 345.5Z"/>
<path d="M355.8 343.6L356.8 344.7L357.9 343.6L358.7 344.4L357.6 345.4L358.7 346.5L357.9 347.3L356.8 346.2L355.8 347.3L355.0 346.5L356.1 345.4L355.0 344.4Z"/>
<path d="M358.9 342.6L360.0 343.6L361.1 342.6L361.9 343.3L360.8 344.4L361.9 345.5L361.1 346.3L360.0 345.2L358.9 346.3L358.1 345.5L359.2 344.4L358.1 343.3Z"/>
<path d="M362.1 343.0L363.2 344.1L364.2 343.0L365.0 343.8L363.9 344.8L365.0 345.9L364.2 346.7L363.2 345.6L362.1 346.7L361.3 345.9L362.4 344.8L361.3 343.8Z"/>
<path d="M365.3 343.3L366.3 344.4L367.4 343.3L368.2 344.1L367.1 345.1L368.2 346.2L367.4 347.0L366.3 345.9L365.3 347.0L364.5 346.2L365.6 345.1L364.5 344.1Z"/>
<path d="M368.4 343.0L369.5 344.1L370.6 343.0L371.3 343.8L370.3 344.8L371.3 345.9L370.6 346.7L369.5 345.6L368.4 346.7L367.6 345.9L368.7 344.8L367.6 343.8Z"/>
<path d="M371.6 341.8L372.7 342.9L373.7 341.8L374.5 342.6L373.4 343.7L374.5 344.8L373.7 345.5L372.7 344.5L371.6 345.5L370.8 344.8L371.9 343.7L370.8 342.6Z"/>
<path d="M374.7 338.9L375.8 340.0L376.9 338.9L377.7 339.7L376.6 340.8L377.7 341.8L376.9 342.6L375.8 341.5L374.7 342.6L374.0 341.8L375.0 340.8L374.0 339.7Z"/>
<path d="M377.9 338.6L379.0 339.7L380.1 338.6L380.8 339.4L379.8 340.5L380.8 341.5L380.1 342.3L379.0 341.2L377.9 342.3L377.1 341.5L378.2 340.5L377.1 339.4Z"/>
<path d="M381.1 338.9L382.2 340.0L383.2 338.9L384.0 339.7L382.9 340.8L384.0 341.8L383.2 342.6L382.2 341.5L381.1 342.6L380.3 341.8L381.4 340.8L380.3 339.7Z"/>
<path d="M384.2 338.2L385.3 339.3L386.4 338.2L387.2 339.0L386.1 340.0L387.2 341.1L386.4 341.9L385.3 340.8L384.2 341.9L383.5 341.1L384.5 340.0L383.5 339.0Z"/>
<path d="M387.4 336.3L388.5 337.4L389.6 336.3L390.3 337.1L389.3 338.1L390.3 339.2L389.6 340.0L388.5 338.9L387.4 340.0L386.6 339.2L387.7 338.1L386.6 337.1Z"/>
<path d="M390.6 337.4L391.6 338.5L392.7 337.4L393.5 338.2L392.4 339.3L393.5 340.4L392.7 341.1L391.6 340.1L390.6 341.1L389.8 340.4L390.9 339.3L389.8 338.2Z"/>
<path d="M393.7 336.3L394.8 337.4L395.9 336.3L396.7 337.1L395.6 338.1L396.7 339.2L395.9 340.0L394.8 338.9L393.7 340.0L393.0 339.2L394.0 338.1L393.0 337.1Z"/>
<path d="M396.9 335.7L398.0 336.8L399.0 335.7L399.8 336.5L398.7 337.5L399.8 338.6L399.0 339.4L398.0 338.3L396.9 339.4L396.1 338.6L397.2 337.5L396.1 336.5Z"/>
<path d="M400.1 336.7L401.1 337.8L402.2 336.7L403.0 337.5L401.9 338.6L403.0 339.6L402.2 340.4L401.1 339.3L400.1 340.4L399.3 339.6L400.4 338.6L399.3 337.5Z"/>
<path d="M403.2 337.2L404.3 338.2L405.4 337.2L406.2 337.9L405.1 339.0L406.2 340.1L405.4 340.9L404.3 339.8L403.2 340.9L402.5 340.1L403.5 339.0L402.5 337.9Z"/>
<path d="M406.4 337.2L407.5 338.2L408.5 337.2L409.3 337.9L408.2 339.0L409.3 340.1L408.5 340.9L407.5 339.8L406.4 340.9L405.6 340.1L406.7 339.0L405.6 337.9Z"/>
<path d="M409.6 336.3L410.6 337.4L411.7 336.3L412.5 337.1L411.4 338.1L412.5 339.2L411.7 340.0L410.6 338.9L409.6 340.0L408.8 339.2L409.9 338.1L408.8 337.1Z"/>
<path d="M412.7 336.7L413.8 337.8L414.9 336.7L415.6 337.5L414.6 338.6L415.6 339.6L414.9 340.4L413.8 339.3L412.7 340.4L411.9 339.6L413.0 338.6L411.9 337.5Z"/>
<path d="M415.9 336.7L417.0 337.8L418.0 336.7L418.8 337.5L417.7 338.6L418.8 339.6L418.0 340.4L417.0 339.3L415.9 340.4L415.1 339.6L416.2 338.6L415.1 337.5Z"/>
<path d="M419.0 336.3L420.1 337.4L421.2 336.3L422.0 337.1L420.9 338.1L422.0 339.2L421.2 340.0L420.1 338.9L419.0 340.0L418.3 339.2L419.3 338.1L418.3 337.1Z"/>
<path d="M422.2 336.7L423.3 337.8L424.4 336.7L425.1 337.5L424.1 338.6L425.1 339.6L424.4 340.4L423.3 339.3L422.2 340.4L421.4 339.6L422.5 338.6L421.4 337.5Z"/>
<path d="M425.4 337.2L426.5 338.2L427.5 337.2L428.3 337.9L427.2 339.0L428.3 340.1L427.5 340.9L426.5 339.8L425.4 340.9L424.6 340.1L425.7 339.0L424.6 337.9Z"/>
<path d="M428.5 338.2L429.6 339.3L430.7 338.2L431.5 339.0L430.4 340.0L431.5 341.1L430.7 341.9L429.6 340.8L428.5 341.9L427.8 341.1L428.8 340.0L427.8 339.0Z"/>
<path d="M431.7 338.6L432.8 339.7L433.9 338.6L434.6 339.4L433.6 340.5L434.6 341.5L433.9 342.3L432.8 341.2L431.7 342.3L430.9 341.5L432.0 340.5L430.9 339.4Z"/>
<path d="M434.9 340.7L435.9 341.7L437.0 340.7L437.8 341.4L436.7 342.5L437.8 343.6L437.0 344.4L435.9 343.3L434.9 344.4L434.1 343.6L435.2 342.5L434.1 341.4Z"/>
<path d="M438.0 338.2L439.1 339.3L440.2 338.2L441.0 339.0L439.9 340.0L441.0 341.1L440.2 341.9L439.1 340.8L438.0 341.9L437.3 341.1L438.3 340.0L437.3 339.0Z"/>
<path d="M441.2 340.1L442.3 341.2L443.3 340.1L444.1 340.9L443.0 341.9L444.1 343.0L443.3 343.8L442.3 342.7L441.2 343.8L440.4 343.0L441.5 341.9L440.4 340.9Z"/>
</g>
<rect x="397.59999999999997" y="357.00000000000006" width="48.60" height="26.70" rx="1.8" fill="#fff" fill-opacity="0.8" stroke="#dadada" stroke-width="0.8"/>
<line x1="400.2" y1="363.80" x2="417.79999999999995" y2="363.80" stroke="#f5c8b1" stroke-width="1.6"/>
<path d="M409.1 361.4L411.5 363.8L409.1 366.2L406.7 363.8Z" fill="#ad2430" stroke="#fff" stroke-width="0.7" paint-order="stroke"/>
<line x1="400.2" y1="375.80" x2="417.79999999999995" y2="375.80" stroke="#c0daed" stroke-width="1.6"/>
<path d="M407.9 373.7L409.1 374.9L410.3 373.7L411.2 374.6L410.0 375.8L411.2 377.0L410.3 377.9L409.1 376.7L407.9 377.9L407.0 377.0L408.2 375.8L407.0 374.6Z" fill="#336db4" stroke="#fff" stroke-width="0.7" paint-order="stroke"/>
<rect x="269.5" y="398.7" width="181.00" height="53.60" fill="none" stroke="#444444" stroke-width="0.95"/>
<line x1="267.2" y1="412.0" x2="269.5" y2="412.0" stroke="#444444" stroke-width="0.8"/>
<line x1="267.2" y1="431.6" x2="269.5" y2="431.6" stroke="#444444" stroke-width="0.8"/>
<line x1="267.2" y1="450.0" x2="269.5" y2="450.0" stroke="#444444" stroke-width="0.8"/>
<line x1="277.73" y1="452.3" x2="277.73" y2="454.6" stroke="#444444" stroke-width="0.8"/>
<line x1="309.37" y1="452.3" x2="309.37" y2="454.6" stroke="#444444" stroke-width="0.8"/>
<line x1="341.01" y1="452.3" x2="341.01" y2="454.6" stroke="#444444" stroke-width="0.8"/>
<line x1="372.66" y1="452.3" x2="372.66" y2="454.6" stroke="#444444" stroke-width="0.8"/>
<line x1="404.30" y1="452.3" x2="404.30" y2="454.6" stroke="#444444" stroke-width="0.8"/>
<line x1="435.94" y1="452.3" x2="435.94" y2="454.6" stroke="#444444" stroke-width="0.8"/>
<polyline points="277.7,449.3 280.9,427.4 284.1,432.8 287.2,431.3 290.4,427.9 293.5,426.2 296.7,407.2 299.9,426.9 303.0,410.9 306.2,407.9 309.4,406.9 312.5,409.8 315.7,407.9 318.9,406.9 322.0,407.5 325.2,408.7 328.4,409.0 331.5,413.1 334.7,413.4 337.8,413.1 341.0,413.4 344.2,412.3 347.3,413.4 350.5,411.6 353.7,411.9 356.8,412.3 360.0,413.1 363.2,411.6 366.3,411.9 369.5,412.3 372.7,412.3 375.8,411.6 379.0,413.1 382.2,414.2 385.3,412.8 388.5,413.1 391.6,414.5 394.8,412.3 398.0,411.6 401.1,411.6 404.3,412.3 407.5,411.6 410.6,411.3 413.8,413.1 417.0,412.8 420.1,412.3 423.3,411.6 426.5,412.3 429.6,411.6 432.8,411.3 435.9,413.1 439.1,411.3 442.3,411.3" fill="none" stroke="#f5c8b1" stroke-width="1.6" stroke-linejoin="round"/>
<polyline points="277.7,422.5 280.9,420.1 284.1,420.4 287.2,424.0 290.4,427.9 293.5,430.3 296.7,422.5 299.9,438.6 303.0,435.2 306.2,431.7 309.4,432.8 312.5,433.2 315.7,433.5 318.9,428.8 322.0,428.4 325.2,428.4 328.4,423.6 331.5,412.3 334.7,410.9 337.8,409.8 341.0,410.1 344.2,410.9 347.3,408.7 350.5,407.2 353.7,406.9 356.8,406.5 360.0,405.0 363.2,405.5 366.3,404.6 369.5,404.0 372.7,403.1 375.8,402.5 379.0,402.1 382.2,401.7 385.3,401.7 388.5,402.1 391.6,402.1 394.8,402.5 398.0,401.7 401.1,401.1 404.3,401.7 407.5,402.1 410.6,402.1 413.8,402.1 417.0,402.1 420.1,402.1 423.3,402.1 426.5,402.1 429.6,402.8 432.8,402.5 435.9,402.1 439.1,402.1 442.3,402.1" fill="none" stroke="#c0daed" stroke-width="1.6" stroke-linejoin="round"/>
<g fill="#ad2430" stroke="#fff" stroke-width="0.7" paint-order="stroke">
<circle cx="277.7" cy="449.3" r="2.10"/>
<circle cx="280.9" cy="427.4" r="2.10"/>
<circle cx="284.1" cy="432.8" r="2.10"/>
<circle cx="287.2" cy="431.3" r="2.10"/>
<circle cx="290.4" cy="427.9" r="1.65"/>
<circle cx="293.5" cy="426.2" r="1.65"/>
<circle cx="296.7" cy="407.2" r="2.10"/>
<circle cx="299.9" cy="426.9" r="2.10"/>
<circle cx="303.0" cy="410.9" r="2.10"/>
<circle cx="306.2" cy="407.9" r="2.10"/>
<circle cx="309.4" cy="406.9" r="2.10"/>
<circle cx="312.5" cy="409.8" r="2.10"/>
<circle cx="315.7" cy="407.9" r="2.10"/>
<circle cx="318.9" cy="406.9" r="2.10"/>
<circle cx="322.0" cy="407.5" r="2.10"/>
<circle cx="325.2" cy="408.7" r="2.10"/>
<circle cx="328.4" cy="409.0" r="2.10"/>
<circle cx="331.5" cy="413.1" r="1.65"/>
<circle cx="334.7" cy="413.4" r="1.65"/>
<circle cx="337.8" cy="413.1" r="1.65"/>
<circle cx="341.0" cy="413.4" r="1.65"/>
<circle cx="344.2" cy="412.3" r="1.65"/>
<circle cx="347.3" cy="413.4" r="1.85"/>
<circle cx="350.5" cy="411.6" r="1.65"/>
<circle cx="353.7" cy="411.9" r="1.65"/>
<circle cx="356.8" cy="412.3" r="1.65"/>
<circle cx="360.0" cy="413.1" r="1.65"/>
<circle cx="363.2" cy="411.6" r="1.65"/>
<circle cx="366.3" cy="411.9" r="1.65"/>
<circle cx="369.5" cy="412.3" r="1.65"/>
<circle cx="372.7" cy="412.3" r="1.65"/>
<circle cx="375.8" cy="411.6" r="1.65"/>
<circle cx="379.0" cy="413.1" r="1.65"/>
<circle cx="382.2" cy="414.2" r="1.65"/>
<circle cx="385.3" cy="412.8" r="1.65"/>
<circle cx="388.5" cy="413.1" r="1.65"/>
<circle cx="391.6" cy="414.5" r="1.65"/>
<circle cx="394.8" cy="412.3" r="1.65"/>
<circle cx="398.0" cy="411.6" r="1.65"/>
<circle cx="401.1" cy="411.6" r="1.65"/>
<circle cx="404.3" cy="412.3" r="1.65"/>
<circle cx="407.5" cy="411.6" r="1.65"/>
<circle cx="410.6" cy="411.3" r="1.65"/>
<circle cx="413.8" cy="413.1" r="1.65"/>
<circle cx="417.0" cy="412.8" r="1.65"/>
<circle cx="420.1" cy="412.3" r="1.65"/>
<circle cx="423.3" cy="411.6" r="1.65"/>
<circle cx="426.5" cy="412.3" r="1.65"/>
<circle cx="429.6" cy="411.6" r="1.65"/>
<circle cx="432.8" cy="411.3" r="1.65"/>
<circle cx="435.9" cy="413.1" r="1.65"/>
<circle cx="439.1" cy="411.3" r="1.65"/>
<circle cx="442.3" cy="411.3" r="1.65"/>
</g>
<g fill="#336db4" stroke="#fff" stroke-width="0.7" paint-order="stroke">
<path d="M276.7 419.9L278.8 419.9L278.8 421.5L280.3 421.5L280.3 423.6L278.8 423.6L278.8 425.1L276.7 425.1L276.7 423.6L275.1 423.6L275.1 421.5L276.7 421.5Z"/>
<path d="M279.9 417.5L281.9 417.5L281.9 419.0L283.5 419.0L283.5 421.1L281.9 421.1L281.9 422.7L279.9 422.7L279.9 421.1L278.3 421.1L278.3 419.0L279.9 419.0Z"/>
<path d="M283.0 417.8L285.1 417.8L285.1 419.3L286.7 419.3L286.7 421.4L285.1 421.4L285.1 423.0L283.0 423.0L283.0 421.4L281.5 421.4L281.5 419.3L283.0 419.3Z"/>
<path d="M286.2 421.4L288.3 421.4L288.3 423.0L289.8 423.0L289.8 425.0L288.3 425.0L288.3 426.6L286.2 426.6L286.2 425.0L284.6 425.0L284.6 423.0L286.2 423.0Z"/>
<path d="M289.3 425.3L291.4 425.3L291.4 426.9L293.0 426.9L293.0 429.0L291.4 429.0L291.4 430.5L289.3 430.5L289.3 429.0L287.8 429.0L287.8 426.9L289.3 426.9Z"/>
<path d="M292.5 427.7L294.6 427.7L294.6 429.2L296.1 429.2L296.1 431.3L294.6 431.3L294.6 432.9L292.5 432.9L292.5 431.3L290.9 431.3L290.9 429.2L292.5 429.2Z"/>
<path d="M295.7 419.9L297.8 419.9L297.8 421.5L299.3 421.5L299.3 423.6L297.8 423.6L297.8 425.1L295.7 425.1L295.7 423.6L294.1 423.6L294.1 421.5L295.7 421.5Z"/>
<path d="M298.8 436.0L300.9 436.0L300.9 437.6L302.5 437.6L302.5 439.6L300.9 439.6L300.9 441.2L298.8 441.2L298.8 439.6L297.3 439.6L297.3 437.6L298.8 437.6Z"/>
<path d="M302.0 432.6L304.1 432.6L304.1 434.2L305.6 434.2L305.6 436.3L304.1 436.3L304.1 437.8L302.0 437.8L302.0 436.3L300.4 436.3L300.4 434.2L302.0 434.2Z"/>
<path d="M305.2 429.1L307.2 429.1L307.2 430.7L308.8 430.7L308.8 432.8L307.2 432.8L307.2 434.3L305.2 434.3L305.2 432.8L303.6 432.8L303.6 430.7L305.2 430.7Z"/>
<path d="M308.3 430.2L310.4 430.2L310.4 431.7L312.0 431.7L312.0 433.8L310.4 433.8L310.4 435.4L308.3 435.4L308.3 433.8L306.8 433.8L306.8 431.7L308.3 431.7Z"/>
<path d="M311.5 430.6L313.6 430.6L313.6 432.2L315.1 432.2L315.1 434.2L313.6 434.2L313.6 435.8L311.5 435.8L311.5 434.2L309.9 434.2L309.9 432.2L311.5 432.2Z"/>
<path d="M314.7 430.9L316.7 430.9L316.7 432.5L318.3 432.5L318.3 434.5L316.7 434.5L316.7 436.1L314.7 436.1L314.7 434.5L313.1 434.5L313.1 432.5L314.7 432.5Z"/>
<path d="M317.8 426.2L319.9 426.2L319.9 427.8L321.5 427.8L321.5 429.9L319.9 429.9L319.9 431.4L317.8 431.4L317.8 429.9L316.3 429.9L316.3 427.8L317.8 427.8Z"/>
<path d="M321.0 425.8L323.1 425.8L323.1 427.3L324.6 427.3L324.6 429.4L323.1 429.4L323.1 431.0L321.0 431.0L321.0 429.4L319.4 429.4L319.4 427.3L321.0 427.3Z"/>
<path d="M324.2 425.8L326.2 425.8L326.2 427.3L327.8 427.3L327.8 429.4L326.2 429.4L326.2 431.0L324.2 431.0L324.2 429.4L322.6 429.4L322.6 427.3L324.2 427.3Z"/>
<path d="M327.3 421.0L329.4 421.0L329.4 422.5L331.0 422.5L331.0 424.6L329.4 424.6L329.4 426.2L327.3 426.2L327.3 424.6L325.8 424.6L325.8 422.5L327.3 422.5Z"/>
<path d="M330.7 410.2L332.4 410.2L332.4 411.5L333.7 411.5L333.7 413.2L332.4 413.2L332.4 414.5L330.7 414.5L330.7 413.2L329.4 413.2L329.4 411.5L330.7 411.5Z"/>
<path d="M333.8 408.7L335.5 408.7L335.5 410.0L336.8 410.0L336.8 411.7L335.5 411.7L335.5 413.0L333.8 413.0L333.8 411.7L332.5 411.7L332.5 410.0L333.8 410.0Z"/>
<path d="M337.0 407.7L338.7 407.7L338.7 409.0L340.0 409.0L340.0 410.7L338.7 410.7L338.7 412.0L337.0 412.0L337.0 410.7L335.7 410.7L335.7 409.0L337.0 409.0Z"/>
<path d="M340.2 408.0L341.9 408.0L341.9 409.3L343.2 409.3L343.2 411.0L341.9 411.0L341.9 412.3L340.2 412.3L340.2 411.0L338.9 411.0L338.9 409.3L340.2 409.3Z"/>
<path d="M343.3 408.7L345.0 408.7L345.0 410.0L346.3 410.0L346.3 411.7L345.0 411.7L345.0 413.0L343.3 413.0L343.3 411.7L342.0 411.7L342.0 410.0L343.3 410.0Z"/>
<path d="M346.5 406.5L348.2 406.5L348.2 407.8L349.5 407.8L349.5 409.5L348.2 409.5L348.2 410.8L346.5 410.8L346.5 409.5L345.2 409.5L345.2 407.8L346.5 407.8Z"/>
<path d="M349.6 405.1L351.4 405.1L351.4 406.4L352.7 406.4L352.7 408.1L351.4 408.1L351.4 409.4L349.6 409.4L349.6 408.1L348.4 408.1L348.4 406.4L349.6 406.4Z"/>
<path d="M352.8 404.8L354.5 404.8L354.5 406.1L355.8 406.1L355.8 407.8L354.5 407.8L354.5 409.1L352.8 409.1L352.8 407.8L351.5 407.8L351.5 406.1L352.8 406.1Z"/>
<path d="M356.0 404.3L357.7 404.3L357.7 405.6L359.0 405.6L359.0 407.3L357.7 407.3L357.7 408.6L356.0 408.6L356.0 407.3L354.7 407.3L354.7 405.6L356.0 405.6Z"/>
<path d="M359.1 402.9L360.9 402.9L360.9 404.2L362.1 404.2L362.1 405.9L360.9 405.9L360.9 407.2L359.1 407.2L359.1 405.9L357.9 405.9L357.9 404.2L359.1 404.2Z"/>
<path d="M362.3 403.3L364.0 403.3L364.0 404.6L365.3 404.6L365.3 406.3L364.0 406.3L364.0 407.6L362.3 407.6L362.3 406.3L361.0 406.3L361.0 404.6L362.3 404.6Z"/>
<path d="M365.5 402.4L367.2 402.4L367.2 403.7L368.5 403.7L368.5 405.5L367.2 405.5L367.2 406.7L365.5 406.7L365.5 405.5L364.2 405.5L364.2 403.7L365.5 403.7Z"/>
<path d="M368.6 401.9L370.4 401.9L370.4 403.1L371.6 403.1L371.6 404.9L370.4 404.9L370.4 406.2L368.6 406.2L368.6 404.9L367.3 404.9L367.3 403.1L368.6 403.1Z"/>
<path d="M371.8 401.0L373.5 401.0L373.5 402.3L374.8 402.3L374.8 404.0L373.5 404.0L373.5 405.3L371.8 405.3L371.8 404.0L370.5 404.0L370.5 402.3L371.8 402.3Z"/>
<path d="M375.0 400.4L376.7 400.4L376.7 401.7L378.0 401.7L378.0 403.4L376.7 403.4L376.7 404.7L375.0 404.7L375.0 403.4L373.7 403.4L373.7 401.7L375.0 401.7Z"/>
<path d="M378.1 400.0L379.8 400.0L379.8 401.2L381.1 401.2L381.1 403.0L379.8 403.0L379.8 404.3L378.1 404.3L378.1 403.0L376.8 403.0L376.8 401.2L378.1 401.2Z"/>
<path d="M381.3 399.5L383.0 399.5L383.0 400.8L384.3 400.8L384.3 402.5L383.0 402.5L383.0 403.8L381.3 403.8L381.3 402.5L380.0 402.5L380.0 400.8L381.3 400.8Z"/>
<path d="M384.5 399.5L386.2 399.5L386.2 400.8L387.5 400.8L387.5 402.5L386.2 402.5L386.2 403.8L384.5 403.8L384.5 402.5L383.2 402.5L383.2 400.8L384.5 400.8Z"/>
<path d="M387.6 400.0L389.3 400.0L389.3 401.2L390.6 401.2L390.6 403.0L389.3 403.0L389.3 404.3L387.6 404.3L387.6 403.0L386.3 403.0L386.3 401.2L387.6 401.2Z"/>
<path d="M390.8 400.0L392.5 400.0L392.5 401.2L393.8 401.2L393.8 403.0L392.5 403.0L392.5 404.3L390.8 404.3L390.8 403.0L389.5 403.0L389.5 401.2L390.8 401.2Z"/>
<path d="M393.9 400.4L395.7 400.4L395.7 401.7L397.0 401.7L397.0 403.4L395.7 403.4L395.7 404.7L393.9 404.7L393.9 403.4L392.7 403.4L392.7 401.7L393.9 401.7Z"/>
<path d="M397.1 399.5L398.8 399.5L398.8 400.8L400.1 400.8L400.1 402.5L398.8 402.5L398.8 403.8L397.1 403.8L397.1 402.5L395.8 402.5L395.8 400.8L397.1 400.8Z"/>
<path d="M400.3 398.9L402.0 398.9L402.0 400.2L403.3 400.2L403.3 401.9L402.0 401.9L402.0 403.2L400.3 403.2L400.3 401.9L399.0 401.9L399.0 400.2L400.3 400.2Z"/>
<path d="M403.4 399.5L405.2 399.5L405.2 400.8L406.5 400.8L406.5 402.5L405.2 402.5L405.2 403.8L403.4 403.8L403.4 402.5L402.2 402.5L402.2 400.8L403.4 400.8Z"/>
<path d="M406.6 400.0L408.3 400.0L408.3 401.2L409.6 401.2L409.6 403.0L408.3 403.0L408.3 404.3L406.6 404.3L406.6 403.0L405.3 403.0L405.3 401.2L406.6 401.2Z"/>
<path d="M409.8 400.0L411.5 400.0L411.5 401.2L412.8 401.2L412.8 403.0L411.5 403.0L411.5 404.3L409.8 404.3L409.8 403.0L408.5 403.0L408.5 401.2L409.8 401.2Z"/>
<path d="M412.9 400.0L414.7 400.0L414.7 401.2L415.9 401.2L415.9 403.0L414.7 403.0L414.7 404.3L412.9 404.3L412.9 403.0L411.6 403.0L411.6 401.2L412.9 401.2Z"/>
<path d="M416.1 400.0L417.8 400.0L417.8 401.2L419.1 401.2L419.1 403.0L417.8 403.0L417.8 404.3L416.1 404.3L416.1 403.0L414.8 403.0L414.8 401.2L416.1 401.2Z"/>
<path d="M419.3 400.0L421.0 400.0L421.0 401.2L422.3 401.2L422.3 403.0L421.0 403.0L421.0 404.3L419.3 404.3L419.3 403.0L418.0 403.0L418.0 401.2L419.3 401.2Z"/>
<path d="M422.4 400.0L424.1 400.0L424.1 401.2L425.4 401.2L425.4 403.0L424.1 403.0L424.1 404.3L422.4 404.3L422.4 403.0L421.1 403.0L421.1 401.2L422.4 401.2Z"/>
<path d="M425.6 400.0L427.3 400.0L427.3 401.2L428.6 401.2L428.6 403.0L427.3 403.0L427.3 404.3L425.6 404.3L425.6 403.0L424.3 403.0L424.3 401.2L425.6 401.2Z"/>
<path d="M428.8 400.7L430.5 400.7L430.5 402.0L431.8 402.0L431.8 403.7L430.5 403.7L430.5 405.0L428.8 405.0L428.8 403.7L427.5 403.7L427.5 402.0L428.8 402.0Z"/>
<path d="M431.9 400.4L433.6 400.4L433.6 401.7L434.9 401.7L434.9 403.4L433.6 403.4L433.6 404.7L431.9 404.7L431.9 403.4L430.6 403.4L430.6 401.7L431.9 401.7Z"/>
<path d="M435.1 400.0L436.8 400.0L436.8 401.2L438.1 401.2L438.1 403.0L436.8 403.0L436.8 404.3L435.1 404.3L435.1 403.0L433.8 403.0L433.8 401.2L435.1 401.2Z"/>
<path d="M438.2 400.0L440.0 400.0L440.0 401.2L441.3 401.2L441.3 403.0L440.0 403.0L440.0 404.3L438.2 404.3L438.2 403.0L437.0 403.0L437.0 401.2L438.2 401.2Z"/>
<path d="M441.4 400.0L443.1 400.0L443.1 401.2L444.4 401.2L444.4 403.0L443.1 403.0L443.1 404.3L441.4 404.3L441.4 403.0L440.1 403.0L440.1 401.2L441.4 401.2Z"/>
</g>
<rect x="397.59999999999997" y="421.20000000000005" width="48.60" height="26.70" rx="1.8" fill="#fff" fill-opacity="0.8" stroke="#dadada" stroke-width="0.8"/>
<line x1="400.2" y1="428.00" x2="417.79999999999995" y2="428.00" stroke="#f5c8b1" stroke-width="1.6"/>
<circle cx="409.10" cy="428.00" r="2.05" fill="#ad2430" stroke="#fff" stroke-width="0.7" paint-order="stroke"/>
<line x1="400.2" y1="440.00" x2="417.79999999999995" y2="440.00" stroke="#c0daed" stroke-width="1.6"/>
<path d="M408.0 437.3L410.2 437.3L410.2 438.9L411.8 438.9L411.8 441.1L410.2 441.1L410.2 442.7L408.0 442.7L408.0 441.1L406.4 441.1L406.4 438.9L408.0 438.9Z" fill="#336db4" stroke="#fff" stroke-width="0.7" paint-order="stroke"/>
<rect x="485.1" y="334.4" width="180.90" height="53.70" fill="none" stroke="#444444" stroke-width="0.95"/>
<line x1="482.8" y1="353.4" x2="485.1" y2="353.4" stroke="#444444" stroke-width="0.8"/>
<line x1="482.8" y1="376.4" x2="485.1" y2="376.4" stroke="#444444" stroke-width="0.8"/>
<line x1="493.32" y1="388.1" x2="493.32" y2="390.40000000000003" stroke="#444444" stroke-width="0.8"/>
<line x1="524.95" y1="388.1" x2="524.95" y2="390.40000000000003" stroke="#444444" stroke-width="0.8"/>
<line x1="556.57" y1="388.1" x2="556.57" y2="390.40000000000003" stroke="#444444" stroke-width="0.8"/>
<line x1="588.20" y1="388.1" x2="588.20" y2="390.40000000000003" stroke="#444444" stroke-width="0.8"/>
<line x1="619.83" y1="388.1" x2="619.83" y2="390.40000000000003" stroke="#444444" stroke-width="0.8"/>
<line x1="651.45" y1="388.1" x2="651.45" y2="390.40000000000003" stroke="#444444" stroke-width="0.8"/>
<polyline points="493.3,386.3 496.5,369.7 499.6,348.8 502.8,339.3 506.0,338.1 509.1,344.8 512.3,347.3 515.5,345.9 518.6,347.3 521.8,346.3 524.9,347.3 528.1,352.1 531.3,348.4 534.4,347.3 537.6,346.6 540.8,348.4 543.9,347.8 547.1,347.3 550.2,351.0 553.4,350.7 556.6,350.7 559.7,349.8 562.9,349.2 566.1,348.8 569.2,348.4 572.4,348.1 575.6,350.2 578.7,349.8 581.9,348.1 585.0,347.8 588.2,349.5 591.4,347.3 594.5,347.8 597.7,348.1 600.9,347.3 604.0,347.8 607.2,348.1 610.3,347.8 613.5,347.8 616.7,347.3 619.8,348.4 623.0,348.4 626.2,349.2 629.3,349.8 632.5,347.8 635.6,347.8 638.8,348.1 642.0,348.4 645.1,348.4 648.3,348.4 651.5,348.4 654.6,348.1 657.8,348.8" fill="none" stroke="#f5c8b1" stroke-width="1.6" stroke-linejoin="round"/>
<polyline points="493.3,382.4 496.5,384.8 499.6,371.4 502.8,370.7 506.0,365.3 509.1,365.6 512.3,362.7 515.5,364.1 518.6,362.9 521.8,359.4 524.9,357.1 528.1,356.1 531.3,356.1 534.4,352.4 537.6,351.0 540.8,351.0 543.9,351.0 547.1,347.8 550.2,347.3 553.4,345.9 556.6,346.6 559.7,344.8 562.9,346.6 566.1,344.4 569.2,344.0 572.4,344.4 575.6,346.6 578.7,346.3 581.9,342.5 585.0,346.3 588.2,343.4 591.4,343.4 594.5,341.5 597.7,341.1 600.9,339.0 604.0,338.6 607.2,338.1 610.3,338.1 613.5,337.8 616.7,337.1 619.8,340.5 623.0,341.5 626.2,340.0 629.3,340.5 632.5,341.1 635.6,342.2 638.8,342.9 642.0,342.2 645.1,341.1 648.3,341.9 651.5,342.5 654.6,341.5 657.8,341.5" fill="none" stroke="#c0daed" stroke-width="1.6" stroke-linejoin="round"/>
<g fill="#ad2430" stroke="#fff" stroke-width="0.7" paint-order="stroke">
<path d="M493.3 383.8L495.8 386.3L493.3 388.8L490.8 386.3Z"/>
<path d="M496.5 367.2L499.0 369.7L496.5 372.2L494.0 369.7Z"/>
<path d="M499.6 346.3L502.1 348.8L499.6 351.3L497.1 348.8Z"/>
<path d="M502.8 336.8L505.3 339.3L502.8 341.8L500.3 339.3Z"/>
<path d="M506.0 335.6L508.5 338.1L506.0 340.6L503.5 338.1Z"/>
<path d="M509.1 342.3L511.6 344.8L509.1 347.3L506.6 344.8Z"/>
<path d="M512.3 344.8L514.8 347.3L512.3 349.8L509.8 347.3Z"/>
<path d="M515.5 343.4L518.0 345.9L515.5 348.4L513.0 345.9Z"/>
<path d="M518.6 344.8L521.1 347.3L518.6 349.8L516.1 347.3Z"/>
<path d="M521.8 343.8L524.3 346.3L521.8 348.8L519.3 346.3Z"/>
<path d="M524.9 344.8L527.4 347.3L524.9 349.8L522.4 347.3Z"/>
<path d="M528.1 349.6L530.6 352.1L528.1 354.6L525.6 352.1Z"/>
<path d="M531.3 345.9L533.8 348.4L531.3 350.9L528.8 348.4Z"/>
<path d="M534.4 344.8L536.9 347.3L534.4 349.8L531.9 347.3Z"/>
<path d="M537.6 344.1L540.1 346.6L537.6 349.1L535.1 346.6Z"/>
<path d="M540.8 346.5L542.6 348.4L540.8 350.2L538.9 348.4Z"/>
<path d="M543.9 345.9L545.8 347.8L543.9 349.6L542.1 347.8Z"/>
<path d="M547.1 345.5L548.9 347.3L547.1 349.2L545.2 347.3Z"/>
<path d="M550.2 348.8L552.4 351.0L550.2 353.1L548.1 351.0Z"/>
<path d="M553.4 348.8L555.3 350.7L553.4 352.5L551.6 350.7Z"/>
<path d="M556.6 348.8L558.4 350.7L556.6 352.5L554.7 350.7Z"/>
<path d="M559.7 348.0L561.6 349.8L559.7 351.7L557.9 349.8Z"/>
<path d="M562.9 347.4L564.7 349.2L562.9 351.1L561.0 349.2Z"/>
<path d="M566.1 346.9L567.9 348.8L566.1 350.6L564.2 348.8Z"/>
<path d="M569.2 346.5L571.1 348.4L569.2 350.2L567.4 348.4Z"/>
<path d="M572.4 346.2L574.2 348.1L572.4 349.9L570.5 348.1Z"/>
<path d="M575.6 348.4L577.4 350.2L575.6 352.1L573.7 350.2Z"/>
<path d="M578.7 348.0L580.6 349.8L578.7 351.7L576.9 349.8Z"/>
<path d="M581.9 346.2L583.7 348.1L581.9 349.9L580.0 348.1Z"/>
<path d="M585.0 345.9L586.9 347.8L585.0 349.6L583.2 347.8Z"/>
<path d="M588.2 347.7L590.1 349.5L588.2 351.4L586.4 349.5Z"/>
<path d="M591.4 345.5L593.2 347.3L591.4 349.2L589.5 347.3Z"/>
<path d="M594.5 345.9L596.4 347.8L594.5 349.6L592.7 347.8Z"/>
<path d="M597.7 346.2L599.5 348.1L597.7 349.9L595.8 348.1Z"/>
<path d="M600.9 345.5L602.7 347.3L600.9 349.2L599.0 347.3Z"/>
<path d="M604.0 345.9L605.9 347.8L604.0 349.6L602.2 347.8Z"/>
<path d="M607.2 346.2L609.0 348.1L607.2 349.9L605.3 348.1Z"/>
<path d="M610.3 345.9L612.2 347.8L610.3 349.6L608.5 347.8Z"/>
<path d="M613.5 345.9L615.4 347.8L613.5 349.6L611.7 347.8Z"/>
<path d="M616.7 345.5L618.5 347.3L616.7 349.2L614.8 347.3Z"/>
<path d="M619.8 346.5L621.7 348.4L619.8 350.2L618.0 348.4Z"/>
<path d="M623.0 346.5L624.8 348.4L623.0 350.2L621.1 348.4Z"/>
<path d="M626.2 347.4L628.0 349.2L626.2 351.1L624.3 349.2Z"/>
<path d="M629.3 348.0L631.2 349.8L629.3 351.7L627.5 349.8Z"/>
<path d="M632.5 345.9L634.3 347.8L632.5 349.6L630.6 347.8Z"/>
<path d="M635.6 345.9L637.5 347.8L635.6 349.6L633.8 347.8Z"/>
<path d="M638.8 346.2L640.7 348.1L638.8 349.9L637.0 348.1Z"/>
<path d="M642.0 346.5L643.8 348.4L642.0 350.2L640.1 348.4Z"/>
<path d="M645.1 346.5L647.0 348.4L645.1 350.2L643.3 348.4Z"/>
<path d="M648.3 346.5L650.1 348.4L648.3 350.2L646.4 348.4Z"/>
<path d="M651.5 346.5L653.3 348.4L651.5 350.2L649.6 348.4Z"/>
<path d="M654.6 346.2L656.5 348.1L654.6 349.9L652.8 348.1Z"/>
<path d="M657.8 346.9L659.6 348.8L657.8 350.6L655.9 348.8Z"/>
</g>
<g fill="#336db4" stroke="#fff" stroke-width="0.7" paint-order="stroke">
<path d="M492.0 380.1L493.3 381.4L494.6 380.1L495.6 381.1L494.3 382.4L495.6 383.7L494.6 384.6L493.3 383.3L492.0 384.6L491.1 383.7L492.4 382.4L491.1 381.1Z"/>
<path d="M495.2 382.6L496.5 383.9L497.8 382.6L498.7 383.5L497.4 384.8L498.7 386.2L497.8 387.1L496.5 385.8L495.2 387.1L494.2 386.2L495.5 384.8L494.2 383.5Z"/>
<path d="M498.3 369.2L499.6 370.5L501.0 369.2L501.9 370.1L500.6 371.4L501.9 372.7L501.0 373.7L499.6 372.4L498.3 373.7L497.4 372.7L498.7 371.4L497.4 370.1Z"/>
<path d="M501.5 368.4L502.8 369.7L504.1 368.4L505.1 369.4L503.8 370.7L505.1 372.0L504.1 372.9L502.8 371.6L501.5 372.9L500.6 372.0L501.9 370.7L500.6 369.4Z"/>
<path d="M504.7 363.0L506.0 364.3L507.3 363.0L508.2 364.0L506.9 365.3L508.2 366.6L507.3 367.5L506.0 366.2L504.7 367.5L503.7 366.6L505.0 365.3L503.7 364.0Z"/>
<path d="M507.8 363.3L509.1 364.6L510.4 363.3L511.4 364.3L510.1 365.6L511.4 366.9L510.4 367.8L509.1 366.5L507.8 367.8L506.9 366.9L508.2 365.6L506.9 364.3Z"/>
<path d="M511.0 360.4L512.3 361.7L513.6 360.4L514.5 361.4L513.2 362.7L514.5 364.0L513.6 364.9L512.3 363.6L511.0 364.9L510.0 364.0L511.4 362.7L510.0 361.4Z"/>
<path d="M514.2 361.9L515.5 363.2L516.8 361.9L517.7 362.8L516.4 364.1L517.7 365.4L516.8 366.4L515.5 365.1L514.2 366.4L513.2 365.4L514.5 364.1L513.2 362.8Z"/>
<path d="M517.3 360.7L518.6 362.0L519.9 360.7L520.9 361.6L519.6 362.9L520.9 364.3L519.9 365.2L518.6 363.9L517.3 365.2L516.4 364.3L517.7 362.9L516.4 361.6Z"/>
<path d="M520.5 357.2L521.8 358.5L523.1 357.2L524.0 358.1L522.7 359.4L524.0 360.8L523.1 361.7L521.8 360.4L520.5 361.7L519.5 360.8L520.8 359.4L519.5 358.1Z"/>
<path d="M523.6 354.9L524.9 356.2L526.3 354.9L527.2 355.8L525.9 357.1L527.2 358.4L526.3 359.4L524.9 358.1L523.6 359.4L522.7 358.4L524.0 357.1L522.7 355.8Z"/>
<path d="M526.8 353.8L528.1 355.1L529.4 353.8L530.4 354.8L529.1 356.1L530.4 357.4L529.4 358.3L528.1 357.0L526.8 358.3L525.9 357.4L527.2 356.1L525.9 354.8Z"/>
<path d="M530.0 353.8L531.3 355.1L532.6 353.8L533.5 354.8L532.2 356.1L533.5 357.4L532.6 358.3L531.3 357.0L530.0 358.3L529.0 357.4L530.3 356.1L529.0 354.8Z"/>
<path d="M533.1 350.2L534.4 351.5L535.7 350.2L536.7 351.1L535.4 352.4L536.7 353.7L535.7 354.7L534.4 353.4L533.1 354.7L532.2 353.7L533.5 352.4L532.2 351.1Z"/>
<path d="M536.3 348.7L537.6 350.0L538.9 348.7L539.8 349.7L538.5 351.0L539.8 352.3L538.9 353.2L537.6 351.9L536.3 353.2L535.3 352.3L536.7 351.0L535.3 349.7Z"/>
<path d="M539.5 348.7L540.8 350.0L542.1 348.7L543.0 349.7L541.7 351.0L543.0 352.3L542.1 353.2L540.8 351.9L539.5 353.2L538.5 352.3L539.8 351.0L538.5 349.7Z"/>
<path d="M542.6 348.7L543.9 350.0L545.2 348.7L546.2 349.7L544.9 351.0L546.2 352.3L545.2 353.2L543.9 351.9L542.6 353.2L541.7 352.3L543.0 351.0L541.7 349.7Z"/>
<path d="M546.0 345.9L547.1 347.0L548.2 345.9L548.9 346.7L547.9 347.8L548.9 348.8L548.2 349.6L547.1 348.5L546.0 349.6L545.2 348.8L546.3 347.8L545.2 346.7Z"/>
<path d="M549.2 345.5L550.2 346.6L551.3 345.5L552.1 346.3L551.0 347.3L552.1 348.4L551.3 349.2L550.2 348.1L549.2 349.2L548.4 348.4L549.5 347.3L548.4 346.3Z"/>
<path d="M552.3 344.0L553.4 345.1L554.5 344.0L555.3 344.8L554.2 345.9L555.3 346.9L554.5 347.7L553.4 346.6L552.3 347.7L551.6 346.9L552.6 345.9L551.6 344.8Z"/>
<path d="M555.5 344.7L556.6 345.8L557.6 344.7L558.4 345.5L557.4 346.6L558.4 347.7L557.6 348.4L556.6 347.4L555.5 348.4L554.7 347.7L555.8 346.6L554.7 345.5Z"/>
<path d="M558.7 343.0L559.7 344.1L560.8 343.0L561.6 343.8L560.5 344.8L561.6 345.9L560.8 346.7L559.7 345.6L558.7 346.7L557.9 345.9L559.0 344.8L557.9 343.8Z"/>
<path d="M561.8 344.7L562.9 345.8L564.0 344.7L564.7 345.5L563.7 346.6L564.7 347.7L564.0 348.4L562.9 347.4L561.8 348.4L561.0 347.7L562.1 346.6L561.0 345.5Z"/>
<path d="M565.0 342.6L566.1 343.6L567.1 342.6L567.9 343.3L566.8 344.4L567.9 345.5L567.1 346.3L566.1 345.2L565.0 346.3L564.2 345.5L565.3 344.4L564.2 343.3Z"/>
<path d="M568.2 342.1L569.2 343.2L570.3 342.1L571.1 342.9L570.0 344.0L571.1 345.0L570.3 345.8L569.2 344.7L568.2 345.8L567.4 345.0L568.4 344.0L567.4 342.9Z"/>
<path d="M571.3 342.6L572.4 343.6L573.5 342.6L574.2 343.3L573.2 344.4L574.2 345.5L573.5 346.3L572.4 345.2L571.3 346.3L570.5 345.5L571.6 344.4L570.5 343.3Z"/>
<path d="M574.5 344.7L575.6 345.8L576.6 344.7L577.4 345.5L576.3 346.6L577.4 347.7L576.6 348.4L575.6 347.4L574.5 348.4L573.7 347.7L574.8 346.6L573.7 345.5Z"/>
<path d="M577.6 344.5L578.7 345.5L579.8 344.5L580.6 345.2L579.5 346.3L580.6 347.4L579.8 348.2L578.7 347.1L577.6 348.2L576.9 347.4L577.9 346.3L576.9 345.2Z"/>
<path d="M580.8 340.7L581.9 341.7L582.9 340.7L583.7 341.4L582.7 342.5L583.7 343.6L582.9 344.4L581.9 343.3L580.8 344.4L580.0 343.6L581.1 342.5L580.0 341.4Z"/>
<path d="M584.0 344.5L585.0 345.5L586.1 344.5L586.9 345.2L585.8 346.3L586.9 347.4L586.1 348.2L585.0 347.1L584.0 348.2L583.2 347.4L584.3 346.3L583.2 345.2Z"/>
<path d="M587.1 341.5L588.2 342.6L589.3 341.5L590.1 342.3L589.0 343.4L590.1 344.5L589.3 345.2L588.2 344.2L587.1 345.2L586.4 344.5L587.4 343.4L586.4 342.3Z"/>
<path d="M590.3 341.5L591.4 342.6L592.4 341.5L593.2 342.3L592.1 343.4L593.2 344.5L592.4 345.2L591.4 344.2L590.3 345.2L589.5 344.5L590.6 343.4L589.5 342.3Z"/>
<path d="M593.5 339.6L594.5 340.7L595.6 339.6L596.4 340.4L595.3 341.5L596.4 342.6L595.6 343.3L594.5 342.3L593.5 343.3L592.7 342.6L593.7 341.5L592.7 340.4Z"/>
<path d="M596.6 339.2L597.7 340.3L598.8 339.2L599.5 340.0L598.5 341.1L599.5 342.1L598.8 342.9L597.7 341.8L596.6 342.9L595.8 342.1L596.9 341.1L595.8 340.0Z"/>
<path d="M599.8 337.2L600.9 338.2L601.9 337.2L602.7 337.9L601.6 339.0L602.7 340.1L601.9 340.9L600.9 339.8L599.8 340.9L599.0 340.1L600.1 339.0L599.0 337.9Z"/>
<path d="M602.9 336.7L604.0 337.8L605.1 336.7L605.9 337.5L604.8 338.6L605.9 339.6L605.1 340.4L604.0 339.3L602.9 340.4L602.2 339.6L603.2 338.6L602.2 337.5Z"/>
<path d="M606.1 336.3L607.2 337.4L608.2 336.3L609.0 337.1L608.0 338.1L609.0 339.2L608.2 340.0L607.2 338.9L606.1 340.0L605.3 339.2L606.4 338.1L605.3 337.1Z"/>
<path d="M609.3 336.3L610.3 337.4L611.4 336.3L612.2 337.1L611.1 338.1L612.2 339.2L611.4 340.0L610.3 338.9L609.3 340.0L608.5 339.2L609.6 338.1L608.5 337.1Z"/>
<path d="M612.4 336.0L613.5 337.1L614.6 336.0L615.4 336.8L614.3 337.8L615.4 338.9L614.6 339.7L613.5 338.6L612.4 339.7L611.7 338.9L612.7 337.8L611.7 336.8Z"/>
<path d="M615.6 335.3L616.7 336.3L617.7 335.3L618.5 336.0L617.4 337.1L618.5 338.2L617.7 339.0L616.7 337.9L615.6 339.0L614.8 338.2L615.9 337.1L614.8 336.0Z"/>
<path d="M618.8 338.6L619.8 339.7L620.9 338.6L621.7 339.4L620.6 340.5L621.7 341.5L620.9 342.3L619.8 341.2L618.8 342.3L618.0 341.5L619.0 340.5L618.0 339.4Z"/>
<path d="M621.9 339.6L623.0 340.7L624.1 339.6L624.8 340.4L623.8 341.5L624.8 342.6L624.1 343.3L623.0 342.3L621.9 343.3L621.1 342.6L622.2 341.5L621.1 340.4Z"/>
<path d="M625.1 338.2L626.2 339.3L627.2 338.2L628.0 339.0L626.9 340.0L628.0 341.1L627.2 341.9L626.2 340.8L625.1 341.9L624.3 341.1L625.4 340.0L624.3 339.0Z"/>
<path d="M628.2 338.6L629.3 339.7L630.4 338.6L631.2 339.4L630.1 340.5L631.2 341.5L630.4 342.3L629.3 341.2L628.2 342.3L627.5 341.5L628.5 340.5L627.5 339.4Z"/>
<path d="M631.4 339.2L632.5 340.3L633.5 339.2L634.3 340.0L633.3 341.1L634.3 342.1L633.5 342.9L632.5 341.8L631.4 342.9L630.6 342.1L631.7 341.1L630.6 340.0Z"/>
<path d="M634.6 340.4L635.6 341.4L636.7 340.4L637.5 341.1L636.4 342.2L637.5 343.3L636.7 344.1L635.6 343.0L634.6 344.1L633.8 343.3L634.9 342.2L633.8 341.1Z"/>
<path d="M637.7 341.1L638.8 342.2L639.9 341.1L640.7 341.9L639.6 342.9L640.7 344.0L639.9 344.8L638.8 343.7L637.7 344.8L637.0 344.0L638.0 342.9L637.0 341.9Z"/>
<path d="M640.9 340.4L642.0 341.4L643.0 340.4L643.8 341.1L642.7 342.2L643.8 343.3L643.0 344.1L642.0 343.0L640.9 344.1L640.1 343.3L641.2 342.2L640.1 341.1Z"/>
<path d="M644.1 339.2L645.1 340.3L646.2 339.2L647.0 340.0L645.9 341.1L647.0 342.1L646.2 342.9L645.1 341.8L644.1 342.9L643.3 342.1L644.3 341.1L643.3 340.0Z"/>
<path d="M647.2 340.1L648.3 341.2L649.4 340.1L650.1 340.9L649.1 341.9L650.1 343.0L649.4 343.8L648.3 342.7L647.2 343.8L646.4 343.0L647.5 341.9L646.4 340.9Z"/>
<path d="M650.4 340.7L651.5 341.7L652.5 340.7L653.3 341.4L652.2 342.5L653.3 343.6L652.5 344.4L651.5 343.3L650.4 344.4L649.6 343.6L650.7 342.5L649.6 341.4Z"/>
<path d="M653.5 339.6L654.6 340.7L655.7 339.6L656.5 340.4L655.4 341.5L656.5 342.6L655.7 343.3L654.6 342.3L653.5 343.3L652.8 342.6L653.8 341.5L652.8 340.4Z"/>
<path d="M656.7 339.6L657.8 340.7L658.9 339.6L659.6 340.4L658.6 341.5L659.6 342.6L658.9 343.3L657.8 342.3L656.7 343.3L655.9 342.6L657.0 341.5L655.9 340.4Z"/>
</g>
<rect x="613.1" y="357.00000000000006" width="48.60" height="26.70" rx="1.8" fill="#fff" fill-opacity="0.8" stroke="#dadada" stroke-width="0.8"/>
<line x1="615.7" y1="363.80" x2="633.3000000000001" y2="363.80" stroke="#f5c8b1" stroke-width="1.6"/>
<path d="M624.6 361.4L627.0 363.8L624.6 366.2L622.2 363.8Z" fill="#ad2430" stroke="#fff" stroke-width="0.7" paint-order="stroke"/>
<line x1="615.7" y1="375.80" x2="633.3000000000001" y2="375.80" stroke="#c0daed" stroke-width="1.6"/>
<path d="M623.4 373.7L624.6 374.9L625.8 373.7L626.7 374.6L625.5 375.8L626.7 377.0L625.8 377.9L624.6 376.7L623.4 377.9L622.5 377.0L623.7 375.8L622.5 374.6Z" fill="#336db4" stroke="#fff" stroke-width="0.7" paint-order="stroke"/>
<rect x="485.1" y="398.7" width="180.90" height="53.60" fill="none" stroke="#444444" stroke-width="0.95"/>
<line x1="482.8" y1="409.6" x2="485.1" y2="409.6" stroke="#444444" stroke-width="0.8"/>
<line x1="482.8" y1="432.4" x2="485.1" y2="432.4" stroke="#444444" stroke-width="0.8"/>
<line x1="493.32" y1="452.3" x2="493.32" y2="454.6" stroke="#444444" stroke-width="0.8"/>
<line x1="524.95" y1="452.3" x2="524.95" y2="454.6" stroke="#444444" stroke-width="0.8"/>
<line x1="556.57" y1="452.3" x2="556.57" y2="454.6" stroke="#444444" stroke-width="0.8"/>
<line x1="588.20" y1="452.3" x2="588.20" y2="454.6" stroke="#444444" stroke-width="0.8"/>
<line x1="619.83" y1="452.3" x2="619.83" y2="454.6" stroke="#444444" stroke-width="0.8"/>
<line x1="651.45" y1="452.3" x2="651.45" y2="454.6" stroke="#444444" stroke-width="0.8"/>
<polyline points="493.3,442.0 496.5,433.2 499.6,407.9 502.8,403.1 506.0,404.3 509.1,407.9 512.3,409.4 515.5,408.4 518.6,409.4 521.8,407.9 524.9,410.9 528.1,413.4 531.3,410.1 534.4,409.4 537.6,409.4 540.8,409.8 543.9,410.9 547.1,411.6 550.2,413.4 553.4,412.3 556.6,411.6 559.7,410.9 562.9,410.9 566.1,410.4 569.2,409.8 572.4,410.1 575.6,411.6 578.7,410.9 581.9,409.4 585.0,411.6 588.2,410.1 591.4,410.1 594.5,409.8 597.7,410.1 600.9,410.1 604.0,410.4 607.2,410.4 610.3,410.4 613.5,410.4 616.7,409.8 619.8,410.4 623.0,410.9 626.2,411.3 629.3,411.3 632.5,410.4 635.6,410.1 638.8,410.4 642.0,410.9 645.1,410.4 648.3,410.4 651.5,410.4 654.6,411.6 657.8,410.9" fill="none" stroke="#f5c8b1" stroke-width="1.6" stroke-linejoin="round"/>
<polyline points="493.3,449.3 496.5,446.9 499.6,434.2 502.8,432.0 506.0,426.2 509.1,427.9 512.3,423.3 515.5,425.0 518.6,423.3 521.8,420.6 524.9,418.9 528.1,417.4 531.3,417.1 534.4,415.7 537.6,413.8 540.8,411.6 543.9,412.8 547.1,410.9 550.2,409.4 553.4,407.9 556.6,407.5 559.7,408.4 562.9,407.2 566.1,407.5 569.2,406.1 572.4,406.5 575.6,406.1 578.7,406.5 581.9,404.0 585.0,405.5 588.2,406.1 591.4,405.0 594.5,404.0 597.7,403.1 600.9,402.8 604.0,402.5 607.2,401.4 610.3,401.1 613.5,401.4 616.7,401.1 619.8,400.6 623.0,402.1 626.2,403.1 629.3,403.1 632.5,404.0 635.6,404.3 638.8,405.0 642.0,406.1 645.1,405.5 648.3,405.0 651.5,404.6 654.6,404.0 657.8,403.6" fill="none" stroke="#c0daed" stroke-width="1.6" stroke-linejoin="round"/>
<g fill="#ad2430" stroke="#fff" stroke-width="0.7" paint-order="stroke">
<circle cx="493.3" cy="442.0" r="2.10"/>
<circle cx="496.5" cy="433.2" r="2.10"/>
<circle cx="499.6" cy="407.9" r="2.10"/>
<circle cx="502.8" cy="403.1" r="2.10"/>
<circle cx="506.0" cy="404.3" r="2.10"/>
<circle cx="509.1" cy="407.9" r="2.10"/>
<circle cx="512.3" cy="409.4" r="2.10"/>
<circle cx="515.5" cy="408.4" r="2.10"/>
<circle cx="518.6" cy="409.4" r="2.10"/>
<circle cx="521.8" cy="407.9" r="2.10"/>
<circle cx="524.9" cy="410.9" r="2.10"/>
<circle cx="528.1" cy="413.4" r="1.65"/>
<circle cx="531.3" cy="410.1" r="2.10"/>
<circle cx="534.4" cy="409.4" r="2.10"/>
<circle cx="537.6" cy="409.4" r="1.65"/>
<circle cx="540.8" cy="409.8" r="1.65"/>
<circle cx="543.9" cy="410.9" r="1.65"/>
<circle cx="547.1" cy="411.6" r="1.65"/>
<circle cx="550.2" cy="413.4" r="1.85"/>
<circle cx="553.4" cy="412.3" r="1.65"/>
<circle cx="556.6" cy="411.6" r="1.65"/>
<circle cx="559.7" cy="410.9" r="1.65"/>
<circle cx="562.9" cy="410.9" r="1.65"/>
<circle cx="566.1" cy="410.4" r="1.65"/>
<circle cx="569.2" cy="409.8" r="1.65"/>
<circle cx="572.4" cy="410.1" r="1.65"/>
<circle cx="575.6" cy="411.6" r="1.65"/>
<circle cx="578.7" cy="410.9" r="1.65"/>
<circle cx="581.9" cy="409.4" r="1.65"/>
<circle cx="585.0" cy="411.6" r="1.65"/>
<circle cx="588.2" cy="410.1" r="1.65"/>
<circle cx="591.4" cy="410.1" r="1.65"/>
<circle cx="594.5" cy="409.8" r="1.65"/>
<circle cx="597.7" cy="410.1" r="1.65"/>
<circle cx="600.9" cy="410.1" r="1.65"/>
<circle cx="604.0" cy="410.4" r="1.65"/>
<circle cx="607.2" cy="410.4" r="1.65"/>
<circle cx="610.3" cy="410.4" r="1.65"/>
<circle cx="613.5" cy="410.4" r="1.65"/>
<circle cx="616.7" cy="409.8" r="1.65"/>
<circle cx="619.8" cy="410.4" r="1.65"/>
<circle cx="623.0" cy="410.9" r="1.65"/>
<circle cx="626.2" cy="411.3" r="1.65"/>
<circle cx="629.3" cy="411.3" r="1.65"/>
<circle cx="632.5" cy="410.4" r="1.65"/>
<circle cx="635.6" cy="410.1" r="1.65"/>
<circle cx="638.8" cy="410.4" r="1.65"/>
<circle cx="642.0" cy="410.9" r="1.65"/>
<circle cx="645.1" cy="410.4" r="1.65"/>
<circle cx="648.3" cy="410.4" r="1.65"/>
<circle cx="651.5" cy="410.4" r="1.65"/>
<circle cx="654.6" cy="411.6" r="1.65"/>
<circle cx="657.8" cy="410.9" r="1.65"/>
</g>
<g fill="#336db4" stroke="#fff" stroke-width="0.7" paint-order="stroke">
<path d="M492.3 446.7L494.4 446.7L494.4 448.2L495.9 448.2L495.9 450.3L494.4 450.3L494.4 451.9L492.3 451.9L492.3 450.3L490.7 450.3L490.7 448.2L492.3 448.2Z"/>
<path d="M495.4 444.3L497.5 444.3L497.5 445.9L499.1 445.9L499.1 448.0L497.5 448.0L497.5 449.5L495.4 449.5L495.4 448.0L493.9 448.0L493.9 445.9L495.4 445.9Z"/>
<path d="M498.6 431.6L500.7 431.6L500.7 433.2L502.2 433.2L502.2 435.3L500.7 435.3L500.7 436.8L498.6 436.8L498.6 435.3L497.0 435.3L497.0 433.2L498.6 433.2Z"/>
<path d="M501.8 429.4L503.9 429.4L503.9 431.0L505.4 431.0L505.4 433.1L503.9 433.1L503.9 434.6L501.8 434.6L501.8 433.1L500.2 433.1L500.2 431.0L501.8 431.0Z"/>
<path d="M504.9 423.6L507.0 423.6L507.0 425.2L508.6 425.2L508.6 427.2L507.0 427.2L507.0 428.8L504.9 428.8L504.9 427.2L503.4 427.2L503.4 425.2L504.9 425.2Z"/>
<path d="M508.1 425.3L510.2 425.3L510.2 426.9L511.7 426.9L511.7 429.0L510.2 429.0L510.2 430.5L508.1 430.5L508.1 429.0L506.5 429.0L506.5 426.9L508.1 426.9Z"/>
<path d="M511.3 420.7L513.3 420.7L513.3 422.2L514.9 422.2L514.9 424.3L513.3 424.3L513.3 425.9L511.3 425.9L511.3 424.3L509.7 424.3L509.7 422.2L511.3 422.2Z"/>
<path d="M514.4 422.4L516.5 422.4L516.5 424.0L518.1 424.0L518.1 426.1L516.5 426.1L516.5 427.6L514.4 427.6L514.4 426.1L512.9 426.1L512.9 424.0L514.4 424.0Z"/>
<path d="M517.6 420.7L519.7 420.7L519.7 422.2L521.2 422.2L521.2 424.3L519.7 424.3L519.7 425.9L517.6 425.9L517.6 424.3L516.0 424.3L516.0 422.2L517.6 422.2Z"/>
<path d="M520.7 418.0L522.8 418.0L522.8 419.6L524.4 419.6L524.4 421.7L522.8 421.7L522.8 423.2L520.7 423.2L520.7 421.7L519.2 421.7L519.2 419.6L520.7 419.6Z"/>
<path d="M523.9 416.3L526.0 416.3L526.0 417.9L527.5 417.9L527.5 419.9L526.0 419.9L526.0 421.5L523.9 421.5L523.9 419.9L522.3 419.9L522.3 417.9L523.9 417.9Z"/>
<path d="M527.1 414.8L529.2 414.8L529.2 416.4L530.7 416.4L530.7 418.5L529.2 418.5L529.2 420.0L527.1 420.0L527.1 418.5L525.5 418.5L525.5 416.4L527.1 416.4Z"/>
<path d="M530.2 414.5L532.3 414.5L532.3 416.1L533.9 416.1L533.9 418.2L532.3 418.2L532.3 419.7L530.2 419.7L530.2 418.2L528.7 418.2L528.7 416.1L530.2 416.1Z"/>
<path d="M533.4 413.1L535.5 413.1L535.5 414.6L537.0 414.6L537.0 416.7L535.5 416.7L535.5 418.3L533.4 418.3L533.4 416.7L531.8 416.7L531.8 414.6L533.4 414.6Z"/>
<path d="M536.6 411.2L538.6 411.2L538.6 412.7L540.2 412.7L540.2 414.8L538.6 414.8L538.6 416.4L536.6 416.4L536.6 414.8L535.0 414.8L535.0 412.7L536.6 412.7Z"/>
<path d="M539.7 409.0L541.8 409.0L541.8 410.6L543.4 410.6L543.4 412.6L541.8 412.6L541.8 414.2L539.7 414.2L539.7 412.6L538.2 412.6L538.2 410.6L539.7 410.6Z"/>
<path d="M542.9 410.2L545.0 410.2L545.0 411.7L546.5 411.7L546.5 413.8L545.0 413.8L545.0 415.4L542.9 415.4L542.9 413.8L541.3 413.8L541.3 411.7L542.9 411.7Z"/>
<path d="M546.2 408.7L547.9 408.7L547.9 410.0L549.2 410.0L549.2 411.7L547.9 411.7L547.9 413.0L546.2 413.0L546.2 411.7L544.9 411.7L544.9 410.0L546.2 410.0Z"/>
<path d="M549.4 407.3L551.1 407.3L551.1 408.5L552.4 408.5L552.4 410.3L551.1 410.3L551.1 411.6L549.4 411.6L549.4 410.3L548.1 410.3L548.1 408.5L549.4 408.5Z"/>
<path d="M552.6 405.8L554.3 405.8L554.3 407.1L555.6 407.1L555.6 408.8L554.3 408.8L554.3 410.1L552.6 410.1L552.6 408.8L551.3 408.8L551.3 407.1L552.6 407.1Z"/>
<path d="M555.7 405.4L557.4 405.4L557.4 406.7L558.7 406.7L558.7 408.4L557.4 408.4L557.4 409.7L555.7 409.7L555.7 408.4L554.4 408.4L554.4 406.7L555.7 406.7Z"/>
<path d="M558.9 406.2L560.6 406.2L560.6 407.5L561.9 407.5L561.9 409.2L560.6 409.2L560.6 410.5L558.9 410.5L558.9 409.2L557.6 409.2L557.6 407.5L558.9 407.5Z"/>
<path d="M562.0 405.1L563.8 405.1L563.8 406.4L565.0 406.4L565.0 408.1L563.8 408.1L563.8 409.4L562.0 409.4L562.0 408.1L560.7 408.1L560.7 406.4L562.0 406.4Z"/>
<path d="M565.2 405.4L566.9 405.4L566.9 406.7L568.2 406.7L568.2 408.4L566.9 408.4L566.9 409.7L565.2 409.7L565.2 408.4L563.9 408.4L563.9 406.7L565.2 406.7Z"/>
<path d="M568.4 403.9L570.1 403.9L570.1 405.2L571.4 405.2L571.4 406.9L570.1 406.9L570.1 408.2L568.4 408.2L568.4 406.9L567.1 406.9L567.1 405.2L568.4 405.2Z"/>
<path d="M571.5 404.3L573.2 404.3L573.2 405.6L574.5 405.6L574.5 407.3L573.2 407.3L573.2 408.6L571.5 408.6L571.5 407.3L570.2 407.3L570.2 405.6L571.5 405.6Z"/>
<path d="M574.7 403.9L576.4 403.9L576.4 405.2L577.7 405.2L577.7 406.9L576.4 406.9L576.4 408.2L574.7 408.2L574.7 406.9L573.4 406.9L573.4 405.2L574.7 405.2Z"/>
<path d="M577.9 404.3L579.6 404.3L579.6 405.6L580.9 405.6L580.9 407.3L579.6 407.3L579.6 408.6L577.9 408.6L577.9 407.3L576.6 407.3L576.6 405.6L577.9 405.6Z"/>
<path d="M581.0 401.9L582.7 401.9L582.7 403.1L584.0 403.1L584.0 404.9L582.7 404.9L582.7 406.2L581.0 406.2L581.0 404.9L579.7 404.9L579.7 403.1L581.0 403.1Z"/>
<path d="M584.2 403.3L585.9 403.3L585.9 404.6L587.2 404.6L587.2 406.3L585.9 406.3L585.9 407.6L584.2 407.6L584.2 406.3L582.9 406.3L582.9 404.6L584.2 404.6Z"/>
<path d="M587.3 403.9L589.1 403.9L589.1 405.2L590.4 405.2L590.4 406.9L589.1 406.9L589.1 408.2L587.3 408.2L587.3 406.9L586.1 406.9L586.1 405.2L587.3 405.2Z"/>
<path d="M590.5 402.9L592.2 402.9L592.2 404.2L593.5 404.2L593.5 405.9L592.2 405.9L592.2 407.2L590.5 407.2L590.5 405.9L589.2 405.9L589.2 404.2L590.5 404.2Z"/>
<path d="M593.7 401.9L595.4 401.9L595.4 403.1L596.7 403.1L596.7 404.9L595.4 404.9L595.4 406.2L593.7 406.2L593.7 404.9L592.4 404.9L592.4 403.1L593.7 403.1Z"/>
<path d="M596.8 401.0L598.5 401.0L598.5 402.3L599.8 402.3L599.8 404.0L598.5 404.0L598.5 405.3L596.8 405.3L596.8 404.0L595.5 404.0L595.5 402.3L596.8 402.3Z"/>
<path d="M600.0 400.7L601.7 400.7L601.7 402.0L603.0 402.0L603.0 403.7L601.7 403.7L601.7 405.0L600.0 405.0L600.0 403.7L598.7 403.7L598.7 402.0L600.0 402.0Z"/>
<path d="M603.2 400.4L604.9 400.4L604.9 401.7L606.2 401.7L606.2 403.4L604.9 403.4L604.9 404.7L603.2 404.7L603.2 403.4L601.9 403.4L601.9 401.7L603.2 401.7Z"/>
<path d="M606.3 399.2L608.0 399.2L608.0 400.5L609.3 400.5L609.3 402.2L608.0 402.2L608.0 403.5L606.3 403.5L606.3 402.2L605.0 402.2L605.0 400.5L606.3 400.5Z"/>
<path d="M609.5 398.9L611.2 398.9L611.2 400.2L612.5 400.2L612.5 401.9L611.2 401.9L611.2 403.2L609.5 403.2L609.5 401.9L608.2 401.9L608.2 400.2L609.5 400.2Z"/>
<path d="M612.6 399.2L614.4 399.2L614.4 400.5L615.7 400.5L615.7 402.2L614.4 402.2L614.4 403.5L612.6 403.5L612.6 402.2L611.4 402.2L611.4 400.5L612.6 400.5Z"/>
<path d="M615.8 398.9L617.5 398.9L617.5 400.2L618.8 400.2L618.8 401.9L617.5 401.9L617.5 403.2L615.8 403.2L615.8 401.9L614.5 401.9L614.5 400.2L615.8 400.2Z"/>
<path d="M619.0 398.5L620.7 398.5L620.7 399.8L622.0 399.8L622.0 401.5L620.7 401.5L620.7 402.8L619.0 402.8L619.0 401.5L617.7 401.5L617.7 399.8L619.0 399.8Z"/>
<path d="M622.1 400.0L623.8 400.0L623.8 401.2L625.1 401.2L625.1 403.0L623.8 403.0L623.8 404.3L622.1 404.3L622.1 403.0L620.8 403.0L620.8 401.2L622.1 401.2Z"/>
<path d="M625.3 401.0L627.0 401.0L627.0 402.3L628.3 402.3L628.3 404.0L627.0 404.0L627.0 405.3L625.3 405.3L625.3 404.0L624.0 404.0L624.0 402.3L625.3 402.3Z"/>
<path d="M628.5 401.0L630.2 401.0L630.2 402.3L631.5 402.3L631.5 404.0L630.2 404.0L630.2 405.3L628.5 405.3L628.5 404.0L627.2 404.0L627.2 402.3L628.5 402.3Z"/>
<path d="M631.6 401.9L633.3 401.9L633.3 403.1L634.6 403.1L634.6 404.9L633.3 404.9L633.3 406.2L631.6 406.2L631.6 404.9L630.3 404.9L630.3 403.1L631.6 403.1Z"/>
<path d="M634.8 402.1L636.5 402.1L636.5 403.4L637.8 403.4L637.8 405.2L636.5 405.2L636.5 406.4L634.8 406.4L634.8 405.2L633.5 405.2L633.5 403.4L634.8 403.4Z"/>
<path d="M637.9 402.9L639.7 402.9L639.7 404.2L641.0 404.2L641.0 405.9L639.7 405.9L639.7 407.2L637.9 407.2L637.9 405.9L636.7 405.9L636.7 404.2L637.9 404.2Z"/>
<path d="M641.1 403.9L642.8 403.9L642.8 405.2L644.1 405.2L644.1 406.9L642.8 406.9L642.8 408.2L641.1 408.2L641.1 406.9L639.8 406.9L639.8 405.2L641.1 405.2Z"/>
<path d="M644.3 403.3L646.0 403.3L646.0 404.6L647.3 404.6L647.3 406.3L646.0 406.3L646.0 407.6L644.3 407.6L644.3 406.3L643.0 406.3L643.0 404.6L644.3 404.6Z"/>
<path d="M647.4 402.9L649.1 402.9L649.1 404.2L650.4 404.2L650.4 405.9L649.1 405.9L649.1 407.2L647.4 407.2L647.4 405.9L646.1 405.9L646.1 404.2L647.4 404.2Z"/>
<path d="M650.6 402.4L652.3 402.4L652.3 403.7L653.6 403.7L653.6 405.5L652.3 405.5L652.3 406.7L650.6 406.7L650.6 405.5L649.3 405.5L649.3 403.7L650.6 403.7Z"/>
<path d="M653.8 401.9L655.5 401.9L655.5 403.1L656.8 403.1L656.8 404.9L655.5 404.9L655.5 406.2L653.8 406.2L653.8 404.9L652.5 404.9L652.5 403.1L653.8 403.1Z"/>
<path d="M656.9 401.4L658.6 401.4L658.6 402.7L659.9 402.7L659.9 404.4L658.6 404.4L658.6 405.7L656.9 405.7L656.9 404.4L655.6 404.4L655.6 402.7L656.9 402.7Z"/>
</g>
<rect x="613.1" y="421.20000000000005" width="48.60" height="26.70" rx="1.8" fill="#fff" fill-opacity="0.8" stroke="#dadada" stroke-width="0.8"/>
<line x1="615.7" y1="428.00" x2="633.3000000000001" y2="428.00" stroke="#f5c8b1" stroke-width="1.6"/>
<circle cx="624.60" cy="428.00" r="2.05" fill="#ad2430" stroke="#fff" stroke-width="0.7" paint-order="stroke"/>
<line x1="615.7" y1="440.00" x2="633.3000000000001" y2="440.00" stroke="#c0daed" stroke-width="1.6"/>
<path d="M623.5 437.3L625.7 437.3L625.7 438.9L627.3 438.9L627.3 441.1L625.7 441.1L625.7 442.7L623.5 442.7L623.5 441.1L621.9 441.1L621.9 438.9L623.5 438.9Z" fill="#336db4" stroke="#fff" stroke-width="0.7" paint-order="stroke"/></g><g filter="url(#tb)"><text transform="translate(35.20 43.19) scale(0.93 1)" font-size="10.0" text-anchor="end" font-weight="normal" fill="#262626" stroke="#262626" stroke-width="0.22">0.9</text>
<text transform="translate(35.20 72.09) scale(0.93 1)" font-size="10.0" text-anchor="end" font-weight="normal" fill="#262626" stroke="#262626" stroke-width="0.22">0.8</text>
<text transform="translate(18.87 46.60) rotate(-90) scale(0.87 1)" font-size="10.2" text-anchor="middle" font-weight="normal" fill="#262626" stroke="#262626" stroke-width="0.22">Accuracy</text>
<text transform="translate(195.00 51.29) scale(0.87 1)" font-size="10.0" text-anchor="start" font-weight="normal" fill="#262626" stroke="#262626" stroke-width="0.22">Train</text>
<text transform="translate(195.00 63.29) scale(0.87 1)" font-size="10.0" text-anchor="start" font-weight="normal" fill="#262626" stroke="#262626" stroke-width="0.22">Test</text>
<text transform="translate(35.20 87.39) scale(0.93 1)" font-size="10.0" text-anchor="end" font-weight="normal" fill="#262626" stroke="#262626" stroke-width="0.22">1.00</text>
<text transform="translate(35.20 108.19) scale(0.93 1)" font-size="10.0" text-anchor="end" font-weight="normal" fill="#262626" stroke="#262626" stroke-width="0.22">0.95</text>
<text transform="translate(35.20 129.19) scale(0.93 1)" font-size="10.0" text-anchor="end" font-weight="normal" fill="#262626" stroke="#262626" stroke-width="0.22">0.90</text>
<text transform="translate(47.77 148.19) scale(0.93 1)" font-size="10.0" text-anchor="middle" font-weight="normal" fill="#262626" stroke="#262626" stroke-width="0.22">0</text>
<text transform="translate(76.44 148.19) scale(0.93 1)" font-size="10.0" text-anchor="middle" font-weight="normal" fill="#262626" stroke="#262626" stroke-width="0.22">10</text>
<text transform="translate(105.12 148.19) scale(0.93 1)" font-size="10.0" text-anchor="middle" font-weight="normal" fill="#262626" stroke="#262626" stroke-width="0.22">20</text>
<text transform="translate(133.79 148.19) scale(0.93 1)" font-size="10.0" text-anchor="middle" font-weight="normal" fill="#262626" stroke="#262626" stroke-width="0.22">30</text>
<text transform="translate(162.47 148.19) scale(0.93 1)" font-size="10.0" text-anchor="middle" font-weight="normal" fill="#262626" stroke="#262626" stroke-width="0.22">40</text>
<text transform="translate(191.14 148.19) scale(0.93 1)" font-size="10.0" text-anchor="middle" font-weight="normal" fill="#262626" stroke="#262626" stroke-width="0.22">50</text>
<text transform="translate(219.82 148.19) scale(0.93 1)" font-size="10.0" text-anchor="middle" font-weight="normal" fill="#262626" stroke="#262626" stroke-width="0.22">60</text>
<text transform="translate(13.70 110.80) rotate(-90) scale(0.78 1)" font-size="10.2" text-anchor="middle" font-weight="normal" fill="#262626" stroke="#262626" stroke-width="0.22">AUC</text>
<text transform="translate(195.00 116.19) scale(0.87 1)" font-size="10.0" text-anchor="start" font-weight="normal" fill="#262626" stroke="#262626" stroke-width="0.22">Train</text>
<text transform="translate(195.00 128.19) scale(0.87 1)" font-size="10.0" text-anchor="start" font-weight="normal" fill="#262626" stroke="#262626" stroke-width="0.22">Test</text>
<text transform="translate(260.25 30.79) scale(0.93 1)" font-size="10.0" text-anchor="end" font-weight="normal" fill="#262626" stroke="#262626" stroke-width="0.22">0.95</text>
<text transform="translate(260.25 46.39) scale(0.93 1)" font-size="10.0" text-anchor="end" font-weight="normal" fill="#262626" stroke="#262626" stroke-width="0.22">0.90</text>
<text transform="translate(260.25 63.19) scale(0.93 1)" font-size="10.0" text-anchor="end" font-weight="normal" fill="#262626" stroke="#262626" stroke-width="0.22">0.85</text>
<text transform="translate(237.55 46.60) rotate(-90) scale(0.87 1)" font-size="10.2" text-anchor="middle" font-weight="normal" fill="#262626" stroke="#262626" stroke-width="0.22">Accuracy</text>
<text transform="translate(419.65 51.29) scale(0.87 1)" font-size="10.0" text-anchor="start" font-weight="normal" fill="#262626" stroke="#262626" stroke-width="0.22">Train</text>
<text transform="translate(419.65 63.29) scale(0.87 1)" font-size="10.0" text-anchor="start" font-weight="normal" fill="#262626" stroke="#262626" stroke-width="0.22">Test</text>
<text transform="translate(260.25 87.79) scale(0.93 1)" font-size="10.0" text-anchor="end" font-weight="normal" fill="#262626" stroke="#262626" stroke-width="0.22">1.00</text>
<text transform="translate(260.25 107.19) scale(0.93 1)" font-size="10.0" text-anchor="end" font-weight="normal" fill="#262626" stroke="#262626" stroke-width="0.22">0.95</text>
<text transform="translate(260.25 126.79) scale(0.93 1)" font-size="10.0" text-anchor="end" font-weight="normal" fill="#262626" stroke="#262626" stroke-width="0.22">0.90</text>
<text transform="translate(272.80 148.19) scale(0.93 1)" font-size="10.0" text-anchor="middle" font-weight="normal" fill="#262626" stroke="#262626" stroke-width="0.22">0</text>
<text transform="translate(301.41 148.19) scale(0.93 1)" font-size="10.0" text-anchor="middle" font-weight="normal" fill="#262626" stroke="#262626" stroke-width="0.22">10</text>
<text transform="translate(330.02 148.19) scale(0.93 1)" font-size="10.0" text-anchor="middle" font-weight="normal" fill="#262626" stroke="#262626" stroke-width="0.22">20</text>
<text transform="translate(358.64 148.19) scale(0.93 1)" font-size="10.0" text-anchor="middle" font-weight="normal" fill="#262626" stroke="#262626" stroke-width="0.22">30</text>
<text transform="translate(387.25 148.19) scale(0.93 1)" font-size="10.0" text-anchor="middle" font-weight="normal" fill="#262626" stroke="#262626" stroke-width="0.22">40</text>
<text transform="translate(415.86 148.19) scale(0.93 1)" font-size="10.0" text-anchor="middle" font-weight="normal" fill="#262626" stroke="#262626" stroke-width="0.22">50</text>
<text transform="translate(444.47 148.19) scale(0.93 1)" font-size="10.0" text-anchor="middle" font-weight="normal" fill="#262626" stroke="#262626" stroke-width="0.22">60</text>
<text transform="translate(237.55 110.80) rotate(-90) scale(0.78 1)" font-size="10.2" text-anchor="middle" font-weight="normal" fill="#262626" stroke="#262626" stroke-width="0.22">AUC</text>
<text transform="translate(419.65 116.19) scale(0.87 1)" font-size="10.0" text-anchor="start" font-weight="normal" fill="#262626" stroke="#262626" stroke-width="0.22">Train</text>
<text transform="translate(419.65 128.19) scale(0.87 1)" font-size="10.0" text-anchor="start" font-weight="normal" fill="#262626" stroke="#262626" stroke-width="0.22">Test</text>
<text transform="translate(480.30 24.39) scale(0.93 1)" font-size="10.0" text-anchor="end" font-weight="normal" fill="#262626" stroke="#262626" stroke-width="0.22">0.9</text>
<text transform="translate(480.30 46.79) scale(0.93 1)" font-size="10.0" text-anchor="end" font-weight="normal" fill="#262626" stroke="#262626" stroke-width="0.22">0.8</text>
<text transform="translate(480.30 68.79) scale(0.93 1)" font-size="10.0" text-anchor="end" font-weight="normal" fill="#262626" stroke="#262626" stroke-width="0.22">0.7</text>
<text transform="translate(463.97 46.60) rotate(-90) scale(0.87 1)" font-size="10.2" text-anchor="middle" font-weight="normal" fill="#262626" stroke="#262626" stroke-width="0.22">Accuracy</text>
<text transform="translate(640.10 51.29) scale(0.87 1)" font-size="10.0" text-anchor="start" font-weight="normal" fill="#262626" stroke="#262626" stroke-width="0.22">Train</text>
<text transform="translate(640.10 63.29) scale(0.87 1)" font-size="10.0" text-anchor="start" font-weight="normal" fill="#262626" stroke="#262626" stroke-width="0.22">Test</text>
<text transform="translate(480.30 104.19) scale(0.93 1)" font-size="10.0" text-anchor="end" font-weight="normal" fill="#262626" stroke="#262626" stroke-width="0.22">0.9</text>
<text transform="translate(480.30 126.79) scale(0.93 1)" font-size="10.0" text-anchor="end" font-weight="normal" fill="#262626" stroke="#262626" stroke-width="0.22">0.8</text>
<text transform="translate(492.87 148.19) scale(0.93 1)" font-size="10.0" text-anchor="middle" font-weight="normal" fill="#262626" stroke="#262626" stroke-width="0.22">0</text>
<text transform="translate(521.54 148.19) scale(0.93 1)" font-size="10.0" text-anchor="middle" font-weight="normal" fill="#262626" stroke="#262626" stroke-width="0.22">10</text>
<text transform="translate(550.22 148.19) scale(0.93 1)" font-size="10.0" text-anchor="middle" font-weight="normal" fill="#262626" stroke="#262626" stroke-width="0.22">20</text>
<text transform="translate(578.89 148.19) scale(0.93 1)" font-size="10.0" text-anchor="middle" font-weight="normal" fill="#262626" stroke="#262626" stroke-width="0.22">30</text>
<text transform="translate(607.57 148.19) scale(0.93 1)" font-size="10.0" text-anchor="middle" font-weight="normal" fill="#262626" stroke="#262626" stroke-width="0.22">40</text>
<text transform="translate(636.24 148.19) scale(0.93 1)" font-size="10.0" text-anchor="middle" font-weight="normal" fill="#262626" stroke="#262626" stroke-width="0.22">50</text>
<text transform="translate(664.92 148.19) scale(0.93 1)" font-size="10.0" text-anchor="middle" font-weight="normal" fill="#262626" stroke="#262626" stroke-width="0.22">60</text>
<text transform="translate(463.97 110.80) rotate(-90) scale(0.78 1)" font-size="10.2" text-anchor="middle" font-weight="normal" fill="#262626" stroke="#262626" stroke-width="0.22">AUC</text>
<text transform="translate(640.10 116.19) scale(0.87 1)" font-size="10.0" text-anchor="start" font-weight="normal" fill="#262626" stroke="#262626" stroke-width="0.22">Train</text>
<text transform="translate(640.10 128.19) scale(0.87 1)" font-size="10.0" text-anchor="start" font-weight="normal" fill="#262626" stroke="#262626" stroke-width="0.22">Test</text>
<text transform="translate(39.70 185.39) scale(0.93 1)" font-size="10.0" text-anchor="end" font-weight="normal" fill="#262626" stroke="#262626" stroke-width="0.22">0.95</text>
<text transform="translate(39.70 204.79) scale(0.93 1)" font-size="10.0" text-anchor="end" font-weight="normal" fill="#262626" stroke="#262626" stroke-width="0.22">0.90</text>
<text transform="translate(39.70 225.19) scale(0.93 1)" font-size="10.0" text-anchor="end" font-weight="normal" fill="#262626" stroke="#262626" stroke-width="0.22">0.85</text>
<text transform="translate(18.20 204.60) rotate(-90) scale(0.87 1)" font-size="10.2" text-anchor="middle" font-weight="normal" fill="#262626" stroke="#262626" stroke-width="0.22">Accuracy</text>
<text transform="translate(198.60 209.29) scale(0.87 1)" font-size="10.0" text-anchor="start" font-weight="normal" fill="#262626" stroke="#262626" stroke-width="0.22">Train</text>
<text transform="translate(198.60 221.29) scale(0.87 1)" font-size="10.0" text-anchor="start" font-weight="normal" fill="#262626" stroke="#262626" stroke-width="0.22">Test</text>
<text transform="translate(39.70 269.79) scale(0.93 1)" font-size="10.0" text-anchor="end" font-weight="normal" fill="#262626" stroke="#262626" stroke-width="0.22">0.95</text>
<text transform="translate(39.70 295.39) scale(0.93 1)" font-size="10.0" text-anchor="end" font-weight="normal" fill="#262626" stroke="#262626" stroke-width="0.22">0.90</text>
<text transform="translate(52.17 305.39) scale(0.93 1)" font-size="10.0" text-anchor="middle" font-weight="normal" fill="#262626" stroke="#262626" stroke-width="0.22">0</text>
<text transform="translate(81.01 305.39) scale(0.93 1)" font-size="10.0" text-anchor="middle" font-weight="normal" fill="#262626" stroke="#262626" stroke-width="0.22">10</text>
<text transform="translate(109.86 305.39) scale(0.93 1)" font-size="10.0" text-anchor="middle" font-weight="normal" fill="#262626" stroke="#262626" stroke-width="0.22">20</text>
<text transform="translate(138.70 305.39) scale(0.93 1)" font-size="10.0" text-anchor="middle" font-weight="normal" fill="#262626" stroke="#262626" stroke-width="0.22">30</text>
<text transform="translate(167.55 305.39) scale(0.93 1)" font-size="10.0" text-anchor="middle" font-weight="normal" fill="#262626" stroke="#262626" stroke-width="0.22">40</text>
<text transform="translate(196.39 305.39) scale(0.93 1)" font-size="10.0" text-anchor="middle" font-weight="normal" fill="#262626" stroke="#262626" stroke-width="0.22">50</text>
<text transform="translate(18.20 268.45) rotate(-90) scale(0.78 1)" font-size="10.2" text-anchor="middle" font-weight="normal" fill="#262626" stroke="#262626" stroke-width="0.22">AUC</text>
<text transform="translate(198.60 273.39) scale(0.87 1)" font-size="10.0" text-anchor="start" font-weight="normal" fill="#262626" stroke="#262626" stroke-width="0.22">Train</text>
<text transform="translate(198.60 285.39) scale(0.87 1)" font-size="10.0" text-anchor="start" font-weight="normal" fill="#262626" stroke="#262626" stroke-width="0.22">Test</text>
<text transform="translate(265.35 187.19) scale(0.93 1)" font-size="10.0" text-anchor="end" font-weight="normal" fill="#262626" stroke="#262626" stroke-width="0.22">0.95</text>
<text transform="translate(265.35 215.39) scale(0.93 1)" font-size="10.0" text-anchor="end" font-weight="normal" fill="#262626" stroke="#262626" stroke-width="0.22">0.90</text>
<text transform="translate(243.85 204.60) rotate(-90) scale(0.87 1)" font-size="10.2" text-anchor="middle" font-weight="normal" fill="#262626" stroke="#262626" stroke-width="0.22">Accuracy</text>
<text transform="translate(424.60 209.29) scale(0.87 1)" font-size="10.0" text-anchor="start" font-weight="normal" fill="#262626" stroke="#262626" stroke-width="0.22">Train</text>
<text transform="translate(424.60 221.29) scale(0.87 1)" font-size="10.0" text-anchor="start" font-weight="normal" fill="#262626" stroke="#262626" stroke-width="0.22">Test</text>
<text transform="translate(265.35 258.39) scale(0.93 1)" font-size="10.0" text-anchor="end" font-weight="normal" fill="#262626" stroke="#262626" stroke-width="0.22">0.975</text>
<text transform="translate(265.35 275.19) scale(0.93 1)" font-size="10.0" text-anchor="end" font-weight="normal" fill="#262626" stroke="#262626" stroke-width="0.22">0.950</text>
<text transform="translate(265.35 291.79) scale(0.93 1)" font-size="10.0" text-anchor="end" font-weight="normal" fill="#262626" stroke="#262626" stroke-width="0.22">0.925</text>
<text transform="translate(277.84 305.39) scale(0.93 1)" font-size="10.0" text-anchor="middle" font-weight="normal" fill="#262626" stroke="#262626" stroke-width="0.22">0</text>
<text transform="translate(306.74 305.39) scale(0.93 1)" font-size="10.0" text-anchor="middle" font-weight="normal" fill="#262626" stroke="#262626" stroke-width="0.22">10</text>
<text transform="translate(335.64 305.39) scale(0.93 1)" font-size="10.0" text-anchor="middle" font-weight="normal" fill="#262626" stroke="#262626" stroke-width="0.22">20</text>
<text transform="translate(364.53 305.39) scale(0.93 1)" font-size="10.0" text-anchor="middle" font-weight="normal" fill="#262626" stroke="#262626" stroke-width="0.22">30</text>
<text transform="translate(393.43 305.39) scale(0.93 1)" font-size="10.0" text-anchor="middle" font-weight="normal" fill="#262626" stroke="#262626" stroke-width="0.22">40</text>
<text transform="translate(422.33 305.39) scale(0.93 1)" font-size="10.0" text-anchor="middle" font-weight="normal" fill="#262626" stroke="#262626" stroke-width="0.22">50</text>
<text transform="translate(237.18 268.30) rotate(-90) scale(0.78 1)" font-size="10.2" text-anchor="middle" font-weight="normal" fill="#262626" stroke="#262626" stroke-width="0.22">AUC</text>
<text transform="translate(424.60 273.39) scale(0.87 1)" font-size="10.0" text-anchor="start" font-weight="normal" fill="#262626" stroke="#262626" stroke-width="0.22">Train</text>
<text transform="translate(424.60 285.39) scale(0.87 1)" font-size="10.0" text-anchor="start" font-weight="normal" fill="#262626" stroke="#262626" stroke-width="0.22">Test</text>
<text transform="translate(480.75 204.39) scale(0.93 1)" font-size="10.0" text-anchor="end" font-weight="normal" fill="#262626" stroke="#262626" stroke-width="0.22">0.8</text>
<text transform="translate(480.75 228.19) scale(0.93 1)" font-size="10.0" text-anchor="end" font-weight="normal" fill="#262626" stroke="#262626" stroke-width="0.22">0.7</text>
<text transform="translate(464.42 207.10) rotate(-90) scale(0.87 1)" font-size="10.2" text-anchor="middle" font-weight="normal" fill="#262626" stroke="#262626" stroke-width="0.22">Accuracy</text>
<text transform="translate(639.80 211.39) scale(0.87 1)" font-size="10.0" text-anchor="start" font-weight="normal" fill="#262626" stroke="#262626" stroke-width="0.22">Train</text>
<text transform="translate(639.80 223.39) scale(0.87 1)" font-size="10.0" text-anchor="start" font-weight="normal" fill="#262626" stroke="#262626" stroke-width="0.22">Test</text>
<text transform="translate(480.75 260.39) scale(0.93 1)" font-size="10.0" text-anchor="end" font-weight="normal" fill="#262626" stroke="#262626" stroke-width="0.22">0.9</text>
<text transform="translate(480.75 282.39) scale(0.93 1)" font-size="10.0" text-anchor="end" font-weight="normal" fill="#262626" stroke="#262626" stroke-width="0.22">0.8</text>
<text transform="translate(493.23 307.59) scale(0.93 1)" font-size="10.0" text-anchor="middle" font-weight="normal" fill="#262626" stroke="#262626" stroke-width="0.22">0</text>
<text transform="translate(522.09 307.59) scale(0.93 1)" font-size="10.0" text-anchor="middle" font-weight="normal" fill="#262626" stroke="#262626" stroke-width="0.22">10</text>
<text transform="translate(550.96 307.59) scale(0.93 1)" font-size="10.0" text-anchor="middle" font-weight="normal" fill="#262626" stroke="#262626" stroke-width="0.22">20</text>
<text transform="translate(579.83 307.59) scale(0.93 1)" font-size="10.0" text-anchor="middle" font-weight="normal" fill="#262626" stroke="#262626" stroke-width="0.22">30</text>
<text transform="translate(608.70 307.59) scale(0.93 1)" font-size="10.0" text-anchor="middle" font-weight="normal" fill="#262626" stroke="#262626" stroke-width="0.22">40</text>
<text transform="translate(637.57 307.59) scale(0.93 1)" font-size="10.0" text-anchor="middle" font-weight="normal" fill="#262626" stroke="#262626" stroke-width="0.22">50</text>
<text transform="translate(464.42 270.65) rotate(-90) scale(0.78 1)" font-size="10.2" text-anchor="middle" font-weight="normal" fill="#262626" stroke="#262626" stroke-width="0.22">AUC</text>
<text transform="translate(639.80 275.59) scale(0.87 1)" font-size="10.0" text-anchor="start" font-weight="normal" fill="#262626" stroke="#262626" stroke-width="0.22">Train</text>
<text transform="translate(639.80 287.59) scale(0.87 1)" font-size="10.0" text-anchor="start" font-weight="normal" fill="#262626" stroke="#262626" stroke-width="0.22">Test</text>
<text transform="translate(39.20 340.79) scale(0.93 1)" font-size="10.0" text-anchor="end" font-weight="normal" fill="#262626" stroke="#262626" stroke-width="0.22">0.95</text>
<text transform="translate(39.20 376.19) scale(0.93 1)" font-size="10.0" text-anchor="end" font-weight="normal" fill="#262626" stroke="#262626" stroke-width="0.22">0.90</text>
<text transform="translate(17.70 362.45) rotate(-90) scale(0.87 1)" font-size="10.2" text-anchor="middle" font-weight="normal" fill="#262626" stroke="#262626" stroke-width="0.22">Accuracy</text>
<text transform="translate(198.30 367.09) scale(0.87 1)" font-size="10.0" text-anchor="start" font-weight="normal" fill="#262626" stroke="#262626" stroke-width="0.22">Train</text>
<text transform="translate(198.30 379.09) scale(0.87 1)" font-size="10.0" text-anchor="start" font-weight="normal" fill="#262626" stroke="#262626" stroke-width="0.22">Test</text>
<text transform="translate(39.20 415.19) scale(0.93 1)" font-size="10.0" text-anchor="end" font-weight="normal" fill="#262626" stroke="#262626" stroke-width="0.22">0.975</text>
<text transform="translate(39.20 435.19) scale(0.93 1)" font-size="10.0" text-anchor="end" font-weight="normal" fill="#262626" stroke="#262626" stroke-width="0.22">0.950</text>
<text transform="translate(39.20 453.79) scale(0.93 1)" font-size="10.0" text-anchor="end" font-weight="normal" fill="#262626" stroke="#262626" stroke-width="0.22">0.925</text>
<text transform="translate(51.68 463.29) scale(0.93 1)" font-size="10.0" text-anchor="middle" font-weight="normal" fill="#262626" stroke="#262626" stroke-width="0.22">0</text>
<text transform="translate(83.33 463.29) scale(0.93 1)" font-size="10.0" text-anchor="middle" font-weight="normal" fill="#262626" stroke="#262626" stroke-width="0.22">10</text>
<text transform="translate(114.98 463.29) scale(0.93 1)" font-size="10.0" text-anchor="middle" font-weight="normal" fill="#262626" stroke="#262626" stroke-width="0.22">20</text>
<text transform="translate(146.64 463.29) scale(0.93 1)" font-size="10.0" text-anchor="middle" font-weight="normal" fill="#262626" stroke="#262626" stroke-width="0.22">30</text>
<text transform="translate(178.29 463.29) scale(0.93 1)" font-size="10.0" text-anchor="middle" font-weight="normal" fill="#262626" stroke="#262626" stroke-width="0.22">40</text>
<text transform="translate(209.94 463.29) scale(0.93 1)" font-size="10.0" text-anchor="middle" font-weight="normal" fill="#262626" stroke="#262626" stroke-width="0.22">50</text>
<text transform="translate(11.03 426.10) rotate(-90) scale(0.78 1)" font-size="10.2" text-anchor="middle" font-weight="normal" fill="#262626" stroke="#262626" stroke-width="0.22">AUC</text>
<text transform="translate(198.30 431.29) scale(0.87 1)" font-size="10.0" text-anchor="start" font-weight="normal" fill="#262626" stroke="#262626" stroke-width="0.22">Train</text>
<text transform="translate(198.30 443.29) scale(0.87 1)" font-size="10.0" text-anchor="start" font-weight="normal" fill="#262626" stroke="#262626" stroke-width="0.22">Test</text>
<text transform="translate(265.25 343.79) scale(0.93 1)" font-size="10.0" text-anchor="end" font-weight="normal" fill="#262626" stroke="#262626" stroke-width="0.22">0.95</text>
<text transform="translate(265.25 366.19) scale(0.93 1)" font-size="10.0" text-anchor="end" font-weight="normal" fill="#262626" stroke="#262626" stroke-width="0.22">0.90</text>
<text transform="translate(265.25 388.79) scale(0.93 1)" font-size="10.0" text-anchor="end" font-weight="normal" fill="#262626" stroke="#262626" stroke-width="0.22">0.85</text>
<text transform="translate(243.75 362.45) rotate(-90) scale(0.87 1)" font-size="10.2" text-anchor="middle" font-weight="normal" fill="#262626" stroke="#262626" stroke-width="0.22">Accuracy</text>
<text transform="translate(424.30 367.09) scale(0.87 1)" font-size="10.0" text-anchor="start" font-weight="normal" fill="#262626" stroke="#262626" stroke-width="0.22">Train</text>
<text transform="translate(424.30 379.09) scale(0.87 1)" font-size="10.0" text-anchor="start" font-weight="normal" fill="#262626" stroke="#262626" stroke-width="0.22">Test</text>
<text transform="translate(265.25 415.79) scale(0.93 1)" font-size="10.0" text-anchor="end" font-weight="normal" fill="#262626" stroke="#262626" stroke-width="0.22">0.975</text>
<text transform="translate(265.25 435.39) scale(0.93 1)" font-size="10.0" text-anchor="end" font-weight="normal" fill="#262626" stroke="#262626" stroke-width="0.22">0.950</text>
<text transform="translate(265.25 453.79) scale(0.93 1)" font-size="10.0" text-anchor="end" font-weight="normal" fill="#262626" stroke="#262626" stroke-width="0.22">0.925</text>
<text transform="translate(277.73 463.29) scale(0.93 1)" font-size="10.0" text-anchor="middle" font-weight="normal" fill="#262626" stroke="#262626" stroke-width="0.22">0</text>
<text transform="translate(309.37 463.29) scale(0.93 1)" font-size="10.0" text-anchor="middle" font-weight="normal" fill="#262626" stroke="#262626" stroke-width="0.22">10</text>
<text transform="translate(341.01 463.29) scale(0.93 1)" font-size="10.0" text-anchor="middle" font-weight="normal" fill="#262626" stroke="#262626" stroke-width="0.22">20</text>
<text transform="translate(372.66 463.29) scale(0.93 1)" font-size="10.0" text-anchor="middle" font-weight="normal" fill="#262626" stroke="#262626" stroke-width="0.22">30</text>
<text transform="translate(404.30 463.29) scale(0.93 1)" font-size="10.0" text-anchor="middle" font-weight="normal" fill="#262626" stroke="#262626" stroke-width="0.22">40</text>
<text transform="translate(435.94 463.29) scale(0.93 1)" font-size="10.0" text-anchor="middle" font-weight="normal" fill="#262626" stroke="#262626" stroke-width="0.22">50</text>
<text transform="translate(237.08 426.10) rotate(-90) scale(0.78 1)" font-size="10.2" text-anchor="middle" font-weight="normal" fill="#262626" stroke="#262626" stroke-width="0.22">AUC</text>
<text transform="translate(424.30 431.29) scale(0.87 1)" font-size="10.0" text-anchor="start" font-weight="normal" fill="#262626" stroke="#262626" stroke-width="0.22">Train</text>
<text transform="translate(424.30 443.29) scale(0.87 1)" font-size="10.0" text-anchor="start" font-weight="normal" fill="#262626" stroke="#262626" stroke-width="0.22">Test</text>
<text transform="translate(480.85 357.19) scale(0.93 1)" font-size="10.0" text-anchor="end" font-weight="normal" fill="#262626" stroke="#262626" stroke-width="0.22">0.8</text>
<text transform="translate(480.85 380.19) scale(0.93 1)" font-size="10.0" text-anchor="end" font-weight="normal" fill="#262626" stroke="#262626" stroke-width="0.22">0.7</text>
<text transform="translate(464.52 362.45) rotate(-90) scale(0.87 1)" font-size="10.2" text-anchor="middle" font-weight="normal" fill="#262626" stroke="#262626" stroke-width="0.22">Accuracy</text>
<text transform="translate(639.80 367.09) scale(0.87 1)" font-size="10.0" text-anchor="start" font-weight="normal" fill="#262626" stroke="#262626" stroke-width="0.22">Train</text>
<text transform="translate(639.80 379.09) scale(0.87 1)" font-size="10.0" text-anchor="start" font-weight="normal" fill="#262626" stroke="#262626" stroke-width="0.22">Test</text>
<text transform="translate(480.85 413.39) scale(0.93 1)" font-size="10.0" text-anchor="end" font-weight="normal" fill="#262626" stroke="#262626" stroke-width="0.22">0.9</text>
<text transform="translate(480.85 436.19) scale(0.93 1)" font-size="10.0" text-anchor="end" font-weight="normal" fill="#262626" stroke="#262626" stroke-width="0.22">0.8</text>
<text transform="translate(493.32 463.29) scale(0.93 1)" font-size="10.0" text-anchor="middle" font-weight="normal" fill="#262626" stroke="#262626" stroke-width="0.22">0</text>
<text transform="translate(524.95 463.29) scale(0.93 1)" font-size="10.0" text-anchor="middle" font-weight="normal" fill="#262626" stroke="#262626" stroke-width="0.22">10</text>
<text transform="translate(556.57 463.29) scale(0.93 1)" font-size="10.0" text-anchor="middle" font-weight="normal" fill="#262626" stroke="#262626" stroke-width="0.22">20</text>
<text transform="translate(588.20 463.29) scale(0.93 1)" font-size="10.0" text-anchor="middle" font-weight="normal" fill="#262626" stroke="#262626" stroke-width="0.22">30</text>
<text transform="translate(619.83 463.29) scale(0.93 1)" font-size="10.0" text-anchor="middle" font-weight="normal" fill="#262626" stroke="#262626" stroke-width="0.22">40</text>
<text transform="translate(651.45 463.29) scale(0.93 1)" font-size="10.0" text-anchor="middle" font-weight="normal" fill="#262626" stroke="#262626" stroke-width="0.22">50</text>
<text transform="translate(464.52 426.10) rotate(-90) scale(0.78 1)" font-size="10.2" text-anchor="middle" font-weight="normal" fill="#262626" stroke="#262626" stroke-width="0.22">AUC</text>
<text transform="translate(639.80 431.29) scale(0.87 1)" font-size="10.0" text-anchor="start" font-weight="normal" fill="#262626" stroke="#262626" stroke-width="0.22">Train</text>
<text transform="translate(639.80 443.29) scale(0.87 1)" font-size="10.0" text-anchor="start" font-weight="normal" fill="#262626" stroke="#262626" stroke-width="0.22">Test</text>
<text transform="translate(0.40 9.60) scale(0.98 1)" font-size="13.4" text-anchor="start" font-weight="bold" fill="#262626">a.</text>
<text transform="translate(227.30 9.30) scale(0.98 1)" font-size="13.4" text-anchor="start" font-weight="bold" fill="#262626">b.</text>
<text transform="translate(453.90 8.70) scale(0.98 1)" font-size="13.4" text-anchor="start" font-weight="bold" fill="#262626">c.</text>
<text transform="translate(0.30 166.10) scale(0.98 1)" font-size="13.4" text-anchor="start" font-weight="bold" fill="#262626">d.</text>
<text transform="translate(227.80 166.60) scale(0.98 1)" font-size="13.4" text-anchor="start" font-weight="bold" fill="#262626">e.</text>
<text transform="translate(455.60 166.40) scale(0.98 1)" font-size="13.4" text-anchor="start" font-weight="bold" fill="#262626">f.</text>
<text transform="translate(0.20 323.60) scale(0.98 1)" font-size="13.4" text-anchor="start" font-weight="bold" fill="#262626">g.</text>
<text transform="translate(227.40 324.10) scale(0.98 1)" font-size="13.4" text-anchor="start" font-weight="bold" fill="#262626">h.</text>
<text transform="translate(455.60 323.40) scale(0.98 1)" font-size="13.4" text-anchor="start" font-weight="bold" fill="#262626">i.</text>
<text transform="translate(130.93 15.40) scale(1.055 1)" font-size="9.8" text-anchor="middle" font-weight="normal" fill="#262626" stroke="#262626" stroke-width="0.22">Degree</text>
<text transform="translate(130.93 158.30) scale(0.88 1)" font-size="9.9" text-anchor="middle" font-weight="normal" fill="#262626" stroke="#262626" stroke-width="0.22">Day</text>
<text transform="translate(350.40 16.40) scale(0.97 1)" font-size="11.0" text-anchor="middle" font-weight="bold" fill="#262626">Closeness</text>
<text transform="translate(355.77 158.30) scale(0.88 1)" font-size="9.9" text-anchor="middle" font-weight="normal" fill="#262626" stroke="#262626" stroke-width="0.22">Day</text>
<text transform="translate(576.02 15.40) scale(1.085 1)" font-size="9.8" text-anchor="middle" font-weight="normal" fill="#262626" stroke="#262626" stroke-width="0.22">Betweenness</text>
<text transform="translate(576.02 158.30) scale(0.88 1)" font-size="9.9" text-anchor="middle" font-weight="normal" fill="#262626" stroke="#262626" stroke-width="0.22">Day</text>
<text transform="translate(134.38 173.40) scale(1.055 1)" font-size="9.8" text-anchor="middle" font-weight="normal" fill="#262626" stroke="#262626" stroke-width="0.22">Degree</text>
<text transform="translate(134.38 315.50) scale(0.88 1)" font-size="9.9" text-anchor="middle" font-weight="normal" fill="#262626" stroke="#262626" stroke-width="0.22">Day</text>
<text transform="translate(360.20 173.40) scale(1.055 1)" font-size="9.8" text-anchor="middle" font-weight="normal" fill="#262626" stroke="#262626" stroke-width="0.22">Closeness</text>
<text transform="translate(360.20 315.50) scale(0.88 1)" font-size="9.9" text-anchor="middle" font-weight="normal" fill="#262626" stroke="#262626" stroke-width="0.22">Day</text>
<text transform="translate(575.50 176.30) scale(1.085 1)" font-size="9.8" text-anchor="middle" font-weight="normal" fill="#262626" stroke="#262626" stroke-width="0.22">Betweenness</text>
<text transform="translate(575.50 317.70) scale(0.88 1)" font-size="9.9" text-anchor="middle" font-weight="normal" fill="#262626" stroke="#262626" stroke-width="0.22">Day</text>
<text transform="translate(133.97 331.30) scale(1.055 1)" font-size="9.8" text-anchor="middle" font-weight="normal" fill="#262626" stroke="#262626" stroke-width="0.22">Degree</text>
<text transform="translate(133.97 473.40) scale(0.88 1)" font-size="9.9" text-anchor="middle" font-weight="normal" fill="#262626" stroke="#262626" stroke-width="0.22">Day</text>
<text transform="translate(360.00 331.30) scale(1.055 1)" font-size="9.8" text-anchor="middle" font-weight="normal" fill="#262626" stroke="#262626" stroke-width="0.22">Closeness</text>
<text transform="translate(360.00 473.40) scale(0.88 1)" font-size="9.9" text-anchor="middle" font-weight="normal" fill="#262626" stroke="#262626" stroke-width="0.22">Day</text>
<text transform="translate(575.55 331.30) scale(1.085 1)" font-size="9.8" text-anchor="middle" font-weight="normal" fill="#262626" stroke="#262626" stroke-width="0.22">Betweenness</text>
<text transform="translate(575.55 473.40) scale(0.88 1)" font-size="9.9" text-anchor="middle" font-weight="normal" fill="#262626" stroke="#262626" stroke-width="0.22">Day</text>
<text transform="translate(676.90 71.75) rotate(90) scale(0.94 1)" font-size="11.4" text-anchor="middle" font-weight="bold" fill="#262626">1-Day Prediction</text>
<text transform="translate(676.90 234.30) rotate(90) scale(0.94 1)" font-size="11.4" text-anchor="middle" font-weight="bold" fill="#262626">5-Day Prediction</text>
<text transform="translate(676.90 392.50) rotate(90) scale(0.94 1)" font-size="11.4" text-anchor="middle" font-weight="bold" fill="#262626">10-Day Prediction</text></g></svg>
</body></html>
